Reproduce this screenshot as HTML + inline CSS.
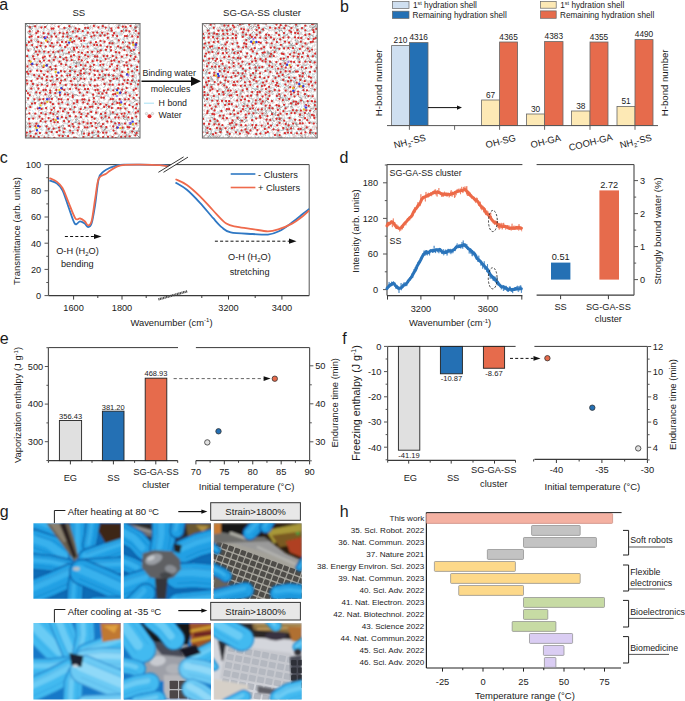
<!DOCTYPE html>
<html><head><meta charset="utf-8"><style>
html,body{margin:0;padding:0;background:#fff;width:685px;height:701px;overflow:hidden;}
svg{display:block;}
text{font-family:"Liberation Sans", sans-serif;}
</style></head><body>
<svg width="685" height="701" viewBox="0 0 685 701" font-family='"Liberation Sans", sans-serif'><defs>
<clipPath id="clipc"><rect x="48.5" y="162" width="261" height="134"/></clipPath>
</defs><defs>
<clipPath id="clipbox1"><rect x="25.4" y="23.5" width="114.6" height="114.5"/></clipPath>
<clipPath id="clipbox2"><rect x="202.4" y="23.6" width="114.79999999999998" height="114.4"/></clipPath>
<filter id="blur1" x="-5%" y="-5%" width="110%" height="110%"><feGaussianBlur stdDeviation="1.6"/></filter>
<filter id="blur2" x="-5%" y="-5%" width="110%" height="110%"><feGaussianBlur stdDeviation="0.8"/></filter>
</defs><text x="-0.80" y="10.00" font-size="16" text-anchor="start" fill="#1a1a1a" >a</text>
<text x="340.00" y="12.40" font-size="16" text-anchor="start" fill="#1a1a1a" >b</text>
<text x="-0.30" y="163.00" font-size="16" text-anchor="start" fill="#1a1a1a" >c</text>
<text x="339.60" y="163.00" font-size="16" text-anchor="start" fill="#1a1a1a" >d</text>
<text x="-0.30" y="343.60" font-size="16" text-anchor="start" fill="#1a1a1a" >e</text>
<text x="342.20" y="343.60" font-size="16" text-anchor="start" fill="#1a1a1a" >f</text>
<text x="-0.30" y="516.50" font-size="16" text-anchor="start" fill="#1a1a1a" >g</text>
<text x="339.80" y="517.00" font-size="16" text-anchor="start" fill="#1a1a1a" >h</text>
<rect x="392.40" y="1.60" width="16.60" height="6.80" fill="#cfdff0" stroke="#666" stroke-width="0.7" />
<rect x="392.40" y="11.20" width="16.60" height="7.20" fill="#2470b4" stroke="#666" stroke-width="0.7" />
<text x="413.00" y="8.00" font-size="8.2" text-anchor="start" fill="#1a1a1a" >1<tspan font-size="5.5" dy="-3">st</tspan><tspan dy="3"> hydration shell</tspan></text>
<text x="412.50" y="17.80" font-size="8.2" text-anchor="start" fill="#1a1a1a" >Remaining hydration shell</text>
<rect x="540.50" y="1.40" width="15.70" height="6.80" fill="#fde9b5" stroke="#666" stroke-width="0.7" />
<rect x="540.50" y="10.90" width="15.70" height="7.40" fill="#e66b4c" stroke="#666" stroke-width="0.7" />
<text x="560.30" y="8.00" font-size="8.2" text-anchor="start" fill="#1a1a1a" >1<tspan font-size="5.5" dy="-3">st</tspan><tspan dy="3"> hydration shell</tspan></text>
<text x="560.00" y="17.80" font-size="8.2" text-anchor="start" fill="#1a1a1a" >Remaining hydration shell</text>
<rect x="391.60" y="45.60" width="17.80" height="80.00" fill="#cfdff0" stroke="#666" stroke-width="0.8" />
<text x="400.50" y="43.40" font-size="8.3" text-anchor="middle" fill="#1a1a1a" >210</text>
<rect x="409.40" y="42.60" width="18.60" height="83.00" fill="#2470b4" stroke="#666" stroke-width="0.8" />
<text x="418.70" y="40.40" font-size="8.3" text-anchor="middle" fill="#1a1a1a" >4316</text>
<rect x="481.60" y="100.00" width="18.00" height="25.60" fill="#fde9b5" stroke="#666" stroke-width="0.8" />
<text x="490.60" y="97.80" font-size="8.3" text-anchor="middle" fill="#1a1a1a" >67</text>
<rect x="499.60" y="42.00" width="18.00" height="83.60" fill="#e66b4c" stroke="#666" stroke-width="0.8" />
<text x="508.60" y="39.80" font-size="8.3" text-anchor="middle" fill="#1a1a1a" >4365</text>
<rect x="526.60" y="114.00" width="18.00" height="11.60" fill="#fde9b5" stroke="#666" stroke-width="0.8" />
<text x="535.60" y="111.80" font-size="8.3" text-anchor="middle" fill="#1a1a1a" >30</text>
<rect x="544.60" y="41.60" width="18.40" height="84.00" fill="#e66b4c" stroke="#666" stroke-width="0.8" />
<text x="553.80" y="39.40" font-size="8.3" text-anchor="middle" fill="#1a1a1a" >4383</text>
<rect x="571.60" y="111.00" width="18.40" height="14.60" fill="#fde9b5" stroke="#666" stroke-width="0.8" />
<text x="580.80" y="108.80" font-size="8.3" text-anchor="middle" fill="#1a1a1a" >38</text>
<rect x="590.00" y="42.00" width="18.00" height="83.60" fill="#e66b4c" stroke="#666" stroke-width="0.8" />
<text x="599.00" y="39.80" font-size="8.3" text-anchor="middle" fill="#1a1a1a" >4355</text>
<rect x="617.00" y="106.40" width="18.00" height="19.20" fill="#fde9b5" stroke="#666" stroke-width="0.8" />
<text x="626.00" y="104.20" font-size="8.3" text-anchor="middle" fill="#1a1a1a" >51</text>
<rect x="635.00" y="39.60" width="18.00" height="86.00" fill="#e66b4c" stroke="#666" stroke-width="0.8" />
<text x="644.00" y="37.40" font-size="8.3" text-anchor="middle" fill="#1a1a1a" >4490</text>
<line x1="387.00" y1="125.60" x2="658.00" y2="125.60" stroke="#555" stroke-width="1" />
<line x1="409.40" y1="125.60" x2="409.40" y2="129.80" stroke="#555" stroke-width="0.9" />
<line x1="454.60" y1="125.60" x2="454.60" y2="129.80" stroke="#555" stroke-width="0.9" />
<line x1="499.60" y1="125.60" x2="499.60" y2="129.80" stroke="#555" stroke-width="0.9" />
<line x1="544.60" y1="125.60" x2="544.60" y2="129.80" stroke="#555" stroke-width="0.9" />
<line x1="590.00" y1="125.60" x2="590.00" y2="129.80" stroke="#555" stroke-width="0.9" />
<line x1="635.00" y1="125.60" x2="635.00" y2="129.80" stroke="#555" stroke-width="0.9" />
<line x1="428.00" y1="107.60" x2="458.00" y2="107.60" stroke="#111" stroke-width="1" />
<polygon points="462.00,107.60 457.00,105.40 457.00,109.80" fill="#111"/>
<text x="382.30" y="82.80" font-size="9.6" text-anchor="middle" fill="#1a1a1a" transform="rotate(-90 382.3 82.8)" >H-bond number</text>
<text x="668.50" y="82.80" font-size="9.6" text-anchor="middle" fill="#1a1a1a" transform="rotate(-90 668.5 82.8)" >H-bond number</text>
<text x="410.50" y="144.50" font-size="9.4" text-anchor="middle" fill="#1a1a1a" transform="rotate(-14.5 410.50 144.50)">NH<tspan font-size="6" dy="2.5">2</tspan><tspan dy="-2.5">-SS</tspan></text>
<text x="501.50" y="144.50" font-size="9.4" text-anchor="middle" fill="#1a1a1a" transform="rotate(-14.5 501.50 144.50)">OH-SG</text>
<text x="546.50" y="144.50" font-size="9.4" text-anchor="middle" fill="#1a1a1a" transform="rotate(-14.5 546.50 144.50)">OH-GA</text>
<text x="591.50" y="145.50" font-size="9.4" text-anchor="middle" fill="#1a1a1a" transform="rotate(-14.5 591.50 145.50)">COOH-GA</text>
<text x="636.50" y="144.50" font-size="9.4" text-anchor="middle" fill="#1a1a1a" transform="rotate(-14.5 636.50 144.50)">NH<tspan font-size="6" dy="2.5">2</tspan><tspan dy="-2.5">-SS</tspan></text>
<line x1="48.50" y1="164.60" x2="309.20" y2="164.60" stroke="#3a3a3a" stroke-width="1" />
<line x1="48.50" y1="164.60" x2="48.50" y2="295.60" stroke="#555" stroke-width="1.2" />
<line x1="48.50" y1="295.60" x2="309.20" y2="295.60" stroke="#3a3a3a" stroke-width="1.2" />
<line x1="309.20" y1="164.60" x2="309.20" y2="295.60" stroke="#555" stroke-width="1" />
<line x1="44.50" y1="295.60" x2="48.50" y2="295.60" stroke="#555" stroke-width="1" />
<text x="41.20" y="298.90" font-size="9.2" text-anchor="end" fill="#1a1a1a" >0</text>
<line x1="46.30" y1="282.50" x2="48.50" y2="282.50" stroke="#555" stroke-width="1" />
<line x1="44.50" y1="269.40" x2="48.50" y2="269.40" stroke="#555" stroke-width="1" />
<text x="41.20" y="272.70" font-size="9.2" text-anchor="end" fill="#1a1a1a" >20</text>
<line x1="46.30" y1="256.30" x2="48.50" y2="256.30" stroke="#555" stroke-width="1" />
<line x1="44.50" y1="243.20" x2="48.50" y2="243.20" stroke="#555" stroke-width="1" />
<text x="41.20" y="246.50" font-size="9.2" text-anchor="end" fill="#1a1a1a" >40</text>
<line x1="46.30" y1="230.10" x2="48.50" y2="230.10" stroke="#555" stroke-width="1" />
<line x1="44.50" y1="217.00" x2="48.50" y2="217.00" stroke="#555" stroke-width="1" />
<text x="41.20" y="220.30" font-size="9.2" text-anchor="end" fill="#1a1a1a" >60</text>
<line x1="46.30" y1="203.90" x2="48.50" y2="203.90" stroke="#555" stroke-width="1" />
<line x1="44.50" y1="190.80" x2="48.50" y2="190.80" stroke="#555" stroke-width="1" />
<text x="41.20" y="194.10" font-size="9.2" text-anchor="end" fill="#1a1a1a" >80</text>
<line x1="46.30" y1="177.70" x2="48.50" y2="177.70" stroke="#555" stroke-width="1" />
<line x1="44.50" y1="164.60" x2="48.50" y2="164.60" stroke="#555" stroke-width="1" />
<text x="41.20" y="167.90" font-size="9.2" text-anchor="end" fill="#1a1a1a" >100</text>
<line x1="73.60" y1="295.60" x2="73.60" y2="299.60" stroke="#3a3a3a" stroke-width="1" />
<text x="73.60" y="310.80" font-size="9.2" text-anchor="middle" fill="#1a1a1a" >1600</text>
<line x1="122.00" y1="295.60" x2="122.00" y2="299.60" stroke="#3a3a3a" stroke-width="1" />
<text x="122.00" y="310.80" font-size="9.2" text-anchor="middle" fill="#1a1a1a" >1800</text>
<line x1="228.50" y1="295.60" x2="228.50" y2="299.60" stroke="#3a3a3a" stroke-width="1" />
<text x="228.50" y="310.80" font-size="9.2" text-anchor="middle" fill="#1a1a1a" >3200</text>
<line x1="281.90" y1="295.60" x2="281.90" y2="299.60" stroke="#3a3a3a" stroke-width="1" />
<text x="281.90" y="310.80" font-size="9.2" text-anchor="middle" fill="#1a1a1a" >3400</text>
<line x1="97.80" y1="295.60" x2="97.80" y2="298.00" stroke="#3a3a3a" stroke-width="1" />
<line x1="146.20" y1="295.60" x2="146.20" y2="298.00" stroke="#3a3a3a" stroke-width="1" />
<line x1="201.80" y1="295.60" x2="201.80" y2="298.00" stroke="#3a3a3a" stroke-width="1" />
<line x1="255.20" y1="295.60" x2="255.20" y2="298.00" stroke="#3a3a3a" stroke-width="1" />
<text x="19.90" y="231.00" font-size="9.5" text-anchor="middle" fill="#1a1a1a" transform="rotate(-90 19.9 231.0)" >Transmittance (arb. units)</text>
<text x="171.50" y="325.60" font-size="9.4" text-anchor="middle" fill="#1a1a1a" >Wavenumber (cm<tspan font-size="6" dy="-3.2">-1</tspan><tspan dy="3.2">)</tspan></text>
<g clip-path="url(#clipc)">
<path d="M49.40,180.40 C50.62,180.90 54.52,181.73 56.70,183.40 C58.88,185.07 60.55,186.52 62.50,190.40 C64.45,194.28 66.35,201.17 68.40,206.70 C70.45,212.23 72.87,221.17 74.80,223.60 C76.73,226.03 78.35,221.30 80.00,221.30 C81.65,221.30 83.33,222.62 84.70,223.60 C86.07,224.58 87.03,227.28 88.20,227.20 C89.37,227.12 90.53,226.90 91.70,223.10 C92.87,219.30 94.03,211.80 95.20,204.40 C96.37,197.00 97.33,184.15 98.70,178.70 C100.07,173.25 101.45,173.55 103.40,171.70 C105.35,169.85 108.07,168.67 110.40,167.60 C112.73,166.53 114.97,165.78 117.40,165.30 C119.83,164.82 121.23,164.82 125.00,164.70 C128.77,164.58 134.17,164.55 140.00,164.60 C145.83,164.65 154.83,164.77 160.00,165.00 C165.17,165.23 169.17,165.83 171.00,166.00" stroke="#2f78c4" stroke-width="1.8" fill="none" stroke-linejoin="round"/>
<path d="M175.50,182.50 C177.40,183.70 182.82,186.32 186.90,189.70 C190.98,193.08 195.62,198.05 200.00,202.80 C204.38,207.55 209.55,214.10 213.20,218.20 C216.85,222.30 218.98,225.03 221.90,227.40 C224.82,229.77 225.58,231.30 230.70,232.40 C235.82,233.50 246.40,233.63 252.60,234.00 C258.80,234.37 263.52,235.05 267.90,234.60 C272.28,234.15 274.88,233.30 278.90,231.30 C282.92,229.30 287.98,225.52 292.00,222.60 C296.02,219.68 300.13,216.07 303.00,213.80 C305.87,211.53 308.17,209.80 309.20,209.00" stroke="#2f78c4" stroke-width="1.8" fill="none" stroke-linejoin="round"/>
<path d="M49.40,178.10 C50.62,178.68 54.52,179.95 56.70,181.60 C58.88,183.25 60.55,184.60 62.50,188.00 C64.45,191.40 66.25,196.93 68.40,202.00 C70.55,207.07 73.47,215.67 75.40,218.40 C77.33,221.13 78.45,217.92 80.00,218.40 C81.55,218.88 83.33,220.13 84.70,221.30 C86.07,222.47 87.03,225.50 88.20,225.40 C89.37,225.30 90.53,225.18 91.70,220.70 C92.87,216.22 94.03,205.50 95.20,198.50 C96.37,191.50 96.95,182.78 98.70,178.70 C100.45,174.62 103.75,175.37 105.70,174.00 C107.65,172.63 108.45,171.77 110.40,170.50 C112.35,169.23 114.97,167.33 117.40,166.40 C119.83,165.47 121.23,165.20 125.00,164.90 C128.77,164.60 134.17,164.55 140.00,164.60 C145.83,164.65 154.83,164.80 160.00,165.20 C165.17,165.60 169.17,166.70 171.00,167.00" stroke="#ef6a4c" stroke-width="1.8" fill="none" stroke-linejoin="round"/>
<path d="M175.50,179.20 C177.40,180.15 182.82,182.05 186.90,184.90 C190.98,187.75 195.62,192.03 200.00,196.30 C204.38,200.57 208.82,205.95 213.20,210.50 C217.58,215.05 222.28,220.87 226.30,223.60 C230.32,226.33 232.92,225.98 237.30,226.90 C241.68,227.82 247.50,228.37 252.60,229.10 C257.70,229.83 263.52,231.30 267.90,231.30 C272.28,231.30 274.88,230.38 278.90,229.10 C282.92,227.82 287.98,225.78 292.00,223.60 C296.02,221.42 300.13,218.18 303.00,216.00 C305.87,213.82 308.17,211.42 309.20,210.50" stroke="#ef6a4c" stroke-width="1.8" fill="none" stroke-linejoin="round"/>
</g>
<polygon points="158.4,172.3 183.6,156.9 188,157.1 163.5,172.3" fill="#fff"/>
<line x1="158.40" y1="172.30" x2="183.60" y2="156.90" stroke="#222" stroke-width="0.9" />
<line x1="163.50" y1="172.30" x2="188.00" y2="157.10" stroke="#222" stroke-width="0.9" />
<line x1="158.40" y1="299.40" x2="187.60" y2="291.20" stroke="#444" stroke-width="2.3" stroke-dasharray="1.1 0.5"/>
<line x1="230.70" y1="174.00" x2="255.40" y2="174.00" stroke="#2f78c4" stroke-width="1.6" />
<line x1="230.70" y1="187.50" x2="255.40" y2="187.50" stroke="#ef6a4c" stroke-width="1.6" />
<text x="258.00" y="177.90" font-size="9.3" text-anchor="start" fill="#1a1a1a" >- Clusters</text>
<text x="258.00" y="191.40" font-size="9.3" text-anchor="start" fill="#1a1a1a" >+ Clusters</text>
<line x1="64.90" y1="236.50" x2="94.00" y2="236.50" stroke="#111" stroke-width="1" stroke-dasharray="3 2.2"/>
<polygon points="101.50,236.50 94.00,233.90 94.00,239.10" fill="#111"/>
<line x1="214.90" y1="241.20" x2="289.00" y2="241.20" stroke="#111" stroke-width="1" stroke-dasharray="3 2.2"/>
<polygon points="296.50,241.20 289.00,238.60 289.00,243.80" fill="#111"/>
<text x="77.50" y="254.00" font-size="9.2" text-anchor="middle" fill="#1a1a1a" >O-H (H<tspan font-size="6" dy="2.2">2</tspan><tspan dy="-2.2">O)</tspan></text>
<text x="77.30" y="267.00" font-size="9.2" text-anchor="middle" fill="#1a1a1a" >bending</text>
<text x="249.40" y="259.70" font-size="9.2" text-anchor="middle" fill="#1a1a1a" >O-H (H<tspan font-size="6" dy="2.2">2</tspan><tspan dy="-2.2">O)</tspan></text>
<text x="249.60" y="275.00" font-size="9.2" text-anchor="middle" fill="#1a1a1a" >stretching</text>
<line x1="387.00" y1="164.60" x2="522.40" y2="164.60" stroke="#3a3a3a" stroke-width="1" />
<line x1="387.00" y1="164.60" x2="387.00" y2="295.60" stroke="#555" stroke-width="1.2" />
<line x1="387.00" y1="295.60" x2="522.40" y2="295.60" stroke="#3a3a3a" stroke-width="1.2" />
<line x1="383.00" y1="289.60" x2="387.00" y2="289.60" stroke="#555" stroke-width="1" />
<text x="378.00" y="292.90" font-size="9.2" text-anchor="end" fill="#1a1a1a" >0</text>
<line x1="384.80" y1="271.80" x2="387.00" y2="271.80" stroke="#555" stroke-width="1" />
<line x1="383.00" y1="254.00" x2="387.00" y2="254.00" stroke="#555" stroke-width="1" />
<text x="378.00" y="257.30" font-size="9.2" text-anchor="end" fill="#1a1a1a" >60</text>
<line x1="384.80" y1="236.20" x2="387.00" y2="236.20" stroke="#555" stroke-width="1" />
<line x1="383.00" y1="218.40" x2="387.00" y2="218.40" stroke="#555" stroke-width="1" />
<text x="378.00" y="221.70" font-size="9.2" text-anchor="end" fill="#1a1a1a" >120</text>
<line x1="384.80" y1="200.61" x2="387.00" y2="200.61" stroke="#555" stroke-width="1" />
<line x1="383.00" y1="182.81" x2="387.00" y2="182.81" stroke="#555" stroke-width="1" />
<text x="378.00" y="186.11" font-size="9.2" text-anchor="end" fill="#1a1a1a" >180</text>
<line x1="384.80" y1="165.01" x2="387.00" y2="165.01" stroke="#555" stroke-width="1" />
<line x1="387.50" y1="295.60" x2="387.50" y2="299.60" stroke="#3a3a3a" stroke-width="1" />
<line x1="420.90" y1="295.60" x2="420.90" y2="299.60" stroke="#3a3a3a" stroke-width="1" />
<line x1="454.30" y1="295.60" x2="454.30" y2="299.60" stroke="#3a3a3a" stroke-width="1" />
<line x1="487.90" y1="295.60" x2="487.90" y2="299.60" stroke="#3a3a3a" stroke-width="1" />
<line x1="521.80" y1="295.60" x2="521.80" y2="299.60" stroke="#3a3a3a" stroke-width="1" />
<text x="420.90" y="311.50" font-size="9.2" text-anchor="middle" fill="#1a1a1a" >3200</text>
<text x="487.90" y="311.50" font-size="9.2" text-anchor="middle" fill="#1a1a1a" >3600</text>
<text x="450.10" y="326.30" font-size="9.4" text-anchor="middle" fill="#1a1a1a" >Wavenumber (cm<tspan font-size="6" dy="-3.2">-1</tspan><tspan dy="3.2">)</tspan></text>
<text x="359.00" y="231.00" font-size="9.5" text-anchor="middle" fill="#1a1a1a" transform="rotate(-90 359.0 231.0)" >Intensity (arb. units)</text>
<text x="389.60" y="175.60" font-size="8.9" text-anchor="start" fill="#1a1a1a" >SG-GA-SS cluster</text>
<text x="389.60" y="244.40" font-size="8.9" text-anchor="start" fill="#1a1a1a" >SS</text>
<path d="M387.00,225.75 L388.20,223.27 L389.40,223.38 L390.60,222.69 L391.80,221.68 L393.00,222.52 L394.20,224.15 L395.40,225.85 L396.60,227.46 L397.80,227.65 L399.00,228.17 L400.20,228.37 L401.40,227.46 L402.60,225.87 L403.80,224.37 L405.00,222.85 L406.20,221.86 L407.40,220.37 L408.60,219.15 L409.80,217.52 L411.00,216.88 L412.20,214.94 L413.40,212.33 L414.60,210.10 L415.80,208.84 L417.00,207.36 L418.20,205.09 L419.40,204.22 L420.60,201.86 L421.80,199.22 L423.00,197.81 L424.20,197.10 L425.40,196.56 L426.60,195.93 L427.80,195.21 L429.00,194.92 L430.20,194.34 L431.40,193.75 L432.60,193.19 L433.80,192.21 L435.00,192.40 L436.20,192.26 L437.40,192.04 L438.60,192.51 L439.80,192.79 L441.00,193.64 L442.20,193.77 L443.40,194.34 L444.60,194.01 L445.80,194.25 L447.00,195.02 L448.20,194.10 L449.40,194.38 L450.60,194.38 L451.80,193.97 L453.00,193.40 L454.20,193.35 L455.40,192.10 L456.60,191.75 L457.80,191.40 L459.00,191.14 L460.20,190.88 L461.40,190.50 L462.60,190.47 L463.80,189.92 L465.00,189.52 L466.20,190.62 L467.40,192.03 L468.60,193.32 L469.80,194.79 L471.00,195.75 L472.20,197.17 L473.40,197.79 L474.60,199.34 L475.80,200.24 L477.00,200.79 L478.20,202.09 L479.40,204.24 L480.60,205.75 L481.80,207.12 L483.00,208.02 L484.20,209.20 L485.40,211.85 L486.60,213.86 L487.80,214.00 L489.00,215.64 L490.20,217.41 L491.40,219.07 L492.60,220.69 L493.80,221.72 L495.00,222.57 L496.20,222.96 L497.40,224.05 L498.60,224.96 L499.80,225.93 L501.00,225.98 L502.20,226.64 L503.40,226.51 L504.60,226.28 L505.80,226.67 L507.00,227.20 L508.20,227.97 L509.40,228.49 L510.60,228.33 L511.80,228.04 L513.00,228.07 L514.20,228.27 L515.40,228.32 L516.60,227.52 L517.80,227.88 L519.00,227.55 L520.20,227.77 L521.40,228.19" stroke="#ec6a48" stroke-width="3.0" fill="none" stroke-linejoin="round" stroke-linecap="round"/>
<path d="M387.00,225.69 L387.30,227.21 L387.60,223.32 L387.90,222.93 L388.20,222.28 L388.50,225.59 L388.80,225.53 L389.10,226.02 L389.40,223.32 L389.70,222.86 L390.00,224.80 L390.30,222.07 L390.60,224.27 L390.90,223.37 L391.20,220.37 L391.50,221.60 L391.80,221.45 L392.10,225.06 L392.40,227.16 L392.70,222.32 L393.00,222.55 L393.30,218.44 L393.60,223.41 L393.90,223.74 L394.20,222.11 L394.50,225.85 L394.80,221.99 L395.10,224.99 L395.40,226.11 L395.70,223.97 L396.00,228.15 L396.30,228.96 L396.60,224.82 L396.90,224.44 L397.20,228.87 L397.50,227.81 L397.80,225.35 L398.10,227.20 L398.40,227.77 L398.70,227.58 L399.00,229.74 L399.30,228.70 L399.60,231.41 L399.90,231.07 L400.20,229.66 L400.50,230.12 L400.80,230.59 L401.10,229.26 L401.40,225.13 L401.70,228.89 L402.00,226.95 L402.30,229.42 L402.60,226.05 L402.90,226.41 L403.20,225.34 L403.50,227.88 L403.80,224.71 L404.10,223.17 L404.40,224.01 L404.70,222.24 L405.00,223.15 L405.30,222.59 L405.60,222.52 L405.90,225.37 L406.20,221.09 L406.50,221.21 L406.80,220.51 L407.10,221.75 L407.40,218.12 L407.70,219.14 L408.00,219.71 L408.30,220.34 L408.60,219.06 L408.90,218.18 L409.20,217.08 L409.50,219.40 L409.80,220.26 L410.10,218.28 L410.40,217.73 L410.70,218.16 L411.00,215.09 L411.30,215.95 L411.60,215.57 L411.90,216.37 L412.20,214.88 L412.50,212.28 L412.80,215.87 L413.10,216.17 L413.40,211.83 L413.70,212.74 L414.00,212.22 L414.30,212.63 L414.60,207.29 L414.90,212.92 L415.20,208.77 L415.50,211.74 L415.80,208.99 L416.10,207.44 L416.40,207.68 L416.70,209.42 L417.00,205.72 L417.30,205.82 L417.60,205.03 L417.90,202.15 L418.20,207.56 L418.50,205.71 L418.80,204.58 L419.10,206.49 L419.40,202.41 L419.70,203.26 L420.00,206.18 L420.30,204.12 L420.60,197.63 L420.90,194.24 L421.20,198.10 L421.50,201.56 L421.80,198.32 L422.10,198.24 L422.40,199.33 L422.70,196.00 L423.00,198.21 L423.30,199.12 L423.60,197.97 L423.90,197.90 L424.20,195.95 L424.50,198.29 L424.80,196.44 L425.10,199.70 L425.40,201.44 L425.70,195.05 L426.00,191.96 L426.30,195.41 L426.60,196.64 L426.90,197.64 L427.20,197.28 L427.50,193.91 L427.80,193.70 L428.10,197.50 L428.40,192.74 L428.70,197.09 L429.00,194.49 L429.30,196.26 L429.60,195.75 L429.90,195.67 L430.20,195.90 L430.50,192.41 L430.80,194.32 L431.10,193.77 L431.40,194.33 L431.70,196.20 L432.00,193.20 L432.30,192.07 L432.60,191.80 L432.90,192.34 L433.20,194.11 L433.50,190.86 L433.80,194.41 L434.10,193.06 L434.40,191.97 L434.70,189.71 L435.00,192.86 L435.30,193.79 L435.60,189.44 L435.90,194.64 L436.20,195.39 L436.50,192.78 L436.80,193.02 L437.10,196.60 L437.40,194.38 L437.70,190.19 L438.00,192.25 L438.30,192.13 L438.60,192.22 L438.90,188.04 L439.20,194.06 L439.50,191.25 L439.80,193.10 L440.10,192.83 L440.40,194.99 L440.70,192.97 L441.00,192.13 L441.30,194.69 L441.60,196.72 L441.90,193.12 L442.20,196.37 L442.50,194.04 L442.80,192.97 L443.10,196.96 L443.40,192.78 L443.70,196.14 L444.00,193.30 L444.30,194.99 L444.60,191.66 L444.90,192.22 L445.20,196.16 L445.50,194.37 L445.80,194.32 L446.10,193.86 L446.40,195.71 L446.70,192.44 L447.00,192.90 L447.30,194.27 L447.60,193.09 L447.90,192.93 L448.20,193.96 L448.50,193.79 L448.80,193.79 L449.10,197.41 L449.40,196.30 L449.70,196.65 L450.00,194.46 L450.30,193.41 L450.60,191.62 L450.90,193.50 L451.20,190.17 L451.50,192.99 L451.80,195.42 L452.10,196.72 L452.40,195.41 L452.70,191.65 L453.00,194.34 L453.30,192.05 L453.60,194.79 L453.90,192.94 L454.20,194.98 L454.50,197.93 L454.80,194.94 L455.10,197.20 L455.40,192.44 L455.70,191.61 L456.00,194.57 L456.30,195.20 L456.60,190.69 L456.90,191.76 L457.20,188.94 L457.50,191.24 L457.80,193.09 L458.10,191.10 L458.40,189.92 L458.70,188.69 L459.00,191.84 L459.30,192.21 L459.60,191.76 L459.90,191.08 L460.20,188.46 L460.50,194.19 L460.80,190.35 L461.10,190.14 L461.40,191.89 L461.70,186.84 L462.00,190.67 L462.30,190.21 L462.60,191.17 L462.90,193.05 L463.20,191.04 L463.50,186.91 L463.80,189.28 L464.10,190.35 L464.40,189.92 L464.70,187.06 L465.00,186.36 L465.30,191.02 L465.60,190.57 L465.90,190.26 L466.20,187.34 L466.50,194.38 L466.80,186.04 L467.10,191.17 L467.40,196.00 L467.70,192.08 L468.00,193.19 L468.30,190.79 L468.60,195.90 L468.90,191.20 L469.20,194.73 L469.50,194.83 L469.80,192.79 L470.10,196.57 L470.40,192.71 L470.70,194.18 L471.00,195.69 L471.30,195.16 L471.60,197.05 L471.90,198.50 L472.20,196.61 L472.50,196.14 L472.80,196.83 L473.10,197.10 L473.40,199.33 L473.70,198.13 L474.00,199.21 L474.30,198.78 L474.60,197.73 L474.90,201.41 L475.20,198.37 L475.50,200.37 L475.80,203.07 L476.10,198.65 L476.40,200.41 L476.70,197.59 L477.00,199.82 L477.30,198.13 L477.60,200.68 L477.90,200.64 L478.20,202.34 L478.50,205.54 L478.80,203.79 L479.10,205.03 L479.40,204.14 L479.70,204.22 L480.00,203.35 L480.30,201.73 L480.60,205.88 L480.90,209.10 L481.20,207.12 L481.50,205.49 L481.80,210.26 L482.10,206.82 L482.40,206.78 L482.70,205.66 L483.00,206.19 L483.30,207.75 L483.60,212.27 L483.90,208.24 L484.20,207.24 L484.50,208.46 L484.80,210.28 L485.10,208.25 L485.40,212.09 L485.70,213.88 L486.00,213.76 L486.30,214.43 L486.60,211.41 L486.90,210.37 L487.20,215.72 L487.50,215.96 L487.80,211.08 L488.10,214.95 L488.40,214.97 L488.70,215.92 L489.00,216.03 L489.30,215.38 L489.60,216.95 L489.90,217.59 L490.20,217.32 L490.50,214.34 L490.80,212.75 L491.10,217.17 L491.40,215.96 L491.70,219.97 L492.00,221.05 L492.30,220.91 L492.60,219.99 L492.90,220.97 L493.20,223.34 L493.50,220.10 L493.80,223.47 L494.10,223.26 L494.40,222.48 L494.70,224.94 L495.00,221.21 L495.30,224.04 L495.60,220.64 L495.90,221.40 L496.20,220.95 L496.50,223.73 L496.80,221.24 L497.10,223.47 L497.40,221.89 L497.70,226.23 L498.00,227.72 L498.30,224.99 L498.60,228.09 L498.90,226.26 L499.20,229.63 L499.50,225.84 L499.80,222.94 L500.10,228.62 L500.40,225.53 L500.70,223.89 L501.00,224.74 L501.30,222.85 L501.60,225.71 L501.90,224.31 L502.20,229.46 L502.50,228.00 L502.80,223.17 L503.10,223.62 L503.40,225.43 L503.70,222.84 L504.00,226.22 L504.30,226.19 L504.60,224.82 L504.90,225.48 L505.20,227.71 L505.50,229.42 L505.80,229.51 L506.10,226.48 L506.40,228.16 L506.70,225.50 L507.00,227.98 L507.30,225.07 L507.60,228.55 L507.90,225.18 L508.20,226.14 L508.50,228.16 L508.80,229.22 L509.10,225.47 L509.40,227.47 L509.70,228.40 L510.00,228.62 L510.30,226.49 L510.60,228.51 L510.90,227.30 L511.20,230.53 L511.50,228.99 L511.80,225.52 L512.10,223.70 L512.40,228.19 L512.70,230.03 L513.00,228.40 L513.30,229.63 L513.60,227.07 L513.90,225.71 L514.20,229.69 L514.50,228.37 L514.80,229.45 L515.10,225.82 L515.40,228.66 L515.70,226.76 L516.00,229.31 L516.30,226.50 L516.60,226.36 L516.90,226.41 L517.20,229.86 L517.50,227.54 L517.80,226.44 L518.10,225.64 L518.40,225.91 L518.70,230.54 L519.00,224.10 L519.30,225.99 L519.60,228.97 L519.90,229.75 L520.20,227.48 L520.50,229.27 L520.80,229.51 L521.10,230.17 L521.40,228.28 L521.70,231.41" stroke="#ec6a48" stroke-width="0.6" fill="none" stroke-linejoin="round"/>
<path d="M387.00,288.46 L388.20,286.94 L389.40,285.87 L390.60,284.71 L391.80,284.30 L393.00,283.23 L394.20,283.76 L395.40,285.64 L396.60,286.58 L397.80,287.63 L399.00,288.29 L400.20,287.98 L401.40,287.57 L402.60,286.52 L403.80,285.19 L405.00,284.79 L406.20,283.77 L407.40,282.35 L408.60,280.48 L409.80,279.19 L411.00,277.60 L412.20,275.77 L413.40,273.55 L414.60,271.57 L415.80,269.54 L417.00,266.32 L418.20,264.25 L419.40,262.19 L420.60,260.00 L421.80,257.45 L423.00,255.23 L424.20,253.73 L425.40,252.56 L426.60,251.86 L427.80,252.67 L429.00,252.26 L430.20,250.88 L431.40,250.61 L432.60,250.81 L433.80,250.53 L435.00,250.63 L436.20,249.65 L437.40,249.75 L438.60,249.99 L439.80,249.37 L441.00,250.51 L442.20,252.09 L443.40,252.16 L444.60,252.39 L445.80,252.47 L447.00,251.83 L448.20,250.72 L449.40,250.68 L450.60,251.22 L451.80,250.91 L453.00,250.12 L454.20,249.68 L455.40,248.09 L456.60,246.89 L457.80,246.69 L459.00,246.43 L460.20,246.41 L461.40,245.60 L462.60,245.65 L463.80,244.66 L465.00,245.54 L466.20,246.49 L467.40,247.59 L468.60,248.94 L469.80,249.39 L471.00,250.60 L472.20,251.71 L473.40,253.16 L474.60,253.78 L475.80,256.12 L477.00,258.53 L478.20,259.33 L479.40,260.67 L480.60,261.51 L481.80,263.17 L483.00,264.59 L484.20,265.83 L485.40,267.49 L486.60,268.68 L487.80,269.81 L489.00,272.14 L490.20,274.39 L491.40,275.91 L492.60,277.00 L493.80,278.58 L495.00,279.70 L496.20,281.18 L497.40,282.04 L498.60,284.30 L499.80,285.13 L501.00,286.49 L502.20,287.04 L503.40,286.52 L504.60,287.67 L505.80,288.06 L507.00,289.17 L508.20,290.08 L509.40,289.01 L510.60,289.32 L511.80,289.48 L513.00,289.57 L514.20,289.46 L515.40,288.58 L516.60,288.67 L517.80,288.93 L519.00,288.83 L520.20,288.67 L521.40,288.75" stroke="#2a74bb" stroke-width="3.0" fill="none" stroke-linejoin="round" stroke-linecap="round"/>
<path d="M387.00,288.75 L387.30,286.67 L387.60,287.17 L387.90,288.16 L388.20,287.49 L388.50,284.50 L388.80,285.55 L389.10,281.95 L389.40,287.39 L389.70,284.61 L390.00,285.70 L390.30,283.14 L390.60,284.54 L390.90,285.50 L391.20,286.28 L391.50,281.70 L391.80,285.88 L392.10,283.70 L392.40,282.41 L392.70,284.66 L393.00,282.64 L393.30,282.30 L393.60,281.39 L393.90,283.71 L394.20,283.80 L394.50,283.53 L394.80,282.50 L395.10,284.32 L395.40,286.37 L395.70,288.42 L396.00,285.89 L396.30,288.85 L396.60,286.52 L396.90,284.85 L397.20,288.39 L397.50,285.89 L397.80,288.36 L398.10,290.12 L398.40,287.55 L398.70,288.20 L399.00,292.94 L399.30,288.58 L399.60,288.41 L399.90,289.72 L400.20,287.75 L400.50,287.83 L400.80,288.28 L401.10,283.04 L401.40,290.22 L401.70,285.45 L402.00,285.18 L402.30,287.86 L402.60,286.53 L402.90,283.84 L403.20,286.14 L403.50,283.45 L403.80,283.84 L404.10,282.11 L404.40,283.03 L404.70,285.31 L405.00,284.99 L405.30,285.22 L405.60,285.89 L405.90,283.69 L406.20,282.48 L406.50,283.16 L406.80,286.12 L407.10,282.63 L407.40,282.92 L407.70,281.77 L408.00,282.27 L408.30,281.86 L408.60,280.43 L408.90,280.06 L409.20,278.31 L409.50,277.62 L409.80,279.92 L410.10,280.13 L410.40,280.12 L410.70,278.06 L411.00,276.01 L411.30,278.52 L411.60,278.26 L411.90,273.59 L412.20,277.26 L412.50,276.38 L412.80,277.96 L413.10,272.02 L413.40,271.09 L413.70,274.07 L414.00,269.01 L414.30,270.58 L414.60,269.47 L414.90,269.29 L415.20,267.19 L415.50,269.76 L415.80,271.36 L416.10,269.07 L416.40,268.81 L416.70,266.51 L417.00,269.04 L417.30,266.18 L417.60,266.76 L417.90,261.84 L418.20,264.88 L418.50,261.32 L418.80,263.69 L419.10,262.79 L419.40,260.04 L419.70,261.73 L420.00,263.00 L420.30,261.51 L420.60,261.11 L420.90,257.69 L421.20,257.69 L421.50,256.20 L421.80,257.69 L422.10,259.19 L422.40,256.89 L422.70,255.53 L423.00,253.11 L423.30,255.36 L423.60,253.88 L423.90,250.66 L424.20,250.46 L424.50,252.95 L424.80,251.53 L425.10,255.68 L425.40,252.63 L425.70,250.23 L426.00,251.24 L426.30,255.14 L426.60,250.08 L426.90,253.36 L427.20,253.24 L427.50,255.33 L427.80,253.68 L428.10,251.74 L428.40,253.30 L428.70,252.40 L429.00,254.11 L429.30,251.81 L429.60,255.43 L429.90,251.15 L430.20,251.73 L430.50,249.33 L430.80,250.67 L431.10,250.54 L431.40,250.95 L431.70,252.04 L432.00,249.17 L432.30,248.93 L432.60,252.93 L432.90,250.06 L433.20,249.21 L433.50,252.42 L433.80,252.03 L434.10,245.81 L434.40,250.04 L434.70,252.14 L435.00,252.23 L435.30,249.39 L435.60,253.10 L435.90,248.49 L436.20,249.24 L436.50,249.44 L436.80,249.19 L437.10,251.04 L437.40,251.71 L437.70,250.01 L438.00,252.35 L438.30,248.51 L438.60,249.63 L438.90,253.25 L439.20,249.72 L439.50,251.43 L439.80,248.60 L440.10,249.16 L440.40,249.75 L440.70,250.73 L441.00,249.92 L441.30,251.30 L441.60,252.86 L441.90,254.04 L442.20,252.35 L442.50,253.44 L442.80,254.10 L443.10,250.38 L443.40,249.25 L443.70,255.31 L444.00,254.62 L444.30,252.29 L444.60,253.12 L444.90,250.48 L445.20,249.73 L445.50,253.18 L445.80,249.73 L446.10,254.05 L446.40,250.66 L446.70,252.46 L447.00,255.55 L447.30,255.00 L447.60,250.45 L447.90,252.78 L448.20,248.84 L448.50,249.90 L448.80,251.42 L449.10,253.28 L449.40,249.65 L449.70,252.02 L450.00,251.44 L450.30,248.82 L450.60,251.02 L450.90,254.18 L451.20,251.11 L451.50,252.33 L451.80,252.53 L452.10,248.96 L452.40,252.82 L452.70,253.13 L453.00,253.20 L453.30,252.55 L453.60,249.17 L453.90,248.88 L454.20,248.24 L454.50,247.72 L454.80,247.65 L455.10,250.64 L455.40,250.91 L455.70,246.48 L456.00,248.85 L456.30,244.95 L456.60,246.32 L456.90,244.73 L457.20,243.38 L457.50,246.67 L457.80,246.87 L458.10,245.86 L458.40,245.10 L458.70,244.44 L459.00,246.21 L459.30,245.42 L459.60,246.95 L459.90,243.99 L460.20,246.86 L460.50,247.50 L460.80,248.58 L461.10,248.01 L461.40,245.99 L461.70,244.56 L462.00,241.98 L462.30,245.29 L462.60,248.35 L462.90,248.76 L463.20,240.46 L463.50,243.69 L463.80,244.01 L464.10,243.26 L464.40,245.79 L464.70,245.50 L465.00,244.57 L465.30,245.96 L465.60,243.43 L465.90,244.77 L466.20,244.80 L466.50,248.42 L466.80,243.99 L467.10,247.01 L467.40,249.08 L467.70,248.08 L468.00,249.99 L468.30,247.33 L468.60,249.78 L468.90,250.80 L469.20,253.56 L469.50,250.92 L469.80,252.11 L470.10,249.92 L470.40,250.52 L470.70,253.57 L471.00,251.72 L471.30,253.49 L471.60,252.43 L471.90,255.41 L472.20,256.26 L472.50,250.54 L472.80,255.76 L473.10,253.63 L473.40,254.10 L473.70,253.03 L474.00,254.84 L474.30,251.44 L474.60,252.44 L474.90,252.82 L475.20,255.28 L475.50,257.00 L475.80,257.56 L476.10,257.61 L476.40,256.23 L476.70,254.72 L477.00,259.35 L477.30,258.97 L477.60,259.67 L477.90,261.92 L478.20,259.03 L478.50,259.55 L478.80,255.67 L479.10,261.41 L479.40,260.63 L479.70,259.70 L480.00,261.95 L480.30,259.67 L480.60,260.54 L480.90,265.66 L481.20,263.82 L481.50,264.68 L481.80,264.65 L482.10,264.97 L482.40,264.23 L482.70,268.73 L483.00,264.50 L483.30,266.17 L483.60,264.79 L483.90,264.76 L484.20,261.25 L484.50,262.47 L484.80,269.45 L485.10,269.76 L485.40,266.70 L485.70,267.57 L486.00,268.96 L486.30,266.18 L486.60,272.08 L486.90,267.07 L487.20,267.89 L487.50,264.08 L487.80,272.72 L488.10,270.83 L488.40,273.87 L488.70,269.68 L489.00,272.81 L489.30,272.83 L489.60,273.70 L489.90,277.67 L490.20,278.72 L490.50,277.88 L490.80,274.45 L491.10,277.25 L491.40,278.49 L491.70,277.22 L492.00,277.74 L492.30,277.46 L492.60,275.31 L492.90,277.92 L493.20,280.93 L493.50,276.61 L493.80,278.75 L494.10,280.28 L494.40,276.67 L494.70,279.09 L495.00,276.49 L495.30,279.01 L495.60,277.58 L495.90,279.21 L496.20,280.26 L496.50,280.60 L496.80,281.30 L497.10,277.31 L497.40,285.06 L497.70,282.22 L498.00,281.21 L498.30,282.57 L498.60,284.90 L498.90,282.46 L499.20,283.85 L499.50,284.21 L499.80,286.15 L500.10,283.76 L500.40,286.47 L500.70,286.66 L501.00,286.21 L501.30,289.42 L501.60,286.87 L501.90,284.87 L502.20,287.61 L502.50,287.05 L502.80,286.89 L503.10,287.12 L503.40,290.98 L503.70,287.59 L504.00,287.90 L504.30,286.75 L504.60,290.16 L504.90,287.80 L505.20,286.74 L505.50,285.88 L505.80,289.06 L506.10,289.71 L506.40,285.90 L506.70,287.76 L507.00,290.39 L507.30,291.33 L507.60,287.16 L507.90,289.14 L508.20,291.66 L508.50,288.59 L508.80,288.61 L509.10,288.39 L509.40,286.53 L509.70,289.28 L510.00,289.80 L510.30,286.63 L510.60,289.51 L510.90,291.43 L511.20,289.86 L511.50,291.57 L511.80,288.44 L512.10,291.97 L512.40,287.93 L512.70,293.11 L513.00,288.71 L513.30,288.37 L513.60,287.88 L513.90,288.90 L514.20,288.52 L514.50,287.77 L514.80,288.71 L515.10,290.50 L515.40,290.25 L515.70,287.76 L516.00,290.76 L516.30,286.80 L516.60,286.71 L516.90,286.37 L517.20,289.59 L517.50,285.75 L517.80,286.27 L518.10,291.44 L518.40,292.04 L518.70,291.42 L519.00,285.98 L519.30,288.69 L519.60,290.20 L519.90,288.78 L520.20,285.58 L520.50,288.06 L520.80,285.46 L521.10,286.22 L521.40,292.83 L521.70,289.96" stroke="#2a74bb" stroke-width="0.6" fill="none" stroke-linejoin="round"/>
<ellipse cx="492.9" cy="221" rx="4.4" ry="10.6" fill="none" stroke="#111" stroke-width="0.8" stroke-dasharray="2.2 1.6"/>
<ellipse cx="492.7" cy="278.3" rx="4.4" ry="10.6" fill="none" stroke="#111" stroke-width="0.8" stroke-dasharray="2.2 1.6"/>
<line x1="536.60" y1="164.60" x2="634.00" y2="164.60" stroke="#3a3a3a" stroke-width="1" />
<line x1="536.60" y1="295.20" x2="634.00" y2="295.20" stroke="#3a3a3a" stroke-width="1.2" />
<line x1="634.00" y1="164.60" x2="634.00" y2="295.20" stroke="#555" stroke-width="1.2" />
<line x1="634.00" y1="279.60" x2="638.00" y2="279.60" stroke="#555" stroke-width="1" />
<text x="640.00" y="282.90" font-size="9.2" text-anchor="start" fill="#1a1a1a" >0</text>
<line x1="634.00" y1="263.10" x2="636.20" y2="263.10" stroke="#555" stroke-width="1" />
<line x1="634.00" y1="246.60" x2="638.00" y2="246.60" stroke="#555" stroke-width="1" />
<text x="640.00" y="249.90" font-size="9.2" text-anchor="start" fill="#1a1a1a" >1</text>
<line x1="634.00" y1="230.10" x2="636.20" y2="230.10" stroke="#555" stroke-width="1" />
<line x1="634.00" y1="213.60" x2="638.00" y2="213.60" stroke="#555" stroke-width="1" />
<text x="640.00" y="216.90" font-size="9.2" text-anchor="start" fill="#1a1a1a" >2</text>
<line x1="634.00" y1="197.10" x2="636.20" y2="197.10" stroke="#555" stroke-width="1" />
<line x1="634.00" y1="180.60" x2="638.00" y2="180.60" stroke="#555" stroke-width="1" />
<text x="640.00" y="183.90" font-size="9.2" text-anchor="start" fill="#1a1a1a" >3</text>
<line x1="560.60" y1="295.20" x2="560.60" y2="299.20" stroke="#3a3a3a" stroke-width="1" />
<line x1="608.40" y1="295.20" x2="608.40" y2="299.20" stroke="#3a3a3a" stroke-width="1" />
<rect x="551.00" y="262.60" width="19.40" height="17.00" fill="#2470b4" stroke="none" stroke-width="0.8" />
<rect x="599.40" y="190.40" width="19.60" height="89.20" fill="#e66b4c" stroke="none" stroke-width="0.8" />
<text x="560.70" y="259.60" font-size="9.2" text-anchor="middle" fill="#1a1a1a" >0.51</text>
<text x="609.20" y="188.00" font-size="9.2" text-anchor="middle" fill="#1a1a1a" >2.72</text>
<text x="560.60" y="310.20" font-size="9.2" text-anchor="middle" fill="#1a1a1a" >SS</text>
<text x="608.40" y="310.40" font-size="9.2" text-anchor="middle" fill="#1a1a1a" >SG-GA-SS</text>
<text x="608.40" y="322.40" font-size="9.2" text-anchor="middle" fill="#1a1a1a" >cluster</text>
<text x="660.80" y="231.00" font-size="9.5" text-anchor="middle" fill="#1a1a1a" transform="rotate(-90 660.8 231.0)" >Strongly bound water (%)</text>
<line x1="48.40" y1="347.60" x2="178.00" y2="347.60" stroke="#3a3a3a" stroke-width="1" />
<line x1="48.40" y1="347.60" x2="48.40" y2="460.60" stroke="#555" stroke-width="1.2" />
<line x1="48.40" y1="460.60" x2="177.70" y2="460.60" stroke="#3a3a3a" stroke-width="1.2" />
<line x1="46.40" y1="460.50" x2="48.40" y2="460.50" stroke="#555" stroke-width="1" />
<line x1="44.80" y1="441.70" x2="48.40" y2="441.70" stroke="#555" stroke-width="1" />
<text x="43.20" y="445.00" font-size="9.2" text-anchor="end" fill="#1a1a1a" >300</text>
<line x1="46.40" y1="422.90" x2="48.40" y2="422.90" stroke="#555" stroke-width="1" />
<line x1="44.80" y1="404.10" x2="48.40" y2="404.10" stroke="#555" stroke-width="1" />
<text x="43.20" y="407.40" font-size="9.2" text-anchor="end" fill="#1a1a1a" >400</text>
<line x1="46.40" y1="385.30" x2="48.40" y2="385.30" stroke="#555" stroke-width="1" />
<line x1="44.80" y1="366.50" x2="48.40" y2="366.50" stroke="#555" stroke-width="1" />
<text x="43.20" y="369.80" font-size="9.2" text-anchor="end" fill="#1a1a1a" >500</text>
<line x1="46.40" y1="347.70" x2="48.40" y2="347.70" stroke="#555" stroke-width="1" />
<line x1="70.40" y1="460.60" x2="70.40" y2="464.40" stroke="#3a3a3a" stroke-width="1" />
<line x1="113.40" y1="460.60" x2="113.40" y2="464.40" stroke="#3a3a3a" stroke-width="1" />
<line x1="155.80" y1="460.60" x2="155.80" y2="464.40" stroke="#3a3a3a" stroke-width="1" />
<line x1="48.40" y1="460.60" x2="48.40" y2="462.80" stroke="#3a3a3a" stroke-width="1" />
<line x1="92.00" y1="460.60" x2="92.00" y2="462.80" stroke="#3a3a3a" stroke-width="1" />
<line x1="134.60" y1="460.60" x2="134.60" y2="462.80" stroke="#3a3a3a" stroke-width="1" />
<line x1="177.70" y1="460.60" x2="177.70" y2="462.80" stroke="#3a3a3a" stroke-width="1" />
<rect x="59.40" y="420.48" width="22.20" height="40.12" fill="#e0e0e0" stroke="#222" stroke-width="0.9" />
<rect x="102.40" y="411.17" width="21.60" height="49.43" fill="#2470b4" stroke="#222" stroke-width="0.9" />
<rect x="145.20" y="378.18" width="21.60" height="82.42" fill="#e66b4c" stroke="#222" stroke-width="0.9" />
<text x="70.60" y="418.88" font-size="7.5" text-anchor="middle" fill="#1a1a1a" >356.43</text>
<text x="113.20" y="409.57" font-size="7.5" text-anchor="middle" fill="#1a1a1a" >381.20</text>
<text x="156.00" y="375.78" font-size="7.5" text-anchor="middle" fill="#1a1a1a" >468.93</text>
<text x="70.40" y="481.40" font-size="9.3" text-anchor="middle" fill="#1a1a1a" >EG</text>
<text x="113.40" y="481.40" font-size="9.3" text-anchor="middle" fill="#1a1a1a" >SS</text>
<text x="156.00" y="474.50" font-size="9.3" text-anchor="middle" fill="#1a1a1a" >SG-GA-SS</text>
<text x="156.00" y="488.10" font-size="9.3" text-anchor="middle" fill="#1a1a1a" >cluster</text>
<text x="20.80" y="405.00" font-size="9.4" text-anchor="middle" fill="#1a1a1a" transform="rotate(-90 20.8 405.0)" >Vaporization enthalpy (J g<tspan font-size="6" dy="-3.2">-1</tspan><tspan dy="3.2">)</tspan></text>
<line x1="195.90" y1="347.60" x2="309.60" y2="347.60" stroke="#3a3a3a" stroke-width="1" />
<line x1="195.90" y1="460.60" x2="309.60" y2="460.60" stroke="#3a3a3a" stroke-width="1.2" />
<line x1="309.60" y1="347.60" x2="309.60" y2="460.60" stroke="#555" stroke-width="1.2" />
<line x1="195.90" y1="460.60" x2="195.90" y2="464.40" stroke="#3a3a3a" stroke-width="1" />
<text x="195.90" y="474.50" font-size="9.3" text-anchor="middle" fill="#1a1a1a" >70</text>
<line x1="210.11" y1="460.60" x2="210.11" y2="462.80" stroke="#3a3a3a" stroke-width="1" />
<line x1="224.32" y1="460.60" x2="224.32" y2="464.40" stroke="#3a3a3a" stroke-width="1" />
<text x="224.32" y="474.50" font-size="9.3" text-anchor="middle" fill="#1a1a1a" >75</text>
<line x1="238.54" y1="460.60" x2="238.54" y2="462.80" stroke="#3a3a3a" stroke-width="1" />
<line x1="252.75" y1="460.60" x2="252.75" y2="464.40" stroke="#3a3a3a" stroke-width="1" />
<text x="252.75" y="474.50" font-size="9.3" text-anchor="middle" fill="#1a1a1a" >80</text>
<line x1="266.96" y1="460.60" x2="266.96" y2="462.80" stroke="#3a3a3a" stroke-width="1" />
<line x1="281.18" y1="460.60" x2="281.18" y2="464.40" stroke="#3a3a3a" stroke-width="1" />
<text x="281.18" y="474.50" font-size="9.3" text-anchor="middle" fill="#1a1a1a" >85</text>
<line x1="295.39" y1="460.60" x2="295.39" y2="462.80" stroke="#3a3a3a" stroke-width="1" />
<line x1="309.60" y1="460.60" x2="309.60" y2="464.40" stroke="#3a3a3a" stroke-width="1" />
<text x="309.60" y="474.50" font-size="9.3" text-anchor="middle" fill="#1a1a1a" >90</text>
<line x1="309.60" y1="460.80" x2="311.80" y2="460.80" stroke="#555" stroke-width="1" />
<line x1="309.60" y1="441.80" x2="313.40" y2="441.80" stroke="#555" stroke-width="1" />
<text x="315.20" y="445.10" font-size="9.3" text-anchor="start" fill="#1a1a1a" >30</text>
<line x1="309.60" y1="422.80" x2="311.80" y2="422.80" stroke="#555" stroke-width="1" />
<line x1="309.60" y1="403.80" x2="313.40" y2="403.80" stroke="#555" stroke-width="1" />
<text x="315.20" y="407.10" font-size="9.3" text-anchor="start" fill="#1a1a1a" >40</text>
<line x1="309.60" y1="384.80" x2="311.80" y2="384.80" stroke="#555" stroke-width="1" />
<line x1="309.60" y1="365.80" x2="313.40" y2="365.80" stroke="#555" stroke-width="1" />
<text x="315.20" y="369.10" font-size="9.3" text-anchor="start" fill="#1a1a1a" >50</text>
<text x="246.60" y="489.80" font-size="9.5" text-anchor="middle" fill="#1a1a1a" >Initial temperature (°C)</text>
<text x="338.40" y="402.80" font-size="9.4" text-anchor="middle" fill="#1a1a1a" transform="rotate(-90 338.4 402.8)" >Endurance time (min)</text>
<line x1="173.60" y1="378.60" x2="263.50" y2="378.60" stroke="#666" stroke-width="1" stroke-dasharray="3.2 2.4"/>
<polygon points="270.60,378.60 263.60,376.30 263.60,380.90" fill="#111"/>
<circle cx="274.80" cy="378.70" r="2.7" fill="#e66b4c" stroke="#333" stroke-width="0.8"/>
<circle cx="218.50" cy="431.30" r="2.7" fill="#2470b4" stroke="#333" stroke-width="0.8"/>
<circle cx="207.30" cy="442.40" r="2.7" fill="#e0e0e0" stroke="#333" stroke-width="0.8"/>
<line x1="387.60" y1="346.40" x2="515.60" y2="346.40" stroke="#3a3a3a" stroke-width="1" />
<line x1="387.60" y1="346.40" x2="387.60" y2="460.40" stroke="#555" stroke-width="1.2" />
<line x1="387.60" y1="460.40" x2="515.60" y2="460.40" stroke="#3a3a3a" stroke-width="1.2" />
<line x1="384.00" y1="346.40" x2="387.60" y2="346.40" stroke="#555" stroke-width="1" />
<text x="381.40" y="349.70" font-size="9.3" text-anchor="end" fill="#1a1a1a" >0</text>
<line x1="385.60" y1="359.00" x2="387.60" y2="359.00" stroke="#555" stroke-width="1" />
<line x1="384.00" y1="371.60" x2="387.60" y2="371.60" stroke="#555" stroke-width="1" />
<text x="381.40" y="374.90" font-size="9.3" text-anchor="end" fill="#1a1a1a" >-10</text>
<line x1="385.60" y1="384.20" x2="387.60" y2="384.20" stroke="#555" stroke-width="1" />
<line x1="384.00" y1="396.80" x2="387.60" y2="396.80" stroke="#555" stroke-width="1" />
<text x="381.40" y="400.10" font-size="9.3" text-anchor="end" fill="#1a1a1a" >-20</text>
<line x1="385.60" y1="409.40" x2="387.60" y2="409.40" stroke="#555" stroke-width="1" />
<line x1="384.00" y1="422.00" x2="387.60" y2="422.00" stroke="#555" stroke-width="1" />
<text x="381.40" y="425.30" font-size="9.3" text-anchor="end" fill="#1a1a1a" >-30</text>
<line x1="385.60" y1="434.60" x2="387.60" y2="434.60" stroke="#555" stroke-width="1" />
<line x1="384.00" y1="447.20" x2="387.60" y2="447.20" stroke="#555" stroke-width="1" />
<text x="381.40" y="450.50" font-size="9.3" text-anchor="end" fill="#1a1a1a" >-40</text>
<line x1="385.60" y1="459.80" x2="387.60" y2="459.80" stroke="#555" stroke-width="1" />
<line x1="408.70" y1="460.40" x2="408.70" y2="463.60" stroke="#3a3a3a" stroke-width="1" />
<line x1="451.20" y1="460.40" x2="451.20" y2="463.60" stroke="#3a3a3a" stroke-width="1" />
<line x1="494.50" y1="460.40" x2="494.50" y2="463.60" stroke="#3a3a3a" stroke-width="1" />
<line x1="387.70" y1="460.40" x2="387.70" y2="462.60" stroke="#3a3a3a" stroke-width="1" />
<line x1="430.20" y1="460.40" x2="430.20" y2="462.60" stroke="#3a3a3a" stroke-width="1" />
<line x1="473.00" y1="460.40" x2="473.00" y2="462.60" stroke="#3a3a3a" stroke-width="1" />
<line x1="515.50" y1="460.40" x2="515.50" y2="462.60" stroke="#3a3a3a" stroke-width="1" />
<rect x="398.40" y="346.40" width="21.40" height="103.80" fill="#e0e0e0" stroke="#222" stroke-width="0.9" />
<rect x="440.40" y="346.40" width="22.00" height="27.39" fill="#2470b4" stroke="#222" stroke-width="0.9" />
<rect x="483.40" y="346.40" width="21.20" height="21.85" fill="#e66b4c" stroke="#222" stroke-width="0.9" />
<text x="409.00" y="457.60" font-size="7.6" text-anchor="middle" fill="#1a1a1a" >-41.19</text>
<text x="451.40" y="381.00" font-size="7.6" text-anchor="middle" fill="#1a1a1a" >-10.87</text>
<text x="494.00" y="375.60" font-size="7.6" text-anchor="middle" fill="#1a1a1a" >-8.67</text>
<text x="410.40" y="480.90" font-size="9.3" text-anchor="middle" fill="#1a1a1a" >EG</text>
<text x="453.10" y="480.90" font-size="9.3" text-anchor="middle" fill="#1a1a1a" >SS</text>
<text x="493.80" y="473.40" font-size="9.3" text-anchor="middle" fill="#1a1a1a" >SG-GA-SS</text>
<text x="493.80" y="487.40" font-size="9.3" text-anchor="middle" fill="#1a1a1a" >cluster</text>
<text x="359.80" y="403.00" font-size="10.7" text-anchor="middle" fill="#1a1a1a" transform="rotate(-90 359.8 403.0)" >Freezing enthalpy (J g<tspan font-size="7" dy="-3.6">-1</tspan><tspan dy="3.6">)</tspan></text>
<line x1="534.40" y1="346.40" x2="647.40" y2="346.40" stroke="#3a3a3a" stroke-width="1" />
<line x1="534.40" y1="459.30" x2="647.40" y2="459.30" stroke="#3a3a3a" stroke-width="1.2" />
<line x1="647.40" y1="346.40" x2="647.40" y2="459.30" stroke="#555" stroke-width="1.2" />
<line x1="533.65" y1="459.30" x2="533.65" y2="461.50" stroke="#3a3a3a" stroke-width="1" />
<line x1="556.40" y1="459.30" x2="556.40" y2="463.00" stroke="#3a3a3a" stroke-width="1" />
<text x="556.40" y="473.20" font-size="9.3" text-anchor="middle" fill="#1a1a1a" >-40</text>
<line x1="579.15" y1="459.30" x2="579.15" y2="461.50" stroke="#3a3a3a" stroke-width="1" />
<line x1="601.90" y1="459.30" x2="601.90" y2="463.00" stroke="#3a3a3a" stroke-width="1" />
<text x="601.90" y="473.20" font-size="9.3" text-anchor="middle" fill="#1a1a1a" >-35</text>
<line x1="624.65" y1="459.30" x2="624.65" y2="461.50" stroke="#3a3a3a" stroke-width="1" />
<line x1="647.40" y1="459.30" x2="647.40" y2="463.00" stroke="#3a3a3a" stroke-width="1" />
<text x="647.40" y="473.20" font-size="9.3" text-anchor="middle" fill="#1a1a1a" >-30</text>
<line x1="647.40" y1="459.90" x2="649.60" y2="459.90" stroke="#555" stroke-width="1" />
<line x1="647.40" y1="447.30" x2="651.20" y2="447.30" stroke="#555" stroke-width="1" />
<text x="652.80" y="450.60" font-size="9.3" text-anchor="start" fill="#1a1a1a" >4</text>
<line x1="647.40" y1="434.70" x2="649.60" y2="434.70" stroke="#555" stroke-width="1" />
<line x1="647.40" y1="422.10" x2="651.20" y2="422.10" stroke="#555" stroke-width="1" />
<text x="652.80" y="425.40" font-size="9.3" text-anchor="start" fill="#1a1a1a" >6</text>
<line x1="647.40" y1="409.50" x2="649.60" y2="409.50" stroke="#555" stroke-width="1" />
<line x1="647.40" y1="396.90" x2="651.20" y2="396.90" stroke="#555" stroke-width="1" />
<text x="652.80" y="400.20" font-size="9.3" text-anchor="start" fill="#1a1a1a" >8</text>
<line x1="647.40" y1="384.30" x2="649.60" y2="384.30" stroke="#555" stroke-width="1" />
<line x1="647.40" y1="371.70" x2="651.20" y2="371.70" stroke="#555" stroke-width="1" />
<text x="652.80" y="375.00" font-size="9.3" text-anchor="start" fill="#1a1a1a" >10</text>
<line x1="647.40" y1="359.10" x2="649.60" y2="359.10" stroke="#555" stroke-width="1" />
<line x1="647.40" y1="346.50" x2="651.20" y2="346.50" stroke="#555" stroke-width="1" />
<text x="652.80" y="349.80" font-size="9.3" text-anchor="start" fill="#1a1a1a" >12</text>
<text x="592.40" y="490.20" font-size="9.5" text-anchor="middle" fill="#1a1a1a" >Initial temperature (°C)</text>
<text x="676.30" y="404.50" font-size="9.5" text-anchor="middle" fill="#1a1a1a" transform="rotate(-90 676.3 404.5)" >Endurance time (min)</text>
<line x1="510.00" y1="358.40" x2="533.50" y2="358.40" stroke="#111" stroke-width="1" stroke-dasharray="3 2.2"/>
<polygon points="540.50,358.40 533.50,356.10 533.50,360.70" fill="#111"/>
<circle cx="547.40" cy="358.20" r="2.7" fill="#e66b4c" stroke="#333" stroke-width="0.8"/>
<circle cx="592.30" cy="407.70" r="2.7" fill="#2470b4" stroke="#333" stroke-width="0.8"/>
<circle cx="638.20" cy="448.40" r="2.7" fill="#e0e0e0" stroke="#333" stroke-width="0.8"/>
<line x1="426.40" y1="512.60" x2="621.60" y2="512.60" stroke="#222" stroke-width="1" />
<line x1="426.40" y1="512.60" x2="426.40" y2="668.00" stroke="#222" stroke-width="1.2" />
<line x1="426.40" y1="668.00" x2="621.00" y2="668.00" stroke="#222" stroke-width="1.2" />
<line x1="442.50" y1="668.00" x2="442.50" y2="671.60" stroke="#222" stroke-width="1" />
<text x="442.50" y="685.00" font-size="9.3" text-anchor="middle" fill="#1a1a1a" >-25</text>
<line x1="483.00" y1="668.00" x2="483.00" y2="671.60" stroke="#222" stroke-width="1" />
<text x="483.00" y="685.00" font-size="9.3" text-anchor="middle" fill="#1a1a1a" >0</text>
<line x1="523.50" y1="668.00" x2="523.50" y2="671.60" stroke="#222" stroke-width="1" />
<text x="523.50" y="685.00" font-size="9.3" text-anchor="middle" fill="#1a1a1a" >25</text>
<line x1="564.00" y1="668.00" x2="564.00" y2="671.60" stroke="#222" stroke-width="1" />
<text x="564.00" y="685.00" font-size="9.3" text-anchor="middle" fill="#1a1a1a" >50</text>
<line x1="604.50" y1="668.00" x2="604.50" y2="671.60" stroke="#222" stroke-width="1" />
<text x="604.50" y="685.00" font-size="9.3" text-anchor="middle" fill="#1a1a1a" >75</text>
<line x1="462.75" y1="668.00" x2="462.75" y2="670.20" stroke="#222" stroke-width="1" />
<line x1="503.25" y1="668.00" x2="503.25" y2="670.20" stroke="#222" stroke-width="1" />
<line x1="543.75" y1="668.00" x2="543.75" y2="670.20" stroke="#222" stroke-width="1" />
<line x1="584.25" y1="668.00" x2="584.25" y2="670.20" stroke="#222" stroke-width="1" />
<text x="524.90" y="699.00" font-size="9.5" text-anchor="middle" fill="#1a1a1a" >Temperature range (°C)</text>
<rect x="426.40" y="513.50" width="186.20" height="9.90" fill="#f4b1a2" stroke="#c98a80" stroke-width="0.7" rx="0.8"/>
<text x="424.20" y="521.00" font-size="8.1" text-anchor="end" fill="#1a1a1a" >This work</text>
<rect x="531.60" y="525.50" width="48.60" height="9.90" fill="#c3c3c3" stroke="#8a8a8a" stroke-width="0.7" rx="0.8"/>
<text x="424.20" y="533.00" font-size="8.1" text-anchor="end" fill="#1a1a1a" >35. Sci. Robot. 2022</text>
<rect x="523.50" y="537.50" width="72.90" height="9.90" fill="#c3c3c3" stroke="#8a8a8a" stroke-width="0.7" rx="0.8"/>
<text x="424.20" y="545.00" font-size="8.1" text-anchor="end" fill="#1a1a1a" >36. Nat. Commun. 2023</text>
<rect x="487.37" y="549.50" width="36.13" height="9.90" fill="#c3c3c3" stroke="#8a8a8a" stroke-width="0.7" rx="0.8"/>
<text x="424.20" y="557.00" font-size="8.1" text-anchor="end" fill="#1a1a1a" >37. Nature 2021</text>
<rect x="434.40" y="561.50" width="81.00" height="9.90" fill="#fdd98a" stroke="#8a8a8a" stroke-width="0.7" rx="0.8"/>
<text x="424.20" y="569.00" font-size="8.1" text-anchor="end" fill="#1a1a1a" >38. Energy Environ. Sci. 2023</text>
<rect x="450.60" y="573.50" width="129.60" height="9.90" fill="#fdd98a" stroke="#8a8a8a" stroke-width="0.7" rx="0.8"/>
<text x="424.20" y="581.00" font-size="8.1" text-anchor="end" fill="#1a1a1a" >39. Nat. Commun. 2023</text>
<rect x="458.70" y="585.50" width="64.80" height="9.90" fill="#fdd98a" stroke="#8a8a8a" stroke-width="0.7" rx="0.8"/>
<text x="424.20" y="593.00" font-size="8.1" text-anchor="end" fill="#1a1a1a" >40. Sci. Adv. 2022</text>
<rect x="523.50" y="597.50" width="81.00" height="9.90" fill="#c7dba4" stroke="#8a8a8a" stroke-width="0.7" rx="0.8"/>
<text x="424.20" y="605.00" font-size="8.1" text-anchor="end" fill="#1a1a1a" >41. Nat. Electron. 2023</text>
<rect x="523.50" y="609.50" width="24.30" height="9.90" fill="#c7dba4" stroke="#8a8a8a" stroke-width="0.7" rx="0.8"/>
<text x="424.20" y="617.00" font-size="8.1" text-anchor="end" fill="#1a1a1a" >42. Nat. Biotechnol. 2022</text>
<rect x="512.16" y="621.50" width="43.74" height="9.90" fill="#c7dba4" stroke="#8a8a8a" stroke-width="0.7" rx="0.8"/>
<text x="424.20" y="629.00" font-size="8.1" text-anchor="end" fill="#1a1a1a" >43. Science 2022</text>
<rect x="529.49" y="633.50" width="43.09" height="9.90" fill="#dacdf3" stroke="#8a8a8a" stroke-width="0.7" rx="0.8"/>
<text x="424.20" y="641.00" font-size="8.1" text-anchor="end" fill="#1a1a1a" >44. Nat. Commun.2022</text>
<rect x="543.43" y="645.50" width="20.57" height="9.90" fill="#dacdf3" stroke="#8a8a8a" stroke-width="0.7" rx="0.8"/>
<text x="424.20" y="653.00" font-size="8.1" text-anchor="end" fill="#1a1a1a" >45. Sci. Adv. 2022</text>
<rect x="544.40" y="657.50" width="11.50" height="9.90" fill="#dacdf3" stroke="#8a8a8a" stroke-width="0.7" rx="0.8"/>
<text x="424.20" y="665.00" font-size="8.1" text-anchor="end" fill="#1a1a1a" >46. Sci. Adv. 2020</text>
<polyline points="623,530.4 628.6,530.4 628.6,555.0 623,555.0" fill="none" stroke="#222" stroke-width="1"/>
<polyline points="623,565.0 628.6,565.0 628.6,591.0 623,591.0" fill="none" stroke="#222" stroke-width="1"/>
<polyline points="623,600.4 628.6,600.4 628.6,627.0 623,627.0" fill="none" stroke="#222" stroke-width="1"/>
<polyline points="623,636.6 628.6,636.6 628.6,663.0 623,663.0" fill="none" stroke="#222" stroke-width="1"/>
<text x="630.20" y="543.00" font-size="8.8" text-anchor="start" fill="#1a1a1a" >Soft robots</text>
<line x1="629.00" y1="547.00" x2="665.00" y2="547.00" stroke="#555" stroke-width="1" />
<text x="630.20" y="574.60" font-size="8.8" text-anchor="start" fill="#1a1a1a" >Flexible</text>
<text x="630.20" y="586.00" font-size="8.8" text-anchor="start" fill="#1a1a1a" >electronics</text>
<line x1="629.00" y1="589.00" x2="665.00" y2="589.00" stroke="#555" stroke-width="1" />
<text x="630.20" y="615.00" font-size="8.8" text-anchor="start" fill="#1a1a1a" >Bioelectronics</text>
<line x1="629.00" y1="618.40" x2="673.60" y2="618.40" stroke="#555" stroke-width="1" />
<text x="630.20" y="651.00" font-size="8.8" text-anchor="start" fill="#1a1a1a" >Biomedicine</text>
<line x1="629.00" y1="654.40" x2="669.00" y2="654.40" stroke="#555" stroke-width="1" />
<g clip-path="url(#clipbox1)">
<path d="M29.4 23.3l0.4 1.4M29.4 23.3l-1.5 0.0M32.4 23.9l0.8 1.3M32.4 23.9l-1.4 0.4M36.7 24.9l-1.0 1.1M36.7 24.9l-0.9 -1.2M38.8 22.6l1.4 0.5M38.8 22.6l-0.8 1.3M44.8 23.8l-1.0 1.2M44.8 23.8l-0.9 -1.2M48.4 22.5l-1.2 -1.0M48.4 22.5l1.2 -0.9M51.3 24.7l-0.7 -1.3M51.3 24.7l1.5 -0.3M54.4 25.3l1.0 -1.1M54.4 25.3l0.8 1.3M60.2 22.6l1.3 0.8M60.2 22.6l-1.1 1.0M61.4 24.1l-0.9 -1.2M61.4 24.1l1.4 -0.6M67.9 23.7l0.5 1.4M67.9 23.7l-1.5 0.1M69.6 23.8l-0.8 1.3M69.6 23.8l-1.0 -1.1M72.8 23.2l-1.3 -0.7M72.8 23.2l1.0 -1.1M77.8 24.0l0.8 -1.3M77.8 24.0l1.0 1.1M81.0 23.2l-0.7 -1.3M81.0 23.2l1.5 -0.4M84.8 23.9l1.5 -0.1M84.8 23.9l-0.2 1.5M88.8 22.6l1.5 0.2M88.8 22.6l-0.5 1.4M94.2 24.2l-0.6 1.4M94.2 24.2l-1.2 -0.9M97.4 23.1l-1.5 0.2M97.4 23.1l0.2 -1.5M102.3 25.1l1.5 0.3M102.3 25.1l-0.7 1.3M103.5 23.5l1.4 0.5M103.5 23.5l-0.8 1.3M109.1 24.6l-1.0 1.1M109.1 24.6l-0.8 -1.2M113.5 23.8l-1.4 -0.5M113.5 23.8l0.9 -1.2M117.0 24.5l1.0 1.1M117.0 24.5l-1.3 0.7M119.2 24.3l1.4 0.6M119.2 24.3l-0.9 1.2M124.8 25.0l-0.6 1.4M124.8 25.0l-1.2 -0.9M127.4 24.3l-0.1 -1.5M127.4 24.3l1.5 0.3M129.8 23.2l-1.4 -0.6M129.8 23.2l0.9 -1.2M135.9 23.8l1.5 -0.0M135.9 23.8l-0.3 1.5M137.8 24.2l-1.2 -0.9M137.8 24.2l1.2 -0.9M28.6 27.4l1.2 -1.0M28.6 27.4l0.6 1.4M31.7 27.8l-1.3 -0.7M31.7 27.8l1.0 -1.1M36.5 27.9l-1.5 0.2M36.5 27.9l0.2 -1.5M39.2 27.8l-1.3 0.8M39.2 27.8l-0.4 -1.4M41.9 26.4l1.4 0.7M41.9 26.4l-1.0 1.1M47.7 29.3l1.4 0.6M47.7 29.3l-0.9 1.2M51.2 27.5l-0.8 -1.3M51.2 27.5l1.4 -0.5M53.7 27.8l1.0 -1.2M53.7 27.8l0.9 1.2M59.9 28.6l1.5 0.2M59.9 28.6l-0.5 1.4M62.4 28.9l0.6 1.4M62.4 28.9l-1.5 0.3M65.3 27.9l-0.7 1.3M65.3 27.9l-1.1 -1.0M71.2 28.0l-0.6 1.4M71.2 28.0l-1.2 -0.9M73.5 27.1l0.8 -1.3M73.5 27.1l1.1 1.1M77.6 29.2l-0.0 1.5M77.6 29.2l-1.4 -0.4M79.8 28.7l-0.5 1.4M79.8 28.7l-1.2 -0.8M86.0 29.0l-1.5 0.1M86.0 29.0l0.3 -1.5M89.6 28.7l1.4 -0.5M89.6 28.7l0.1 1.5M92.7 28.0l-0.4 1.4M92.7 28.0l-1.3 -0.8M96.2 26.5l-1.0 -1.1M96.2 26.5l1.3 -0.7M101.4 28.0l1.4 0.5M101.4 28.0l-0.8 1.3M103.2 27.8l-1.4 0.6M103.2 27.8l-0.3 -1.5M107.8 27.4l1.3 -0.7M107.8 27.4l0.3 1.5M111.2 27.9l0.3 1.5M111.2 27.9l-1.5 -0.1M115.8 28.1l-0.9 1.2M115.8 28.1l-0.9 -1.2M119.1 26.4l-0.8 -1.2M119.1 26.4l1.4 -0.5M122.3 26.8l-1.4 -0.6M122.3 26.8l0.9 -1.2M127.1 28.9l-1.3 -0.7M127.1 28.9l1.0 -1.1M131.6 28.7l-1.2 -0.9M131.6 28.7l1.2 -0.9M135.4 27.1l-0.7 -1.3M135.4 27.1l1.5 -0.3M139.3 28.3l-0.7 1.3M139.3 28.3l-1.1 -1.0M24.3 30.2l-0.9 1.2M24.3 30.2l-0.9 -1.2M30.3 30.9l-1.2 0.9M30.3 30.9l-0.6 -1.4M32.1 32.0l-1.5 -0.2M32.1 32.0l0.6 -1.4M36.6 30.3l-1.4 -0.6M36.6 30.3l0.9 -1.2M39.9 31.7l1.1 -1.1M39.9 31.7l0.8 1.3M43.7 30.9l-1.2 0.9M43.7 30.9l-0.6 -1.4M49.2 31.5l-1.4 0.5M49.2 31.5l-0.1 -1.5M51.8 31.5l0.7 -1.3M51.8 31.5l1.1 1.0M54.7 31.3l1.5 -0.3M54.7 31.3l-0.1 1.5M59.7 30.7l0.1 1.5M59.7 30.7l-1.5 -0.3M62.5 32.8l-0.2 -1.5M62.5 32.8l1.5 0.2M67.5 30.7l0.0 1.5M67.5 30.7l-1.5 -0.3M71.6 32.6l-0.1 -1.5M71.6 32.6l1.5 0.3M73.7 30.2l1.5 0.4M73.7 30.2l-0.7 1.3M77.9 32.3l-1.5 -0.1M77.9 32.3l0.4 -1.4M81.7 32.2l-1.4 -0.6M81.7 32.2l1.0 -1.2M87.1 31.7l-0.5 -1.4M87.1 31.7l1.5 -0.1M89.5 33.0l1.3 -0.7M89.5 33.0l0.4 1.4M95.0 31.7l0.4 -1.4M95.0 31.7l1.3 0.8M97.1 32.1l-1.4 -0.6M97.1 32.1l0.9 -1.2M101.4 31.8l-1.5 0.0M101.4 31.8l0.3 -1.5M105.0 32.0l1.5 0.1M105.0 32.0l-0.5 1.4M108.0 31.0l-1.4 -0.5M108.0 31.0l0.8 -1.3M114.5 32.7l-1.4 -0.6M114.5 32.7l0.9 -1.2M116.3 32.7l-0.1 -1.5M116.3 32.7l1.5 0.3M120.1 32.9l0.8 1.3M120.1 32.9l-1.4 0.4M125.2 31.4l-1.3 -0.8M125.2 31.4l1.1 -1.0M127.6 30.1l1.4 0.5M127.6 30.1l-0.8 1.3M133.3 30.2l-0.2 -1.5M133.3 30.2l1.5 0.1M136.9 33.0l0.7 -1.4M136.9 33.0l1.1 1.0M139.9 30.6l-1.4 0.6M139.9 30.6l-0.2 -1.5M30.1 36.0l-0.6 -1.4M30.1 36.0l1.5 -0.2M32.5 35.0l-0.8 -1.3M32.5 35.0l1.4 -0.4M35.8 34.5l-0.5 1.4M35.8 34.5l-1.2 -0.8M40.6 35.2l1.3 0.8M40.6 35.2l-1.1 1.0M43.0 34.2l0.1 -1.5M43.0 34.2l1.4 0.4M48.2 34.8l-0.9 1.2M48.2 34.8l-0.9 -1.2M51.5 34.9l0.8 1.3M51.5 34.9l-1.4 0.5M56.4 36.6l-1.4 0.5M56.4 36.6l-0.2 -1.5M57.7 34.5l0.7 -1.3M57.7 34.5l1.1 1.0M62.4 36.9l1.4 -0.4M62.4 36.9l0.1 1.5M67.5 34.9l-1.4 -0.6M67.5 34.9l0.9 -1.2M69.6 35.9l1.5 -0.3M69.6 35.9l-0.1 1.5M75.3 36.7l0.7 1.3M75.3 36.7l-1.5 0.3M77.6 36.6l-1.5 0.1M77.6 36.6l0.3 -1.5M82.5 35.4l1.5 0.1M82.5 35.4l-0.4 1.4M87.2 34.6l0.2 1.5M87.2 34.6l-1.5 -0.2M90.2 34.2l1.1 -1.1M90.2 34.2l0.8 1.3M92.3 36.6l1.4 0.5M92.3 36.6l-0.9 1.2M96.2 36.2l-0.8 -1.2M96.2 36.2l1.4 -0.5M101.2 36.4l-1.5 -0.1M101.2 36.4l0.5 -1.4M104.3 34.9l1.5 -0.1M104.3 34.9l-0.3 1.5M107.9 36.5l1.5 -0.1M107.9 36.5l-0.3 1.5M112.6 36.8l1.1 1.0M112.6 36.8l-1.3 0.8M117.3 34.3l-0.1 1.5M117.3 34.3l-1.4 -0.5M120.1 34.2l1.5 -0.1M120.1 34.2l-0.3 1.5M122.3 34.1l-0.7 1.3M122.3 34.1l-1.1 -1.0M128.6 36.3l0.6 1.4M128.6 36.3l-1.5 0.3M132.3 34.9l1.3 -0.8M132.3 34.9l0.5 1.4M135.4 36.3l-1.1 -1.0M135.4 36.3l1.3 -0.8M138.5 35.6l-0.5 1.4M138.5 35.6l-1.2 -0.9M25.0 38.5l-1.4 -0.5M25.0 38.5l0.8 -1.2M31.2 39.4l-1.3 0.7M31.2 39.4l-0.3 -1.5M35.1 39.1l-1.4 0.4M35.1 39.1l-0.0 -1.5M37.0 40.1l-1.4 -0.5M37.0 40.1l0.8 -1.3M42.4 37.7l0.7 1.3M42.4 37.7l-1.5 0.4M45.8 38.0l-1.1 -1.0M45.8 38.0l1.2 -0.8M47.9 40.4l1.4 -0.4M47.9 40.4l0.0 1.5M51.5 38.4l-1.3 -0.8M51.5 38.4l1.1 -1.0M58.1 39.0l0.4 -1.5M58.1 39.0l1.3 0.7M59.3 38.2l-0.3 1.5M59.3 38.2l-1.3 -0.7M63.5 39.9l0.8 1.2M63.5 39.9l-1.4 0.5M66.9 40.4l1.5 0.1M66.9 40.4l-0.4 1.4M71.5 40.6l1.5 -0.2M71.5 40.6l-0.2 1.5M76.9 38.6l1.1 1.0M76.9 38.6l-1.3 0.8M78.7 39.1l-1.1 1.0M78.7 39.1l-0.7 -1.3M82.1 39.7l-0.8 -1.2M82.1 39.7l1.4 -0.5M85.7 37.7l-0.1 -1.5M85.7 37.7l1.5 0.2M92.3 38.6l-1.1 -1.0M92.3 38.6l1.3 -0.8M94.9 39.1l-1.4 0.6M94.9 39.1l-0.2 -1.5M97.9 37.9l0.6 -1.4M97.9 37.9l1.2 0.9M103.5 40.6l-1.4 0.5M103.5 40.6l-0.2 -1.5M107.5 38.0l0.8 -1.3M107.5 38.0l1.1 1.1M109.0 39.6l1.4 0.5M109.0 39.6l-0.8 1.2M115.1 39.3l-0.3 -1.5M115.1 39.3l1.5 0.1M118.0 39.7l1.2 0.9M118.0 39.7l-1.1 1.0M120.5 39.3l-1.1 1.0M120.5 39.3l-0.7 -1.3M124.5 38.4l-1.4 0.5M124.5 38.4l-0.2 -1.5M127.6 38.6l0.6 1.4M127.6 38.6l-1.5 0.3M134.1 39.1l-1.4 0.5M134.1 39.1l-0.1 -1.5M136.9 39.6l0.9 -1.2M136.9 39.6l0.9 1.2M28.6 42.4l1.5 0.3M28.6 42.4l-0.7 1.3M32.3 42.5l0.5 1.4M32.3 42.5l-1.5 0.2M37.6 44.2l1.5 -0.2M37.6 44.2l-0.1 1.5M39.8 42.5l-1.4 0.5M39.8 42.5l-0.1 -1.5M44.3 43.2l-1.2 1.0M44.3 43.2l-0.6 -1.4M48.3 42.2l1.3 -0.8M48.3 42.2l0.4 1.4M50.3 42.2l0.2 -1.5M50.3 42.2l1.4 0.6M54.3 43.2l0.7 1.3M54.3 43.2l-1.5 0.3M58.1 41.7l-1.2 -0.9M58.1 41.7l1.1 -1.0M63.6 42.4l0.6 1.4M63.6 42.4l-1.5 0.3M67.9 43.0l0.2 -1.5M67.9 43.0l1.4 0.6M71.9 42.0l-1.4 -0.5M71.9 42.0l0.9 -1.2M74.6 43.9l0.5 -1.4M74.6 43.9l1.3 0.8M77.1 44.4l1.4 0.6M77.1 44.4l-0.9 1.2M81.2 43.8l1.3 -0.7M81.2 43.8l0.3 1.5M87.4 44.0l0.2 1.5M87.4 44.0l-1.5 -0.2M89.2 41.8l0.9 -1.2M89.2 41.8l1.0 1.2M93.6 44.3l-1.4 0.5M93.6 44.3l-0.2 -1.5M96.8 44.2l1.1 -1.0M96.8 44.2l0.7 1.4M100.1 44.2l1.2 0.9M100.1 44.2l-1.2 0.9M103.6 42.5l1.4 0.5M103.6 42.5l-0.8 1.2M110.0 43.9l-1.5 0.3M110.0 43.9l0.1 -1.5M113.8 44.0l1.4 -0.6M113.8 44.0l0.3 1.5M117.1 43.6l-1.5 0.3M117.1 43.6l0.0 -1.5M119.2 42.8l-1.5 -0.1M119.2 42.8l0.4 -1.4M122.9 43.7l0.8 1.3M122.9 43.7l-1.4 0.4M128.3 42.3l-1.5 -0.4M128.3 42.3l0.7 -1.3M130.3 44.4l-1.3 0.7M130.3 44.4l-0.3 -1.5M136.3 43.2l1.1 -1.0M136.3 43.2l0.7 1.3M139.3 44.1l-0.1 -1.5M139.3 44.1l1.5 0.3M26.8 46.3l-1.5 0.2M26.8 46.3l0.2 -1.5M30.2 45.4l0.9 1.2M30.2 45.4l-1.4 0.6M35.2 46.6l0.9 1.2M35.2 46.6l-1.4 0.6M38.7 45.5l1.5 -0.3M38.7 45.5l-0.1 1.5M41.9 45.7l-1.1 -1.0M41.9 45.7l1.2 -0.9M45.0 46.1l0.2 1.5M45.0 46.1l-1.5 -0.1M50.9 46.5l0.6 -1.4M50.9 46.5l1.2 0.9M53.4 47.1l0.3 1.5M53.4 47.1l-1.5 -0.1M56.7 45.3l-1.4 0.4M56.7 45.3l-0.1 -1.5M61.4 46.8l1.1 -1.0M61.4 46.8l0.7 1.3M65.6 46.6l1.2 0.9M65.6 46.6l-1.2 0.9M69.5 47.5l1.2 0.9M69.5 47.5l-1.2 0.9M71.9 46.8l1.4 0.5M71.9 46.8l-0.8 1.3M76.5 46.0l0.9 1.2M76.5 46.0l-1.4 0.5M80.1 47.0l-1.1 1.1M80.1 47.0l-0.8 -1.3M85.3 48.1l-0.7 1.4M85.3 48.1l-1.1 -1.0M87.2 47.2l-0.3 1.5M87.2 47.2l-1.4 -0.6M90.4 45.5l1.5 0.1M90.4 45.5l-0.5 1.4M95.6 47.9l-1.5 0.1M95.6 47.9l0.3 -1.5M98.3 47.6l-1.4 0.5M98.3 47.6l-0.1 -1.5M104.3 46.2l-0.1 -1.5M104.3 46.2l1.5 0.3M107.5 47.9l-0.5 1.4M107.5 47.9l-1.3 -0.8M110.3 47.4l-1.3 -0.7M110.3 47.4l1.0 -1.1M115.2 47.1l-0.6 1.4M115.2 47.1l-1.2 -0.9M119.4 48.0l0.0 -1.5M119.4 48.0l1.4 0.4M123.5 47.0l0.7 1.3M123.5 47.0l-1.5 0.3M125.0 46.1l-1.5 0.1M125.0 46.1l0.3 -1.5M128.9 47.0l-1.4 0.5M128.9 47.0l-0.1 -1.5M134.3 45.5l-1.4 0.4M134.3 45.5l-0.0 -1.5M137.9 47.5l-1.5 -0.4M137.9 47.5l0.7 -1.3M26.8 49.6l-1.5 -0.3M26.8 49.6l0.7 -1.3M31.2 49.2l-0.6 1.4M31.2 49.2l-1.2 -0.9M35.8 51.5l0.7 -1.3M35.8 51.5l1.1 1.0M38.5 49.9l1.4 -0.5M38.5 49.9l0.1 1.5M43.2 52.0l-1.4 -0.5M43.2 52.0l0.9 -1.2M44.6 51.4l-1.0 -1.1M44.6 51.4l1.3 -0.7M50.5 51.1l-0.2 -1.5M50.5 51.1l1.5 0.1M53.9 50.4l-0.6 1.4M53.9 50.4l-1.2 -1.0M58.4 52.0l-1.3 -0.8M58.4 52.0l1.1 -1.0M60.6 51.5l-1.5 0.3M60.6 51.5l0.0 -1.5M64.5 49.6l-1.5 0.1M64.5 49.6l0.2 -1.5M68.0 49.5l-1.2 0.9M68.0 49.5l-0.6 -1.4M73.5 52.0l-1.5 -0.3M73.5 52.0l0.7 -1.3M75.0 50.9l0.3 1.5M75.0 50.9l-1.5 -0.1M79.6 49.5l0.1 1.5M79.6 49.5l-1.5 -0.3M83.1 49.9l0.5 1.4M83.1 49.9l-1.5 0.1M88.3 49.1l-1.2 -0.8M88.3 49.1l1.1 -1.0M90.4 50.4l0.0 1.5M90.4 50.4l-1.5 -0.3M93.7 51.0l0.3 -1.5M93.7 51.0l1.4 0.6M99.2 51.6l1.2 -0.8M99.2 51.6l0.5 1.4M101.8 50.0l0.1 -1.5M101.8 50.0l1.4 0.5M106.6 49.9l-0.7 1.3M106.6 49.9l-1.1 -1.0M110.6 49.9l1.4 -0.5M110.6 49.9l0.2 1.5M114.7 51.5l-0.8 1.2M114.7 51.5l-1.0 -1.1M118.8 52.0l-1.0 1.1M118.8 52.0l-0.9 -1.2M121.9 50.6l-1.2 -0.8M121.9 50.6l1.1 -1.0M126.6 51.4l-0.8 -1.3M126.6 51.4l1.4 -0.5M129.5 50.3l-1.3 0.8M129.5 50.3l-0.5 -1.4M132.5 49.4l0.3 -1.5M132.5 49.4l1.3 0.7M137.8 49.5l0.9 -1.2M137.8 49.5l0.9 1.2M28.4 55.8l-0.4 1.5M28.4 55.8l-1.3 -0.7M32.8 55.8l0.2 1.5M32.8 55.8l-1.5 -0.1M34.7 54.4l-1.2 0.9M34.7 54.4l-0.6 -1.4M39.9 53.8l-0.5 -1.4M39.9 53.8l1.5 -0.1M43.4 54.0l-0.7 -1.3M43.4 54.0l1.5 -0.4M47.3 52.9l0.7 1.3M47.3 52.9l-1.5 0.3M50.9 54.3l-1.1 1.0M50.9 54.3l-0.7 -1.4M54.3 54.1l1.2 -0.9M54.3 54.1l0.5 1.4M59.5 55.0l1.5 -0.4M59.5 55.0l0.0 1.5M62.4 54.9l-1.2 -0.9M62.4 54.9l1.2 -0.9M65.9 53.5l0.3 -1.5M65.9 53.5l1.4 0.6M68.6 53.7l0.8 -1.3M68.6 53.7l1.0 1.1M74.1 55.6l0.3 1.5M74.1 55.6l-1.5 -0.1M78.6 54.4l1.4 0.6M78.6 54.4l-0.9 1.2M82.9 54.3l-1.1 -1.0M82.9 54.3l1.2 -0.9M86.2 54.1l-1.1 1.0M86.2 54.1l-0.7 -1.3M89.8 55.9l-0.4 -1.5M89.8 55.9l1.5 0.0M92.3 53.4l-0.4 1.4M92.3 53.4l-1.3 -0.8M97.0 54.5l-1.4 0.6M97.0 54.5l-0.2 -1.5M100.0 52.9l0.5 -1.4M100.0 52.9l1.2 0.9M103.9 54.2l1.2 0.8M103.9 54.2l-1.1 1.0M107.8 55.5l-1.3 0.8M107.8 55.5l-0.5 -1.4M112.1 55.1l0.9 1.2M112.1 55.1l-1.4 0.5M116.8 55.2l-1.5 -0.3M116.8 55.2l0.7 -1.3M119.4 55.1l-0.2 -1.5M119.4 55.1l1.5 0.2M123.7 54.9l1.5 -0.1M123.7 54.9l-0.3 1.5M127.4 54.1l0.0 -1.5M127.4 54.1l1.4 0.4M131.2 54.8l0.9 1.2M131.2 54.8l-1.4 0.6M136.0 55.3l-1.4 0.6M136.0 55.3l-0.2 -1.5M139.5 55.2l-1.4 -0.4M139.5 55.2l0.7 -1.3M28.8 57.8l-1.0 -1.1M28.8 57.8l1.3 -0.7M31.6 58.8l-0.5 -1.4M31.6 58.8l1.5 -0.1M37.2 58.3l1.5 -0.3M37.2 58.3l-0.1 1.5M38.9 59.2l1.4 -0.5M38.9 59.2l0.2 1.5M43.7 58.1l0.4 1.4M43.7 58.1l-1.5 0.0M46.1 58.2l0.8 1.3M46.1 58.2l-1.4 0.5M52.0 58.0l1.5 -0.3M52.0 58.0l-0.1 1.5M54.7 58.7l0.8 1.3M54.7 58.7l-1.4 0.5M57.5 58.2l1.5 -0.3M57.5 58.2l-0.1 1.5M64.0 58.8l1.1 1.0M64.0 58.8l-1.3 0.8M66.2 58.8l-1.3 -0.8M66.2 58.8l1.1 -1.1M70.6 57.3l1.0 1.1M70.6 57.3l-1.3 0.7M73.2 59.4l1.0 1.1M73.2 59.4l-1.3 0.7M77.2 56.9l-0.8 1.3M77.2 56.9l-1.1 -1.1M82.7 58.3l0.4 -1.4M82.7 58.3l1.3 0.8M85.1 58.2l-0.4 -1.4M85.1 58.2l1.5 -0.1M90.0 57.2l-0.6 1.4M90.0 57.2l-1.2 -0.9M93.6 58.9l1.0 1.1M93.6 58.9l-1.3 0.7M97.8 57.5l-0.9 1.2M97.8 57.5l-0.9 -1.2M101.0 57.4l0.7 1.3M101.0 57.4l-1.5 0.3M104.7 57.2l0.1 1.5M104.7 57.2l-1.5 -0.2M109.2 59.3l-1.5 0.0M109.2 59.3l0.3 -1.5M111.6 57.4l-1.5 0.1M111.6 57.4l0.3 -1.5M117.3 58.8l1.3 -0.7M117.3 58.8l0.4 1.5M120.7 56.8l1.3 0.8M120.7 56.8l-1.1 1.0M124.7 58.6l-1.5 -0.3M124.7 58.6l0.7 -1.3M126.7 58.0l-1.4 -0.6M126.7 58.0l0.9 -1.2M131.9 59.1l0.9 1.2M131.9 59.1l-1.4 0.6M134.0 58.6l-1.0 1.2M134.0 58.6l-0.9 -1.2M137.7 59.6l1.0 1.1M137.7 59.6l-1.3 0.7M28.3 62.7l1.2 -0.9M28.3 62.7l0.6 1.4M31.2 61.3l-0.9 1.2M31.2 61.3l-1.0 -1.1M34.8 60.9l1.4 0.6M34.8 60.9l-0.9 1.2M37.4 62.7l-1.5 0.2M37.4 62.7l0.1 -1.5M41.9 62.8l-1.5 -0.3M41.9 62.8l0.6 -1.4M45.3 62.7l1.1 -1.0M45.3 62.7l0.7 1.3M50.5 61.4l-0.3 -1.5M50.5 61.4l1.5 0.1M52.5 61.7l0.4 1.4M52.5 61.7l-1.5 0.0M57.5 60.8l1.3 -0.8M57.5 60.8l0.5 1.4M60.3 60.7l1.5 0.0M60.3 60.7l-0.4 1.4M65.4 63.2l-0.5 -1.4M65.4 63.2l1.5 -0.1M68.0 60.6l1.4 0.4M68.0 60.6l-0.7 1.3M73.3 63.0l0.6 -1.4M73.3 63.0l1.2 1.0M77.9 62.4l0.6 1.4M77.9 62.4l-1.5 0.2M79.8 63.0l0.4 -1.4M79.8 63.0l1.3 0.8M82.9 62.6l0.6 -1.4M82.9 62.6l1.2 0.9M86.7 61.7l0.2 -1.5M86.7 61.7l1.4 0.6M91.7 61.6l1.2 1.0M91.7 61.6l-1.2 0.9M94.5 61.2l-1.2 0.9M94.5 61.2l-0.6 -1.4M100.2 61.9l1.2 0.9M100.2 61.9l-1.2 0.9M103.3 61.1l-0.3 -1.5M103.3 61.1l1.5 0.1M107.5 61.5l1.5 -0.1M107.5 61.5l-0.3 1.5M111.0 63.2l-1.5 -0.2M111.0 63.2l0.6 -1.4M116.0 60.6l-0.9 -1.2M116.0 60.6l1.4 -0.5M119.2 63.1l-0.7 -1.3M119.2 63.1l1.4 -0.4M121.5 61.7l0.9 1.2M121.5 61.7l-1.4 0.6M126.1 63.3l-1.0 1.1M126.1 63.3l-0.8 -1.3M129.4 63.2l-0.9 1.2M129.4 63.2l-1.0 -1.1M134.3 61.0l0.0 -1.5M134.3 61.0l1.5 0.4M138.5 60.6l-1.3 0.8M138.5 60.6l-0.5 -1.4M26.4 64.5l-1.0 1.1M26.4 64.5l-0.8 -1.3M29.4 64.7l-1.4 -0.5M29.4 64.7l0.8 -1.3M33.4 66.8l0.4 1.4M33.4 66.8l-1.5 0.0M38.6 64.4l1.4 0.6M38.6 64.4l-0.9 1.2M39.8 66.8l0.1 1.5M39.8 66.8l-1.5 -0.3M43.6 65.1l1.5 0.2M43.6 65.1l-0.6 1.4M47.6 64.6l-0.7 -1.3M47.6 64.6l1.5 -0.4M51.1 66.2l-1.4 0.4M51.1 66.2l-0.0 -1.5M57.1 66.4l-1.1 -1.0M57.1 66.4l1.2 -0.8M61.2 66.3l-1.4 -0.6M61.2 66.3l0.9 -1.2M63.6 66.2l1.4 0.5M63.6 66.2l-0.8 1.2M69.2 66.2l0.6 -1.4M69.2 66.2l1.2 0.9M70.8 64.5l0.6 -1.4M70.8 64.5l1.2 0.9M76.7 66.1l1.5 0.1M76.7 66.1l-0.4 1.4M78.7 66.1l-1.4 0.6M78.7 66.1l-0.3 -1.5M83.1 65.9l0.3 -1.5M83.1 65.9l1.3 0.7M85.4 65.4l-1.3 0.8M85.4 65.4l-0.4 -1.4M90.3 64.9l1.0 -1.2M90.3 64.9l0.9 1.2M95.5 65.6l-0.5 -1.4M95.5 65.6l1.5 -0.1M98.6 66.5l-0.8 -1.3M98.6 66.5l1.4 -0.5M102.7 66.5l1.2 -0.8M102.7 66.5l0.5 1.4M106.5 65.1l0.3 -1.5M106.5 65.1l1.4 0.6M111.0 64.8l-1.3 -0.8M111.0 64.8l1.1 -1.1M114.6 66.9l1.4 0.4M114.6 66.9l-0.8 1.3M118.2 64.5l-1.4 0.4M118.2 64.5l-0.1 -1.5M119.7 66.7l-0.6 -1.4M119.7 66.7l1.5 -0.2M124.7 65.4l-1.5 -0.2M124.7 65.4l0.6 -1.4M130.0 64.4l-1.3 -0.8M130.0 64.4l1.1 -1.1M132.4 65.6l-0.9 1.2M132.4 65.6l-1.0 -1.1M135.0 65.5l0.8 -1.3M135.0 65.5l1.0 1.1M140.6 67.0l0.0 1.5M140.6 67.0l-1.5 -0.3M25.6 68.4l-1.0 -1.2M25.6 68.4l1.4 -0.6M30.2 68.4l-1.4 0.6M30.2 68.4l-0.2 -1.5M31.7 69.3l0.9 1.2M31.7 69.3l-1.4 0.6M37.6 69.1l1.5 0.2M37.6 69.1l-0.5 1.4M39.6 70.5l1.0 1.1M39.6 70.5l-1.3 0.7M45.4 70.7l-0.4 1.5M45.4 70.7l-1.3 -0.7M47.7 69.4l-1.5 0.3M47.7 69.4l0.1 -1.5M51.3 69.8l1.5 0.3M51.3 69.8l-0.6 1.4M55.4 69.1l1.4 0.6M55.4 69.1l-0.9 1.2M60.5 71.0l0.4 -1.4M60.5 71.0l1.3 0.8M63.7 68.4l1.5 -0.2M63.7 68.4l-0.2 1.5M67.8 69.5l-1.4 0.6M67.8 69.5l-0.3 -1.5M72.6 70.3l-1.5 0.3M72.6 70.3l0.1 -1.5M75.9 70.2l-1.2 -0.9M75.9 70.2l1.2 -0.9M78.8 70.8l1.2 0.9M78.8 70.8l-1.1 1.0M83.5 69.0l-1.5 -0.4M83.5 69.0l0.7 -1.3M85.3 69.2l-0.7 -1.3M85.3 69.2l1.5 -0.3M90.2 68.4l1.4 -0.5M90.2 68.4l0.2 1.5M93.4 69.8l-0.9 -1.2M93.4 69.8l1.4 -0.6M96.3 70.6l-1.4 -0.4M96.3 70.6l0.8 -1.3M101.9 69.1l-1.3 0.8M101.9 69.1l-0.5 -1.4M104.7 69.2l1.3 -0.8M104.7 69.2l0.5 1.4M108.6 70.4l-1.5 -0.2M108.6 70.4l0.6 -1.4M112.9 69.7l-1.5 0.2M112.9 69.7l0.2 -1.5M115.6 70.9l-0.2 -1.5M115.6 70.9l1.5 0.2M120.0 69.1l-1.4 0.6M120.0 69.1l-0.2 -1.5M123.0 71.0l1.4 0.6M123.0 71.0l-0.9 1.2M128.0 70.8l-1.3 -0.8M128.0 70.8l1.1 -1.0M133.2 71.0l1.0 -1.1M133.2 71.0l0.8 1.2M136.6 70.9l-1.0 1.1M136.6 70.9l-0.8 -1.3M140.8 70.5l1.2 0.9M140.8 70.5l-1.1 1.0M26.0 73.6l1.2 0.9M26.0 73.6l-1.2 0.9M31.2 74.3l1.2 -0.8M31.2 74.3l0.5 1.4M34.1 74.2l1.1 1.0M34.1 74.2l-1.2 0.9M36.9 74.7l-0.8 -1.2M36.9 74.7l1.4 -0.5M41.5 73.1l1.3 0.8M41.5 73.1l-1.1 1.0M44.8 74.8l-1.5 -0.1M44.8 74.8l0.5 -1.4M48.8 72.4l1.3 -0.8M48.8 72.4l0.5 1.4M51.5 74.0l0.1 1.5M51.5 74.0l-1.5 -0.2M56.5 74.6l-0.5 1.4M56.5 74.6l-1.2 -0.9M59.2 73.1l-1.1 -1.0M59.2 73.1l1.2 -0.9M64.6 72.1l-1.3 -0.7M64.6 72.1l1.0 -1.1M66.5 73.5l-1.4 -0.6M66.5 73.5l0.9 -1.2M70.8 72.2l-1.2 0.9M70.8 72.2l-0.6 -1.4M74.6 73.8l1.5 0.4M74.6 73.8l-0.7 1.3M79.2 72.1l-1.2 -0.8M79.2 72.1l1.1 -1.0M81.6 74.5l-0.3 1.5M81.6 74.5l-1.4 -0.6M87.1 72.4l-1.1 -1.0M87.1 72.4l1.3 -0.8M91.6 72.0l-1.4 0.6M91.6 72.0l-0.2 -1.5M93.9 74.5l-0.2 1.5M93.9 74.5l-1.4 -0.5M98.7 72.8l1.5 -0.0M98.7 72.8l-0.3 1.5M103.1 73.7l-0.7 1.4M103.1 73.7l-1.1 -1.0M106.8 74.6l1.5 -0.3M106.8 74.6l-0.1 1.5M109.3 73.9l-1.5 0.2M109.3 73.9l0.2 -1.5M113.4 74.7l-1.5 -0.3M113.4 74.7l0.7 -1.3M118.0 74.1l-0.2 1.5M118.0 74.1l-1.4 -0.5M121.9 74.9l0.7 1.3M121.9 74.9l-1.5 0.3M124.0 72.5l-0.4 -1.4M124.0 72.5l1.5 -0.0M129.3 74.2l-1.4 0.4M129.3 74.2l-0.0 -1.5M132.4 73.4l-1.3 -0.8M132.4 73.4l1.1 -1.1M135.8 74.6l0.6 1.4M135.8 74.6l-1.5 0.3M140.8 73.7l-1.5 -0.1M140.8 73.7l0.5 -1.4M26.6 77.1l-0.8 -1.3M26.6 77.1l1.4 -0.5M28.4 76.6l0.1 -1.5M28.4 76.6l1.4 0.5M33.7 75.7l-0.8 -1.3M33.7 75.7l1.4 -0.4M35.8 76.6l-1.3 0.8M35.8 76.6l-0.4 -1.4M41.9 78.0l-0.6 -1.4M41.9 78.0l1.5 -0.2M46.0 77.3l-1.2 -0.9M46.0 77.3l1.1 -1.0M48.6 77.4l-1.5 0.2M48.6 77.4l0.2 -1.5M52.2 77.3l-1.0 -1.1M52.2 77.3l1.3 -0.7M56.9 78.6l-0.5 1.4M56.9 78.6l-1.2 -0.9M59.5 77.6l1.4 0.6M59.5 77.6l-0.9 1.2M63.0 76.6l0.9 1.2M63.0 76.6l-1.4 0.6M67.4 77.5l1.5 -0.3M67.4 77.5l-0.1 1.5M71.3 78.6l1.2 -0.9M71.3 78.6l0.6 1.4M73.9 77.6l0.7 -1.3M73.9 77.6l1.1 1.0M80.2 77.9l-0.1 1.5M80.2 77.9l-1.4 -0.5M82.8 76.8l0.8 -1.3M82.8 76.8l1.0 1.1M86.1 78.5l0.4 -1.5M86.1 78.5l1.3 0.7M91.3 77.7l-1.4 -0.4M91.3 77.7l0.7 -1.3M95.1 78.5l-0.5 1.4M95.1 78.5l-1.3 -0.8M98.8 76.9l1.2 0.9M98.8 76.9l-1.2 0.9M101.4 78.1l1.5 -0.0M101.4 78.1l-0.3 1.5M105.0 78.0l1.5 -0.0M105.0 78.0l-0.4 1.5M109.1 76.7l0.9 -1.2M109.1 76.7l1.0 1.2M112.8 76.1l-1.4 0.5M112.8 76.1l-0.1 -1.5M116.3 77.0l-0.2 -1.5M116.3 77.0l1.5 0.2M119.1 76.2l1.3 -0.8M119.1 76.2l0.5 1.4M123.6 78.3l-1.4 -0.4M123.6 78.3l0.7 -1.3M128.4 76.6l1.1 1.1M128.4 76.6l-1.3 0.8M133.4 76.5l1.5 -0.2M133.4 76.5l-0.1 1.5M135.8 77.9l-1.5 -0.4M135.8 77.9l0.7 -1.3M140.1 77.0l0.2 -1.5M140.1 77.0l1.4 0.5M28.3 81.7l-1.1 -1.0M28.3 81.7l1.3 -0.8M32.1 82.4l1.4 0.6M32.1 82.4l-0.9 1.2M36.6 79.8l-1.5 0.4M36.6 79.8l0.0 -1.5M38.6 82.4l1.5 0.1M38.6 82.4l-0.5 1.4M42.7 79.6l-0.1 1.5M42.7 79.6l-1.4 -0.5M46.6 80.9l1.5 -0.4M46.6 80.9l-0.0 1.5M52.5 80.7l-0.5 -1.4M52.5 80.7l1.5 -0.2M55.6 82.0l-1.4 -0.6M55.6 82.0l0.9 -1.2M57.5 81.3l1.1 1.0M57.5 81.3l-1.2 0.9M64.0 81.2l-0.6 -1.4M64.0 81.2l1.5 -0.2M66.5 80.6l-1.2 -0.9M66.5 80.6l1.2 -0.9M71.5 82.4l-1.0 -1.1M71.5 82.4l1.3 -0.7M72.8 81.2l-0.6 -1.4M72.8 81.2l1.5 -0.2M77.5 81.5l1.3 -0.7M77.5 81.5l0.3 1.5M80.4 80.3l-1.4 0.5M80.4 80.3l-0.1 -1.5M84.7 80.9l-1.1 -1.0M84.7 80.9l1.2 -0.9M90.0 82.1l-1.5 -0.3M90.0 82.1l0.6 -1.4M93.8 81.5l-1.3 -0.8M93.8 81.5l1.1 -1.0M95.5 80.7l-0.6 -1.4M95.5 80.7l1.5 -0.3M101.1 80.4l0.6 1.4M101.1 80.4l-1.5 0.2M104.4 82.2l1.4 0.5M104.4 82.2l-0.8 1.2M107.0 82.1l1.1 1.0M107.0 82.1l-1.2 0.8M110.8 80.7l1.4 0.4M110.8 80.7l-0.7 1.3M117.0 80.1l-1.4 -0.5M117.0 80.1l0.8 -1.2M119.6 80.8l-0.5 1.4M119.6 80.8l-1.2 -0.8M124.5 82.5l0.3 -1.5M124.5 82.5l1.3 0.7M126.5 81.0l0.8 1.3M126.5 81.0l-1.4 0.4M132.1 81.1l0.9 1.2M132.1 81.1l-1.4 0.6M133.9 81.8l1.0 -1.1M133.9 81.8l0.8 1.2M138.1 81.0l1.3 0.8M138.1 81.0l-1.1 1.0M26.9 85.3l-0.9 1.2M26.9 85.3l-0.9 -1.2M30.5 86.2l-0.6 -1.4M30.5 86.2l1.5 -0.2M32.3 84.9l-1.4 -0.6M32.3 84.9l0.9 -1.2M36.7 85.6l-0.2 1.5M36.7 85.6l-1.4 -0.5M41.7 84.0l1.0 1.1M41.7 84.0l-1.3 0.7M43.8 85.4l-1.3 -0.7M43.8 85.4l1.0 -1.1M48.0 83.7l0.0 1.5M48.0 83.7l-1.5 -0.4M51.1 85.0l0.9 -1.2M51.1 85.0l0.9 1.2M56.1 86.2l-0.1 1.5M56.1 86.2l-1.4 -0.5M59.7 85.1l1.4 -0.6M59.7 85.1l0.3 1.5M62.4 84.6l1.5 0.2M62.4 84.6l-0.6 1.4M66.6 85.4l-1.2 -1.0M66.6 85.4l1.2 -0.9M70.3 84.0l-0.3 1.5M70.3 84.0l-1.3 -0.7M74.4 84.7l-1.5 0.2M74.4 84.7l0.1 -1.5M78.1 85.1l-1.4 0.6M78.1 85.1l-0.2 -1.5M81.5 86.0l0.5 -1.4M81.5 86.0l1.2 0.9M86.8 84.9l0.6 1.4M86.8 84.9l-1.5 0.2M88.7 84.3l0.2 -1.5M88.7 84.3l1.4 0.5M94.4 85.2l1.5 0.3M94.4 85.2l-0.7 1.3M98.6 86.0l-1.0 -1.1M98.6 86.0l1.3 -0.7M100.9 84.8l0.7 -1.3M100.9 84.8l1.1 1.0M104.7 83.7l-1.4 0.6M104.7 83.7l-0.3 -1.5M108.0 84.1l0.9 -1.2M108.0 84.1l1.0 1.1M111.6 84.9l-0.9 1.2M111.6 84.9l-0.9 -1.2M117.2 85.0l-0.9 1.2M117.2 85.0l-0.9 -1.2M121.0 84.0l1.3 -0.8M121.0 84.0l0.5 1.4M123.3 85.0l1.5 -0.1M123.3 85.0l-0.3 1.5M129.2 84.6l0.4 -1.5M129.2 84.6l1.3 0.7M130.3 83.4l0.2 1.5M130.3 83.4l-1.5 -0.2M135.0 85.2l1.4 -0.5M135.0 85.2l0.2 1.5M138.2 84.0l-1.0 1.1M138.2 84.0l-0.8 -1.2M29.4 88.1l1.0 -1.1M29.4 88.1l0.8 1.3M32.1 88.7l-0.7 1.3M32.1 88.7l-1.1 -1.0M34.2 88.1l0.3 1.5M34.2 88.1l-1.5 -0.1M38.3 87.9l-0.1 1.5M38.3 87.9l-1.4 -0.4M44.0 89.2l-0.5 -1.4M44.0 89.2l1.5 -0.2M45.6 87.3l1.5 -0.2M45.6 87.3l-0.2 1.5M51.5 87.4l-1.5 -0.2M51.5 87.4l0.6 -1.4M54.0 87.9l1.2 0.9M54.0 87.9l-1.2 0.9M57.0 87.2l-0.6 -1.4M57.0 87.2l1.5 -0.2M61.1 88.3l1.2 -0.9M61.1 88.3l0.6 1.4M67.3 89.0l0.3 -1.5M67.3 89.0l1.4 0.6M69.0 89.1l1.5 0.0M69.0 89.1l-0.4 1.4M72.9 88.7l-0.6 1.4M72.9 88.7l-1.2 -0.9M76.9 90.0l0.2 -1.5M76.9 90.0l1.4 0.6M80.7 89.5l-0.5 -1.4M80.7 89.5l1.5 -0.1M85.4 89.6l1.5 -0.0M85.4 89.6l-0.3 1.5M89.1 89.7l1.2 -0.9M89.1 89.7l0.6 1.4M92.3 89.1l0.4 -1.4M92.3 89.1l1.3 0.8M96.7 88.7l-0.6 -1.4M96.7 88.7l1.5 -0.2M100.4 88.7l-1.1 1.0M100.4 88.7l-0.7 -1.3M103.7 89.8l1.5 0.3M103.7 89.8l-0.7 1.3M108.2 88.8l0.2 -1.5M108.2 88.8l1.4 0.5M110.2 88.6l-1.4 0.4M110.2 88.6l-0.0 -1.5M114.4 87.8l1.0 -1.1M114.4 87.8l0.8 1.2M119.0 88.7l1.0 1.1M119.0 88.7l-1.3 0.7M122.2 87.9l0.9 -1.2M122.2 87.9l0.9 1.2M126.9 88.5l-0.9 -1.2M126.9 88.5l1.4 -0.6M130.3 87.4l1.1 -1.0M130.3 87.4l0.7 1.3M134.0 89.1l-0.5 -1.4M134.0 89.1l1.5 -0.1M138.3 88.7l-1.4 0.6M138.3 88.7l-0.2 -1.5M29.3 93.0l-1.5 -0.2M29.3 93.0l0.5 -1.4M31.0 91.8l1.2 0.9M31.0 91.8l-1.1 1.0M36.8 91.4l0.1 1.5M36.8 91.4l-1.5 -0.3M41.2 91.3l-1.3 -0.7M41.2 91.3l1.0 -1.1M44.9 91.6l0.7 1.3M44.9 91.6l-1.5 0.3M48.6 93.5l-0.9 1.2M48.6 93.5l-0.9 -1.2M50.9 93.6l-0.9 -1.2M50.9 93.6l1.4 -0.6M54.2 93.5l-1.2 -0.8M54.2 93.5l1.1 -1.0M58.7 92.2l1.2 -0.9M58.7 92.2l0.6 1.4M61.7 92.7l-1.4 0.6M61.7 92.7l-0.3 -1.5M65.9 92.9l-1.4 -0.5M65.9 92.9l0.8 -1.2M71.3 92.7l-1.3 0.7M71.3 92.7l-0.4 -1.5M72.7 93.8l0.0 -1.5M72.7 93.8l1.4 0.4M79.3 92.8l-1.1 -1.1M79.3 92.8l1.3 -0.8M81.4 92.6l1.4 -0.5M81.4 92.6l0.1 1.5M86.8 92.3l0.9 1.2M86.8 92.3l-1.4 0.6M90.2 92.7l1.0 1.1M90.2 92.7l-1.3 0.7M93.0 93.7l-0.4 1.4M93.0 93.7l-1.3 -0.7M96.7 92.7l-1.1 -1.0M96.7 92.7l1.2 -0.8M99.5 92.3l-1.0 -1.1M99.5 92.3l1.3 -0.7M103.2 93.0l0.4 1.4M103.2 93.0l-1.5 0.1M106.9 91.0l-0.2 1.5M106.9 91.0l-1.4 -0.6M111.0 91.3l-1.2 -0.8M111.0 91.3l1.1 -1.0M116.0 92.0l-0.1 1.5M116.0 92.0l-1.4 -0.5M119.1 93.9l0.7 -1.3M119.1 93.9l1.1 1.0M124.8 92.9l1.2 0.9M124.8 92.9l-1.2 0.9M128.3 93.4l0.3 -1.5M128.3 93.4l1.3 0.7M130.4 93.3l0.9 1.2M130.4 93.3l-1.4 0.5M134.2 92.6l-0.3 -1.5M134.2 92.6l1.5 0.0M138.4 91.4l0.3 -1.5M138.4 91.4l1.4 0.7M29.6 95.7l1.4 -0.5M29.6 95.7l0.2 1.5M33.3 95.7l1.2 -0.9M33.3 95.7l0.5 1.4M36.4 97.7l1.5 0.2M36.4 97.7l-0.6 1.4M40.6 94.9l-0.8 -1.3M40.6 94.9l1.4 -0.5M43.4 95.8l1.3 -0.8M43.4 95.8l0.5 1.4M46.7 97.2l0.2 -1.5M46.7 97.2l1.4 0.6M51.0 96.8l-1.4 0.4M51.0 96.8l-0.1 -1.5M55.4 96.3l0.0 -1.5M55.4 96.3l1.5 0.4M57.4 96.7l-0.3 1.5M57.4 96.7l-1.3 -0.7M63.7 95.2l0.5 -1.4M63.7 95.2l1.3 0.8M66.8 96.2l-1.2 0.8M66.8 96.2l-0.5 -1.4M69.7 96.8l1.5 -0.3M69.7 96.8l-0.1 1.5M75.4 94.8l1.5 0.3M75.4 94.8l-0.6 1.4M78.9 95.9l-1.3 -0.7M78.9 95.9l1.0 -1.1M82.6 95.2l1.0 1.1M82.6 95.2l-1.3 0.7M86.0 95.0l0.2 -1.5M86.0 95.0l1.4 0.5M88.7 97.6l1.5 -0.3M88.7 97.6l-0.1 1.5M93.4 97.1l-1.5 0.1M93.4 97.1l0.3 -1.5M96.6 96.1l0.8 -1.3M96.6 96.1l1.0 1.1M100.5 97.0l0.2 1.5M100.5 97.0l-1.5 -0.2M105.0 95.3l1.5 0.3M105.0 95.3l-0.6 1.4M108.0 96.3l0.5 -1.4M108.0 96.3l1.3 0.8M112.2 97.5l-1.3 0.8M112.2 97.5l-0.5 -1.4M116.8 95.2l1.3 0.8M116.8 95.2l-1.1 1.1M119.2 95.0l-0.7 -1.3M119.2 95.0l1.5 -0.4M121.9 94.9l1.2 -0.9M121.9 94.9l0.5 1.4M126.2 97.0l1.3 0.8M126.2 97.0l-1.1 1.1M131.5 97.1l-1.2 -1.0M131.5 97.1l1.2 -0.9M134.1 95.2l-0.9 1.2M134.1 95.2l-1.0 -1.1M140.0 97.2l1.4 0.4M140.0 97.2l-0.7 1.3M27.6 99.7l1.3 0.7M27.6 99.7l-1.0 1.1M33.2 100.7l1.4 0.4M33.2 100.7l-0.8 1.3M37.8 100.1l-0.5 1.4M37.8 100.1l-1.2 -0.9M40.1 98.5l-0.5 1.4M40.1 98.5l-1.2 -0.9M45.1 101.5l-1.5 -0.3M45.1 101.5l0.7 -1.3M49.2 100.5l-1.1 -1.0M49.2 100.5l1.3 -0.8M51.3 99.2l0.9 -1.2M51.3 99.2l1.0 1.2M56.4 101.3l0.9 -1.2M56.4 101.3l0.9 1.2M60.8 99.0l0.7 1.3M60.8 99.0l-1.5 0.4M63.5 100.0l-1.0 -1.1M63.5 100.0l1.3 -0.7M66.8 100.9l1.1 -1.0M66.8 100.9l0.8 1.3M72.1 100.7l0.0 1.5M72.1 100.7l-1.5 -0.4M75.2 100.6l-1.2 -0.9M75.2 100.6l1.2 -0.9M78.9 100.1l1.5 -0.1M78.9 100.1l-0.3 1.5M81.4 100.8l-1.0 -1.1M81.4 100.8l1.3 -0.7M84.9 100.4l-0.4 -1.4M84.9 100.4l1.5 -0.1M89.5 100.2l-0.6 1.4M89.5 100.2l-1.2 -0.9M94.0 99.9l1.5 -0.1M94.0 99.9l-0.3 1.5M98.8 99.2l0.7 -1.3M98.8 99.2l1.1 1.0M99.7 101.4l-0.7 1.3M99.7 101.4l-1.1 -1.0M104.4 99.3l-0.5 1.4M104.4 99.3l-1.3 -0.8M108.5 100.3l1.5 0.0M108.5 100.3l-0.4 1.4M114.1 100.6l-1.5 0.2M114.1 100.6l0.2 -1.5M115.9 100.1l1.1 -1.1M115.9 100.1l0.8 1.3M120.0 100.0l0.3 -1.5M120.0 100.0l1.3 0.7M123.8 99.0l0.9 1.2M123.8 99.0l-1.4 0.6M127.5 99.7l0.1 1.5M127.5 99.7l-1.5 -0.3M130.7 101.0l0.8 1.3M130.7 101.0l-1.4 0.5M135.0 99.0l-0.1 1.5M135.0 99.0l-1.4 -0.5M139.4 101.0l0.4 1.4M139.4 101.0l-1.5 0.1M28.7 104.5l0.8 1.3M28.7 104.5l-1.4 0.4M31.7 102.7l-1.4 -0.5M31.7 102.7l0.8 -1.3M35.2 103.4l1.3 -0.8M35.2 103.4l0.4 1.4M39.1 103.7l0.9 -1.2M39.1 103.7l0.9 1.2M42.5 102.7l-1.1 -1.0M42.5 102.7l1.3 -0.8M46.6 102.9l-0.6 1.4M46.6 102.9l-1.2 -0.9M52.1 103.9l1.3 -0.8M52.1 103.9l0.5 1.4M54.1 103.6l0.4 1.5M54.1 103.6l-1.5 -0.0M59.9 104.0l1.5 0.4M59.9 104.0l-0.7 1.3M62.7 103.5l0.3 1.5M62.7 103.5l-1.5 -0.1M65.5 104.2l0.4 -1.5M65.5 104.2l1.3 0.7M68.9 104.7l-0.5 -1.4M68.9 104.7l1.5 -0.1M72.6 104.5l-0.6 1.4M72.6 104.5l-1.2 -0.9M77.4 104.4l0.3 1.5M77.4 104.4l-1.5 -0.1M81.8 102.7l-1.0 -1.1M81.8 102.7l1.3 -0.7M85.5 102.5l-1.5 -0.1M85.5 102.5l0.5 -1.4M88.4 103.5l0.4 -1.4M88.4 103.5l1.3 0.8M92.3 104.3l-1.4 0.5M92.3 104.3l-0.1 -1.5M98.2 103.4l1.3 0.8M98.2 103.4l-1.0 1.1M101.6 103.0l1.4 0.6M101.6 103.0l-1.0 1.2M105.0 103.4l0.2 1.5M105.0 103.4l-1.5 -0.2M108.3 102.6l-1.5 -0.2M108.3 102.6l0.6 -1.4M112.9 102.9l-0.3 -1.5M112.9 102.9l1.5 0.0M115.7 103.2l-1.4 -0.5M115.7 103.2l0.8 -1.2M120.5 104.1l1.5 0.1M120.5 104.1l-0.5 1.4M123.7 104.6l1.4 -0.4M123.7 104.6l0.1 1.5M126.4 102.5l-1.4 0.4M126.4 102.5l-0.0 -1.5M132.0 103.3l-1.5 -0.4M132.0 103.3l0.7 -1.3M135.7 105.2l0.5 1.4M135.7 105.2l-1.5 0.2M139.0 102.6l0.1 1.5M139.0 102.6l-1.5 -0.3M29.0 106.8l0.3 1.5M29.0 106.8l-1.5 -0.0M31.6 107.6l-1.2 -0.9M31.6 107.6l1.2 -0.9M35.1 108.8l1.3 -0.8M35.1 108.8l0.5 1.4M40.7 108.6l-0.1 1.5M40.7 108.6l-1.4 -0.5M43.5 108.9l-0.9 1.2M43.5 108.9l-1.0 -1.2M46.5 108.3l-0.4 1.5M46.5 108.3l-1.3 -0.7M50.7 106.1l1.5 0.3M50.7 106.1l-0.6 1.4M54.1 106.7l1.5 0.1M54.1 106.7l-0.5 1.4M59.8 107.2l0.3 -1.5M59.8 107.2l1.4 0.6M62.8 108.0l1.5 -0.2M62.8 108.0l-0.2 1.5M65.9 108.0l1.4 0.4M65.9 108.0l-0.7 1.3M71.0 108.9l1.3 0.7M71.0 108.9l-1.0 1.1M74.3 108.7l-1.4 0.4M74.3 108.7l-0.1 -1.5M79.4 108.4l-0.5 1.4M79.4 108.4l-1.2 -0.8M81.6 106.9l0.0 1.5M81.6 106.9l-1.5 -0.3M84.4 108.6l1.0 -1.1M84.4 108.6l0.8 1.3M88.3 107.8l0.5 1.4M88.3 107.8l-1.5 0.2M93.1 106.2l0.5 1.4M93.1 106.2l-1.5 0.1M96.2 108.6l1.2 -0.8M96.2 108.6l0.5 1.4M101.0 108.9l-1.1 -1.0M101.0 108.9l1.3 -0.8M105.9 106.4l-0.6 -1.4M105.9 106.4l1.5 -0.2M109.0 106.2l-0.7 -1.3M109.0 106.2l1.4 -0.4M112.0 107.4l1.5 0.2M112.0 107.4l-0.6 1.4M117.4 107.9l1.5 -0.2M117.4 107.9l-0.2 1.5M118.9 107.6l1.5 0.3M118.9 107.6l-0.6 1.4M123.7 106.7l0.2 1.5M123.7 106.7l-1.5 -0.2M127.0 108.7l-1.5 0.2M127.0 108.7l0.1 -1.5M132.7 108.4l0.8 -1.3M132.7 108.4l1.0 1.1M133.7 108.8l1.4 -0.5M133.7 108.8l0.1 1.5M138.7 108.6l1.5 0.1M138.7 108.6l-0.5 1.4M25.0 112.6l1.0 1.1M25.0 112.6l-1.3 0.7M29.2 110.0l1.5 0.2M29.2 110.0l-0.5 1.4M33.7 112.9l1.0 1.1M33.7 112.9l-1.3 0.7M38.5 111.1l1.3 -0.8M38.5 111.1l0.4 1.4M42.8 112.3l1.3 0.8M42.8 112.3l-1.1 1.1M46.1 111.8l-1.5 -0.4M46.1 111.8l0.7 -1.3M48.6 112.6l0.5 1.4M48.6 112.6l-1.5 0.1M52.6 112.7l1.5 0.1M52.6 112.7l-0.4 1.4M56.6 112.6l-0.3 1.5M56.6 112.6l-1.4 -0.6M60.2 111.2l-0.1 1.5M60.2 111.2l-1.4 -0.5M64.3 110.9l-1.4 -0.4M64.3 110.9l0.7 -1.3M66.8 111.7l1.1 -1.1M66.8 111.7l0.8 1.3M72.7 110.7l-1.5 -0.3M72.7 110.7l0.6 -1.4M76.6 112.3l-1.5 -0.3M76.6 112.3l0.7 -1.3M80.1 111.2l-0.3 1.5M80.1 111.2l-1.4 -0.6M84.6 112.3l0.6 1.4M84.6 112.3l-1.5 0.3M87.1 110.3l-1.5 0.2M87.1 110.3l0.2 -1.5M90.9 110.0l-1.2 0.9M90.9 110.0l-0.6 -1.4M95.7 110.9l1.2 -0.9M95.7 110.9l0.5 1.4M97.9 111.6l0.4 1.4M97.9 111.6l-1.5 0.0M102.5 111.7l1.5 0.2M102.5 111.7l-0.6 1.4M105.8 111.8l1.4 0.5M105.8 111.8l-0.8 1.3M110.7 111.2l-0.6 1.4M110.7 111.2l-1.2 -0.9M113.5 112.3l0.3 1.5M113.5 112.3l-1.5 -0.1M115.8 110.4l-1.2 0.9M115.8 110.4l-0.6 -1.4M120.5 110.6l1.1 -1.0M120.5 110.6l0.7 1.3M126.1 110.4l-0.2 -1.5M126.1 110.4l1.5 0.2M127.5 110.9l-1.2 -0.8M127.5 110.9l1.1 -1.0M132.5 112.4l0.7 -1.3M132.5 112.4l1.1 1.0M137.8 112.5l1.1 -1.0M137.8 112.5l0.7 1.3M26.3 113.9l1.4 0.6M26.3 113.9l-0.9 1.2M31.9 116.2l-0.6 -1.4M31.9 116.2l1.5 -0.2M34.6 116.6l1.0 1.1M34.6 116.6l-1.3 0.7M39.3 115.4l-1.3 0.8M39.3 115.4l-0.5 -1.4M43.3 113.9l-1.2 1.0M43.3 113.9l-0.6 -1.4M45.7 116.5l-0.2 1.5M45.7 116.5l-1.4 -0.6M49.8 114.0l1.4 0.4M49.8 114.0l-0.8 1.3M53.7 115.9l0.5 1.4M53.7 115.9l-1.5 0.2M57.4 114.3l-0.4 -1.4M57.4 114.3l1.5 -0.0M61.2 115.2l1.4 -0.4M61.2 115.2l0.0 1.5M66.4 114.6l1.3 -0.8M66.4 114.6l0.5 1.4M70.6 116.6l1.5 0.2M70.6 116.6l-0.6 1.4M74.3 113.9l-1.4 -0.6M74.3 113.9l1.0 -1.2M76.6 116.5l0.5 1.4M76.6 116.5l-1.5 0.2M82.0 114.1l-1.5 -0.2M82.0 114.1l0.6 -1.4M84.5 114.8l-1.5 -0.3M84.5 114.8l0.7 -1.3M89.3 113.8l0.8 1.3M89.3 113.8l-1.4 0.4M91.8 116.0l1.3 0.8M91.8 116.0l-1.1 1.0M97.3 113.8l-1.5 0.2M97.3 113.8l0.2 -1.5M100.2 115.7l1.4 0.5M100.2 115.7l-0.8 1.3M104.8 115.0l0.8 -1.3M104.8 115.0l1.0 1.1M108.9 114.3l1.1 -1.0M108.9 114.3l0.7 1.4M110.2 114.1l1.5 0.1M110.2 114.1l-0.5 1.4M115.4 114.1l0.5 -1.4M115.4 114.1l1.3 0.8M118.2 114.3l0.8 -1.3M118.2 114.3l1.0 1.1M121.4 116.6l1.5 0.4M121.4 116.6l-0.7 1.3M126.0 116.6l-1.3 -0.8M126.0 116.6l1.1 -1.0M131.0 114.4l-1.5 0.2M131.0 114.4l0.1 -1.5M135.4 113.7l0.7 1.3M135.4 113.7l-1.5 0.3M139.4 113.8l0.6 -1.4M139.4 113.8l1.2 0.9M26.5 117.5l-1.4 -0.6M26.5 117.5l0.9 -1.2M31.0 117.8l0.6 -1.4M31.0 117.8l1.2 0.9M34.9 117.6l1.4 -0.6M34.9 117.6l0.2 1.5M37.8 118.1l1.5 -0.3M37.8 118.1l-0.1 1.5M40.9 119.0l-0.8 -1.3M40.9 119.0l1.4 -0.4M45.0 118.7l1.0 -1.1M45.0 118.7l0.8 1.3M49.6 118.1l1.4 0.6M49.6 118.1l-0.9 1.2M52.0 119.6l-0.8 1.3M52.0 119.6l-1.0 -1.1M56.2 120.3l-1.5 0.2M56.2 120.3l0.1 -1.5M60.3 118.9l-1.5 -0.1M60.3 118.9l0.5 -1.4M62.9 117.6l-1.0 1.1M62.9 117.6l-0.8 -1.3M67.0 119.4l0.6 -1.4M67.0 119.4l1.2 0.9M72.5 120.4l-1.3 -0.7M72.5 120.4l1.0 -1.1M75.6 119.6l0.9 -1.2M75.6 119.6l1.0 1.1M79.1 117.7l-1.4 0.5M79.1 117.7l-0.2 -1.5M83.1 119.6l1.4 -0.5M83.1 119.6l0.2 1.5M88.1 120.4l-0.9 1.2M88.1 120.4l-0.9 -1.2M92.0 119.2l1.5 -0.1M92.0 119.2l-0.3 1.5M94.9 119.0l-1.4 -0.6M94.9 119.0l0.9 -1.2M98.5 119.6l-1.1 1.0M98.5 119.6l-0.7 -1.3M102.6 120.1l-1.1 -1.0M102.6 120.1l1.3 -0.8M106.0 118.9l1.2 0.9M106.0 118.9l-1.2 0.9M111.0 119.5l-0.6 -1.4M111.0 119.5l1.5 -0.2M113.8 119.2l-1.2 -0.9M113.8 119.2l1.2 -1.0M118.5 119.3l0.5 -1.4M118.5 119.3l1.2 0.8M120.6 118.4l1.3 0.7M120.6 118.4l-1.0 1.1M125.5 117.6l-1.3 0.7M125.5 117.6l-0.4 -1.5M128.8 120.2l-1.3 -0.8M128.8 120.2l1.1 -1.1M132.0 118.8l1.4 0.6M132.0 118.8l-0.9 1.2M137.2 120.3l0.1 -1.5M137.2 120.3l1.4 0.5M28.4 122.5l1.2 -0.9M28.4 122.5l0.6 1.4M31.7 123.2l-1.1 -1.1M31.7 123.2l1.3 -0.8M35.2 123.7l0.1 -1.5M35.2 123.7l1.4 0.5M38.0 123.6l1.4 -0.5M38.0 123.6l0.1 1.5M44.0 122.2l-1.4 0.4M44.0 122.2l-0.1 -1.5M45.6 122.3l-1.5 -0.1M45.6 122.3l0.5 -1.4M51.1 123.7l1.1 -1.0M51.1 123.7l0.7 1.3M55.8 121.9l-0.7 -1.3M55.8 121.9l1.5 -0.3M57.2 121.7l-0.3 1.5M57.2 121.7l-1.4 -0.6M63.7 123.2l-1.3 -0.8M63.7 123.2l1.1 -1.0M64.9 123.4l0.2 -1.5M64.9 123.4l1.4 0.5M71.2 123.1l0.8 -1.2M71.2 123.1l1.0 1.1M72.8 124.2l1.0 1.1M72.8 124.2l-1.3 0.7M78.0 121.9l0.7 1.3M78.0 121.9l-1.4 0.4M82.0 122.8l-0.6 -1.4M82.0 122.8l1.5 -0.2M85.3 122.4l-0.3 -1.5M85.3 122.4l1.5 0.1M88.2 122.6l-0.2 -1.5M88.2 122.6l1.5 0.2M92.7 122.7l-1.5 0.1M92.7 122.7l0.3 -1.5M97.5 121.5l-1.1 1.0M97.5 121.5l-0.7 -1.3M99.3 124.1l1.5 -0.4M99.3 124.1l-0.0 1.5M104.4 123.2l-0.0 1.5M104.4 123.2l-1.4 -0.4M108.2 122.0l-0.3 1.5M108.2 122.0l-1.3 -0.7M111.3 121.9l1.5 0.2M111.3 121.9l-0.6 1.4M114.4 124.3l1.3 0.8M114.4 124.3l-1.1 1.1M120.0 123.9l-1.1 -1.1M120.0 123.9l1.3 -0.8M121.6 123.4l-0.8 -1.3M121.6 123.4l1.4 -0.4M126.3 122.8l0.3 1.5M126.3 122.8l-1.5 -0.1M131.2 121.4l-0.1 -1.5M131.2 121.4l1.5 0.3M134.1 123.0l0.7 1.3M134.1 123.0l-1.5 0.4M139.4 122.9l-1.0 1.1M139.4 122.9l-0.8 -1.3M26.9 126.9l-1.0 -1.1M26.9 126.9l1.3 -0.7M29.8 126.8l0.3 -1.5M29.8 126.8l1.4 0.6M33.5 125.1l-1.4 0.4M33.5 125.1l-0.1 -1.5M37.4 125.4l0.5 -1.4M37.4 125.4l1.2 0.9M41.8 126.6l-1.5 0.3M41.8 126.6l0.1 -1.5M46.7 127.4l-0.8 -1.3M46.7 127.4l1.4 -0.4M50.2 128.1l0.8 -1.3M50.2 128.1l1.1 1.0M52.5 126.2l-1.4 -0.6M52.5 126.2l0.9 -1.2M56.2 125.4l-1.4 -0.6M56.2 125.4l0.9 -1.2M60.9 126.6l1.4 -0.6M60.9 126.6l0.3 1.5M63.5 127.9l1.5 0.3M63.5 127.9l-0.7 1.3M69.8 125.3l1.5 0.2M69.8 125.3l-0.5 1.4M70.7 125.3l1.5 0.3M70.7 125.3l-0.7 1.3M76.7 127.7l-0.6 1.4M76.7 127.7l-1.2 -0.9M78.5 125.1l-1.5 -0.4M78.5 125.1l0.7 -1.3M83.7 126.1l-1.1 -1.0M83.7 126.1l1.3 -0.8M86.0 125.1l-0.6 -1.4M86.0 125.1l1.5 -0.3M90.3 125.7l1.5 0.2M90.3 125.7l-0.5 1.4M94.4 126.8l1.1 -1.1M94.4 126.8l0.8 1.3M98.1 125.8l0.1 1.5M98.1 125.8l-1.5 -0.3M101.7 127.8l1.5 -0.3M101.7 127.8l-0.1 1.5M105.6 126.8l-0.8 1.2M105.6 126.8l-1.0 -1.1M110.1 126.1l0.8 -1.2M110.1 126.1l1.0 1.1M113.7 125.2l-0.3 -1.5M113.7 125.2l1.5 0.0M116.9 127.0l1.5 0.2M116.9 127.0l-0.6 1.4M122.4 125.8l-1.5 -0.1M122.4 125.8l0.5 -1.4M124.4 127.8l-1.2 0.9M124.4 127.8l-0.6 -1.4M128.0 127.5l1.5 -0.1M128.0 127.5l-0.3 1.5M134.1 125.5l0.2 1.5M134.1 125.5l-1.5 -0.2M137.8 125.6l-1.2 0.9M137.8 125.6l-0.6 -1.4M24.9 129.9l0.7 1.3M24.9 129.9l-1.5 0.3M29.6 130.2l1.5 0.0M29.6 130.2l-0.4 1.4M34.0 130.9l-1.5 -0.4M34.0 130.9l0.7 -1.3M35.8 129.5l-1.1 -1.0M35.8 129.5l1.3 -0.8M41.5 129.3l0.8 1.3M41.5 129.3l-1.4 0.4M45.9 131.3l0.8 -1.3M45.9 131.3l1.0 1.1M47.5 129.8l0.3 1.5M47.5 129.8l-1.5 -0.1M51.4 130.2l1.4 -0.6M51.4 130.2l0.2 1.5M55.2 129.0l-0.7 -1.3M55.2 129.0l1.5 -0.3M59.0 129.5l1.5 -0.3M59.0 129.5l-0.1 1.5M63.1 130.3l-1.4 0.6M63.1 130.3l-0.2 -1.5M68.5 130.9l0.8 -1.3M68.5 130.9l1.0 1.1M71.5 131.5l-1.2 -0.9M71.5 131.5l1.2 -0.9M74.6 130.2l-0.3 -1.5M74.6 130.2l1.5 0.0M78.0 131.4l-1.3 0.8M78.0 131.4l-0.5 -1.4M83.7 131.6l-1.5 -0.1M83.7 131.6l0.5 -1.4M86.7 129.3l-0.2 1.5M86.7 129.3l-1.4 -0.6M88.9 131.3l-0.8 1.3M88.9 131.3l-1.0 -1.1M95.1 130.5l1.3 -0.7M95.1 130.5l0.3 1.5M99.0 131.7l1.3 0.7M99.0 131.7l-1.0 1.1M102.3 130.0l0.7 -1.3M102.3 130.0l1.1 1.0M105.2 130.0l-0.0 -1.5M105.2 130.0l1.5 0.4M108.9 130.3l0.8 1.3M108.9 130.3l-1.4 0.4M111.5 129.3l-1.4 0.6M111.5 129.3l-0.3 -1.5M115.8 130.6l0.8 -1.3M115.8 130.6l1.1 1.1M121.7 131.0l-1.5 -0.1M121.7 131.0l0.4 -1.4M123.3 130.3l-1.5 -0.1M123.3 130.3l0.4 -1.4M128.5 129.3l-1.5 -0.0M128.5 129.3l0.4 -1.4M130.7 130.7l0.7 1.3M130.7 130.7l-1.5 0.4M135.0 130.8l1.5 -0.1M135.0 130.8l-0.3 1.5M138.6 131.5l-0.0 -1.5M138.6 131.5l1.5 0.4M26.4 134.4l-0.3 1.5M26.4 134.4l-1.3 -0.7M31.5 135.5l-0.9 1.2M31.5 135.5l-1.0 -1.1M35.2 134.8l-0.4 -1.4M35.2 134.8l1.5 -0.0M36.7 133.3l1.0 -1.1M36.7 133.3l0.8 1.3M41.9 135.7l-1.4 -0.5M41.9 135.7l0.8 -1.3M46.3 133.3l-0.3 1.5M46.3 133.3l-1.3 -0.7M48.9 135.6l-0.9 1.2M48.9 135.6l-0.9 -1.2M53.2 135.3l-1.4 -0.4M53.2 135.3l0.8 -1.3M58.1 135.1l1.1 -1.0M58.1 135.1l0.7 1.3M61.2 134.7l-0.4 -1.4M61.2 134.7l1.5 -0.1M64.1 133.1l0.2 1.5M64.1 133.1l-1.5 -0.1M69.7 132.8l1.5 0.2M69.7 132.8l-0.5 1.4M71.5 134.6l-0.8 -1.3M71.5 134.6l1.4 -0.5M77.4 133.3l-0.1 1.5M77.4 133.3l-1.4 -0.5M79.0 135.3l1.1 -1.0M79.0 135.3l0.8 1.3M83.1 133.9l0.8 1.3M83.1 133.9l-1.4 0.5M87.0 132.9l1.5 -0.0M87.0 132.9l-0.3 1.5M92.5 134.8l0.5 -1.4M92.5 134.8l1.3 0.8M93.5 133.0l-0.0 1.5M93.5 133.0l-1.4 -0.4M97.7 133.8l1.5 0.1M97.7 133.8l-0.5 1.4M103.7 133.1l0.6 -1.4M103.7 133.1l1.2 1.0M105.6 133.6l1.2 1.0M105.6 133.6l-1.2 0.9M110.2 135.4l0.9 1.2M110.2 135.4l-1.4 0.5M114.1 135.4l-1.1 1.0M114.1 135.4l-0.7 -1.3M117.9 134.0l0.7 1.3M117.9 134.0l-1.5 0.4M122.7 134.5l1.2 0.8M122.7 134.5l-1.1 1.0M125.3 134.2l-1.4 -0.5M125.3 134.2l0.8 -1.3M128.7 134.0l-0.8 -1.2M128.7 134.0l1.4 -0.5M131.7 133.3l0.3 -1.5M131.7 133.3l1.3 0.7M137.6 133.1l1.4 0.5M137.6 133.1l-0.9 1.2" stroke="#c9c9c9" stroke-width="0.9" fill="none" stroke-linecap="round"/>
<path d="M29.4 23.3h0M32.4 23.9h0M36.7 24.9h0M38.8 22.6h0M44.8 23.8h0M48.4 22.5h0M51.3 24.7h0M54.4 25.3h0M60.2 22.6h0M61.4 24.1h0M67.9 23.7h0M69.6 23.8h0M72.8 23.2h0M77.8 24.0h0M81.0 23.2h0M84.8 23.9h0M88.8 22.6h0M94.2 24.2h0M97.4 23.1h0M102.3 25.1h0M103.5 23.5h0M109.1 24.6h0M113.5 23.8h0M117.0 24.5h0M119.2 24.3h0M124.8 25.0h0M127.4 24.3h0M129.8 23.2h0M135.9 23.8h0M137.8 24.2h0M28.6 27.4h0M31.7 27.8h0M36.5 27.9h0M39.2 27.8h0M41.9 26.4h0M47.7 29.3h0M51.2 27.5h0M53.7 27.8h0M59.9 28.6h0M62.4 28.9h0M65.3 27.9h0M71.2 28.0h0M73.5 27.1h0M77.6 29.2h0M79.8 28.7h0M86.0 29.0h0M89.6 28.7h0M92.7 28.0h0M96.2 26.5h0M101.4 28.0h0M103.2 27.8h0M107.8 27.4h0M111.2 27.9h0M115.8 28.1h0M119.1 26.4h0M122.3 26.8h0M127.1 28.9h0M131.6 28.7h0M135.4 27.1h0M139.3 28.3h0M24.3 30.2h0M30.3 30.9h0M32.1 32.0h0M36.6 30.3h0M39.9 31.7h0M43.7 30.9h0M49.2 31.5h0M51.8 31.5h0M54.7 31.3h0M59.7 30.7h0M62.5 32.8h0M67.5 30.7h0M71.6 32.6h0M73.7 30.2h0M77.9 32.3h0M81.7 32.2h0M87.1 31.7h0M89.5 33.0h0M95.0 31.7h0M97.1 32.1h0M101.4 31.8h0M105.0 32.0h0M108.0 31.0h0M114.5 32.7h0M116.3 32.7h0M120.1 32.9h0M125.2 31.4h0M127.6 30.1h0M133.3 30.2h0M136.9 33.0h0M139.9 30.6h0M30.1 36.0h0M32.5 35.0h0M35.8 34.5h0M40.6 35.2h0M43.0 34.2h0M48.2 34.8h0M51.5 34.9h0M56.4 36.6h0M57.7 34.5h0M62.4 36.9h0M67.5 34.9h0M69.6 35.9h0M75.3 36.7h0M77.6 36.6h0M82.5 35.4h0M87.2 34.6h0M90.2 34.2h0M92.3 36.6h0M96.2 36.2h0M101.2 36.4h0M104.3 34.9h0M107.9 36.5h0M112.6 36.8h0M117.3 34.3h0M120.1 34.2h0M122.3 34.1h0M128.6 36.3h0M132.3 34.9h0M135.4 36.3h0M138.5 35.6h0M25.0 38.5h0M31.2 39.4h0M35.1 39.1h0M37.0 40.1h0M42.4 37.7h0M45.8 38.0h0M47.9 40.4h0M51.5 38.4h0M58.1 39.0h0M59.3 38.2h0M63.5 39.9h0M66.9 40.4h0M71.5 40.6h0M76.9 38.6h0M78.7 39.1h0M82.1 39.7h0M85.7 37.7h0M92.3 38.6h0M94.9 39.1h0M97.9 37.9h0M103.5 40.6h0M107.5 38.0h0M109.0 39.6h0M115.1 39.3h0M118.0 39.7h0M120.5 39.3h0M124.5 38.4h0M127.6 38.6h0M134.1 39.1h0M136.9 39.6h0M28.6 42.4h0M32.3 42.5h0M37.6 44.2h0M39.8 42.5h0M44.3 43.2h0M48.3 42.2h0M50.3 42.2h0M54.3 43.2h0M58.1 41.7h0M63.6 42.4h0M67.9 43.0h0M71.9 42.0h0M74.6 43.9h0M77.1 44.4h0M81.2 43.8h0M87.4 44.0h0M89.2 41.8h0M93.6 44.3h0M96.8 44.2h0M100.1 44.2h0M103.6 42.5h0M110.0 43.9h0M113.8 44.0h0M117.1 43.6h0M119.2 42.8h0M122.9 43.7h0M128.3 42.3h0M130.3 44.4h0M136.3 43.2h0M139.3 44.1h0M26.8 46.3h0M30.2 45.4h0M35.2 46.6h0M38.7 45.5h0M41.9 45.7h0M45.0 46.1h0M50.9 46.5h0M53.4 47.1h0M56.7 45.3h0M61.4 46.8h0M65.6 46.6h0M69.5 47.5h0M71.9 46.8h0M76.5 46.0h0M80.1 47.0h0M85.3 48.1h0M87.2 47.2h0M90.4 45.5h0M95.6 47.9h0M98.3 47.6h0M104.3 46.2h0M107.5 47.9h0M110.3 47.4h0M115.2 47.1h0M119.4 48.0h0M123.5 47.0h0M125.0 46.1h0M128.9 47.0h0M134.3 45.5h0M137.9 47.5h0M26.8 49.6h0M31.2 49.2h0M35.8 51.5h0M38.5 49.9h0M43.2 52.0h0M44.6 51.4h0M50.5 51.1h0M53.9 50.4h0M58.4 52.0h0M60.6 51.5h0M64.5 49.6h0M68.0 49.5h0M73.5 52.0h0M75.0 50.9h0M79.6 49.5h0M83.1 49.9h0M88.3 49.1h0M90.4 50.4h0M93.7 51.0h0M99.2 51.6h0M101.8 50.0h0M106.6 49.9h0M110.6 49.9h0M114.7 51.5h0M118.8 52.0h0M121.9 50.6h0M126.6 51.4h0M129.5 50.3h0M132.5 49.4h0M137.8 49.5h0M28.4 55.8h0M32.8 55.8h0M34.7 54.4h0M39.9 53.8h0M43.4 54.0h0M47.3 52.9h0M50.9 54.3h0M54.3 54.1h0M59.5 55.0h0M62.4 54.9h0M65.9 53.5h0M68.6 53.7h0M74.1 55.6h0M78.6 54.4h0M82.9 54.3h0M86.2 54.1h0M89.8 55.9h0M92.3 53.4h0M97.0 54.5h0M100.0 52.9h0M103.9 54.2h0M107.8 55.5h0M112.1 55.1h0M116.8 55.2h0M119.4 55.1h0M123.7 54.9h0M127.4 54.1h0M131.2 54.8h0M136.0 55.3h0M139.5 55.2h0M28.8 57.8h0M31.6 58.8h0M37.2 58.3h0M38.9 59.2h0M43.7 58.1h0M46.1 58.2h0M52.0 58.0h0M54.7 58.7h0M57.5 58.2h0M64.0 58.8h0M66.2 58.8h0M70.6 57.3h0M73.2 59.4h0M77.2 56.9h0M82.7 58.3h0M85.1 58.2h0M90.0 57.2h0M93.6 58.9h0M97.8 57.5h0M101.0 57.4h0M104.7 57.2h0M109.2 59.3h0M111.6 57.4h0M117.3 58.8h0M120.7 56.8h0M124.7 58.6h0M126.7 58.0h0M131.9 59.1h0M134.0 58.6h0M137.7 59.6h0M28.3 62.7h0M31.2 61.3h0M34.8 60.9h0M37.4 62.7h0M41.9 62.8h0M45.3 62.7h0M50.5 61.4h0M52.5 61.7h0M57.5 60.8h0M60.3 60.7h0M65.4 63.2h0M68.0 60.6h0M73.3 63.0h0M77.9 62.4h0M79.8 63.0h0M82.9 62.6h0M86.7 61.7h0M91.7 61.6h0M94.5 61.2h0M100.2 61.9h0M103.3 61.1h0M107.5 61.5h0M111.0 63.2h0M116.0 60.6h0M119.2 63.1h0M121.5 61.7h0M126.1 63.3h0M129.4 63.2h0M134.3 61.0h0M138.5 60.6h0M26.4 64.5h0M29.4 64.7h0M33.4 66.8h0M38.6 64.4h0M39.8 66.8h0M43.6 65.1h0M47.6 64.6h0M51.1 66.2h0M57.1 66.4h0M61.2 66.3h0M63.6 66.2h0M69.2 66.2h0M70.8 64.5h0M76.7 66.1h0M78.7 66.1h0M83.1 65.9h0M85.4 65.4h0M90.3 64.9h0M95.5 65.6h0M98.6 66.5h0M102.7 66.5h0M106.5 65.1h0M111.0 64.8h0M114.6 66.9h0M118.2 64.5h0M119.7 66.7h0M124.7 65.4h0M130.0 64.4h0M132.4 65.6h0M135.0 65.5h0M140.6 67.0h0M25.6 68.4h0M30.2 68.4h0M31.7 69.3h0M37.6 69.1h0M39.6 70.5h0M45.4 70.7h0M47.7 69.4h0M51.3 69.8h0M55.4 69.1h0M60.5 71.0h0M63.7 68.4h0M67.8 69.5h0M72.6 70.3h0M75.9 70.2h0M78.8 70.8h0M83.5 69.0h0M85.3 69.2h0M90.2 68.4h0M93.4 69.8h0M96.3 70.6h0M101.9 69.1h0M104.7 69.2h0M108.6 70.4h0M112.9 69.7h0M115.6 70.9h0M120.0 69.1h0M123.0 71.0h0M128.0 70.8h0M133.2 71.0h0M136.6 70.9h0M140.8 70.5h0M26.0 73.6h0M31.2 74.3h0M34.1 74.2h0M36.9 74.7h0M41.5 73.1h0M44.8 74.8h0M48.8 72.4h0M51.5 74.0h0M56.5 74.6h0M59.2 73.1h0M64.6 72.1h0M66.5 73.5h0M70.8 72.2h0M74.6 73.8h0M79.2 72.1h0M81.6 74.5h0M87.1 72.4h0M91.6 72.0h0M93.9 74.5h0M98.7 72.8h0M103.1 73.7h0M106.8 74.6h0M109.3 73.9h0M113.4 74.7h0M118.0 74.1h0M121.9 74.9h0M124.0 72.5h0M129.3 74.2h0M132.4 73.4h0M135.8 74.6h0M140.8 73.7h0M26.6 77.1h0M28.4 76.6h0M33.7 75.7h0M35.8 76.6h0M41.9 78.0h0M46.0 77.3h0M48.6 77.4h0M52.2 77.3h0M56.9 78.6h0M59.5 77.6h0M63.0 76.6h0M67.4 77.5h0M71.3 78.6h0M73.9 77.6h0M80.2 77.9h0M82.8 76.8h0M86.1 78.5h0M91.3 77.7h0M95.1 78.5h0M98.8 76.9h0M101.4 78.1h0M105.0 78.0h0M109.1 76.7h0M112.8 76.1h0M116.3 77.0h0M119.1 76.2h0M123.6 78.3h0M128.4 76.6h0M133.4 76.5h0M135.8 77.9h0M140.1 77.0h0M28.3 81.7h0M32.1 82.4h0M36.6 79.8h0M38.6 82.4h0M42.7 79.6h0M46.6 80.9h0M52.5 80.7h0M55.6 82.0h0M57.5 81.3h0M64.0 81.2h0M66.5 80.6h0M71.5 82.4h0M72.8 81.2h0M77.5 81.5h0M80.4 80.3h0M84.7 80.9h0M90.0 82.1h0M93.8 81.5h0M95.5 80.7h0M101.1 80.4h0M104.4 82.2h0M107.0 82.1h0M110.8 80.7h0M117.0 80.1h0M119.6 80.8h0M124.5 82.5h0M126.5 81.0h0M132.1 81.1h0M133.9 81.8h0M138.1 81.0h0M26.9 85.3h0M30.5 86.2h0M32.3 84.9h0M36.7 85.6h0M41.7 84.0h0M43.8 85.4h0M48.0 83.7h0M51.1 85.0h0M56.1 86.2h0M59.7 85.1h0M62.4 84.6h0M66.6 85.4h0M70.3 84.0h0M74.4 84.7h0M78.1 85.1h0M81.5 86.0h0M86.8 84.9h0M88.7 84.3h0M94.4 85.2h0M98.6 86.0h0M100.9 84.8h0M104.7 83.7h0M108.0 84.1h0M111.6 84.9h0M117.2 85.0h0M121.0 84.0h0M123.3 85.0h0M129.2 84.6h0M130.3 83.4h0M135.0 85.2h0M138.2 84.0h0M29.4 88.1h0M32.1 88.7h0M34.2 88.1h0M38.3 87.9h0M44.0 89.2h0M45.6 87.3h0M51.5 87.4h0M54.0 87.9h0M57.0 87.2h0M61.1 88.3h0M67.3 89.0h0M69.0 89.1h0M72.9 88.7h0M76.9 90.0h0M80.7 89.5h0M85.4 89.6h0M89.1 89.7h0M92.3 89.1h0M96.7 88.7h0M100.4 88.7h0M103.7 89.8h0M108.2 88.8h0M110.2 88.6h0M114.4 87.8h0M119.0 88.7h0M122.2 87.9h0M126.9 88.5h0M130.3 87.4h0M134.0 89.1h0M138.3 88.7h0M29.3 93.0h0M31.0 91.8h0M36.8 91.4h0M41.2 91.3h0M44.9 91.6h0M48.6 93.5h0M50.9 93.6h0M54.2 93.5h0M58.7 92.2h0M61.7 92.7h0M65.9 92.9h0M71.3 92.7h0M72.7 93.8h0M79.3 92.8h0M81.4 92.6h0M86.8 92.3h0M90.2 92.7h0M93.0 93.7h0M96.7 92.7h0M99.5 92.3h0M103.2 93.0h0M106.9 91.0h0M111.0 91.3h0M116.0 92.0h0M119.1 93.9h0M124.8 92.9h0M128.3 93.4h0M130.4 93.3h0M134.2 92.6h0M138.4 91.4h0M29.6 95.7h0M33.3 95.7h0M36.4 97.7h0M40.6 94.9h0M43.4 95.8h0M46.7 97.2h0M51.0 96.8h0M55.4 96.3h0M57.4 96.7h0M63.7 95.2h0M66.8 96.2h0M69.7 96.8h0M75.4 94.8h0M78.9 95.9h0M82.6 95.2h0M86.0 95.0h0M88.7 97.6h0M93.4 97.1h0M96.6 96.1h0M100.5 97.0h0M105.0 95.3h0M108.0 96.3h0M112.2 97.5h0M116.8 95.2h0M119.2 95.0h0M121.9 94.9h0M126.2 97.0h0M131.5 97.1h0M134.1 95.2h0M140.0 97.2h0M27.6 99.7h0M33.2 100.7h0M37.8 100.1h0M40.1 98.5h0M45.1 101.5h0M49.2 100.5h0M51.3 99.2h0M56.4 101.3h0M60.8 99.0h0M63.5 100.0h0M66.8 100.9h0M72.1 100.7h0M75.2 100.6h0M78.9 100.1h0M81.4 100.8h0M84.9 100.4h0M89.5 100.2h0M94.0 99.9h0M98.8 99.2h0M99.7 101.4h0M104.4 99.3h0M108.5 100.3h0M114.1 100.6h0M115.9 100.1h0M120.0 100.0h0M123.8 99.0h0M127.5 99.7h0M130.7 101.0h0M135.0 99.0h0M139.4 101.0h0M28.7 104.5h0M31.7 102.7h0M35.2 103.4h0M39.1 103.7h0M42.5 102.7h0M46.6 102.9h0M52.1 103.9h0M54.1 103.6h0M59.9 104.0h0M62.7 103.5h0M65.5 104.2h0M68.9 104.7h0M72.6 104.5h0M77.4 104.4h0M81.8 102.7h0M85.5 102.5h0M88.4 103.5h0M92.3 104.3h0M98.2 103.4h0M101.6 103.0h0M105.0 103.4h0M108.3 102.6h0M112.9 102.9h0M115.7 103.2h0M120.5 104.1h0M123.7 104.6h0M126.4 102.5h0M132.0 103.3h0M135.7 105.2h0M139.0 102.6h0M29.0 106.8h0M31.6 107.6h0M35.1 108.8h0M40.7 108.6h0M43.5 108.9h0M46.5 108.3h0M50.7 106.1h0M54.1 106.7h0M59.8 107.2h0M62.8 108.0h0M65.9 108.0h0M71.0 108.9h0M74.3 108.7h0M79.4 108.4h0M81.6 106.9h0M84.4 108.6h0M88.3 107.8h0M93.1 106.2h0M96.2 108.6h0M101.0 108.9h0M105.9 106.4h0M109.0 106.2h0M112.0 107.4h0M117.4 107.9h0M118.9 107.6h0M123.7 106.7h0M127.0 108.7h0M132.7 108.4h0M133.7 108.8h0M138.7 108.6h0M25.0 112.6h0M29.2 110.0h0M33.7 112.9h0M38.5 111.1h0M42.8 112.3h0M46.1 111.8h0M48.6 112.6h0M52.6 112.7h0M56.6 112.6h0M60.2 111.2h0M64.3 110.9h0M66.8 111.7h0M72.7 110.7h0M76.6 112.3h0M80.1 111.2h0M84.6 112.3h0M87.1 110.3h0M90.9 110.0h0M95.7 110.9h0M97.9 111.6h0M102.5 111.7h0M105.8 111.8h0M110.7 111.2h0M113.5 112.3h0M115.8 110.4h0M120.5 110.6h0M126.1 110.4h0M127.5 110.9h0M132.5 112.4h0M137.8 112.5h0M26.3 113.9h0M31.9 116.2h0M34.6 116.6h0M39.3 115.4h0M43.3 113.9h0M45.7 116.5h0M49.8 114.0h0M53.7 115.9h0M57.4 114.3h0M61.2 115.2h0M66.4 114.6h0M70.6 116.6h0M74.3 113.9h0M76.6 116.5h0M82.0 114.1h0M84.5 114.8h0M89.3 113.8h0M91.8 116.0h0M97.3 113.8h0M100.2 115.7h0M104.8 115.0h0M108.9 114.3h0M110.2 114.1h0M115.4 114.1h0M118.2 114.3h0M121.4 116.6h0M126.0 116.6h0M131.0 114.4h0M135.4 113.7h0M139.4 113.8h0M26.5 117.5h0M31.0 117.8h0M34.9 117.6h0M37.8 118.1h0M40.9 119.0h0M45.0 118.7h0M49.6 118.1h0M52.0 119.6h0M56.2 120.3h0M60.3 118.9h0M62.9 117.6h0M67.0 119.4h0M72.5 120.4h0M75.6 119.6h0M79.1 117.7h0M83.1 119.6h0M88.1 120.4h0M92.0 119.2h0M94.9 119.0h0M98.5 119.6h0M102.6 120.1h0M106.0 118.9h0M111.0 119.5h0M113.8 119.2h0M118.5 119.3h0M120.6 118.4h0M125.5 117.6h0M128.8 120.2h0M132.0 118.8h0M137.2 120.3h0M28.4 122.5h0M31.7 123.2h0M35.2 123.7h0M38.0 123.6h0M44.0 122.2h0M45.6 122.3h0M51.1 123.7h0M55.8 121.9h0M57.2 121.7h0M63.7 123.2h0M64.9 123.4h0M71.2 123.1h0M72.8 124.2h0M78.0 121.9h0M82.0 122.8h0M85.3 122.4h0M88.2 122.6h0M92.7 122.7h0M97.5 121.5h0M99.3 124.1h0M104.4 123.2h0M108.2 122.0h0M111.3 121.9h0M114.4 124.3h0M120.0 123.9h0M121.6 123.4h0M126.3 122.8h0M131.2 121.4h0M134.1 123.0h0M139.4 122.9h0M26.9 126.9h0M29.8 126.8h0M33.5 125.1h0M37.4 125.4h0M41.8 126.6h0M46.7 127.4h0M50.2 128.1h0M52.5 126.2h0M56.2 125.4h0M60.9 126.6h0M63.5 127.9h0M69.8 125.3h0M70.7 125.3h0M76.7 127.7h0M78.5 125.1h0M83.7 126.1h0M86.0 125.1h0M90.3 125.7h0M94.4 126.8h0M98.1 125.8h0M101.7 127.8h0M105.6 126.8h0M110.1 126.1h0M113.7 125.2h0M116.9 127.0h0M122.4 125.8h0M124.4 127.8h0M128.0 127.5h0M134.1 125.5h0M137.8 125.6h0M24.9 129.9h0M29.6 130.2h0M34.0 130.9h0M35.8 129.5h0M41.5 129.3h0M45.9 131.3h0M47.5 129.8h0M51.4 130.2h0M55.2 129.0h0M59.0 129.5h0M63.1 130.3h0M68.5 130.9h0M71.5 131.5h0M74.6 130.2h0M78.0 131.4h0M83.7 131.6h0M86.7 129.3h0M88.9 131.3h0M95.1 130.5h0M99.0 131.7h0M102.3 130.0h0M105.2 130.0h0M108.9 130.3h0M111.5 129.3h0M115.8 130.6h0M121.7 131.0h0M123.3 130.3h0M128.5 129.3h0M130.7 130.7h0M135.0 130.8h0M138.6 131.5h0M26.4 134.4h0M31.5 135.5h0M35.2 134.8h0M36.7 133.3h0M41.9 135.7h0M46.3 133.3h0M48.9 135.6h0M53.2 135.3h0M58.1 135.1h0M61.2 134.7h0M64.1 133.1h0M69.7 132.8h0M71.5 134.6h0M77.4 133.3h0M79.0 135.3h0M83.1 133.9h0M87.0 132.9h0M92.5 134.8h0M93.5 133.0h0M97.7 133.8h0M103.7 133.1h0M105.6 133.6h0M110.2 135.4h0M114.1 135.4h0M117.9 134.0h0M122.7 134.5h0M125.3 134.2h0M128.7 134.0h0M131.7 133.3h0M137.6 133.1h0" stroke="#f4caca" stroke-width="1.6" stroke-linecap="round" fill="none"/>
<path d="M31.3 77.6l-0.1 -1.9M93.6 36.2l2.6 -1.9M132.7 68.0l2.7 1.6M76.0 63.5l-2.6 1.3M108.8 73.4l-0.2 1.8M31.5 133.7l1.6 -0.3M93.4 134.9l-3.1 -1.6M42.1 105.9l0.9 -1.5M48.8 131.9l0.3 2.7M129.9 104.9l0.3 -2.1M122.8 39.3l-2.0 1.5M106.1 27.4l2.0 1.0M43.2 127.7l-2.5 0.9M74.2 121.9l2.9 -1.5M34.7 93.4l0.6 -3.3M89.1 77.3l0.7 1.4M28.2 55.4l-0.4 -2.3M87.5 54.6l3.3 -0.6M55.7 67.5l1.8 1.4M53.1 106.7l-1.1 2.7M28.4 104.4l-1.4 -1.6M113.8 122.4l2.4 -1.6M75.7 90.5l0.2 -2.1M126.6 113.6l-1.0 -2.8M31.3 116.6l-2.7 0.9M100.0 72.0l-0.3 -3.2M139.4 25.5l2.6 -1.6M93.7 110.8l-1.3 1.9M30.1 129.8l0.9 -2.4M95.6 117.8l1.3 2.3M108.3 90.2l2.0 -0.3M103.3 112.7l-2.6 2.1M72.6 40.3l1.1 2.0M138.5 128.3l2.3 -1.7M83.1 97.0l-2.7 -2.1M70.4 68.4l-0.4 -3.1M110.1 41.8l-1.4 -1.5M56.8 52.7l1.7 0.1M102.4 114.6l2.7 2.1M78.8 113.1l1.6 0.4M118.7 34.6l2.7 0.7M30.4 71.0l0.7 -1.6M122.0 127.7l2.7 -0.4M119.5 41.7l-2.9 -1.5M124.6 43.1l1.1 -2.0M84.1 114.8l-1.1 -1.9M123.5 130.1l0.6 -1.5M27.1 89.4l1.4 1.0M125.2 28.9l-0.4 2.1M132.3 131.9l0.5 -2.4M38.8 133.9l0.5 2.7M114.6 81.9l2.5 -2.2M67.3 104.7l2.0 1.3M102.4 55.0l-2.1 2.2M49.6 129.1l1.2 1.5M95.8 49.8l1.2 -1.9M40.0 100.1l-2.5 1.2M38.2 29.6l-0.7 2.4M48.2 47.3l1.0 -1.7M65.2 123.3l3.0 -0.0M41.5 111.1l2.6 1.7M57.0 48.6l-1.6 0.8M101.8 117.7l-1.6 -2.7M43.9 54.7l1.1 -1.8M111.0 88.4l1.1 1.6M131.2 126.8l-1.3 -0.9M27.3 130.9l0.9 -2.8M55.1 127.5l2.6 1.3M104.3 65.9l0.7 -1.7M135.7 130.3l-1.1 1.8M116.5 62.8l-2.4 -1.5M133.7 109.8l-0.4 2.2M34.0 115.6l1.1 -1.6M79.5 63.1l-0.3 1.5M93.6 132.3l1.4 2.6M114.0 84.8l1.4 -1.9M96.6 31.3l1.5 2.2M121.9 77.8l2.3 -1.0M72.4 113.2l2.9 -1.6M101.0 48.1l-0.9 2.4M29.5 57.7l0.5 -1.9M99.7 58.3l1.4 1.6M62.2 55.3l-1.2 3.1M91.3 80.4l-0.2 2.1M117.0 61.7l1.3 1.8M102.6 131.2l1.2 -2.2M44.7 125.0l2.6 0.7M136.7 59.8l-2.1 -0.3M73.0 36.0l-2.1 -2.0M40.2 24.7l0.1 2.2M75.2 105.1l-1.6 -0.2M27.6 74.3l1.5 2.7M110.9 115.6l-1.4 -1.3M116.2 56.6l0.8 1.4M70.1 132.8l-1.1 -2.6M68.9 73.4l2.9 -1.9M63.6 90.8l-1.9 0.2M84.0 33.7l0.7 -2.2M100.4 112.8l0.3 3.4M138.5 79.1l2.5 1.2M103.2 48.5l0.4 -2.0M55.2 33.3l-2.2 -2.0M105.0 58.5l-0.5 1.5M45.5 52.6l0.4 1.5M71.2 24.6l-1.5 -0.0M69.1 34.6l1.5 2.5M33.7 112.9l-1.2 -2.5M86.2 106.2l0.4 2.3M27.4 24.0l-2.4 1.4M136.0 119.6l3.1 1.1M70.8 70.9l0.9 1.4M77.2 85.8l1.7 -2.3M47.4 91.7l0.9 -1.8M58.9 53.0l1.8 -0.3M97.9 64.9l-0.4 -2.5M50.5 121.9l-1.5 -0.4M50.5 42.8l-0.8 1.6M99.3 93.2l-1.5 1.3M98.2 66.5l0.4 -3.2M107.9 131.0l-1.0 3.0M71.9 121.7l-1.5 -1.4M57.5 121.6l-1.8 0.2M91.9 39.7l1.9 0.8M114.2 47.3l1.0 -1.2M64.0 24.0l-1.0 -2.5M115.3 116.9l2.0 -1.3M67.4 93.2l-1.9 0.2M75.0 68.3l1.3 -1.1M108.7 104.3l2.3 -1.4M106.2 37.6l1.1 -1.1M95.1 36.4l0.4 2.9M69.4 102.1l0.3 1.7M65.2 81.4l1.2 -3.0M68.8 131.4l-1.7 -0.7M83.1 101.3l0.1 -1.7M136.9 87.3l2.1 0.1M120.8 29.7l-1.1 2.6M40.0 105.7l-1.7 -1.1M118.3 31.9l1.1 2.8M94.4 48.3l-2.5 2.0M45.2 30.9l-1.9 0.0M103.6 51.5l1.0 2.5M135.4 86.3l3.4 -0.7M111.5 89.2l-1.2 1.2M85.9 44.0l-2.2 -1.0M89.2 89.4l-3.1 -1.2M88.9 37.0l2.2 -2.0M67.5 74.3l-2.1 -0.9M102.1 137.8l3.2 1.1M138.9 122.3l-2.8 0.6M78.9 66.2l1.1 1.6M80.1 55.8l0.7 2.6M57.8 118.8l1.7 1.0M74.0 48.0l1.3 -2.1M32.5 46.9l-0.7 -2.0M59.7 47.6l3.0 0.2M62.7 51.4l2.0 1.5M110.1 131.9l1.4 -0.6M82.2 79.1l-2.2 -0.7M131.7 91.5l-3.2 1.3M84.7 24.4l-2.4 -2.5M100.3 46.4l0.8 -1.3M122.5 38.9l1.0 -1.6M42.2 52.3l-2.9 -0.1M84.1 31.6l3.0 -1.0M67.4 27.8l-2.9 1.8M134.7 42.8l1.1 3.3M64.2 103.2l2.8 -1.4M117.6 93.6l0.7 -1.8M129.0 47.9l2.2 2.1M139.0 110.4l-1.2 -1.2M85.9 43.9l-2.2 -0.6M41.5 85.8l0.8 -2.8M41.5 130.7l2.0 -0.9M137.5 45.3l-2.6 1.9M35.2 68.7l1.9 0.1M66.2 119.0l-1.2 -1.2M116.7 110.4l-0.6 1.7M109.6 130.9l0.4 2.1M63.5 134.2l1.5 0.5M46.3 76.4l1.5 -0.3M116.8 83.7l2.6 -2.2M107.7 52.1l1.3 -0.8M138.6 70.8l-0.4 3.2M82.5 67.7l-0.8 2.2M53.8 82.8l-1.9 0.8M26.1 40.9l0.6 -2.9M131.3 40.6l2.9 -1.5M65.5 132.8l3.2 -0.3M89.2 123.2l1.0 1.5M41.3 103.0l1.8 -0.5M41.1 124.9l1.3 -1.2M29.2 55.4l-0.2 1.5M42.1 119.1l2.2 0.9M107.5 105.3l-0.6 1.6M74.2 64.7l-2.0 0.7M79.9 135.1l2.0 0.1M122.7 80.7l0.4 -1.6M138.8 23.8l0.4 -1.9M107.0 115.6l-0.3 -3.4M50.9 121.1l-1.4 -1.3M50.4 33.9l1.8 -1.2M65.2 37.5l0.9 -2.5M48.9 114.6l-3.0 -0.7M106.3 72.9l-2.0 2.6M46.2 35.1l1.8 -2.2M131.5 93.4l2.4 -0.0M32.7 99.8l-0.0 2.3M67.6 60.9l-2.7 -0.3M33.5 125.8l-1.7 2.4M65.1 37.2l-0.9 1.7M60.3 100.0l-0.8 -1.7M106.2 94.0l1.4 2.3M31.9 99.1l-0.3 2.7M132.9 104.4l-2.5 -0.9M53.8 77.1l2.3 0.8M136.4 81.1l-0.1 -3.3M90.3 38.4l2.5 -0.2M74.4 30.7l-0.5 -3.1M86.4 44.7l-0.5 -1.8M65.2 50.8l-2.8 -0.5M89.4 42.4l0.2 1.9M83.9 133.8l-1.8 -2.7M35.7 26.3l-1.9 -0.5M63.5 107.2l2.7 1.8M72.7 91.5l1.6 0.4M102.6 27.8l-1.4 -1.6M59.8 132.9l1.4 -1.6M69.5 57.2l2.5 2.3M100.0 105.3l-1.7 0.9M97.7 51.6l2.9 -1.8M136.3 48.1l-0.9 3.1M78.7 87.4l-0.4 -1.9M78.4 33.1l3.4 0.7M108.1 94.7l0.6 2.0M130.8 137.3l-2.1 -2.6M70.6 120.1l-0.3 -1.9M131.0 25.1l-0.3 2.5M132.9 63.8l2.3 1.9M102.2 37.2l-0.8 -2.1M73.7 131.2l1.7 -3.0M105.9 67.8l-1.2 1.3M33.2 82.1l1.4 2.2M49.7 81.1l1.9 -1.5M131.4 58.0l1.9 2.2M75.1 100.1l-2.1 -1.1M67.0 48.4l1.9 -0.1M78.2 125.7l1.4 -3.2M96.8 56.1l1.1 -1.2M133.4 74.8l-1.4 -3.0M84.9 117.4l1.3 -2.1M129.8 51.9l1.6 2.4M119.9 70.6l2.3 0.4M51.2 31.7l1.4 2.3M68.9 114.7l0.5 2.7M56.2 56.0l1.8 2.4M57.7 100.3l-1.0 -2.4M101.3 101.6l2.5 1.7M84.8 116.8l1.2 1.0M99.5 58.7l2.1 -0.2" stroke="#b4e6f4" stroke-width="0.7" fill="none" stroke-linecap="round"/>
<path d="M77.1 62.9l-1.5 0.5l-1.1 -1.1l-1.6 -0.4M130.8 136.3l-1.5 0.4l-1.2 -1.0l-1.5 0.7M136.7 67.4l-1.5 0.4l-0.8 1.4l1.0 1.3M136.4 25.5l-0.8 -1.4l-1.1 -1.2l0.1 -1.6M118.9 26.3l0.1 -1.6l-0.4 -1.6l-1.5 -0.7M91.2 25.4l-1.2 1.1l-0.2 1.6l-0.6 1.5M120.3 77.5l-1.4 0.7l0.1 1.6l0.2 1.6M54.1 95.8l1.4 0.8l1.4 0.8l0.5 1.5M31.4 125.3l-0.6 1.5l-1.5 0.7l-1.4 -0.8M131.5 33.0l-1.3 1.0l-0.8 1.4l-1.3 1.0M125.1 46.8l-1.5 0.4l-1.3 1.0l0.2 1.6M111.0 57.1l-1.4 0.8l-1.5 0.6l-1.5 -0.6M76.3 65.2l0.3 -1.6l0.2 -1.6l-1.0 -1.3M103.2 118.4l1.4 -0.7l1.6 -0.1l1.0 -1.3M123.8 38.9l0.2 1.6l1.4 0.9l0.1 1.6M83.4 68.1l-0.4 -1.5l-0.3 -1.6l0.3 -1.6M103.5 73.4l1.0 1.2l0.5 1.5l0.9 1.3M134.7 54.9l0.1 -1.6l-1.1 -1.2l-1.4 -0.8M97.3 100.6l0.1 1.6l1.2 1.0l1.0 1.3M103.3 126.7l-1.4 0.7l-1.6 -0.4l-1.3 -0.9M108.5 30.9l0.3 -1.6l0.9 -1.3l-0.6 -1.5M25.4 26.9l1.4 -0.8l1.5 0.5l1.4 0.7M32.4 137.9l-1.6 -0.0l-1.5 -0.6l-1.6 -0.1M120.0 134.2l-1.0 1.3l-0.7 1.4l-1.5 0.5M82.9 35.1l1.4 0.7l1.5 -0.6l1.6 0.4M94.1 47.7l1.1 1.2l1.6 0.0l0.6 1.5M84.3 60.9l0.9 -1.3l1.3 -0.9l1.6 0.2M77.2 28.5l-0.9 1.3l-1.3 1.0l0.4 1.6M42.4 35.7l-0.6 1.5l-1.6 0.2l-1.6 -0.1M82.6 129.1l-0.3 1.6l-0.8 1.4l0.1 1.6M113.4 43.5l-1.4 -0.7l-1.4 0.7l-1.3 -0.9M47.8 65.4l-1.5 -0.5l-1.3 1.0l-0.7 1.5M68.6 115.9l-0.4 -1.5l-1.5 -0.7l-0.6 -1.5M138.4 136.1l1.0 1.3l0.0 1.6l0.3 1.6M98.7 34.7l1.4 -0.7l1.3 1.0l1.4 -0.8M59.1 77.2l-0.1 1.6l-1.5 0.6l-1.5 0.4M132.8 82.9l0.9 -1.3l-0.5 -1.5l0.3 -1.6M111.1 105.6l-0.7 1.5l-1.5 0.5l-1.1 -1.1M33.0 28.4l-1.6 -0.2l-1.6 -0.0l-1.1 -1.1M126.3 91.7l-0.8 -1.4l-1.2 -1.1l-1.6 -0.1M129.7 53.2l0.8 -1.4l1.4 -0.7l1.6 0.3M126.6 119.5l-1.5 0.4l-1.3 -0.9l-0.9 -1.3M48.1 136.3l0.0 -1.6l-0.7 -1.4l0.5 -1.5M101.0 66.4l1.3 0.9l0.8 1.4l-0.4 1.6M93.8 58.4l1.1 -1.1l1.6 0.2l1.6 -0.4M133.0 103.1l1.2 -1.1l1.1 -1.2l1.6 -0.1M127.5 134.7l-1.5 0.7l-0.8 1.4l0.3 1.6M41.5 66.9l0.2 -1.6l-1.2 -1.1l0.4 -1.6M88.1 115.2l0.2 -1.6l0.9 -1.3l1.5 -0.6M63.1 129.4l-0.5 -1.5l0.8 -1.4l0.4 -1.6M135.1 30.2l0.9 -1.3l0.1 -1.6l0.1 -1.6M121.0 72.5l-1.3 -1.0l-0.2 -1.6l-1.1 -1.1M84.0 69.4l1.4 0.8l1.4 -0.7l0.5 -1.5M73.7 52.5l-1.4 -0.7l-1.6 0.3l-1.0 -1.3M90.8 44.6l-1.0 -1.2l-1.5 -0.6l-1.4 0.7M72.6 77.0l1.4 -0.8l1.5 0.7l0.1 1.6M30.5 35.6l-0.2 -1.6l-0.3 -1.6l0.3 -1.6M74.4 122.7l1.5 -0.6l0.2 -1.6l-0.7 -1.4M138.4 26.8l-1.5 0.6l-1.6 -0.3l-1.3 0.9M110.6 83.0l0.5 -1.5l0.6 -1.5l1.6 -0.3M85.1 72.3l1.5 0.5l0.9 1.3l1.2 1.1M63.0 55.8l0.6 -1.5l-0.7 -1.4l-0.3 -1.6M126.6 135.6l-0.0 -1.6l-0.5 -1.5l-0.5 -1.5M113.5 43.5l-0.7 -1.4l-1.6 0.0l-1.5 0.5M110.3 115.1l0.2 -1.6l-0.3 -1.6l-1.0 -1.3M71.1 73.7l-1.6 0.3l-1.5 -0.5l-1.4 0.8M40.6 78.2l-0.4 -1.6l-0.7 -1.5l-0.4 -1.6M94.8 57.2l-0.0 -1.6l-1.3 -1.0l-1.6 0.3M99.7 77.8l1.6 -0.1l1.2 -1.0l1.6 -0.1M103.6 87.9l1.1 -1.2l0.8 -1.4l0.5 -1.5M56.3 94.1l0.9 -1.3l-0.6 -1.5l-1.3 -0.9M107.8 76.1l1.5 -0.5l1.6 -0.4l1.3 -1.0M49.0 67.2l-0.1 1.6l0.6 1.5l0.7 1.4M85.1 74.9l0.4 -1.6l0.4 -1.6l-0.9 -1.3M32.4 104.2l-1.4 0.7l-1.4 0.8l0.1 1.6M34.6 26.6l-1.6 -0.4l-1.5 0.4l-1.2 1.1M74.9 122.5l1.6 0.2l1.2 1.0l1.6 -0.4M68.0 117.6l-0.4 1.6l1.0 1.2l-0.1 1.6M55.0 53.0l0.6 -1.5l1.6 -0.3l1.2 -1.0M57.4 40.0l1.6 0.1l1.6 -0.1l1.4 -0.8M26.2 125.5l1.2 -1.0l0.0 -1.6l-1.2 -1.1M81.0 43.2l0.7 1.4l-0.3 1.6l-0.9 1.3M49.2 132.1l-0.3 -1.6l0.3 -1.6l0.2 -1.6M79.2 72.4l0.1 1.6l0.7 1.4l1.6 0.1M37.3 67.4l-0.4 -1.6l-0.9 -1.3l0.5 -1.5M33.2 54.2l1.1 -1.2l1.0 -1.2l-0.5 -1.5M93.8 106.9l-0.6 -1.5l-0.3 -1.6l0.8 -1.4M127.6 34.2l-0.5 1.5l-0.0 1.6l0.2 1.6M109.4 48.5l0.8 1.4l0.4 1.6l-1.2 1.1M37.0 97.4l0.9 1.3l0.4 1.6l0.7 1.4M70.6 70.9l1.5 -0.4l1.5 -0.6l1.6 0.3M75.3 74.0l-0.8 -1.4l-1.0 -1.3l-1.0 -1.2M124.2 61.5l-1.6 0.1l-0.8 -1.4l-1.6 0.0M114.8 42.6l-1.6 0.3l-1.3 0.9l0.2 1.6M73.7 94.4l1.6 0.4l1.6 -0.0l1.0 1.2M70.7 26.6l-1.2 1.1l-1.2 1.1l-0.8 1.4M61.4 56.5l0.8 1.4l1.6 0.3l1.2 -1.0M42.1 50.6l0.3 -1.6l-1.3 -0.9l0.2 -1.6M81.5 134.6l0.3 -1.6l-0.0 -1.6l-1.5 -0.6M73.5 50.8l-1.6 -0.2l-1.5 -0.6l-0.2 -1.6M113.5 121.2l1.2 1.0l0.1 1.6l-0.9 1.3M119.3 72.6l1.0 1.2l0.8 1.4l-0.1 1.6M67.5 126.3l1.6 -0.3l1.5 0.6l-0.0 1.6M35.8 63.6l-1.4 0.8l-1.6 0.2l-1.5 0.4M68.6 26.7l1.5 0.4l1.6 -0.2l1.1 -1.1M27.6 32.3l0.8 1.4l1.5 0.7l1.5 0.5M110.3 32.2l-0.2 -1.6l1.2 -1.1l1.4 0.7M46.8 28.5l-0.8 -1.4l0.7 -1.4l1.0 -1.3M119.6 24.8l-1.0 1.3l0.2 1.6l1.4 0.7M133.8 68.3l1.3 -0.9l1.6 0.2l1.5 -0.6M113.4 75.5l1.6 0.0l0.9 1.3l-0.8 1.4M66.4 64.4l1.1 1.2l0.7 1.4l1.5 0.5M96.7 131.5l1.2 1.0l1.5 0.5l1.5 -0.4M25.8 39.9l-0.5 1.5l1.2 1.1l-0.3 1.6M99.7 121.7l-0.4 1.5l-1.5 0.5l-0.5 1.5M34.3 40.6l1.4 0.8l1.3 -0.9l0.2 -1.6M75.8 60.2l-1.5 0.5l-1.6 -0.3l-1.5 -0.6M136.7 131.7l1.3 -0.9l0.6 -1.5l0.4 -1.5M81.7 82.3l1.6 0.0l0.8 1.4l1.6 0.4M98.7 53.9l0.8 -1.4l0.3 -1.6l-0.9 -1.3M62.9 28.3l1.5 -0.7l1.6 0.2l1.6 0.1M108.1 128.4l-1.6 -0.3l-1.4 0.8l-1.0 1.2M111.2 113.5l1.6 0.3l1.6 0.1l1.6 -0.1M95.8 122.7l1.3 0.9l1.5 -0.6l1.0 -1.2M67.8 37.5l0.3 -1.6l-0.7 -1.5l-1.3 -0.9M126.7 95.5l-0.8 -1.4l-1.6 -0.4l-1.6 -0.0M78.6 39.1l1.6 0.4l1.1 -1.1l-0.1 -1.6M53.4 58.0l0.4 -1.5l0.7 -1.4l0.6 -1.5M69.7 35.9l-1.0 -1.2l-0.5 -1.5l-0.8 -1.4M49.7 61.7l1.5 0.6l0.2 1.6l1.2 1.1M93.9 129.5l-0.8 1.4l0.6 1.5l1.5 0.4M131.8 77.4l0.9 1.3l0.2 1.6l1.3 0.9M82.6 109.9l1.5 -0.6l0.9 -1.3l-0.3 -1.6M39.0 59.9l0.2 1.6l1.4 0.8l1.5 0.5M73.6 38.7l-0.8 -1.4l-1.2 -1.1l-1.4 -0.7M70.5 94.3l-1.5 -0.5l-1.0 -1.3l-1.6 0.1M136.0 83.4l-1.0 -1.2l-1.1 -1.2l-0.2 -1.6M61.8 87.3l1.2 -1.1l1.2 -1.0l1.6 -0.3M131.0 53.3l1.5 0.6l1.6 0.3l1.3 -0.9M55.1 70.1l-0.8 -1.4l-1.6 0.0l-0.9 1.4M133.0 32.6l1.5 0.6l1.3 1.0l0.8 1.4M123.2 119.2l0.6 -1.5l1.6 -0.3l1.1 -1.1M72.4 109.7l-1.0 -1.3l0.8 -1.4l-0.8 -1.4M46.9 40.4l-1.6 -0.1l-0.5 -1.5l0.5 -1.5M73.6 129.9l-0.9 1.3l-1.4 0.7l-1.1 1.2M106.5 128.4l-1.5 0.4l-0.4 1.5l-1.5 0.5M79.0 64.4l0.5 -1.5l0.6 -1.5l1.6 -0.2M68.7 53.6l-1.6 -0.2l-1.4 0.7l-1.3 -0.9M130.3 113.3l-1.6 0.0l-1.3 1.0l-0.9 1.3M78.8 61.4l-0.8 1.4l-1.5 0.5l-1.5 -0.5M115.6 34.8l0.8 1.4l0.6 1.5l-1.1 1.2M66.4 119.1l1.3 1.0l1.5 0.6l1.6 0.1M101.2 120.2l1.3 -1.0l1.3 -0.9l1.2 -1.0M31.5 87.3l1.3 -0.9l0.4 -1.5l0.6 -1.5M116.6 46.4l0.0 1.6l-0.6 1.5l-1.5 0.5M58.9 92.8l1.1 1.2l-0.1 1.6l0.2 1.6M105.7 78.6l-1.6 0.4l-0.9 -1.3l-0.1 -1.6M87.7 27.1l-1.6 0.4l-0.5 1.5l-1.5 0.5M76.0 33.3l-1.4 -0.8l-1.4 0.8l-1.3 0.9M104.4 73.4l-0.8 1.4l-1.0 1.3l0.4 1.5M127.7 121.3l-0.5 -1.5l-0.1 -1.6l-1.5 -0.6M133.3 99.8l1.6 -0.3l1.5 0.6l1.6 0.2M40.6 100.2l-0.7 -1.4l-0.3 -1.6l-0.5 -1.5M63.0 137.1l0.3 -1.6l1.6 -0.3l1.4 0.7M54.3 113.2l-0.5 -1.5l0.9 -1.3l0.2 -1.6M119.0 88.4l-1.5 -0.6l-1.3 1.0l-1.4 0.7M122.0 30.7l1.1 -1.2l1.2 -1.0l0.7 -1.5M113.4 40.0l-1.5 0.6l-1.5 0.5l-0.9 1.3M87.5 25.1l-0.9 -1.3l-1.6 -0.2l-1.5 0.5M76.0 119.1l1.6 0.3l1.1 1.2l1.4 0.8M129.0 131.9l1.6 0.4l1.2 -1.1l0.2 -1.6M50.9 93.3l-0.7 1.4l-1.4 0.7l-0.2 1.6M28.8 50.2l-1.5 -0.5l-0.4 -1.6l-0.3 -1.6M88.3 81.9l1.2 1.1l1.0 1.3l0.2 1.6M63.7 125.3l-1.6 -0.3l-0.8 1.4l-1.1 1.2M132.0 44.0l0.7 -1.5l0.2 -1.6l1.2 -1.0M50.4 98.9l-0.5 -1.5l1.0 -1.3l1.2 -1.1M73.0 67.0l-0.5 1.5l-1.4 0.8l-0.6 1.5M32.0 40.4l-0.9 1.4l-1.6 -0.1l-1.2 -1.0M44.7 125.7l1.0 1.2l1.0 1.2l0.6 1.5M129.4 44.4l1.4 -0.8l1.0 -1.2l0.1 -1.6M106.1 107.3l1.2 1.1l-0.6 1.5l-1.4 0.7M56.2 116.5l-0.7 -1.4l0.9 -1.3l1.5 -0.6M57.5 127.9l-1.6 0.3l-1.6 0.4l-1.4 0.7M48.5 82.3l-1.5 0.4l-1.0 1.3l-1.1 1.2M73.9 85.8l1.4 -0.7l1.5 -0.7l1.6 -0.3M36.2 46.7l-1.3 0.9l-0.5 1.5l-0.6 1.5M110.8 105.5l1.3 -1.0l1.6 -0.1l1.5 0.4M37.5 96.3l-1.3 -0.9l-0.4 -1.6l-0.8 -1.4M123.4 124.0l-1.6 -0.3l-1.5 0.6l-0.7 1.5M123.4 33.3l0.2 -1.6l0.2 -1.6l-0.7 -1.4M29.2 68.6l-1.2 1.0l-0.2 1.6l0.6 1.5M52.0 39.9l-1.6 0.2l-1.2 -1.1l-1.0 -1.2M103.0 93.4l-1.5 -0.6l-1.1 -1.2l-1.4 -0.8M61.3 49.5l-1.6 0.1l-0.6 1.5l-1.4 0.8M117.0 101.5l-1.6 -0.2l-1.6 0.4l-0.8 1.4M82.8 74.7l-1.4 -0.8l-1.5 -0.5l-0.6 -1.5M61.9 47.2l-0.9 1.3l-1.0 1.3l0.5 1.5M98.5 134.2l0.2 1.6l0.6 1.5l1.6 0.4M113.8 134.4l0.9 -1.3l1.6 -0.3l1.3 0.9M78.9 78.8l0.7 1.4l-0.8 1.4l-1.6 -0.1M134.0 76.1l-0.4 -1.6l0.9 -1.3l-0.2 -1.6M32.4 46.0l0.9 1.3l0.9 1.3l0.0 1.6M85.9 128.3l1.6 -0.3l1.3 -1.0l1.6 -0.3M46.5 26.2l-1.5 0.6l-1.0 1.2l0.2 1.6M59.6 81.7l1.0 -1.2l1.6 -0.0l1.6 -0.2M49.6 45.8l1.3 0.9l1.6 0.3l1.6 -0.3M69.3 28.6l-0.1 1.6l1.1 1.2l-0.3 1.6M46.1 102.9l-1.3 0.9l-1.4 -0.8l-1.4 -0.8M131.0 48.4l-1.5 0.5l-1.5 -0.6l-1.3 1.0M52.9 131.8l-1.6 -0.2l-1.5 0.4l-1.0 -1.2M136.9 79.8l-0.9 1.3l-0.7 1.5l0.5 1.5M89.7 66.8l1.5 -0.6l1.5 0.5l1.1 1.2M53.3 78.9l-0.7 1.5l0.9 1.3l-0.5 1.5M136.1 131.4l1.6 -0.1l1.6 -0.2l1.2 1.0M95.3 97.2l1.1 -1.2l1.6 0.3l1.6 0.2M78.0 77.0l-1.3 1.0l0.1 1.6l0.9 1.3M51.8 35.6l-1.6 0.1l-1.0 -1.3l-0.1 -1.6M116.7 58.6l-1.6 0.1l-1.4 0.8l-0.9 1.3M92.7 136.4l1.4 -0.8l1.3 -0.9l1.6 -0.1" stroke="#8c8c8c" stroke-width="0.75" fill="none" stroke-linejoin="round"/>
<path d="M24.8 29.0l0.5 1.6M24.8 29.0l-1.7 0.0M29.9 27.2l-0.5 -1.6M29.9 27.2l1.7 -0.1M35.1 26.3l-1.4 -1.0M35.1 26.3l1.3 -1.1M41.4 27.5l-1.4 -0.9M41.4 27.5l1.2 -1.2M45.0 27.0l1.6 0.6M45.0 27.0l-1.0 1.4M51.6 28.7l1.7 -0.1M51.6 28.7l-0.4 1.7M53.4 28.6l0.3 1.7M53.4 28.6l-1.7 -0.1M58.6 26.6l1.2 -1.2M58.6 26.6l0.9 1.5M64.4 27.9l1.7 -0.1M64.4 27.9l-0.3 1.7M69.4 26.2l0.4 -1.6M69.4 26.2l1.5 0.8M75.6 28.4l-1.2 1.2M75.6 28.4l-0.9 -1.5M79.1 29.1l1.6 0.5M79.1 29.1l-0.9 1.4M85.2 27.8l1.6 0.5M85.2 27.8l-0.9 1.4M88.0 28.0l0.1 -1.7M88.0 28.0l1.6 0.5M93.8 25.9l1.2 -1.2M93.8 25.9l0.9 1.5M98.4 27.4l1.3 -1.1M98.4 27.4l0.8 1.5M102.8 26.2l0.0 -1.7M102.8 26.2l1.6 0.4M105.7 27.6l-0.3 1.7M105.7 27.6l-1.6 -0.7M111.3 28.5l1.2 -1.2M111.3 28.5l0.9 1.5M118.3 27.7l-1.5 -0.8M118.3 27.7l1.2 -1.2M122.9 26.7l-0.5 -1.6M122.9 26.7l1.7 -0.1M125.7 26.9l1.4 1.0M125.7 26.9l-1.3 1.1M130.5 25.9l1.0 -1.4M130.5 25.9l1.1 1.3M135.5 27.5l-1.0 1.4M135.5 27.5l-1.1 -1.3M29.6 31.4l-1.7 0.4M29.6 31.4l0.1 -1.7M36.3 33.1l-0.2 -1.7M36.3 33.1l1.7 0.2M38.0 31.4l-1.5 0.8M38.0 31.4l-0.4 -1.6M43.6 33.2l-0.5 -1.6M43.6 33.2l1.7 -0.1M48.3 33.7l1.3 -1.0M48.3 33.7l0.7 1.6M54.5 33.5l1.6 -0.7M54.5 33.5l0.3 1.7M59.7 32.8l1.7 0.3M59.7 32.8l-0.7 1.6M63.4 33.6l-0.0 -1.7M63.4 33.6l1.6 0.4M67.0 32.5l1.7 -0.2M67.0 32.5l-0.2 1.7M72.9 31.5l1.1 -1.3M72.9 31.5l1.0 1.4M77.7 31.3l-0.8 -1.5M77.7 31.3l1.6 -0.5M82.8 31.0l0.7 1.6M82.8 31.0l-1.7 0.3M87.8 32.7l1.5 0.8M87.8 32.7l-1.2 1.2M93.3 32.7l-1.4 -1.0M93.3 32.7l1.3 -1.1M97.2 32.6l-0.0 -1.7M97.2 32.6l1.7 0.4M102.2 32.8l-1.3 -1.1M102.2 32.8l1.4 -1.0M107.6 33.6l1.7 0.3M107.6 33.6l-0.7 1.6M111.7 30.7l0.6 1.6M111.7 30.7l-1.7 0.2M114.1 33.2l1.0 -1.4M114.1 33.2l1.1 1.3M121.6 31.2l1.6 0.6M121.6 31.2l-1.0 1.4M126.2 30.6l-1.4 1.0M126.2 30.6l-0.6 -1.6M129.5 31.4l-0.2 1.7M129.5 31.4l-1.6 -0.6M135.9 30.9l-1.5 0.8M135.9 30.9l-0.4 -1.7M138.8 33.4l1.5 -0.8M138.8 33.4l0.4 1.6M29.5 37.1l1.3 -1.1M29.5 37.1l0.7 1.5M31.6 36.4l-1.6 0.5M31.6 36.4l-0.1 -1.7M38.2 36.9l1.5 0.7M38.2 36.9l-1.1 1.3M44.2 37.2l0.4 1.6M44.2 37.2l-1.7 0.0M47.0 37.3l1.7 0.3M47.0 37.3l-0.7 1.5M51.6 36.5l-1.4 0.9M51.6 36.5l-0.5 -1.6M56.1 36.6l0.9 -1.4M56.1 36.6l1.2 1.2M63.1 36.5l-1.6 0.6M63.1 36.5l-0.2 -1.7M67.4 36.7l0.7 1.5M67.4 36.7l-1.7 0.3M70.8 38.4l0.6 1.6M70.8 38.4l-1.7 0.2M76.4 36.4l1.4 0.9M76.4 36.4l-1.3 1.1M79.3 38.4l-0.6 -1.6M79.3 38.4l1.7 -0.2M84.6 37.9l-1.1 1.3M84.6 37.9l-1.0 -1.4M91.3 36.6l1.5 -0.8M91.3 36.6l0.4 1.7M94.3 35.6l-0.7 -1.5M94.3 35.6l1.7 -0.3M100.4 35.7l-1.7 -0.3M100.4 35.7l0.7 -1.5M104.7 35.4l-1.6 -0.6M104.7 35.4l1.0 -1.4M107.8 37.8l1.7 0.1M107.8 37.8l-0.5 1.6M113.0 35.4l-0.3 1.7M113.0 35.4l-1.5 -0.7M117.2 36.1l-1.1 1.3M117.2 36.1l-1.0 -1.4M124.9 36.0l1.7 0.3M124.9 36.0l-0.7 1.5M126.8 36.0l1.7 -0.1M126.8 36.0l-0.3 1.7M132.3 36.4l-1.5 0.8M132.3 36.4l-0.4 -1.7M137.8 36.9l-1.2 1.2M137.8 36.9l-0.9 -1.4M28.9 42.2l-0.8 -1.5M28.9 42.2l1.7 -0.4M31.3 40.5l0.7 -1.5M31.3 40.5l1.3 1.1M38.2 41.8l-1.7 0.4M38.2 41.8l0.0 -1.7M41.4 43.1l-0.4 -1.7M41.4 43.1l1.7 0.0M47.5 41.8l-0.1 -1.7M47.5 41.8l1.7 0.4M51.9 43.2l1.3 1.1M51.9 43.2l-1.4 1.0M57.3 42.5l-0.2 -1.7M57.3 42.5l1.7 0.2M62.0 41.9l0.1 -1.7M62.0 41.9l1.6 0.5M66.0 42.0l1.2 -1.2M66.0 42.0l0.8 1.5M72.3 42.0l0.4 1.6M72.3 42.0l-1.7 0.0M74.3 41.1l-0.9 1.4M74.3 41.1l-1.1 -1.3M81.3 40.8l-1.5 0.7M81.3 40.8l-0.3 -1.7M84.1 40.7l-0.5 -1.6M84.1 40.7l1.7 -0.1M90.7 42.6l0.3 -1.7M90.7 42.6l1.6 0.7M96.0 42.2l1.6 0.6M96.0 42.2l-1.0 1.4M100.5 40.8l1.4 0.9M100.5 40.8l-1.3 1.1M104.6 41.7l-0.6 1.6M104.6 41.7l-1.4 -1.0M109.5 43.1l1.6 -0.5M109.5 43.1l0.1 1.7M112.4 43.3l0.6 -1.6M112.4 43.3l1.4 1.0M118.8 40.4l-1.1 1.3M118.8 40.4l-1.0 -1.4M122.9 42.3l1.5 0.8M122.9 42.3l-1.2 1.2M129.4 42.8l-0.6 1.6M129.4 42.8l-1.4 -1.0M133.1 42.7l-1.6 0.6M133.1 42.7l-0.2 -1.7M136.5 43.1l0.9 1.5M136.5 43.1l-1.6 0.5M26.6 45.0l-1.5 -0.7M26.6 45.0l1.1 -1.3M32.2 45.1l-1.7 -0.4M32.2 45.1l0.8 -1.5M36.9 47.2l0.5 1.6M36.9 47.2l-1.7 0.1M40.5 45.8l1.7 -0.4M40.5 45.8l-0.1 1.7M45.8 46.6l-0.8 1.5M45.8 46.6l-1.3 -1.1M50.4 45.9l-1.4 -1.0M50.4 45.9l1.3 -1.1M53.5 46.5l-1.5 -0.8M53.5 46.5l1.2 -1.2M60.2 45.4l-1.4 0.9M60.2 45.4l-0.5 -1.6M65.2 46.9l1.7 -0.0M65.2 46.9l-0.4 1.7M67.3 45.0l-0.9 -1.4M67.3 45.0l1.6 -0.6M73.9 47.9l-1.2 1.2M73.9 47.9l-0.8 -1.5M76.9 47.7l-1.5 -0.7M76.9 47.7l1.1 -1.3M83.7 46.6l-1.2 1.2M83.7 46.6l-0.8 -1.5M87.8 46.7l-0.3 1.7M87.8 46.7l-1.5 -0.7M94.3 44.9l-1.1 1.3M94.3 44.9l-1.0 -1.4M97.0 45.1l0.9 -1.5M97.0 45.1l1.2 1.2M100.7 45.4l1.1 1.3M100.7 45.4l-1.5 0.7M107.2 46.8l-1.7 -0.4M107.2 46.8l0.8 -1.5M110.7 47.1l-0.5 1.6M110.7 47.1l-1.4 -0.9M118.0 46.4l1.1 -1.3M118.0 46.4l1.0 1.4M120.7 47.7l1.4 1.0M120.7 47.7l-1.3 1.1M127.4 46.5l-1.7 0.1M127.4 46.5l0.3 -1.7M129.4 47.7l-1.0 1.4M129.4 47.7l-1.1 -1.3M135.6 45.4l-1.4 1.0M135.6 45.4l-0.7 -1.6M28.4 50.6l0.7 -1.5M28.4 50.6l1.3 1.1M35.9 51.7l-0.9 -1.4M35.9 51.7l1.6 -0.5M39.5 51.4l1.5 0.9M39.5 51.4l-1.2 1.2M44.2 51.5l1.7 -0.3M44.2 51.5l-0.1 1.7M48.5 52.1l1.5 -0.8M48.5 52.1l0.4 1.7M53.3 52.2l1.6 0.6M53.3 52.2l-1.0 1.4M58.4 51.5l1.0 1.4M58.4 51.5l-1.6 0.6M62.3 50.5l-1.5 -0.8M62.3 50.5l1.2 -1.2M68.9 52.4l1.7 -0.4M68.9 52.4l-0.0 1.7M74.2 49.7l0.7 1.6M74.2 49.7l-1.7 0.3M78.5 52.0l1.5 0.7M78.5 52.0l-1.1 1.3M82.0 52.8l-1.3 1.1M82.0 52.8l-0.7 -1.6M87.8 52.0l0.6 1.6M87.8 52.0l-1.7 0.2M92.2 51.8l-1.3 1.1M92.2 51.8l-0.7 -1.5M97.8 51.5l-1.0 1.3M97.8 51.5l-1.0 -1.3M100.8 50.4l-1.4 -0.9M100.8 50.4l1.2 -1.2M105.9 49.8l0.8 1.5M105.9 49.8l-1.7 0.4M111.1 50.4l-1.4 0.9M111.1 50.4l-0.6 -1.6M115.9 52.2l1.6 -0.7M115.9 52.2l0.3 1.7M119.4 52.7l0.2 1.7M119.4 52.7l-1.7 -0.2M124.3 50.0l-0.1 -1.7M124.3 50.0l1.7 0.3M131.1 50.6l-1.2 1.2M131.1 50.6l-0.9 -1.5M133.9 49.8l-1.3 -1.1M133.9 49.8l1.4 -1.0M139.3 52.9l1.7 0.1M139.3 52.9l-0.5 1.6M27.1 56.2l0.5 -1.6M27.1 56.2l1.4 0.9M33.1 56.4l-0.6 -1.6M33.1 56.4l1.7 -0.2M37.8 54.7l-0.4 1.7M37.8 54.7l-1.5 -0.8M42.9 57.7l0.2 -1.7M42.9 57.7l1.6 0.6M44.8 56.5l-0.2 1.7M44.8 56.5l-1.6 -0.6M49.7 55.8l1.5 -0.8M49.7 55.8l0.4 1.6M55.4 57.1l0.5 1.6M55.4 57.1l-1.7 0.0M60.1 57.0l0.1 -1.7M60.1 57.0l1.6 0.6M66.1 57.6l1.6 0.4M66.1 57.6l-0.8 1.5M71.0 56.4l0.2 -1.7M71.0 56.4l1.6 0.6M74.0 55.0l1.3 1.1M74.0 55.0l-1.4 1.0M79.3 56.9l-0.8 -1.5M79.3 56.9l1.7 -0.4M85.2 55.2l1.6 0.5M85.2 55.2l-0.9 1.4M88.1 56.6l-1.0 -1.4M88.1 56.6l1.6 -0.6M94.9 56.4l-1.7 0.0M94.9 56.4l0.4 -1.7M97.3 56.4l-1.7 0.1M97.3 56.4l0.3 -1.7M103.7 56.1l-1.3 -1.1M103.7 56.1l1.4 -0.9M107.3 56.0l0.3 1.7M107.3 56.0l-1.7 -0.2M112.8 56.1l-0.7 -1.5M112.8 56.1l1.7 -0.3M116.4 57.6l-1.5 0.9M116.4 57.6l-0.5 -1.6M121.9 56.7l1.6 0.6M121.9 56.7l-0.9 1.4M126.8 55.1l1.7 -0.2M126.8 55.1l-0.2 1.7M130.6 55.8l1.6 -0.6M130.6 55.8l0.2 1.7M135.4 56.9l1.6 0.5M135.4 56.9l-0.9 1.5M29.3 60.8l-1.7 -0.0M29.3 60.8l0.5 -1.6M34.2 59.1l-1.0 -1.4M34.2 59.1l1.6 -0.6M40.0 61.4l0.6 1.6M40.0 61.4l-1.7 0.2M44.0 60.5l-1.2 -1.2M44.0 60.5l1.5 -0.8M49.1 60.6l0.9 1.4M49.1 60.6l-1.6 0.5M53.8 59.9l0.4 1.7M53.8 59.9l-1.7 -0.0M59.4 61.7l1.7 0.2M59.4 61.7l-0.6 1.6M63.6 59.3l-1.2 -1.2M63.6 59.3l1.5 -0.8M66.8 60.3l1.7 -0.2M66.8 60.3l-0.3 1.7M71.6 60.0l-1.4 1.0M71.6 60.0l-0.6 -1.6M78.8 59.4l-1.1 1.3M78.8 59.4l-0.9 -1.4M81.8 60.4l-0.9 1.5M81.8 60.4l-1.2 -1.2M87.7 62.2l1.0 1.4M87.7 62.2l-1.6 0.6M92.7 61.2l-0.8 1.5M92.7 61.2l-1.3 -1.1M97.1 60.4l-0.6 -1.6M97.1 60.4l1.7 -0.2M100.6 61.3l-1.2 -1.2M100.6 61.3l1.5 -0.8M105.7 59.1l-0.8 1.5M105.7 59.1l-1.3 -1.1M111.5 60.9l-1.6 0.5M111.5 60.9l-0.1 -1.7M114.2 60.4l1.1 -1.3M114.2 60.4l0.9 1.4M119.0 61.7l0.9 1.4M119.0 61.7l-1.6 0.5M126.5 62.3l1.5 -0.8M126.5 62.3l0.4 1.6M129.7 60.4l-0.3 -1.7M129.7 60.4l1.7 0.2M134.3 59.1l-1.7 0.1M134.3 59.1l0.3 -1.7M138.6 61.7l1.5 -0.7M138.6 61.7l0.3 1.7M27.4 66.4l1.1 -1.3M27.4 66.4l1.0 1.4M31.4 64.4l0.6 1.6M31.4 64.4l-1.7 0.2M36.8 64.8l-1.2 -1.2M36.8 64.8l1.4 -0.9M43.4 67.0l-1.4 0.9M43.4 67.0l-0.5 -1.6M46.9 65.2l0.8 -1.5M46.9 65.2l1.2 1.2M50.3 67.1l1.3 1.1M50.3 67.1l-1.4 1.0M55.5 66.0l-1.7 -0.2M55.5 66.0l0.6 -1.6M61.2 63.9l1.6 0.5M61.2 63.9l-0.9 1.5M65.8 64.8l0.0 -1.7M65.8 64.8l1.6 0.4M70.4 67.0l0.4 1.7M70.4 67.0l-1.7 -0.1M76.0 66.4l-1.6 -0.5M76.0 66.4l0.9 -1.4M80.8 65.1l-0.5 -1.6M80.8 65.1l1.7 -0.1M85.4 65.5l0.7 -1.5M85.4 65.5l1.3 1.1M90.5 66.5l-1.5 0.8M90.5 66.5l-0.4 -1.6M93.9 64.8l-0.9 1.5M93.9 64.8l-1.2 -1.2M100.3 65.0l1.4 -0.9M100.3 65.0l0.5 1.6M103.2 64.6l1.5 -0.9M103.2 64.6l0.5 1.6M110.0 66.6l-1.4 1.0M110.0 66.6l-0.6 -1.6M111.8 64.3l1.3 -1.1M111.8 64.3l0.7 1.5M117.3 65.8l1.5 -0.9M117.3 65.8l0.5 1.6M124.4 65.4l-0.2 1.7M124.4 65.4l-1.6 -0.6M127.1 65.6l1.0 -1.3M127.1 65.6l1.1 1.3M131.3 65.6l1.7 0.1M131.3 65.6l-0.6 1.6M137.1 66.9l-1.6 0.6M137.1 66.9l-0.1 -1.7M27.0 71.8l1.6 0.6M27.0 71.8l-0.9 1.4M30.5 71.4l-1.6 -0.7M30.5 71.4l1.1 -1.3M37.1 70.5l0.5 -1.6M37.1 70.5l1.5 0.9M41.0 71.2l-0.6 -1.6M41.0 71.2l1.7 -0.2M47.7 71.5l-1.6 -0.5M47.7 71.5l0.9 -1.4M51.6 69.3l1.7 0.3M51.6 69.3l-0.7 1.5M55.7 69.1l0.8 1.5M55.7 69.1l-1.6 0.4M60.9 71.0l1.6 -0.5M60.9 71.0l0.1 1.7M64.7 71.6l-0.9 -1.4M64.7 71.6l1.6 -0.5M70.0 71.2l-1.6 0.4M70.0 71.2l0.0 -1.7M75.0 71.5l1.7 0.1M75.0 71.5l-0.5 1.6M80.9 70.7l-1.6 -0.5M80.9 70.7l0.9 -1.4M83.5 68.8l0.9 -1.4M83.5 68.8l1.1 1.3M90.3 69.6l0.3 1.7M90.3 69.6l-1.7 -0.2M94.4 70.6l-1.7 -0.3M94.4 70.6l0.7 -1.5M97.7 71.2l-1.7 -0.1M97.7 71.2l0.5 -1.6M102.2 71.3l-1.1 -1.3M102.2 71.3l1.6 -0.7M106.6 69.8l-1.4 -0.9M106.6 69.8l1.3 -1.2M114.1 70.6l0.8 -1.5M114.1 70.6l1.3 1.1M117.0 68.7l1.7 -0.3M117.0 68.7l-0.1 1.7M122.2 71.9l-0.5 -1.6M122.2 71.9l1.7 -0.1M128.0 69.1l-0.4 -1.6M128.0 69.1l1.7 0.0M132.1 71.3l-1.7 0.1M132.1 71.3l0.3 -1.7M137.2 70.2l-0.9 1.5M137.2 70.2l-1.2 -1.2M28.2 73.8l-0.3 -1.7M28.2 73.8l1.7 0.1M34.2 75.1l0.4 1.7M34.2 75.1l-1.7 -0.0M39.1 76.1l0.1 1.7M39.1 76.1l-1.7 -0.4M44.0 74.8l-1.0 -1.4M44.0 74.8l1.6 -0.6M47.0 76.6l1.3 -1.1M47.0 76.6l0.7 1.6M52.1 76.5l0.9 1.5M52.1 76.5l-1.6 0.5M56.8 75.7l-0.5 1.6M56.8 75.7l-1.4 -0.9M61.6 75.6l1.5 0.8M61.6 75.6l-1.2 1.3M67.4 75.6l0.4 1.6M67.4 75.6l-1.7 0.0M70.0 75.2l1.6 -0.7M70.0 75.2l0.3 1.7M77.8 75.1l1.5 0.8M77.8 75.1l-1.1 1.3M80.7 73.6l0.0 -1.7M80.7 73.6l1.6 0.4M84.1 73.3l0.3 -1.7M84.1 73.3l1.6 0.7M89.5 73.7l-0.1 1.7M89.5 73.7l-1.6 -0.5M94.9 75.0l-1.1 1.3M94.9 75.0l-1.0 -1.4M99.7 74.8l1.1 1.3M99.7 74.8l-1.5 0.7M105.2 75.0l-1.5 -0.9M105.2 75.0l1.2 -1.2M108.8 74.9l0.1 1.7M108.8 74.9l-1.7 -0.3M113.3 75.5l1.5 0.8M113.3 75.5l-1.1 1.3M120.8 75.5l-1.7 -0.3M120.8 75.5l0.7 -1.5M122.4 76.5l0.8 1.5M122.4 76.5l-1.7 0.4M127.4 74.1l1.6 0.6M127.4 74.1l-1.0 1.4M132.6 76.2l-1.6 -0.4M132.6 76.2l0.8 -1.5M139.5 73.5l1.6 0.5M139.5 73.5l-0.8 1.5M26.6 80.4l1.7 -0.0M26.6 80.4l-0.4 1.7M31.4 81.1l-1.6 -0.6M31.4 81.1l1.0 -1.4M37.6 78.7l-1.5 -0.9M37.6 78.7l1.2 -1.2M42.1 78.5l-1.7 0.2M42.1 78.5l0.2 -1.7M46.7 80.1l-1.5 0.9M46.7 80.1l-0.5 -1.6M50.7 80.8l-1.4 -0.9M50.7 80.8l1.3 -1.1M57.2 79.2l1.3 1.1M57.2 79.2l-1.4 1.0M61.2 80.5l-0.4 -1.6M61.2 80.5l1.7 0.0M65.1 79.7l1.1 -1.3M65.1 79.7l1.0 1.4M70.9 81.0l-1.7 -0.0M70.9 81.0l0.5 -1.6M74.3 78.8l-0.0 -1.7M74.3 78.8l1.7 0.4M80.9 78.5l0.0 -1.7M80.9 78.5l1.6 0.5M84.4 78.9l-0.9 -1.4M84.4 78.9l1.6 -0.5M91.2 79.3l-0.1 1.7M91.2 79.3l-1.6 -0.5M94.8 80.0l-0.1 -1.7M94.8 80.0l1.7 0.3M98.5 78.2l-0.4 1.7M98.5 78.2l-1.5 -0.8M102.9 79.4l0.6 -1.6M102.9 79.4l1.4 0.9M110.2 80.8l-0.5 1.6M110.2 80.8l-1.5 -0.9M113.8 78.8l-1.7 -0.1M113.8 78.8l0.5 -1.6M117.0 78.6l-1.7 -0.0M117.0 78.6l0.5 -1.6M124.3 80.3l-1.3 -1.1M124.3 80.3l1.4 -1.0M127.8 79.9l1.3 1.1M127.8 79.9l-1.4 1.0M132.0 80.6l1.6 0.7M132.0 80.6l-1.0 1.3M138.9 80.7l1.4 -1.0M138.9 80.7l0.6 1.6M27.3 83.6l-0.6 1.6M27.3 83.6l-1.4 -1.0M32.9 83.9l1.7 -0.2M32.9 83.9l-0.2 1.7M37.6 85.3l-1.1 -1.3M37.6 85.3l1.5 -0.7M41.9 84.6l-1.2 1.2M41.9 84.6l-0.9 -1.4M47.3 85.9l-1.5 -0.8M47.3 85.9l1.1 -1.3M52.6 84.6l-0.5 -1.6M52.6 84.6l1.7 -0.1M54.9 84.4l1.7 -0.0M54.9 84.4l-0.4 1.6M60.2 83.1l1.2 -1.2M60.2 83.1l0.9 1.4M65.7 84.9l1.3 -1.1M65.7 84.9l0.7 1.6M72.2 84.5l1.7 -0.0M72.2 84.5l-0.4 1.6M75.6 85.4l-0.1 -1.7M75.6 85.4l1.7 0.4M80.0 85.1l-1.7 -0.0M80.0 85.1l0.5 -1.6M83.9 85.4l0.3 1.7M83.9 85.4l-1.7 -0.2M90.2 85.0l1.2 -1.2M90.2 85.0l0.9 1.4M94.8 85.8l-0.0 1.7M94.8 85.8l-1.6 -0.5M97.5 85.6l-1.5 0.9M97.5 85.6l-0.5 -1.6M104.5 84.1l-1.0 -1.4M104.5 84.1l1.6 -0.6M109.7 84.5l0.8 1.5M109.7 84.5l-1.7 0.4M112.7 84.7l1.3 1.1M112.7 84.7l-1.4 1.0M119.1 84.7l-0.3 -1.7M119.1 84.7l1.7 0.1M122.8 84.1l-1.6 0.6M122.8 84.1l-0.2 -1.7M127.3 83.0l-0.3 -1.7M127.3 83.0l1.7 0.2M131.0 84.0l0.1 -1.7M131.0 84.0l1.6 0.5M138.0 84.4l1.7 -0.2M138.0 84.4l-0.2 1.7M26.1 90.9l-1.0 1.4M26.1 90.9l-1.1 -1.3M31.3 88.6l1.2 1.2M31.3 88.6l-1.4 0.9M38.5 88.6l-0.7 1.6M38.5 88.6l-1.4 -1.0M43.4 90.0l1.7 -0.4M43.4 90.0l-0.1 1.7M45.8 89.9l0.9 1.5M45.8 89.9l-1.6 0.5M50.2 90.6l-0.1 -1.7M50.2 90.6l1.7 0.3M56.4 89.9l-1.6 0.5M56.4 89.9l-0.1 -1.7M62.2 88.8l0.5 -1.6M62.2 88.8l1.5 0.9M64.3 89.9l1.1 -1.3M64.3 89.9l1.0 1.4M70.1 89.0l-1.7 0.0M70.1 89.0l0.4 -1.7M76.2 88.3l-1.6 -0.7M76.2 88.3l1.0 -1.4M78.8 89.6l-0.7 1.5M78.8 89.6l-1.3 -1.1M85.0 89.1l1.4 1.0M85.0 89.1l-1.3 1.1M88.0 88.9l1.4 1.0M88.0 88.9l-1.3 1.1M95.4 90.1l0.1 1.7M95.4 90.1l-1.7 -0.4M97.8 89.9l0.1 1.7M97.8 89.9l-1.7 -0.3M103.9 90.7l1.6 -0.5M103.9 90.7l0.1 1.7M107.9 89.6l1.6 0.5M107.9 89.6l-0.9 1.5M113.3 90.3l0.9 -1.4M113.3 90.3l1.2 1.2M118.2 88.3l1.6 0.6M118.2 88.3l-1.0 1.4M122.2 89.6l1.7 -0.2M122.2 89.6l-0.3 1.7M126.6 88.1l-0.7 -1.6M126.6 88.1l1.7 -0.3M133.7 90.2l-0.6 1.6M133.7 90.2l-1.4 -1.0M135.9 88.7l-1.2 -1.2M135.9 88.7l1.4 -0.9M27.9 93.3l-0.2 -1.7M27.9 93.3l1.7 0.3M29.7 95.1l0.8 -1.5M29.7 95.1l1.2 1.2M36.3 92.3l1.0 1.4M36.3 92.3l-1.6 0.7M39.8 92.8l1.5 -0.8M39.8 92.8l0.4 1.7M45.5 94.4l-0.0 -1.7M45.5 94.4l1.6 0.4M50.2 92.7l1.5 -0.8M50.2 92.7l0.4 1.6M55.3 93.0l1.5 0.7M55.3 93.0l-1.1 1.3M59.9 95.0l1.6 -0.7M59.9 95.0l0.3 1.7M65.0 94.3l0.3 -1.7M65.0 94.3l1.5 0.7M67.9 94.5l0.8 1.5M67.9 94.5l-1.7 0.4M72.7 95.5l0.2 -1.7M72.7 95.5l1.6 0.6M79.8 92.7l-0.4 -1.6M79.8 92.7l1.7 -0.0M83.5 95.4l-1.6 0.7M83.5 95.4l-0.3 -1.7M87.2 92.3l-0.7 -1.5M87.2 92.3l1.7 -0.3M93.2 94.7l-0.1 1.7M93.2 94.7l-1.6 -0.6M98.8 93.3l0.9 1.4M98.8 93.3l-1.6 0.5M102.4 93.7l-1.4 1.0M102.4 93.7l-0.6 -1.6M106.4 92.8l1.0 -1.4M106.4 92.8l1.1 1.3M113.1 94.4l0.7 1.6M113.1 94.4l-1.7 0.3M115.3 93.9l0.1 1.7M115.3 93.9l-1.7 -0.3M120.9 92.6l-1.7 0.4M120.9 92.6l0.0 -1.7M125.8 92.7l-1.3 -1.1M125.8 92.7l1.4 -1.0M129.7 95.5l1.5 -0.8M129.7 95.5l0.4 1.7M136.7 95.1l-1.3 -1.1M136.7 95.1l1.4 -1.0M28.2 98.3l-0.3 1.7M28.2 98.3l-1.5 -0.7M34.4 99.3l-0.8 1.5M34.4 99.3l-1.3 -1.1M39.6 99.6l-0.8 -1.5M39.6 99.6l1.7 -0.4M43.3 99.2l1.5 -0.8M43.3 99.2l0.4 1.7M49.0 98.5l1.6 -0.7M49.0 98.5l0.3 1.7M51.9 98.9l-1.5 -0.8M51.9 98.9l1.1 -1.3M58.8 99.2l-0.3 1.7M58.8 99.2l-1.5 -0.7M61.3 99.3l1.0 -1.4M61.3 99.3l1.1 1.3M68.0 99.3l0.6 1.6M68.0 99.3l-1.7 0.2M72.7 97.2l1.4 -1.0M72.7 97.2l0.7 1.6M77.3 100.3l-0.3 1.7M77.3 100.3l-1.5 -0.7M82.4 99.4l1.1 1.3M82.4 99.4l-1.5 0.7M84.4 99.3l1.7 0.3M84.4 99.3l-0.7 1.6M89.2 100.4l-1.6 0.7M89.2 100.4l-0.3 -1.7M93.9 98.2l-1.0 1.4M93.9 98.2l-1.1 -1.3M101.4 97.6l-0.3 -1.7M101.4 97.6l1.7 0.1M103.8 97.7l1.1 -1.3M103.8 97.7l1.0 1.4M110.7 99.2l-1.5 0.7M110.7 99.2l-0.3 -1.7M112.9 99.1l1.6 -0.7M112.9 99.1l0.3 1.7M119.6 99.2l1.7 -0.1M119.6 99.2l-0.4 1.7M125.2 99.4l-1.1 1.3M125.2 99.4l-1.0 -1.4M128.7 99.2l0.8 1.5M128.7 99.2l-1.7 0.4M133.6 97.9l1.5 0.7M133.6 97.9l-1.1 1.3M139.8 97.9l-0.1 1.7M139.8 97.9l-1.6 -0.5M25.3 102.4l-0.9 1.5M25.3 102.4l-1.2 -1.2M32.0 103.5l1.7 -0.1M32.0 103.5l-0.3 1.7M35.0 103.0l-0.6 1.6M35.0 103.0l-1.4 -1.0M41.6 103.0l1.0 1.4M41.6 103.0l-1.6 0.6M44.7 103.4l1.6 -0.5M44.7 103.4l0.1 1.7M50.4 102.3l-1.4 -1.0M50.4 102.3l1.3 -1.1M52.9 104.2l-1.0 -1.3M52.9 104.2l1.6 -0.7M58.6 103.7l0.6 -1.6M58.6 103.7l1.4 1.0M62.3 102.3l-1.7 0.4M62.3 102.3l0.1 -1.7M67.6 104.6l0.3 -1.7M67.6 104.6l1.6 0.7M73.8 103.4l-1.3 -1.1M73.8 103.4l1.4 -1.0M77.2 102.0l1.4 0.9M77.2 102.0l-1.2 1.2M83.3 102.4l1.7 0.1M83.3 102.4l-0.5 1.6M87.5 103.8l0.2 -1.7M87.5 103.8l1.6 0.6M93.7 101.8l1.7 0.2M93.7 101.8l-0.6 1.6M95.6 103.9l0.2 -1.7M95.6 103.9l1.6 0.7M100.5 104.2l-1.2 1.2M100.5 104.2l-0.9 -1.4M106.3 104.8l1.5 -0.9M106.3 104.8l0.5 1.6M112.4 104.1l1.6 0.5M112.4 104.1l-0.9 1.5M117.3 102.9l1.6 0.5M117.3 102.9l-0.9 1.4M119.6 103.1l1.4 -0.9M119.6 103.1l0.5 1.6M125.0 103.8l0.5 1.6M125.0 103.8l-1.7 0.1M129.4 105.1l0.2 -1.7M129.4 105.1l1.6 0.6M136.8 104.2l0.6 1.6M136.8 104.2l-1.7 0.2M140.4 103.8l-1.5 -0.8M140.4 103.8l1.1 -1.3M26.1 108.3l0.5 1.6M26.1 108.3l-1.7 0.1M30.4 107.1l-1.7 -0.3M30.4 107.1l0.7 -1.5M37.8 108.5l-0.2 -1.7M37.8 108.5l1.7 0.2M41.6 108.9l-1.5 -0.7M41.6 108.9l1.1 -1.3M46.1 108.0l1.1 -1.3M46.1 108.0l1.0 1.4M51.6 109.8l-0.7 1.6M51.6 109.8l-1.4 -1.0M54.0 108.0l-1.6 -0.5M54.0 108.0l0.9 -1.5M60.3 108.3l-1.2 -1.2M60.3 108.3l1.5 -0.8M64.7 109.1l1.5 -0.8M64.7 109.1l0.4 1.7M70.2 109.3l-0.9 -1.4M70.2 109.3l1.6 -0.5M74.6 107.2l1.7 0.2M74.6 107.2l-0.7 1.6M80.7 109.0l-1.7 0.2M80.7 109.0l0.2 -1.7M85.1 107.6l1.7 0.1M85.1 107.6l-0.6 1.6M90.1 106.9l-0.7 1.5M90.1 106.9l-1.3 -1.1M92.1 106.7l1.4 -1.0M92.1 106.7l0.6 1.6M98.3 107.8l-1.1 1.3M98.3 107.8l-1.0 -1.4M104.2 106.9l-1.4 0.9M104.2 106.9l-0.5 -1.6M108.9 106.7l1.5 -0.8M108.9 106.7l0.4 1.7M111.8 108.0l-0.5 -1.6M111.8 108.0l1.7 -0.1M118.2 108.1l1.3 1.1M118.2 108.1l-1.4 1.0M120.6 108.3l1.7 -0.1M120.6 108.3l-0.3 1.7M125.3 108.6l-0.9 -1.4M125.3 108.6l1.6 -0.6M132.8 106.8l1.2 -1.2M132.8 106.8l0.8 1.5M135.9 108.3l0.8 -1.5M135.9 108.3l1.3 1.1M25.3 114.5l1.7 -0.1M25.3 114.5l-0.4 1.7M29.4 113.3l0.9 1.5M29.4 113.3l-1.6 0.5M35.3 113.5l1.5 0.7M35.3 113.5l-1.1 1.3M41.2 113.0l1.7 0.2M41.2 113.0l-0.6 1.6M45.7 114.4l-1.7 -0.0M45.7 114.4l0.5 -1.6M50.4 112.9l1.7 0.0M50.4 112.9l-0.4 1.6M53.3 114.0l0.1 -1.7M53.3 114.0l1.6 0.5M58.0 111.5l1.1 1.3M58.0 111.5l-1.5 0.8M63.0 111.3l0.4 -1.6M63.0 111.3l1.5 0.8M68.4 112.8l-0.6 1.6M68.4 112.8l-1.4 -0.9M73.9 112.0l-1.7 0.3M73.9 112.0l0.2 -1.7M79.4 112.3l1.6 0.6M79.4 112.3l-1.0 1.4M81.4 114.1l1.0 1.4M81.4 114.1l-1.6 0.6M87.7 113.5l1.7 0.0M87.7 113.5l-0.4 1.6M91.2 111.9l-1.4 -1.0M91.2 111.9l1.3 -1.1M96.1 112.7l1.7 0.4M96.1 112.7l-0.8 1.5M101.0 113.9l1.3 1.1M101.0 113.9l-1.4 0.9M105.4 113.2l-1.3 1.1M105.4 113.2l-0.7 -1.5M112.8 112.4l1.7 -0.4M112.8 112.4l-0.1 1.7M117.0 114.5l-1.7 -0.3M117.0 114.5l0.7 -1.6M121.7 113.8l-1.5 -0.8M121.7 113.8l1.2 -1.2M124.6 113.4l-0.6 1.6M124.6 113.4l-1.4 -1.0M128.8 112.1l1.7 0.1M128.8 112.1l-0.5 1.6M135.7 112.7l1.7 0.2M135.7 112.7l-0.6 1.6M138.1 111.4l-1.7 -0.3M138.1 111.4l0.7 -1.5M29.0 118.8l1.7 -0.2M29.0 118.8l-0.2 1.7M33.2 118.5l-1.1 -1.3M33.2 118.5l1.5 -0.8M39.6 116.5l-0.3 1.7M39.6 116.5l-1.5 -0.7M42.4 118.9l-1.1 1.3M42.4 118.9l-1.0 -1.4M48.5 118.0l1.6 -0.4M48.5 118.0l0.0 1.7M53.5 119.4l0.4 1.7M53.5 119.4l-1.7 -0.0M57.4 117.0l1.4 -1.0M57.4 117.0l0.6 1.6M61.9 117.0l-1.5 0.7M61.9 117.0l-0.3 -1.7M66.0 117.8l-0.3 -1.7M66.0 117.8l1.7 0.1M69.9 116.2l-1.7 -0.0M69.9 116.2l0.4 -1.6M75.7 116.4l1.6 0.5M75.7 116.4l-0.9 1.4M80.9 117.0l1.2 1.2M80.9 117.0l-1.5 0.8M86.4 116.2l0.6 -1.6M86.4 116.2l1.4 1.0M92.0 117.2l-1.2 -1.2M92.0 117.2l1.5 -0.9M94.6 118.7l-1.1 -1.3M94.6 118.7l1.6 -0.7M101.5 117.7l1.6 -0.7M101.5 117.7l0.2 1.7M105.5 116.3l1.0 -1.4M105.5 116.3l1.1 1.3M109.1 117.6l-1.4 1.0M109.1 117.6l-0.7 -1.6M115.3 117.4l1.6 -0.6M115.3 117.4l0.2 1.7M118.7 117.6l-1.7 0.1M118.7 117.6l0.4 -1.7M123.7 116.3l-1.4 -1.0M123.7 116.3l1.3 -1.1M128.4 117.3l1.0 1.4M128.4 117.3l-1.6 0.6M132.1 118.2l-0.5 -1.6M132.1 118.2l1.7 -0.1M136.3 116.5l-0.0 1.7M136.3 116.5l-1.6 -0.4M29.6 123.5l1.6 0.6M29.6 123.5l-1.0 1.4M36.4 123.7l-1.7 -0.3M36.4 123.7l0.7 -1.5M40.6 121.1l1.5 0.7M40.6 121.1l-1.1 1.3M45.5 121.6l1.6 -0.7M45.5 121.6l0.3 1.7M50.8 120.9l1.7 -0.3M50.8 120.9l-0.2 1.7M54.4 122.3l0.0 -1.7M54.4 122.3l1.6 0.4M57.8 122.0l0.9 1.4M57.8 122.0l-1.6 0.6M64.1 121.1l-1.7 0.1M64.1 121.1l0.3 -1.7M68.9 121.7l-1.2 1.2M68.9 121.7l-0.9 -1.5M72.6 124.0l1.3 -1.1M72.6 124.0l0.7 1.5M79.3 123.6l0.1 -1.7M79.3 123.6l1.6 0.6M83.5 122.1l-0.5 1.6M83.5 122.1l-1.5 -0.9M87.5 123.4l1.1 -1.3M87.5 123.4l1.0 1.4M90.9 123.2l0.8 1.5M90.9 123.2l-1.7 0.4M95.5 123.1l-0.5 1.6M95.5 123.1l-1.4 -0.9M102.9 124.0l1.7 0.3M102.9 124.0l-0.7 1.5M107.3 121.4l0.1 1.7M107.3 121.4l-1.7 -0.3M111.3 121.6l-0.1 -1.7M111.3 121.6l1.7 0.3M115.3 123.3l1.5 0.8M115.3 123.3l-1.1 1.3M119.1 123.1l-0.5 1.6M119.1 123.1l-1.5 -0.9M125.0 123.6l0.6 -1.6M125.0 123.6l1.4 1.0M130.2 123.7l1.4 1.0M130.2 123.7l-1.3 1.1M136.1 123.5l1.6 -0.7M136.1 123.5l0.2 1.7M140.1 121.1l0.3 1.7M140.1 121.1l-1.7 -0.1M24.8 127.5l0.1 -1.7M24.8 127.5l1.6 0.5M30.1 126.6l-1.1 1.3M30.1 126.6l-1.0 -1.4M35.4 126.1l-1.6 0.5M35.4 126.1l-0.1 -1.7M39.8 126.5l-0.8 1.5M39.8 126.5l-1.3 -1.1M46.6 126.3l-1.6 -0.5M46.6 126.3l0.9 -1.5M48.7 128.8l-1.6 0.6M48.7 128.8l-0.1 -1.7M53.6 128.7l-1.6 0.7M53.6 128.7l-0.3 -1.7M59.0 127.6l-1.7 -0.3M59.0 127.6l0.7 -1.6M64.6 128.6l1.3 1.1M64.6 128.6l-1.4 1.0M69.1 125.8l-1.4 -1.0M69.1 125.8l1.3 -1.1M73.6 126.7l-0.1 1.7M73.6 126.7l-1.6 -0.5M78.6 127.4l-1.7 0.4M78.6 127.4l0.1 -1.7M84.9 127.3l-1.2 1.2M84.9 127.3l-0.8 -1.5M87.3 127.3l1.4 1.0M87.3 127.3l-1.3 1.1M92.2 126.0l-0.9 1.5M92.2 126.0l-1.2 -1.2M96.2 127.8l-1.2 -1.2M96.2 127.8l1.5 -0.9M101.1 126.3l1.7 0.1M101.1 126.3l-0.5 1.6M106.4 127.0l0.8 1.5M106.4 127.0l-1.7 0.4M113.2 126.4l1.5 -0.8M113.2 126.4l0.5 1.6M117.0 127.7l-1.5 0.7M117.0 127.7l-0.3 -1.7M122.5 127.7l1.7 0.3M122.5 127.7l-0.7 1.5M127.5 127.0l-0.2 -1.7M127.5 127.0l1.7 0.2M129.3 127.4l-0.7 -1.6M129.3 127.4l1.7 -0.3M133.8 128.7l-1.4 -1.0M133.8 128.7l1.3 -1.1M26.8 132.5l1.6 0.4M26.8 132.5l-0.8 1.5M30.2 131.5l1.7 -0.0M30.2 131.5l-0.4 1.6M35.9 133.5l1.7 0.3M35.9 133.5l-0.7 1.6M39.9 133.1l-1.0 -1.4M39.9 133.1l1.6 -0.6M46.4 132.8l-1.6 0.5M46.4 132.8l-0.1 -1.7M51.6 132.0l0.9 -1.4M51.6 132.0l1.2 1.3M56.9 132.2l-1.7 -0.3M56.9 132.2l0.7 -1.5M59.6 130.5l-1.6 0.5M59.6 130.5l-0.1 -1.7M63.5 132.0l-0.4 -1.7M63.5 132.0l1.7 0.0M70.2 130.6l1.5 0.8M70.2 130.6l-1.1 1.3M72.8 132.8l-0.3 -1.7M72.8 132.8l1.7 0.2M77.6 130.3l1.4 -0.9M77.6 130.3l0.5 1.6M84.1 133.6l-1.5 0.8M84.1 133.6l-0.4 -1.7M89.0 133.6l-1.7 0.1M89.0 133.6l0.3 -1.7M92.4 132.7l-1.5 0.7M92.4 132.7l-0.3 -1.7M98.2 131.7l-1.3 1.1M98.2 131.7l-0.7 -1.5M103.1 132.7l-1.2 -1.2M103.1 132.7l1.5 -0.8M106.4 132.6l-1.5 -0.7M106.4 132.6l1.1 -1.3M113.5 130.5l-0.3 -1.7M113.5 130.5l1.7 0.1M115.5 133.4l-1.1 -1.3M115.5 133.4l1.5 -0.7M122.4 131.8l1.4 1.0M122.4 131.8l-1.3 1.1M125.0 132.7l0.2 -1.7M125.0 132.7l1.6 0.6M132.3 131.6l-1.6 -0.5M132.3 131.6l0.9 -1.5M136.6 132.9l1.0 1.4M136.6 132.9l-1.6 0.6M25.7 135.7l1.6 -0.7M25.7 135.7l0.3 1.7M30.7 136.0l0.4 1.7M30.7 136.0l-1.7 -0.1M33.8 137.0l-0.1 -1.7M33.8 137.0l1.7 0.3M38.8 137.1l-0.9 1.4M38.8 137.1l-1.1 -1.3M44.5 137.6l-0.2 -1.7M44.5 137.6l1.7 0.2M48.5 138.0l-1.1 -1.3M48.5 138.0l1.5 -0.7M54.3 137.8l1.4 1.0M54.3 137.8l-1.3 1.1M59.4 135.5l-1.4 -1.0M59.4 135.5l1.3 -1.1M62.7 136.2l-1.0 -1.4M62.7 136.2l1.6 -0.7M68.1 136.2l-1.7 0.1M68.1 136.2l0.3 -1.7M74.0 137.5l1.6 -0.7M74.0 137.5l0.3 1.7M76.2 138.2l1.7 0.4M76.2 138.2l-0.8 1.5M83.4 137.0l-0.9 -1.4M83.4 137.0l1.6 -0.5M88.5 135.1l1.4 1.0M88.5 135.1l-1.3 1.1M92.2 137.6l-1.7 0.1M92.2 137.6l0.3 -1.7M98.2 136.0l0.9 1.4M98.2 136.0l-1.6 0.6M103.1 137.2l1.1 -1.3M103.1 137.2l1.0 1.4M108.0 136.9l-1.0 1.4M108.0 136.9l-1.1 -1.3M112.5 137.0l-0.8 1.5M112.5 137.0l-1.3 -1.1M115.8 138.0l0.7 1.6M115.8 138.0l-1.7 0.3M121.2 136.9l-1.4 -0.9M121.2 136.9l1.2 -1.2M125.3 136.6l0.4 1.7M125.3 136.6l-1.7 -0.0M129.6 136.4l-1.2 -1.2M129.6 136.4l1.5 -0.9M135.4 135.4l-1.6 -0.4M135.4 135.4l0.8 -1.5M140.7 137.8l1.3 1.1M140.7 137.8l-1.4 1.0" stroke="#9a9a9a" stroke-width="0.7" fill="none" stroke-linecap="round"/>
<path d="M25.2 30.6h0M23.1 29.0h0M29.4 25.6h0M31.6 27.2h0M33.8 25.2h0M36.4 25.2h0M39.9 26.6h0M42.6 26.3h0M46.6 27.6h0M44.0 28.3h0M53.3 28.7h0M51.2 30.4h0M53.7 30.3h0M51.7 28.5h0M59.8 25.4h0M59.4 28.0h0M66.1 27.8h0M64.1 29.6h0M69.8 24.5h0M70.9 27.0h0M74.4 29.6h0M74.7 26.9h0M80.7 29.6h0M78.2 30.5h0M86.8 28.3h0M84.2 29.2h0M88.1 26.3h0M89.6 28.5h0M95.0 24.7h0M94.6 27.4h0M99.6 26.3h0M99.2 28.9h0M102.8 24.5h0M104.4 26.7h0M105.4 29.3h0M104.1 26.9h0M112.5 27.3h0M112.1 30.0h0M116.8 26.9h0M119.5 26.5h0M122.3 25.1h0M124.6 26.5h0M127.0 28.0h0M124.4 28.0h0M131.5 24.5h0M131.6 27.2h0M134.5 28.9h0M134.4 26.2h0M27.9 31.8h0M29.7 29.7h0M36.1 31.4h0M38.0 33.3h0M36.6 32.2h0M37.6 29.8h0M43.1 31.5h0M45.3 33.1h0M49.7 32.6h0M49.0 35.2h0M56.0 32.8h0M54.7 35.2h0M61.4 33.1h0M59.0 34.4h0M63.4 31.9h0M65.0 34.0h0M68.7 32.3h0M66.8 34.2h0M74.0 30.2h0M73.8 32.9h0M76.9 29.8h0M79.3 30.9h0M83.5 32.6h0M81.1 31.3h0M89.3 33.5h0M86.6 33.9h0M91.9 31.7h0M94.6 31.6h0M97.2 30.9h0M98.9 33.0h0M100.9 31.7h0M103.6 31.8h0M109.3 33.8h0M106.9 35.1h0M112.3 32.3h0M110.0 30.9h0M115.1 31.9h0M115.1 34.5h0M123.2 31.8h0M120.6 32.6h0M124.8 31.6h0M125.5 29.0h0M129.3 33.1h0M127.9 30.8h0M134.4 31.7h0M135.5 29.3h0M140.3 32.6h0M139.3 35.1h0M30.8 36.0h0M30.2 38.6h0M30.0 36.9h0M31.5 34.7h0M39.7 37.6h0M37.1 38.2h0M44.6 38.8h0M42.5 37.2h0M48.7 37.7h0M46.3 38.9h0M50.1 37.4h0M51.1 34.8h0M57.0 35.2h0M57.2 37.9h0M61.5 37.2h0M62.8 34.9h0M68.2 38.2h0M65.8 37.0h0M71.4 40.0h0M69.1 38.6h0M77.8 37.4h0M75.1 37.6h0M78.7 36.8h0M81.0 38.2h0M83.5 39.2h0M83.6 36.5h0M92.8 35.8h0M91.7 38.2h0M93.6 34.0h0M96.0 35.2h0M98.7 35.4h0M101.1 34.2h0M103.2 34.8h0M105.7 34.0h0M109.5 37.9h0M107.3 39.4h0M112.6 37.1h0M111.4 34.7h0M116.2 37.4h0M116.2 34.7h0M126.6 36.3h0M124.2 37.6h0M128.5 35.9h0M126.5 37.6h0M130.8 37.1h0M131.9 34.7h0M136.7 38.1h0M136.9 35.4h0M28.1 40.7h0M30.6 41.8h0M32.0 39.0h0M32.6 41.6h0M36.5 42.2h0M38.2 40.1h0M41.0 41.4h0M43.1 43.1h0M47.4 40.1h0M49.1 42.2h0M53.2 44.2h0M50.5 44.2h0M57.2 40.8h0M59.0 42.8h0M62.2 40.2h0M63.6 42.5h0M67.2 40.8h0M66.9 43.5h0M72.7 43.6h0M70.6 42.0h0M73.4 42.5h0M73.1 39.8h0M79.8 41.6h0M81.0 39.2h0M83.6 39.0h0M85.8 40.6h0M91.0 40.9h0M92.3 43.3h0M97.5 42.8h0M95.0 43.6h0M101.9 41.8h0M99.2 42.0h0M104.0 43.3h0M103.2 40.7h0M111.1 42.6h0M109.6 44.8h0M113.0 41.7h0M113.8 44.3h0M117.7 41.7h0M117.8 39.1h0M124.4 43.2h0M121.8 43.5h0M128.8 44.4h0M128.0 41.8h0M131.5 43.3h0M132.9 41.0h0M137.4 44.6h0M134.9 43.6h0M25.1 44.3h0M27.7 43.7h0M30.5 44.7h0M32.9 43.6h0M37.4 48.8h0M35.2 47.3h0M42.2 45.5h0M40.5 47.5h0M45.0 48.1h0M44.6 45.5h0M49.1 44.9h0M51.7 44.8h0M52.0 45.6h0M54.7 45.3h0M58.7 46.3h0M59.6 43.8h0M66.9 46.8h0M64.8 48.5h0M66.3 43.6h0M68.9 44.5h0M72.6 49.1h0M73.0 46.4h0M75.4 47.0h0M78.0 46.4h0M82.5 47.8h0M82.9 45.1h0M87.5 48.4h0M86.3 46.0h0M93.3 46.2h0M93.3 43.5h0M97.8 43.6h0M98.2 46.3h0M101.8 46.7h0M99.2 46.1h0M105.6 46.3h0M108.0 45.3h0M110.2 48.7h0M109.2 46.2h0M119.1 45.1h0M119.0 47.8h0M122.1 48.7h0M119.4 48.8h0M125.7 46.6h0M127.7 44.8h0M128.4 49.1h0M128.3 46.4h0M134.3 46.4h0M134.9 43.8h0M29.1 49.0h0M29.7 51.6h0M34.9 50.2h0M37.5 51.1h0M40.9 52.2h0M38.3 52.6h0M45.9 51.2h0M44.1 53.2h0M50.0 51.3h0M48.9 53.8h0M54.9 52.8h0M52.3 53.6h0M59.3 53.0h0M56.8 52.1h0M60.8 49.6h0M63.5 49.2h0M70.5 52.0h0M68.9 54.1h0M74.8 51.2h0M72.5 49.9h0M80.0 52.7h0M77.4 53.3h0M80.6 53.8h0M81.3 51.2h0M88.4 53.6h0M86.1 52.2h0M90.9 52.9h0M91.5 50.3h0M96.7 52.8h0M96.7 50.2h0M99.3 49.5h0M102.0 49.2h0M106.7 51.3h0M104.2 50.2h0M109.7 51.3h0M110.5 48.8h0M117.4 51.5h0M116.2 53.8h0M119.6 54.4h0M117.8 52.4h0M124.2 48.3h0M126.0 50.3h0M129.9 51.8h0M130.2 49.2h0M132.6 48.7h0M135.3 48.8h0M141.0 52.9h0M138.8 54.5h0M27.6 54.6h0M28.5 57.1h0M32.6 54.8h0M34.8 56.2h0M37.4 56.4h0M36.3 54.0h0M43.1 56.0h0M44.5 58.2h0M44.6 58.2h0M43.2 55.9h0M51.2 55.0h0M50.1 57.4h0M55.9 58.7h0M53.7 57.1h0M60.3 55.3h0M61.7 57.6h0M67.8 58.0h0M65.3 59.1h0M71.2 54.7h0M72.6 57.0h0M75.3 56.1h0M72.6 55.9h0M78.6 55.4h0M81.0 56.5h0M86.8 55.8h0M84.3 56.7h0M87.1 55.2h0M89.6 55.9h0M93.2 56.4h0M95.3 54.7h0M95.6 56.5h0M97.5 54.7h0M102.4 55.0h0M105.1 55.2h0M107.6 57.7h0M105.7 55.8h0M112.1 54.6h0M114.5 55.8h0M114.9 58.5h0M115.9 56.0h0M123.5 57.3h0M120.9 58.1h0M128.5 54.8h0M126.6 56.7h0M132.2 55.2h0M130.8 57.5h0M137.0 57.4h0M134.5 58.4h0M27.6 60.8h0M29.7 59.2h0M33.2 57.7h0M35.8 58.5h0M40.6 62.9h0M38.3 61.6h0M42.8 59.3h0M45.4 59.7h0M50.0 62.0h0M47.5 61.1h0M54.2 61.6h0M52.1 59.9h0M61.1 61.9h0M58.8 63.3h0M62.4 58.0h0M65.1 58.4h0M68.5 60.2h0M66.6 62.0h0M70.2 60.9h0M71.0 58.4h0M77.7 60.6h0M77.9 57.9h0M81.0 61.8h0M80.6 59.2h0M88.7 63.6h0M86.1 62.8h0M91.9 62.8h0M91.4 60.1h0M96.5 58.8h0M98.8 60.2h0M99.4 60.1h0M102.0 60.5h0M105.0 60.6h0M104.4 58.0h0M109.8 61.4h0M111.4 59.2h0M115.3 59.1h0M115.1 61.8h0M119.9 63.1h0M117.4 62.2h0M128.0 61.5h0M127.0 63.9h0M129.5 58.7h0M131.4 60.6h0M132.6 59.3h0M134.6 57.5h0M140.1 60.9h0M139.0 63.3h0M28.5 65.1h0M28.4 67.8h0M32.0 66.0h0M29.7 64.7h0M35.6 63.6h0M38.2 63.9h0M42.0 67.9h0M42.9 65.4h0M47.7 63.7h0M48.1 66.4h0M51.6 68.2h0M48.9 68.1h0M53.8 65.8h0M56.1 64.4h0M62.9 64.4h0M60.4 65.4h0M65.8 63.1h0M67.4 65.2h0M70.8 68.6h0M68.7 66.9h0M74.4 65.9h0M77.0 65.0h0M80.3 63.5h0M82.5 65.0h0M86.1 63.9h0M86.7 66.5h0M89.0 67.3h0M90.1 64.8h0M93.1 66.3h0M92.7 63.6h0M101.7 64.1h0M100.8 66.6h0M104.6 63.7h0M103.7 66.3h0M108.6 67.6h0M109.4 65.1h0M113.2 63.3h0M112.5 65.9h0M118.8 64.9h0M117.8 67.4h0M124.2 67.1h0M122.8 64.8h0M128.1 64.3h0M128.1 67.0h0M133.0 65.7h0M130.8 67.2h0M135.5 67.5h0M137.0 65.2h0M28.6 72.4h0M26.1 73.2h0M28.9 70.8h0M31.5 70.1h0M37.6 68.8h0M38.6 71.3h0M40.4 69.6h0M42.7 71.1h0M46.1 71.0h0M48.6 70.1h0M53.2 69.6h0M50.8 70.8h0M56.5 70.6h0M54.0 69.6h0M62.5 70.5h0M60.9 72.7h0M63.8 70.1h0M66.3 71.1h0M68.4 71.6h0M70.0 69.5h0M76.7 71.7h0M74.4 73.2h0M79.2 70.2h0M81.8 69.3h0M84.4 67.4h0M84.6 70.0h0M90.6 71.3h0M88.7 69.5h0M92.7 70.3h0M95.1 69.1h0M96.0 71.1h0M98.2 69.6h0M101.2 70.0h0M103.8 70.6h0M105.2 68.8h0M107.9 68.6h0M114.9 69.1h0M115.4 71.8h0M118.6 68.4h0M116.9 70.4h0M121.7 70.3h0M123.9 71.8h0M127.6 67.5h0M129.7 69.1h0M130.4 71.4h0M132.4 69.6h0M136.4 71.7h0M136.0 69.0h0M27.9 72.2h0M29.9 74.0h0M34.6 76.7h0M32.5 75.1h0M39.2 77.8h0M37.5 75.7h0M43.0 73.3h0M45.6 74.2h0M48.3 75.6h0M47.7 78.2h0M53.0 77.9h0M50.5 77.0h0M56.3 77.3h0M55.4 74.8h0M63.1 76.4h0M60.5 76.8h0M67.8 77.3h0M65.7 75.6h0M71.6 74.6h0M70.3 76.9h0M79.3 75.8h0M76.6 76.3h0M80.7 71.9h0M82.3 74.1h0M84.4 71.6h0M85.7 74.0h0M89.4 75.4h0M87.9 73.2h0M93.8 76.3h0M93.9 73.7h0M100.8 76.1h0M98.2 75.5h0M103.7 74.2h0M106.4 73.8h0M108.9 76.6h0M107.1 74.6h0M114.8 76.3h0M112.1 76.8h0M119.1 75.2h0M121.5 74.0h0M123.2 78.0h0M120.7 76.9h0M129.0 74.7h0M126.4 75.4h0M131.0 75.8h0M133.4 74.7h0M141.1 73.9h0M138.6 74.9h0M28.3 80.4h0M26.2 82.1h0M29.8 80.6h0M32.3 79.7h0M36.1 77.8h0M38.8 77.5h0M40.4 78.8h0M42.3 76.9h0M45.2 81.0h0M46.3 78.5h0M49.3 79.9h0M51.9 79.7h0M58.4 80.3h0M55.8 80.2h0M60.8 78.8h0M62.9 80.5h0M66.2 78.4h0M66.1 81.1h0M69.2 81.0h0M71.4 79.4h0M74.3 77.1h0M76.0 79.2h0M80.9 76.8h0M82.5 79.0h0M83.5 77.4h0M86.0 78.4h0M91.1 81.0h0M89.6 78.8h0M94.7 78.3h0M96.5 80.3h0M98.1 79.8h0M97.0 77.4h0M103.5 77.8h0M104.3 80.4h0M109.7 82.4h0M108.8 79.9h0M112.1 78.7h0M114.3 77.2h0M115.3 78.6h0M117.5 77.0h0M123.0 79.2h0M125.6 79.3h0M129.1 81.0h0M126.4 80.9h0M133.5 81.3h0M130.9 81.9h0M140.3 79.7h0M139.5 82.3h0M26.6 85.2h0M25.9 82.6h0M34.5 83.7h0M32.6 85.6h0M36.6 84.0h0M39.2 84.6h0M40.7 85.9h0M41.0 83.2h0M45.8 85.1h0M48.4 84.6h0M52.2 83.0h0M54.3 84.6h0M56.6 84.4h0M54.4 86.1h0M61.4 81.9h0M61.1 84.6h0M67.1 83.9h0M66.4 86.5h0M73.9 84.5h0M71.8 86.1h0M75.6 83.7h0M77.3 85.7h0M78.3 85.1h0M80.5 83.5h0M84.2 87.0h0M82.2 85.2h0M91.4 83.7h0M91.1 86.4h0M94.8 87.5h0M93.2 85.3h0M96.1 86.4h0M97.0 83.9h0M103.6 82.7h0M106.1 83.5h0M110.5 86.0h0M108.1 84.9h0M114.0 85.8h0M111.3 85.7h0M118.8 83.0h0M120.8 84.8h0M121.2 84.7h0M122.6 82.4h0M127.1 81.3h0M129.0 83.1h0M131.1 82.3h0M132.6 84.5h0M139.7 84.2h0M137.7 86.0h0M25.1 92.2h0M25.0 89.6h0M32.6 89.8h0M29.9 89.6h0M37.9 90.1h0M37.2 87.5h0M45.0 89.7h0M43.3 91.7h0M46.7 91.4h0M44.1 90.4h0M50.1 88.9h0M51.9 90.9h0M54.8 90.4h0M56.3 88.2h0M62.6 87.2h0M63.6 89.7h0M65.4 88.6h0M65.3 91.3h0M68.4 89.0h0M70.5 87.3h0M74.6 87.6h0M77.2 86.9h0M78.0 91.1h0M77.5 88.5h0M86.4 90.1h0M83.8 90.2h0M89.4 89.9h0M86.7 90.0h0M95.4 91.8h0M93.7 89.8h0M97.9 91.6h0M96.2 89.5h0M105.5 90.2h0M104.0 92.4h0M109.5 90.0h0M107.0 91.0h0M114.2 88.9h0M114.4 91.5h0M119.8 89.0h0M117.2 89.7h0M123.9 89.5h0M122.0 91.3h0M125.9 86.5h0M128.3 87.8h0M133.1 91.8h0M132.3 89.3h0M134.7 87.5h0M137.4 87.8h0M27.8 91.6h0M29.6 93.5h0M30.5 93.6h0M30.9 96.3h0M37.3 93.7h0M34.7 93.0h0M41.3 92.0h0M40.2 94.4h0M45.5 92.7h0M47.2 94.8h0M51.7 91.9h0M50.6 94.4h0M56.8 93.7h0M54.2 94.3h0M61.5 94.3h0M60.2 96.7h0M65.3 92.7h0M66.5 95.1h0M68.7 96.1h0M66.2 94.9h0M72.9 93.9h0M74.3 96.1h0M79.4 91.0h0M81.5 92.7h0M82.0 96.1h0M83.3 93.7h0M86.5 90.8h0M88.9 92.0h0M93.1 96.4h0M91.6 94.2h0M99.7 94.8h0M97.2 93.8h0M101.0 94.6h0M101.8 92.1h0M107.4 91.4h0M107.4 94.1h0M113.7 95.9h0M111.4 94.6h0M115.5 95.6h0M113.7 93.6h0M119.2 93.0h0M120.9 90.9h0M124.5 91.6h0M127.2 91.7h0M131.2 94.7h0M130.1 97.2h0M135.4 94.0h0M138.1 94.1h0M27.9 99.9h0M26.7 97.5h0M33.6 100.8h0M33.1 98.2h0M38.8 98.1h0M41.3 99.2h0M44.8 98.5h0M43.7 100.9h0M50.6 97.8h0M49.3 100.2h0M50.3 98.1h0M53.0 97.6h0M58.5 100.9h0M57.3 98.4h0M62.3 97.9h0M62.4 100.6h0M68.5 100.9h0M66.3 99.5h0M74.0 96.2h0M73.3 98.8h0M77.0 101.9h0M75.8 99.5h0M83.5 100.8h0M80.9 100.1h0M86.1 99.6h0M83.7 100.9h0M87.6 101.1h0M88.9 98.7h0M92.9 99.6h0M92.8 96.9h0M101.0 96.0h0M103.1 97.7h0M104.9 96.4h0M104.8 99.1h0M109.2 100.0h0M110.4 97.6h0M114.4 98.5h0M113.1 100.8h0M121.3 99.1h0M119.2 100.8h0M124.1 100.7h0M124.2 98.0h0M129.4 100.7h0M127.0 99.6h0M135.1 98.6h0M132.5 99.2h0M139.7 99.6h0M138.2 97.3h0M24.4 103.9h0M24.1 101.2h0M33.7 103.5h0M31.7 105.2h0M34.4 104.6h0M33.6 102.0h0M42.5 104.4h0M40.0 103.5h0M46.3 102.9h0M44.8 105.1h0M49.1 101.3h0M51.7 101.3h0M51.9 102.8h0M54.5 103.5h0M59.2 102.1h0M60.0 104.7h0M60.7 102.7h0M62.4 100.6h0M67.9 102.9h0M69.2 105.3h0M72.5 102.3h0M75.2 102.4h0M78.7 102.9h0M76.0 103.2h0M85.0 102.4h0M82.8 104.0h0M87.7 102.1h0M89.1 104.4h0M95.4 102.0h0M93.2 103.4h0M95.9 102.2h0M97.2 104.6h0M99.3 105.4h0M99.5 102.8h0M107.8 104.0h0M106.8 106.5h0M114.0 104.6h0M111.6 105.6h0M118.9 103.5h0M116.3 104.4h0M121.0 102.2h0M120.1 104.7h0M125.6 105.4h0M123.3 103.9h0M129.6 103.4h0M131.0 105.7h0M137.4 105.8h0M135.1 104.3h0M138.9 103.1h0M141.5 102.5h0M26.7 109.9h0M24.5 108.4h0M28.8 106.8h0M31.2 105.6h0M37.5 106.8h0M39.4 108.7h0M40.1 108.2h0M42.7 107.6h0M47.2 106.7h0M47.1 109.4h0M50.9 111.4h0M50.2 108.8h0M52.3 107.6h0M54.8 106.6h0M59.1 107.1h0M61.7 107.4h0M66.2 108.3h0M65.1 110.7h0M69.3 107.8h0M71.8 108.8h0M76.3 107.4h0M73.9 108.8h0M79.1 109.2h0M80.9 107.3h0M86.8 107.8h0M84.5 109.2h0M89.4 108.5h0M88.8 105.9h0M93.4 105.7h0M92.7 108.3h0M97.2 109.1h0M97.3 106.4h0M102.8 107.8h0M103.7 105.3h0M110.5 106.0h0M109.3 108.4h0M111.3 106.4h0M113.5 108.0h0M119.5 109.2h0M116.8 109.1h0M122.3 108.2h0M120.3 110.0h0M124.4 107.1h0M126.9 108.0h0M134.0 105.6h0M133.7 108.3h0M136.6 106.8h0M137.1 109.4h0M27.0 114.4h0M25.0 116.2h0M30.3 114.7h0M27.8 113.7h0M36.8 114.2h0M34.2 114.8h0M42.9 113.2h0M40.6 114.6h0M44.0 114.4h0M46.2 112.8h0M52.1 112.9h0M50.0 114.5h0M53.4 112.3h0M54.9 114.4h0M59.1 112.8h0M56.5 112.3h0M63.5 109.7h0M64.5 112.2h0M67.8 114.4h0M66.9 111.9h0M72.2 112.3h0M74.0 110.3h0M80.9 113.0h0M78.3 113.7h0M82.4 115.5h0M79.8 114.7h0M89.4 113.5h0M87.2 115.2h0M89.8 110.9h0M92.5 110.7h0M97.7 113.1h0M95.3 114.2h0M102.2 115.1h0M99.6 114.9h0M104.1 114.3h0M104.6 111.7h0M114.5 112.0h0M112.7 114.1h0M115.3 114.2h0M117.6 112.9h0M120.3 113.0h0M122.9 112.6h0M124.0 115.0h0M123.3 112.5h0M130.5 112.1h0M128.3 113.7h0M137.3 113.0h0M135.0 114.3h0M136.5 111.1h0M138.9 109.9h0M30.7 118.6h0M28.8 120.5h0M32.1 117.3h0M34.7 117.8h0M39.3 118.2h0M38.1 115.8h0M41.3 120.2h0M41.5 117.6h0M50.2 117.5h0M48.5 119.7h0M53.9 121.0h0M51.8 119.3h0M58.7 116.0h0M58.0 118.6h0M60.4 117.8h0M61.6 115.4h0M65.7 116.2h0M67.7 118.0h0M68.2 116.2h0M70.4 114.6h0M77.3 117.0h0M74.8 117.9h0M82.1 118.2h0M79.4 117.8h0M87.0 114.6h0M87.8 117.2h0M90.8 116.0h0M93.5 116.3h0M93.6 117.3h0M96.2 118.0h0M103.1 117.1h0M101.8 119.4h0M106.6 114.9h0M106.6 117.6h0M107.7 118.7h0M108.4 116.1h0M116.9 116.9h0M115.4 119.1h0M117.0 117.6h0M119.0 115.9h0M122.3 115.3h0M125.0 115.2h0M129.4 118.7h0M126.9 118.0h0M131.6 116.5h0M133.8 118.0h0M136.3 118.2h0M134.7 116.1h0M31.2 124.1h0M28.6 124.9h0M34.8 123.4h0M37.2 122.2h0M42.1 121.9h0M39.5 122.4h0M47.1 121.0h0M45.8 123.3h0M52.4 120.6h0M50.6 122.5h0M54.4 120.6h0M56.1 122.7h0M58.7 123.4h0M56.2 122.5h0M62.4 121.2h0M64.4 119.4h0M67.7 122.9h0M68.0 120.2h0M73.9 122.9h0M73.3 125.5h0M79.4 121.9h0M80.9 124.2h0M83.0 123.7h0M82.0 121.2h0M88.5 122.1h0M88.5 124.7h0M91.7 124.7h0M89.3 123.6h0M94.9 124.7h0M94.1 122.1h0M104.6 124.4h0M102.2 125.6h0M107.3 123.1h0M105.6 121.1h0M111.2 119.9h0M112.9 121.9h0M116.8 124.1h0M114.1 124.5h0M118.6 124.7h0M117.7 122.2h0M125.6 122.0h0M126.3 124.6h0M131.5 124.7h0M128.9 124.8h0M137.7 122.9h0M136.3 125.2h0M140.4 122.8h0M138.4 121.0h0M24.9 125.8h0M26.4 128.0h0M29.0 127.9h0M29.1 125.2h0M33.8 126.7h0M35.3 124.4h0M39.1 128.0h0M38.5 125.4h0M45.0 125.8h0M47.5 124.9h0M47.1 129.3h0M48.6 127.1h0M52.0 129.4h0M53.3 127.0h0M57.4 127.3h0M59.7 126.0h0M65.9 129.7h0M63.2 129.6h0M67.7 124.9h0M70.4 124.8h0M73.5 128.4h0M71.9 126.2h0M77.0 127.7h0M78.7 125.7h0M83.7 128.5h0M84.1 125.8h0M88.7 128.3h0M86.0 128.4h0M91.3 127.5h0M91.0 124.9h0M95.0 126.6h0M97.6 126.9h0M102.8 126.4h0M100.6 127.9h0M107.2 128.5h0M104.7 127.4h0M114.6 125.6h0M113.6 128.1h0M115.4 128.4h0M116.7 126.0h0M124.2 128.0h0M121.8 129.3h0M127.3 125.4h0M129.2 127.3h0M128.6 125.9h0M131.0 127.2h0M132.5 127.8h0M135.1 127.6h0M28.5 132.9h0M26.0 134.0h0M31.9 131.5h0M29.8 133.2h0M37.5 133.8h0M35.2 135.1h0M38.9 131.7h0M41.5 132.5h0M44.8 133.3h0M46.3 131.1h0M52.5 130.5h0M52.8 133.2h0M55.2 131.8h0M57.6 130.6h0M57.9 131.0h0M59.5 128.8h0M63.1 130.3h0M65.2 132.0h0M71.7 131.4h0M69.1 131.9h0M72.6 131.1h0M74.5 132.9h0M79.1 129.4h0M78.1 132.0h0M82.6 134.4h0M83.8 132.0h0M87.3 133.6h0M89.3 131.9h0M90.9 133.5h0M92.1 131.1h0M96.9 132.7h0M97.5 130.1h0M101.9 131.4h0M104.6 131.8h0M104.9 131.9h0M107.5 131.3h0M113.2 128.8h0M115.2 130.6h0M114.4 132.1h0M117.0 132.7h0M123.7 132.8h0M121.1 132.9h0M125.2 131.0h0M126.6 133.3h0M130.7 131.1h0M133.2 130.1h0M137.5 134.3h0M135.0 133.5h0M27.2 135.0h0M25.9 137.3h0M31.1 137.7h0M29.0 136.0h0M33.7 135.3h0M35.4 137.3h0M37.8 138.5h0M37.6 135.8h0M44.3 135.9h0M46.2 137.8h0M47.4 136.7h0M50.0 137.3h0M55.6 138.8h0M52.9 138.9h0M58.0 134.5h0M60.7 134.4h0M61.6 134.8h0M64.2 135.5h0M66.4 136.3h0M68.5 134.6h0M75.6 136.8h0M74.2 139.2h0M77.8 138.6h0M75.4 139.7h0M82.5 135.5h0M85.0 136.5h0M89.9 136.1h0M87.2 136.2h0M90.5 137.7h0M92.6 135.9h0M99.1 137.5h0M96.6 136.6h0M104.2 135.9h0M104.1 138.5h0M107.0 138.3h0M106.9 135.6h0M111.7 138.5h0M111.2 135.9h0M116.5 139.5h0M114.2 138.2h0M119.8 136.0h0M122.5 135.8h0M125.7 138.3h0M123.6 136.6h0M128.3 135.2h0M131.0 135.5h0M133.8 135.0h0M136.3 133.9h0M142.0 138.9h0M139.3 138.8h0" stroke="#b8b8b8" stroke-width="1.3" stroke-linecap="round" fill="none"/>
<path d="M25.2 30.6h0M23.1 29.0h0M29.4 25.6h0M31.6 27.2h0M33.8 25.2h0M36.4 25.2h0M39.9 26.6h0M42.6 26.3h0M46.6 27.6h0M44.0 28.3h0M53.3 28.7h0M51.2 30.4h0M53.7 30.3h0M51.7 28.5h0M59.8 25.4h0M59.4 28.0h0M66.1 27.8h0M64.1 29.6h0M69.8 24.5h0M70.9 27.0h0M74.4 29.6h0M74.7 26.9h0M80.7 29.6h0M78.2 30.5h0M86.8 28.3h0M84.2 29.2h0M88.1 26.3h0M89.6 28.5h0M95.0 24.7h0M94.6 27.4h0M99.6 26.3h0M99.2 28.9h0M102.8 24.5h0M104.4 26.7h0M105.4 29.3h0M104.1 26.9h0M112.5 27.3h0M112.1 30.0h0M116.8 26.9h0M119.5 26.5h0M122.3 25.1h0M124.6 26.5h0M127.0 28.0h0M124.4 28.0h0M131.5 24.5h0M131.6 27.2h0M134.5 28.9h0M134.4 26.2h0M27.9 31.8h0M29.7 29.7h0M36.1 31.4h0M38.0 33.3h0M36.6 32.2h0M37.6 29.8h0M43.1 31.5h0M45.3 33.1h0M49.7 32.6h0M49.0 35.2h0M56.0 32.8h0M54.7 35.2h0M61.4 33.1h0M59.0 34.4h0M63.4 31.9h0M65.0 34.0h0M68.7 32.3h0M66.8 34.2h0M74.0 30.2h0M73.8 32.9h0M76.9 29.8h0M79.3 30.9h0M83.5 32.6h0M81.1 31.3h0M89.3 33.5h0M86.6 33.9h0M91.9 31.7h0M94.6 31.6h0M97.2 30.9h0M98.9 33.0h0M100.9 31.7h0M103.6 31.8h0M109.3 33.8h0M106.9 35.1h0M112.3 32.3h0M110.0 30.9h0M115.1 31.9h0M115.1 34.5h0M123.2 31.8h0M120.6 32.6h0M124.8 31.6h0M125.5 29.0h0M129.3 33.1h0M127.9 30.8h0M134.4 31.7h0M135.5 29.3h0M140.3 32.6h0M139.3 35.1h0M30.8 36.0h0M30.2 38.6h0M30.0 36.9h0M31.5 34.7h0M39.7 37.6h0M37.1 38.2h0M44.6 38.8h0M42.5 37.2h0M48.7 37.7h0M46.3 38.9h0M50.1 37.4h0M51.1 34.8h0M57.0 35.2h0M57.2 37.9h0M61.5 37.2h0M62.8 34.9h0M68.2 38.2h0M65.8 37.0h0M71.4 40.0h0M69.1 38.6h0M77.8 37.4h0M75.1 37.6h0M78.7 36.8h0M81.0 38.2h0M83.5 39.2h0M83.6 36.5h0M92.8 35.8h0M91.7 38.2h0M93.6 34.0h0M96.0 35.2h0M98.7 35.4h0M101.1 34.2h0M103.2 34.8h0M105.7 34.0h0M109.5 37.9h0M107.3 39.4h0M112.6 37.1h0M111.4 34.7h0M116.2 37.4h0M116.2 34.7h0M126.6 36.3h0M124.2 37.6h0M128.5 35.9h0M126.5 37.6h0M130.8 37.1h0M131.9 34.7h0M136.7 38.1h0M136.9 35.4h0M28.1 40.7h0M30.6 41.8h0M32.0 39.0h0M32.6 41.6h0M36.5 42.2h0M38.2 40.1h0M41.0 41.4h0M43.1 43.1h0M47.4 40.1h0M49.1 42.2h0M53.2 44.2h0M50.5 44.2h0M57.2 40.8h0M59.0 42.8h0M62.2 40.2h0M63.6 42.5h0M67.2 40.8h0M66.9 43.5h0M72.7 43.6h0M70.6 42.0h0M73.4 42.5h0M73.1 39.8h0M79.8 41.6h0M81.0 39.2h0M83.6 39.0h0M85.8 40.6h0M91.0 40.9h0M92.3 43.3h0M97.5 42.8h0M95.0 43.6h0M101.9 41.8h0M99.2 42.0h0M104.0 43.3h0M103.2 40.7h0M111.1 42.6h0M109.6 44.8h0M113.0 41.7h0M113.8 44.3h0M117.7 41.7h0M117.8 39.1h0M124.4 43.2h0M121.8 43.5h0M128.8 44.4h0M128.0 41.8h0M131.5 43.3h0M132.9 41.0h0M137.4 44.6h0M134.9 43.6h0M25.1 44.3h0M27.7 43.7h0M30.5 44.7h0M32.9 43.6h0M37.4 48.8h0M35.2 47.3h0M42.2 45.5h0M40.5 47.5h0M45.0 48.1h0M44.6 45.5h0M49.1 44.9h0M51.7 44.8h0M52.0 45.6h0M54.7 45.3h0M58.7 46.3h0M59.6 43.8h0M66.9 46.8h0M64.8 48.5h0M66.3 43.6h0M68.9 44.5h0M72.6 49.1h0M73.0 46.4h0M75.4 47.0h0M78.0 46.4h0M82.5 47.8h0M82.9 45.1h0M87.5 48.4h0M86.3 46.0h0M93.3 46.2h0M93.3 43.5h0M97.8 43.6h0M98.2 46.3h0M101.8 46.7h0M99.2 46.1h0M105.6 46.3h0M108.0 45.3h0M110.2 48.7h0M109.2 46.2h0M119.1 45.1h0M119.0 47.8h0M122.1 48.7h0M119.4 48.8h0M125.7 46.6h0M127.7 44.8h0M128.4 49.1h0M128.3 46.4h0M134.3 46.4h0M134.9 43.8h0M29.1 49.0h0M29.7 51.6h0M34.9 50.2h0M37.5 51.1h0M40.9 52.2h0M38.3 52.6h0M45.9 51.2h0M44.1 53.2h0M50.0 51.3h0M48.9 53.8h0M54.9 52.8h0M52.3 53.6h0M59.3 53.0h0M56.8 52.1h0M60.8 49.6h0M63.5 49.2h0M70.5 52.0h0M68.9 54.1h0M74.8 51.2h0M72.5 49.9h0M80.0 52.7h0M77.4 53.3h0M80.6 53.8h0M81.3 51.2h0M88.4 53.6h0M86.1 52.2h0M90.9 52.9h0M91.5 50.3h0M96.7 52.8h0M96.7 50.2h0M99.3 49.5h0M102.0 49.2h0M106.7 51.3h0M104.2 50.2h0M109.7 51.3h0M110.5 48.8h0M117.4 51.5h0M116.2 53.8h0M119.6 54.4h0M117.8 52.4h0M124.2 48.3h0M126.0 50.3h0M129.9 51.8h0M130.2 49.2h0M132.6 48.7h0M135.3 48.8h0M141.0 52.9h0M138.8 54.5h0M27.6 54.6h0M28.5 57.1h0M32.6 54.8h0M34.8 56.2h0M37.4 56.4h0M36.3 54.0h0M43.1 56.0h0M44.5 58.2h0M44.6 58.2h0M43.2 55.9h0M51.2 55.0h0M50.1 57.4h0M55.9 58.7h0M53.7 57.1h0M60.3 55.3h0M61.7 57.6h0M67.8 58.0h0M65.3 59.1h0M71.2 54.7h0M72.6 57.0h0M75.3 56.1h0M72.6 55.9h0M78.6 55.4h0M81.0 56.5h0M86.8 55.8h0M84.3 56.7h0M87.1 55.2h0M89.6 55.9h0M93.2 56.4h0M95.3 54.7h0M95.6 56.5h0M97.5 54.7h0M102.4 55.0h0M105.1 55.2h0M107.6 57.7h0M105.7 55.8h0M112.1 54.6h0M114.5 55.8h0M114.9 58.5h0M115.9 56.0h0M123.5 57.3h0M120.9 58.1h0M128.5 54.8h0M126.6 56.7h0M132.2 55.2h0M130.8 57.5h0M137.0 57.4h0M134.5 58.4h0M27.6 60.8h0M29.7 59.2h0M33.2 57.7h0M35.8 58.5h0M40.6 62.9h0M38.3 61.6h0M42.8 59.3h0M45.4 59.7h0M50.0 62.0h0M47.5 61.1h0M54.2 61.6h0M52.1 59.9h0M61.1 61.9h0M58.8 63.3h0M62.4 58.0h0M65.1 58.4h0M68.5 60.2h0M66.6 62.0h0M70.2 60.9h0M71.0 58.4h0M77.7 60.6h0M77.9 57.9h0M81.0 61.8h0M80.6 59.2h0M88.7 63.6h0M86.1 62.8h0M91.9 62.8h0M91.4 60.1h0M96.5 58.8h0M98.8 60.2h0M99.4 60.1h0M102.0 60.5h0M105.0 60.6h0M104.4 58.0h0M109.8 61.4h0M111.4 59.2h0M115.3 59.1h0M115.1 61.8h0M119.9 63.1h0M117.4 62.2h0M128.0 61.5h0M127.0 63.9h0M129.5 58.7h0M131.4 60.6h0M132.6 59.3h0M134.6 57.5h0M140.1 60.9h0M139.0 63.3h0M28.5 65.1h0M28.4 67.8h0M32.0 66.0h0M29.7 64.7h0M35.6 63.6h0M38.2 63.9h0M42.0 67.9h0M42.9 65.4h0M47.7 63.7h0M48.1 66.4h0M51.6 68.2h0M48.9 68.1h0M53.8 65.8h0M56.1 64.4h0M62.9 64.4h0M60.4 65.4h0M65.8 63.1h0M67.4 65.2h0M70.8 68.6h0M68.7 66.9h0M74.4 65.9h0M77.0 65.0h0M80.3 63.5h0M82.5 65.0h0M86.1 63.9h0M86.7 66.5h0M89.0 67.3h0M90.1 64.8h0M93.1 66.3h0M92.7 63.6h0M101.7 64.1h0M100.8 66.6h0M104.6 63.7h0M103.7 66.3h0M108.6 67.6h0M109.4 65.1h0M113.2 63.3h0M112.5 65.9h0M118.8 64.9h0M117.8 67.4h0M124.2 67.1h0M122.8 64.8h0M128.1 64.3h0M128.1 67.0h0M133.0 65.7h0M130.8 67.2h0M135.5 67.5h0M137.0 65.2h0M28.6 72.4h0M26.1 73.2h0M28.9 70.8h0M31.5 70.1h0M37.6 68.8h0M38.6 71.3h0M40.4 69.6h0M42.7 71.1h0M46.1 71.0h0M48.6 70.1h0M53.2 69.6h0M50.8 70.8h0M56.5 70.6h0M54.0 69.6h0M62.5 70.5h0M60.9 72.7h0M63.8 70.1h0M66.3 71.1h0M68.4 71.6h0M70.0 69.5h0M76.7 71.7h0M74.4 73.2h0M79.2 70.2h0M81.8 69.3h0M84.4 67.4h0M84.6 70.0h0M90.6 71.3h0M88.7 69.5h0M92.7 70.3h0M95.1 69.1h0M96.0 71.1h0M98.2 69.6h0M101.2 70.0h0M103.8 70.6h0M105.2 68.8h0M107.9 68.6h0M114.9 69.1h0M115.4 71.8h0M118.6 68.4h0M116.9 70.4h0M121.7 70.3h0M123.9 71.8h0M127.6 67.5h0M129.7 69.1h0M130.4 71.4h0M132.4 69.6h0M136.4 71.7h0M136.0 69.0h0M27.9 72.2h0M29.9 74.0h0M34.6 76.7h0M32.5 75.1h0M39.2 77.8h0M37.5 75.7h0M43.0 73.3h0M45.6 74.2h0M48.3 75.6h0M47.7 78.2h0M53.0 77.9h0M50.5 77.0h0M56.3 77.3h0M55.4 74.8h0M63.1 76.4h0M60.5 76.8h0M67.8 77.3h0M65.7 75.6h0M71.6 74.6h0M70.3 76.9h0M79.3 75.8h0M76.6 76.3h0M80.7 71.9h0M82.3 74.1h0M84.4 71.6h0M85.7 74.0h0M89.4 75.4h0M87.9 73.2h0M93.8 76.3h0M93.9 73.7h0M100.8 76.1h0M98.2 75.5h0M103.7 74.2h0M106.4 73.8h0M108.9 76.6h0M107.1 74.6h0M114.8 76.3h0M112.1 76.8h0M119.1 75.2h0M121.5 74.0h0M123.2 78.0h0M120.7 76.9h0M129.0 74.7h0M126.4 75.4h0M131.0 75.8h0M133.4 74.7h0M141.1 73.9h0M138.6 74.9h0M28.3 80.4h0M26.2 82.1h0M29.8 80.6h0M32.3 79.7h0M36.1 77.8h0M38.8 77.5h0M40.4 78.8h0M42.3 76.9h0M45.2 81.0h0M46.3 78.5h0M49.3 79.9h0M51.9 79.7h0M58.4 80.3h0M55.8 80.2h0M60.8 78.8h0M62.9 80.5h0M66.2 78.4h0M66.1 81.1h0M69.2 81.0h0M71.4 79.4h0M74.3 77.1h0M76.0 79.2h0M80.9 76.8h0M82.5 79.0h0M83.5 77.4h0M86.0 78.4h0M91.1 81.0h0M89.6 78.8h0M94.7 78.3h0M96.5 80.3h0M98.1 79.8h0M97.0 77.4h0M103.5 77.8h0M104.3 80.4h0M109.7 82.4h0M108.8 79.9h0M112.1 78.7h0M114.3 77.2h0M115.3 78.6h0M117.5 77.0h0M123.0 79.2h0M125.6 79.3h0M129.1 81.0h0M126.4 80.9h0M133.5 81.3h0M130.9 81.9h0M140.3 79.7h0M139.5 82.3h0M26.6 85.2h0M25.9 82.6h0M34.5 83.7h0M32.6 85.6h0M36.6 84.0h0M39.2 84.6h0M40.7 85.9h0M41.0 83.2h0M45.8 85.1h0M48.4 84.6h0M52.2 83.0h0M54.3 84.6h0M56.6 84.4h0M54.4 86.1h0M61.4 81.9h0M61.1 84.6h0M67.1 83.9h0M66.4 86.5h0M73.9 84.5h0M71.8 86.1h0M75.6 83.7h0M77.3 85.7h0M78.3 85.1h0M80.5 83.5h0M84.2 87.0h0M82.2 85.2h0M91.4 83.7h0M91.1 86.4h0M94.8 87.5h0M93.2 85.3h0M96.1 86.4h0M97.0 83.9h0M103.6 82.7h0M106.1 83.5h0M110.5 86.0h0M108.1 84.9h0M114.0 85.8h0M111.3 85.7h0M118.8 83.0h0M120.8 84.8h0M121.2 84.7h0M122.6 82.4h0M127.1 81.3h0M129.0 83.1h0M131.1 82.3h0M132.6 84.5h0M139.7 84.2h0M137.7 86.0h0M25.1 92.2h0M25.0 89.6h0M32.6 89.8h0M29.9 89.6h0M37.9 90.1h0M37.2 87.5h0M45.0 89.7h0M43.3 91.7h0M46.7 91.4h0M44.1 90.4h0M50.1 88.9h0M51.9 90.9h0M54.8 90.4h0M56.3 88.2h0M62.6 87.2h0M63.6 89.7h0M65.4 88.6h0M65.3 91.3h0M68.4 89.0h0M70.5 87.3h0M74.6 87.6h0M77.2 86.9h0M78.0 91.1h0M77.5 88.5h0M86.4 90.1h0M83.8 90.2h0M89.4 89.9h0M86.7 90.0h0M95.4 91.8h0M93.7 89.8h0M97.9 91.6h0M96.2 89.5h0M105.5 90.2h0M104.0 92.4h0M109.5 90.0h0M107.0 91.0h0M114.2 88.9h0M114.4 91.5h0M119.8 89.0h0M117.2 89.7h0M123.9 89.5h0M122.0 91.3h0M125.9 86.5h0M128.3 87.8h0M133.1 91.8h0M132.3 89.3h0M134.7 87.5h0M137.4 87.8h0M27.8 91.6h0M29.6 93.5h0M30.5 93.6h0M30.9 96.3h0M37.3 93.7h0M34.7 93.0h0M41.3 92.0h0M40.2 94.4h0M45.5 92.7h0M47.2 94.8h0M51.7 91.9h0M50.6 94.4h0M56.8 93.7h0M54.2 94.3h0M61.5 94.3h0M60.2 96.7h0M65.3 92.7h0M66.5 95.1h0M68.7 96.1h0M66.2 94.9h0M72.9 93.9h0M74.3 96.1h0M79.4 91.0h0M81.5 92.7h0M82.0 96.1h0M83.3 93.7h0M86.5 90.8h0M88.9 92.0h0M93.1 96.4h0M91.6 94.2h0M99.7 94.8h0M97.2 93.8h0M101.0 94.6h0M101.8 92.1h0M107.4 91.4h0M107.4 94.1h0M113.7 95.9h0M111.4 94.6h0M115.5 95.6h0M113.7 93.6h0M119.2 93.0h0M120.9 90.9h0M124.5 91.6h0M127.2 91.7h0M131.2 94.7h0M130.1 97.2h0M135.4 94.0h0M138.1 94.1h0M27.9 99.9h0M26.7 97.5h0M33.6 100.8h0M33.1 98.2h0M38.8 98.1h0M41.3 99.2h0M44.8 98.5h0M43.7 100.9h0M50.6 97.8h0M49.3 100.2h0M50.3 98.1h0M53.0 97.6h0M58.5 100.9h0M57.3 98.4h0M62.3 97.9h0M62.4 100.6h0M68.5 100.9h0M66.3 99.5h0M74.0 96.2h0M73.3 98.8h0M77.0 101.9h0M75.8 99.5h0M83.5 100.8h0M80.9 100.1h0M86.1 99.6h0M83.7 100.9h0M87.6 101.1h0M88.9 98.7h0M92.9 99.6h0M92.8 96.9h0M101.0 96.0h0M103.1 97.7h0M104.9 96.4h0M104.8 99.1h0M109.2 100.0h0M110.4 97.6h0M114.4 98.5h0M113.1 100.8h0M121.3 99.1h0M119.2 100.8h0M124.1 100.7h0M124.2 98.0h0M129.4 100.7h0M127.0 99.6h0M135.1 98.6h0M132.5 99.2h0M139.7 99.6h0M138.2 97.3h0M24.4 103.9h0M24.1 101.2h0M33.7 103.5h0M31.7 105.2h0M34.4 104.6h0M33.6 102.0h0M42.5 104.4h0M40.0 103.5h0M46.3 102.9h0M44.8 105.1h0M49.1 101.3h0M51.7 101.3h0M51.9 102.8h0M54.5 103.5h0M59.2 102.1h0M60.0 104.7h0M60.7 102.7h0M62.4 100.6h0M67.9 102.9h0M69.2 105.3h0M72.5 102.3h0M75.2 102.4h0M78.7 102.9h0M76.0 103.2h0M85.0 102.4h0M82.8 104.0h0M87.7 102.1h0M89.1 104.4h0M95.4 102.0h0M93.2 103.4h0M95.9 102.2h0M97.2 104.6h0M99.3 105.4h0M99.5 102.8h0M107.8 104.0h0M106.8 106.5h0M114.0 104.6h0M111.6 105.6h0M118.9 103.5h0M116.3 104.4h0M121.0 102.2h0M120.1 104.7h0M125.6 105.4h0M123.3 103.9h0M129.6 103.4h0M131.0 105.7h0M137.4 105.8h0M135.1 104.3h0M138.9 103.1h0M141.5 102.5h0M26.7 109.9h0M24.5 108.4h0M28.8 106.8h0M31.2 105.6h0M37.5 106.8h0M39.4 108.7h0M40.1 108.2h0M42.7 107.6h0M47.2 106.7h0M47.1 109.4h0M50.9 111.4h0M50.2 108.8h0M52.3 107.6h0M54.8 106.6h0M59.1 107.1h0M61.7 107.4h0M66.2 108.3h0M65.1 110.7h0M69.3 107.8h0M71.8 108.8h0M76.3 107.4h0M73.9 108.8h0M79.1 109.2h0M80.9 107.3h0M86.8 107.8h0M84.5 109.2h0M89.4 108.5h0M88.8 105.9h0M93.4 105.7h0M92.7 108.3h0M97.2 109.1h0M97.3 106.4h0M102.8 107.8h0M103.7 105.3h0M110.5 106.0h0M109.3 108.4h0M111.3 106.4h0M113.5 108.0h0M119.5 109.2h0M116.8 109.1h0M122.3 108.2h0M120.3 110.0h0M124.4 107.1h0M126.9 108.0h0M134.0 105.6h0M133.7 108.3h0M136.6 106.8h0M137.1 109.4h0M27.0 114.4h0M25.0 116.2h0M30.3 114.7h0M27.8 113.7h0M36.8 114.2h0M34.2 114.8h0M42.9 113.2h0M40.6 114.6h0M44.0 114.4h0M46.2 112.8h0M52.1 112.9h0M50.0 114.5h0M53.4 112.3h0M54.9 114.4h0M59.1 112.8h0M56.5 112.3h0M63.5 109.7h0M64.5 112.2h0M67.8 114.4h0M66.9 111.9h0M72.2 112.3h0M74.0 110.3h0M80.9 113.0h0M78.3 113.7h0M82.4 115.5h0M79.8 114.7h0M89.4 113.5h0M87.2 115.2h0M89.8 110.9h0M92.5 110.7h0M97.7 113.1h0M95.3 114.2h0M102.2 115.1h0M99.6 114.9h0M104.1 114.3h0M104.6 111.7h0M114.5 112.0h0M112.7 114.1h0M115.3 114.2h0M117.6 112.9h0M120.3 113.0h0M122.9 112.6h0M124.0 115.0h0M123.3 112.5h0M130.5 112.1h0M128.3 113.7h0M137.3 113.0h0M135.0 114.3h0M136.5 111.1h0M138.9 109.9h0M30.7 118.6h0M28.8 120.5h0M32.1 117.3h0M34.7 117.8h0M39.3 118.2h0M38.1 115.8h0M41.3 120.2h0M41.5 117.6h0M50.2 117.5h0M48.5 119.7h0M53.9 121.0h0M51.8 119.3h0M58.7 116.0h0M58.0 118.6h0M60.4 117.8h0M61.6 115.4h0M65.7 116.2h0M67.7 118.0h0M68.2 116.2h0M70.4 114.6h0M77.3 117.0h0M74.8 117.9h0M82.1 118.2h0M79.4 117.8h0M87.0 114.6h0M87.8 117.2h0M90.8 116.0h0M93.5 116.3h0M93.6 117.3h0M96.2 118.0h0M103.1 117.1h0M101.8 119.4h0M106.6 114.9h0M106.6 117.6h0M107.7 118.7h0M108.4 116.1h0M116.9 116.9h0M115.4 119.1h0M117.0 117.6h0M119.0 115.9h0M122.3 115.3h0M125.0 115.2h0M129.4 118.7h0M126.9 118.0h0M131.6 116.5h0M133.8 118.0h0M136.3 118.2h0M134.7 116.1h0M31.2 124.1h0M28.6 124.9h0M34.8 123.4h0M37.2 122.2h0M42.1 121.9h0M39.5 122.4h0M47.1 121.0h0M45.8 123.3h0M52.4 120.6h0M50.6 122.5h0M54.4 120.6h0M56.1 122.7h0M58.7 123.4h0M56.2 122.5h0M62.4 121.2h0M64.4 119.4h0M67.7 122.9h0M68.0 120.2h0M73.9 122.9h0M73.3 125.5h0M79.4 121.9h0M80.9 124.2h0M83.0 123.7h0M82.0 121.2h0M88.5 122.1h0M88.5 124.7h0M91.7 124.7h0M89.3 123.6h0M94.9 124.7h0M94.1 122.1h0M104.6 124.4h0M102.2 125.6h0M107.3 123.1h0M105.6 121.1h0M111.2 119.9h0M112.9 121.9h0M116.8 124.1h0M114.1 124.5h0M118.6 124.7h0M117.7 122.2h0M125.6 122.0h0M126.3 124.6h0M131.5 124.7h0M128.9 124.8h0M137.7 122.9h0M136.3 125.2h0M140.4 122.8h0M138.4 121.0h0M24.9 125.8h0M26.4 128.0h0M29.0 127.9h0M29.1 125.2h0M33.8 126.7h0M35.3 124.4h0M39.1 128.0h0M38.5 125.4h0M45.0 125.8h0M47.5 124.9h0M47.1 129.3h0M48.6 127.1h0M52.0 129.4h0M53.3 127.0h0M57.4 127.3h0M59.7 126.0h0M65.9 129.7h0M63.2 129.6h0M67.7 124.9h0M70.4 124.8h0M73.5 128.4h0M71.9 126.2h0M77.0 127.7h0M78.7 125.7h0M83.7 128.5h0M84.1 125.8h0M88.7 128.3h0M86.0 128.4h0M91.3 127.5h0M91.0 124.9h0M95.0 126.6h0M97.6 126.9h0M102.8 126.4h0M100.6 127.9h0M107.2 128.5h0M104.7 127.4h0M114.6 125.6h0M113.6 128.1h0M115.4 128.4h0M116.7 126.0h0M124.2 128.0h0M121.8 129.3h0M127.3 125.4h0M129.2 127.3h0M128.6 125.9h0M131.0 127.2h0M132.5 127.8h0M135.1 127.6h0M28.5 132.9h0M26.0 134.0h0M31.9 131.5h0M29.8 133.2h0M37.5 133.8h0M35.2 135.1h0M38.9 131.7h0M41.5 132.5h0M44.8 133.3h0M46.3 131.1h0M52.5 130.5h0M52.8 133.2h0M55.2 131.8h0M57.6 130.6h0M57.9 131.0h0M59.5 128.8h0M63.1 130.3h0M65.2 132.0h0M71.7 131.4h0M69.1 131.9h0M72.6 131.1h0M74.5 132.9h0M79.1 129.4h0M78.1 132.0h0M82.6 134.4h0M83.8 132.0h0M87.3 133.6h0M89.3 131.9h0M90.9 133.5h0M92.1 131.1h0M96.9 132.7h0M97.5 130.1h0M101.9 131.4h0M104.6 131.8h0M104.9 131.9h0M107.5 131.3h0M113.2 128.8h0M115.2 130.6h0M114.4 132.1h0M117.0 132.7h0M123.7 132.8h0M121.1 132.9h0M125.2 131.0h0M126.6 133.3h0M130.7 131.1h0M133.2 130.1h0M137.5 134.3h0M135.0 133.5h0M27.2 135.0h0M25.9 137.3h0M31.1 137.7h0M29.0 136.0h0M33.7 135.3h0M35.4 137.3h0M37.8 138.5h0M37.6 135.8h0M44.3 135.9h0M46.2 137.8h0M47.4 136.7h0M50.0 137.3h0M55.6 138.8h0M52.9 138.9h0M58.0 134.5h0M60.7 134.4h0M61.6 134.8h0M64.2 135.5h0M66.4 136.3h0M68.5 134.6h0M75.6 136.8h0M74.2 139.2h0M77.8 138.6h0M75.4 139.7h0M82.5 135.5h0M85.0 136.5h0M89.9 136.1h0M87.2 136.2h0M90.5 137.7h0M92.6 135.9h0M99.1 137.5h0M96.6 136.6h0M104.2 135.9h0M104.1 138.5h0M107.0 138.3h0M106.9 135.6h0M111.7 138.5h0M111.2 135.9h0M116.5 139.5h0M114.2 138.2h0M119.8 136.0h0M122.5 135.8h0M125.7 138.3h0M123.6 136.6h0M128.3 135.2h0M131.0 135.5h0M133.8 135.0h0M136.3 133.9h0M142.0 138.9h0M139.3 138.8h0" stroke="#f0f0f0" stroke-width="0.8" stroke-linecap="round" fill="none"/>
<path d="M24.8 29.0h0M29.9 27.2h0M35.1 26.3h0M41.4 27.5h0M45.0 27.0h0M51.6 28.7h0M53.4 28.6h0M58.6 26.6h0M64.4 27.9h0M69.4 26.2h0M75.6 28.4h0M79.1 29.1h0M85.2 27.8h0M88.0 28.0h0M93.8 25.9h0M98.4 27.4h0M102.8 26.2h0M105.7 27.6h0M111.3 28.5h0M118.3 27.7h0M122.9 26.7h0M125.7 26.9h0M130.5 25.9h0M135.5 27.5h0M29.6 31.4h0M36.3 33.1h0M38.0 31.4h0M43.6 33.2h0M48.3 33.7h0M54.5 33.5h0M59.7 32.8h0M63.4 33.6h0M67.0 32.5h0M72.9 31.5h0M77.7 31.3h0M82.8 31.0h0M87.8 32.7h0M93.3 32.7h0M97.2 32.6h0M102.2 32.8h0M107.6 33.6h0M111.7 30.7h0M114.1 33.2h0M121.6 31.2h0M126.2 30.6h0M129.5 31.4h0M135.9 30.9h0M138.8 33.4h0M29.5 37.1h0M31.6 36.4h0M38.2 36.9h0M44.2 37.2h0M47.0 37.3h0M51.6 36.5h0M56.1 36.6h0M63.1 36.5h0M67.4 36.7h0M70.8 38.4h0M76.4 36.4h0M79.3 38.4h0M84.6 37.9h0M91.3 36.6h0M94.3 35.6h0M100.4 35.7h0M104.7 35.4h0M107.8 37.8h0M113.0 35.4h0M117.2 36.1h0M124.9 36.0h0M126.8 36.0h0M132.3 36.4h0M137.8 36.9h0M28.9 42.2h0M31.3 40.5h0M38.2 41.8h0M41.4 43.1h0M47.5 41.8h0M51.9 43.2h0M57.3 42.5h0M62.0 41.9h0M66.0 42.0h0M72.3 42.0h0M74.3 41.1h0M81.3 40.8h0M84.1 40.7h0M90.7 42.6h0M96.0 42.2h0M100.5 40.8h0M104.6 41.7h0M109.5 43.1h0M112.4 43.3h0M118.8 40.4h0M122.9 42.3h0M129.4 42.8h0M133.1 42.7h0M136.5 43.1h0M26.6 45.0h0M32.2 45.1h0M36.9 47.2h0M40.5 45.8h0M45.8 46.6h0M50.4 45.9h0M53.5 46.5h0M60.2 45.4h0M65.2 46.9h0M67.3 45.0h0M73.9 47.9h0M76.9 47.7h0M83.7 46.6h0M87.8 46.7h0M94.3 44.9h0M97.0 45.1h0M100.7 45.4h0M107.2 46.8h0M110.7 47.1h0M118.0 46.4h0M120.7 47.7h0M127.4 46.5h0M129.4 47.7h0M135.6 45.4h0M28.4 50.6h0M35.9 51.7h0M39.5 51.4h0M44.2 51.5h0M48.5 52.1h0M53.3 52.2h0M58.4 51.5h0M62.3 50.5h0M68.9 52.4h0M74.2 49.7h0M78.5 52.0h0M82.0 52.8h0M87.8 52.0h0M92.2 51.8h0M97.8 51.5h0M100.8 50.4h0M105.9 49.8h0M111.1 50.4h0M115.9 52.2h0M119.4 52.7h0M124.3 50.0h0M131.1 50.6h0M133.9 49.8h0M139.3 52.9h0M27.1 56.2h0M33.1 56.4h0M37.8 54.7h0M42.9 57.7h0M44.8 56.5h0M49.7 55.8h0M55.4 57.1h0M60.1 57.0h0M66.1 57.6h0M71.0 56.4h0M74.0 55.0h0M79.3 56.9h0M85.2 55.2h0M88.1 56.6h0M94.9 56.4h0M97.3 56.4h0M103.7 56.1h0M107.3 56.0h0M112.8 56.1h0M116.4 57.6h0M121.9 56.7h0M126.8 55.1h0M130.6 55.8h0M135.4 56.9h0M29.3 60.8h0M34.2 59.1h0M40.0 61.4h0M44.0 60.5h0M49.1 60.6h0M53.8 59.9h0M59.4 61.7h0M63.6 59.3h0M66.8 60.3h0M71.6 60.0h0M78.8 59.4h0M81.8 60.4h0M87.7 62.2h0M92.7 61.2h0M97.1 60.4h0M100.6 61.3h0M105.7 59.1h0M111.5 60.9h0M114.2 60.4h0M119.0 61.7h0M126.5 62.3h0M129.7 60.4h0M134.3 59.1h0M138.6 61.7h0M27.4 66.4h0M31.4 64.4h0M36.8 64.8h0M43.4 67.0h0M46.9 65.2h0M50.3 67.1h0M55.5 66.0h0M61.2 63.9h0M65.8 64.8h0M70.4 67.0h0M76.0 66.4h0M80.8 65.1h0M85.4 65.5h0M90.5 66.5h0M93.9 64.8h0M100.3 65.0h0M103.2 64.6h0M110.0 66.6h0M111.8 64.3h0M117.3 65.8h0M124.4 65.4h0M127.1 65.6h0M131.3 65.6h0M137.1 66.9h0M27.0 71.8h0M30.5 71.4h0M37.1 70.5h0M41.0 71.2h0M47.7 71.5h0M51.6 69.3h0M55.7 69.1h0M60.9 71.0h0M64.7 71.6h0M70.0 71.2h0M75.0 71.5h0M80.9 70.7h0M83.5 68.8h0M90.3 69.6h0M94.4 70.6h0M97.7 71.2h0M102.2 71.3h0M106.6 69.8h0M114.1 70.6h0M117.0 68.7h0M122.2 71.9h0M128.0 69.1h0M132.1 71.3h0M137.2 70.2h0M28.2 73.8h0M34.2 75.1h0M39.1 76.1h0M44.0 74.8h0M47.0 76.6h0M52.1 76.5h0M56.8 75.7h0M61.6 75.6h0M67.4 75.6h0M70.0 75.2h0M77.8 75.1h0M80.7 73.6h0M84.1 73.3h0M89.5 73.7h0M94.9 75.0h0M99.7 74.8h0M105.2 75.0h0M108.8 74.9h0M113.3 75.5h0M120.8 75.5h0M122.4 76.5h0M127.4 74.1h0M132.6 76.2h0M139.5 73.5h0M26.6 80.4h0M31.4 81.1h0M37.6 78.7h0M42.1 78.5h0M46.7 80.1h0M50.7 80.8h0M57.2 79.2h0M61.2 80.5h0M65.1 79.7h0M70.9 81.0h0M74.3 78.8h0M80.9 78.5h0M84.4 78.9h0M91.2 79.3h0M94.8 80.0h0M98.5 78.2h0M102.9 79.4h0M110.2 80.8h0M113.8 78.8h0M117.0 78.6h0M124.3 80.3h0M127.8 79.9h0M132.0 80.6h0M138.9 80.7h0M27.3 83.6h0M32.9 83.9h0M37.6 85.3h0M41.9 84.6h0M47.3 85.9h0M52.6 84.6h0M54.9 84.4h0M60.2 83.1h0M65.7 84.9h0M72.2 84.5h0M75.6 85.4h0M80.0 85.1h0M83.9 85.4h0M90.2 85.0h0M94.8 85.8h0M97.5 85.6h0M104.5 84.1h0M109.7 84.5h0M112.7 84.7h0M119.1 84.7h0M122.8 84.1h0M127.3 83.0h0M131.0 84.0h0M138.0 84.4h0M26.1 90.9h0M31.3 88.6h0M38.5 88.6h0M43.4 90.0h0M45.8 89.9h0M50.2 90.6h0M56.4 89.9h0M62.2 88.8h0M64.3 89.9h0M70.1 89.0h0M76.2 88.3h0M78.8 89.6h0M85.0 89.1h0M88.0 88.9h0M95.4 90.1h0M97.8 89.9h0M103.9 90.7h0M107.9 89.6h0M113.3 90.3h0M118.2 88.3h0M122.2 89.6h0M126.6 88.1h0M133.7 90.2h0M135.9 88.7h0M27.9 93.3h0M29.7 95.1h0M36.3 92.3h0M39.8 92.8h0M45.5 94.4h0M50.2 92.7h0M55.3 93.0h0M59.9 95.0h0M65.0 94.3h0M67.9 94.5h0M72.7 95.5h0M79.8 92.7h0M83.5 95.4h0M87.2 92.3h0M93.2 94.7h0M98.8 93.3h0M102.4 93.7h0M106.4 92.8h0M113.1 94.4h0M115.3 93.9h0M120.9 92.6h0M125.8 92.7h0M129.7 95.5h0M136.7 95.1h0M28.2 98.3h0M34.4 99.3h0M39.6 99.6h0M43.3 99.2h0M49.0 98.5h0M51.9 98.9h0M58.8 99.2h0M61.3 99.3h0M68.0 99.3h0M72.7 97.2h0M77.3 100.3h0M82.4 99.4h0M84.4 99.3h0M89.2 100.4h0M93.9 98.2h0M101.4 97.6h0M103.8 97.7h0M110.7 99.2h0M112.9 99.1h0M119.6 99.2h0M125.2 99.4h0M128.7 99.2h0M133.6 97.9h0M139.8 97.9h0M25.3 102.4h0M32.0 103.5h0M35.0 103.0h0M41.6 103.0h0M44.7 103.4h0M50.4 102.3h0M52.9 104.2h0M58.6 103.7h0M62.3 102.3h0M67.6 104.6h0M73.8 103.4h0M77.2 102.0h0M83.3 102.4h0M87.5 103.8h0M93.7 101.8h0M95.6 103.9h0M100.5 104.2h0M106.3 104.8h0M112.4 104.1h0M117.3 102.9h0M119.6 103.1h0M125.0 103.8h0M129.4 105.1h0M136.8 104.2h0M140.4 103.8h0M26.1 108.3h0M30.4 107.1h0M37.8 108.5h0M41.6 108.9h0M46.1 108.0h0M51.6 109.8h0M54.0 108.0h0M60.3 108.3h0M64.7 109.1h0M70.2 109.3h0M74.6 107.2h0M80.7 109.0h0M85.1 107.6h0M90.1 106.9h0M92.1 106.7h0M98.3 107.8h0M104.2 106.9h0M108.9 106.7h0M111.8 108.0h0M118.2 108.1h0M120.6 108.3h0M125.3 108.6h0M132.8 106.8h0M135.9 108.3h0M25.3 114.5h0M29.4 113.3h0M35.3 113.5h0M41.2 113.0h0M45.7 114.4h0M50.4 112.9h0M53.3 114.0h0M58.0 111.5h0M63.0 111.3h0M68.4 112.8h0M73.9 112.0h0M79.4 112.3h0M81.4 114.1h0M87.7 113.5h0M91.2 111.9h0M96.1 112.7h0M101.0 113.9h0M105.4 113.2h0M112.8 112.4h0M117.0 114.5h0M121.7 113.8h0M124.6 113.4h0M128.8 112.1h0M135.7 112.7h0M138.1 111.4h0M29.0 118.8h0M33.2 118.5h0M39.6 116.5h0M42.4 118.9h0M48.5 118.0h0M53.5 119.4h0M57.4 117.0h0M61.9 117.0h0M66.0 117.8h0M69.9 116.2h0M75.7 116.4h0M80.9 117.0h0M86.4 116.2h0M92.0 117.2h0M94.6 118.7h0M101.5 117.7h0M105.5 116.3h0M109.1 117.6h0M115.3 117.4h0M118.7 117.6h0M123.7 116.3h0M128.4 117.3h0M132.1 118.2h0M136.3 116.5h0M29.6 123.5h0M36.4 123.7h0M40.6 121.1h0M45.5 121.6h0M50.8 120.9h0M54.4 122.3h0M57.8 122.0h0M64.1 121.1h0M68.9 121.7h0M72.6 124.0h0M79.3 123.6h0M83.5 122.1h0M87.5 123.4h0M90.9 123.2h0M95.5 123.1h0M102.9 124.0h0M107.3 121.4h0M111.3 121.6h0M115.3 123.3h0M119.1 123.1h0M125.0 123.6h0M130.2 123.7h0M136.1 123.5h0M140.1 121.1h0M24.8 127.5h0M30.1 126.6h0M35.4 126.1h0M39.8 126.5h0M46.6 126.3h0M48.7 128.8h0M53.6 128.7h0M59.0 127.6h0M64.6 128.6h0M69.1 125.8h0M73.6 126.7h0M78.6 127.4h0M84.9 127.3h0M87.3 127.3h0M92.2 126.0h0M96.2 127.8h0M101.1 126.3h0M106.4 127.0h0M113.2 126.4h0M117.0 127.7h0M122.5 127.7h0M127.5 127.0h0M129.3 127.4h0M133.8 128.7h0M26.8 132.5h0M30.2 131.5h0M35.9 133.5h0M39.9 133.1h0M46.4 132.8h0M51.6 132.0h0M56.9 132.2h0M59.6 130.5h0M63.5 132.0h0M70.2 130.6h0M72.8 132.8h0M77.6 130.3h0M84.1 133.6h0M89.0 133.6h0M92.4 132.7h0M98.2 131.7h0M103.1 132.7h0M106.4 132.6h0M113.5 130.5h0M115.5 133.4h0M122.4 131.8h0M125.0 132.7h0M132.3 131.6h0M136.6 132.9h0M25.7 135.7h0M30.7 136.0h0M33.8 137.0h0M38.8 137.1h0M44.5 137.6h0M48.5 138.0h0M54.3 137.8h0M59.4 135.5h0M62.7 136.2h0M68.1 136.2h0M74.0 137.5h0M76.2 138.2h0M83.4 137.0h0M88.5 135.1h0M92.2 137.6h0M98.2 136.0h0M103.1 137.2h0M108.0 136.9h0M112.5 137.0h0M115.8 138.0h0M121.2 136.9h0M125.3 136.6h0M129.6 136.4h0M135.4 135.4h0M140.7 137.8h0" stroke="#da2e2e" stroke-width="2.25" stroke-linecap="round" fill="none"/>
<path d="M46.1 40.4h0M132.9 124.2h0M55.7 72.0h0M30.7 61.7h0M55.7 120.0h0M128.2 72.1h0M59.4 89.9h0M133.3 44.8h0M47.3 101.8h0M117.5 92.7h0M70.0 40.2h0M120.3 128.1h0M120.5 104.8h0M44.0 65.6h0M40.5 105.4h0M36.4 127.8h0" stroke="#e6c22a" stroke-width="2.4" stroke-linecap="round" fill="none"/>
<path d="M45.0 38.0h0M132.7 121.6h0M130.5 123.3h0M58.3 72.6h0M32.3 63.7h0M57.8 118.4h0M127.0 74.4h0M59.9 92.5h0M61.3 88.1h0M135.9 44.5h0M47.1 99.2h0M117.1 90.1h0M120.1 92.7h0M69.1 42.6h0M117.8 127.6h0M121.2 102.3h0M46.6 65.5h0M39.6 107.9h0M37.0 130.3h0M38.2 125.9h0" stroke="#3340d8" stroke-width="2.4" stroke-linecap="round" fill="none"/>
<path d="M46.1 36.9h0M129.6 123.0h0M128.3 75.6h0M135.5 47.4h0M49.2 98.8h0M116.9 96.2h0M119.1 124.8h0M120.8 101.3h0" stroke="#a27ce8" stroke-width="2.2" stroke-linecap="round" fill="none"/>
</g>
<rect x="25.4" y="23.5" width="114.6" height="114.5" fill="none" stroke="#666" stroke-width="1"/>
<line x1="25.4" y1="23.5" x2="32.4" y2="30.5" stroke="#777" stroke-width="0.7"/>
<line x1="140.0" y1="23.5" x2="133.0" y2="30.5" stroke="#777" stroke-width="0.7"/>
<line x1="25.4" y1="138.0" x2="32.4" y2="131.0" stroke="#777" stroke-width="0.7"/>
<line x1="140.0" y1="138.0" x2="133.0" y2="131.0" stroke="#777" stroke-width="0.7"/>
<g clip-path="url(#clipbox2)">
<path d="M204.7 26.0l-0.8 -1.2M204.7 26.0l1.4 -0.5M210.8 27.9l0.9 1.2M210.8 27.9l-1.4 0.6M214.1 26.7l-0.2 1.5M214.1 26.7l-1.4 -0.5M217.7 27.6l1.1 1.0M217.7 27.6l-1.3 0.8M221.4 26.2l1.4 0.6M221.4 26.2l-0.9 1.2M224.8 26.9l-1.4 -0.6M224.8 26.9l0.9 -1.2M229.5 28.7l1.5 -0.1M229.5 28.7l-0.3 1.5M233.9 27.4l1.5 0.1M233.9 27.4l-0.4 1.4M236.2 26.5l1.1 -1.0M236.2 26.5l0.7 1.3M238.8 25.8l-0.3 1.5M238.8 25.8l-1.3 -0.7M243.9 26.7l0.8 1.3M243.9 26.7l-1.4 0.5M247.4 28.4l1.5 0.3M247.4 28.4l-0.6 1.4M251.7 27.4l-0.9 1.2M251.7 27.4l-1.0 -1.2M254.6 25.8l1.3 0.8M254.6 25.8l-1.1 1.1M258.7 26.1l-1.5 0.0M258.7 26.1l0.3 -1.5M263.0 28.7l-1.4 0.4M263.0 28.7l-0.0 -1.5M267.3 26.3l0.7 1.3M267.3 26.3l-1.4 0.4M271.8 28.1l1.1 -1.0M271.8 28.1l0.7 1.3M275.1 28.5l-1.3 -0.8M275.1 28.5l1.0 -1.1M279.0 28.1l0.1 -1.5M279.0 28.1l1.4 0.5M281.6 28.7l0.1 1.5M281.6 28.7l-1.5 -0.3M287.2 26.2l-0.3 -1.5M287.2 26.2l1.5 0.1M290.4 27.9l-0.5 -1.4M290.4 27.9l1.5 -0.1M293.3 27.3l0.2 -1.5M293.3 27.3l1.4 0.6M297.2 28.5l0.6 1.4M297.2 28.5l-1.5 0.2M301.0 28.2l1.4 -0.5M301.0 28.2l0.1 1.5M304.4 28.4l-1.4 0.4M304.4 28.4l-0.0 -1.5M309.8 27.1l1.3 0.7M309.8 27.1l-1.0 1.1M312.6 28.5l1.3 -0.7M312.6 28.5l0.4 1.5M316.9 27.2l-0.5 1.4M316.9 27.2l-1.2 -0.8M202.7 31.6l1.2 -0.9M202.7 31.6l0.6 1.4M206.0 32.3l0.4 1.4M206.0 32.3l-1.5 0.0M210.1 32.3l1.3 0.7M210.1 32.3l-1.0 1.1M214.1 32.4l-1.5 -0.1M214.1 32.4l0.5 -1.4M219.1 31.0l-1.4 -0.5M219.1 31.0l0.8 -1.3M222.3 31.5l-0.7 -1.3M222.3 31.5l1.5 -0.3M226.3 30.5l-0.9 -1.2M226.3 30.5l1.4 -0.6M229.0 31.1l-1.0 1.1M229.0 31.1l-0.9 -1.2M234.9 31.4l0.1 -1.5M234.9 31.4l1.4 0.5M236.2 32.0l-1.5 -0.1M236.2 32.0l0.5 -1.4M241.9 32.3l0.9 1.2M241.9 32.3l-1.4 0.6M244.1 31.8l-1.3 -0.8M244.1 31.8l1.1 -1.1M247.5 31.5l-0.9 1.2M247.5 31.5l-0.9 -1.2M252.0 30.2l-1.4 -0.4M252.0 30.2l0.8 -1.3M257.6 29.9l0.8 1.3M257.6 29.9l-1.4 0.5M260.3 32.1l-0.0 1.5M260.3 32.1l-1.4 -0.4M263.3 30.2l-0.1 1.5M263.3 30.2l-1.4 -0.5M269.0 30.8l-0.8 -1.3M269.0 30.8l1.4 -0.4M272.3 29.6l1.5 0.2M272.3 29.6l-0.6 1.4M275.0 30.0l-1.3 0.8M275.0 30.0l-0.4 -1.4M279.8 29.8l-1.2 0.9M279.8 29.8l-0.5 -1.4M284.4 29.6l1.1 -1.1M284.4 29.6l0.8 1.3M287.5 29.6l1.1 1.0M287.5 29.6l-1.3 0.8M289.9 32.0l-1.5 -0.1M289.9 32.0l0.5 -1.4M293.4 30.1l0.6 -1.4M293.4 30.1l1.2 0.9M298.8 30.7l-1.3 0.8M298.8 30.7l-0.5 -1.4M300.7 32.5l1.4 -0.4M300.7 32.5l0.0 1.5M304.8 29.6l-0.0 1.5M304.8 29.6l-1.4 -0.4M309.2 31.4l-1.5 0.0M309.2 31.4l0.3 -1.5M314.2 29.9l-0.5 1.4M314.2 29.9l-1.2 -0.8M202.3 34.7l-0.3 1.5M202.3 34.7l-1.4 -0.6M208.3 35.6l1.4 0.6M208.3 35.6l-1.0 1.2M212.5 35.6l0.3 -1.5M212.5 35.6l1.4 0.6M216.2 35.4l-0.8 -1.2M216.2 35.4l1.4 -0.5M218.8 34.0l0.8 -1.3M218.8 34.0l1.1 1.1M223.2 34.3l-1.5 0.2M223.2 34.3l0.2 -1.5M225.3 34.7l0.6 1.4M225.3 34.7l-1.5 0.3M231.4 33.7l-0.8 -1.3M231.4 33.7l1.4 -0.5M234.3 34.5l1.4 -0.6M234.3 34.5l0.2 1.5M237.9 33.8l-1.4 -0.5M237.9 33.8l0.9 -1.2M243.1 34.1l-0.1 1.5M243.1 34.1l-1.4 -0.5M245.8 34.6l-1.5 -0.2M245.8 34.6l0.6 -1.4M247.8 35.0l0.9 -1.2M247.8 35.0l0.9 1.2M252.0 33.5l0.6 -1.4M252.0 33.5l1.2 0.9M255.5 33.8l-1.0 -1.1M255.5 33.8l1.3 -0.8M259.5 35.2l-0.1 -1.5M259.5 35.2l1.5 0.3M264.5 36.3l1.5 0.3M264.5 36.3l-0.7 1.4M269.6 36.3l1.0 1.1M269.6 36.3l-1.3 0.7M271.3 34.7l1.5 0.1M271.3 34.7l-0.5 1.4M275.1 35.1l-1.4 0.5M275.1 35.1l-0.1 -1.5M280.1 35.7l-1.5 0.1M280.1 35.7l0.3 -1.5M284.1 34.1l1.5 0.2M284.1 34.1l-0.5 1.4M287.1 34.9l0.6 -1.4M287.1 34.9l1.2 1.0M289.6 33.4l-1.4 -0.4M289.6 33.4l0.8 -1.3M294.6 33.7l-0.2 -1.5M294.6 33.7l1.5 0.2M299.4 34.1l1.5 -0.3M299.4 34.1l-0.1 1.5M301.3 33.9l0.1 -1.5M301.3 33.9l1.4 0.5M305.5 34.0l-0.0 -1.5M305.5 34.0l1.5 0.3M310.1 34.7l-1.0 -1.1M310.1 34.7l1.3 -0.7M313.3 35.3l-1.5 -0.2M313.3 35.3l0.6 -1.4M204.4 40.0l0.2 -1.5M204.4 40.0l1.4 0.5M207.7 38.4l0.3 -1.5M207.7 38.4l1.3 0.7M210.8 38.9l-0.5 1.4M210.8 38.9l-1.3 -0.8M213.3 38.4l0.5 -1.4M213.3 38.4l1.2 0.8M218.5 37.7l0.9 1.2M218.5 37.7l-1.4 0.6M221.0 39.5l-1.5 -0.3M221.0 39.5l0.7 -1.3M225.6 38.7l1.3 -0.7M225.6 38.7l0.4 1.5M231.1 39.0l0.3 1.5M231.1 39.0l-1.5 -0.1M233.0 40.1l1.2 -0.9M233.0 40.1l0.6 1.4M237.0 37.2l-1.5 0.2M237.0 37.2l0.2 -1.5M241.8 37.4l-0.2 -1.5M241.8 37.4l1.5 0.2M244.4 39.7l0.9 1.2M244.4 39.7l-1.4 0.5M249.3 37.2l1.4 0.5M249.3 37.2l-0.8 1.3M252.5 38.4l-0.0 1.5M252.5 38.4l-1.5 -0.4M256.4 37.8l-1.2 -0.8M256.4 37.8l1.1 -1.0M260.5 37.4l1.2 -0.9M260.5 37.4l0.6 1.4M263.4 38.3l-1.4 -0.6M263.4 38.3l0.9 -1.2M269.1 37.4l-1.5 -0.2M269.1 37.4l0.6 -1.4M272.4 37.7l-1.1 1.0M272.4 37.7l-0.7 -1.3M275.6 38.3l-1.5 -0.0M275.6 38.3l0.4 -1.5M279.1 39.4l-0.3 -1.5M279.1 39.4l1.5 0.0M282.7 37.5l1.0 -1.1M282.7 37.5l0.8 1.2M285.7 37.4l-0.9 1.2M285.7 37.4l-1.0 -1.1M291.7 39.1l-0.7 -1.3M291.7 39.1l1.5 -0.3M295.8 39.2l-0.9 1.2M295.8 39.2l-1.0 -1.1M296.8 39.1l-0.0 1.5M296.8 39.1l-1.4 -0.4M302.8 39.3l1.4 0.5M302.8 39.3l-0.8 1.2M305.8 38.2l-1.2 0.8M305.8 38.2l-0.5 -1.4M309.5 39.5l-1.2 -0.9M309.5 39.5l1.2 -0.9M312.7 38.7l-1.5 -0.1M312.7 38.7l0.5 -1.4M205.6 43.3l-1.4 0.5M205.6 43.3l-0.1 -1.5M209.3 43.4l0.2 -1.5M209.3 43.4l1.4 0.5M211.2 41.6l-1.4 0.4M211.2 41.6l-0.1 -1.5M215.6 41.7l-0.5 -1.4M215.6 41.7l1.5 -0.2M219.2 43.0l-1.4 -0.5M219.2 43.0l0.8 -1.2M224.5 42.7l1.4 -0.5M224.5 42.7l0.1 1.5M228.0 41.2l-0.7 1.3M228.0 41.2l-1.1 -1.0M230.4 43.9l-1.4 0.5M230.4 43.9l-0.2 -1.5M233.6 42.2l0.2 -1.5M233.6 42.2l1.4 0.5M237.1 41.2l-0.4 1.4M237.1 41.2l-1.3 -0.8M243.4 43.9l0.4 -1.4M243.4 43.9l1.3 0.8M246.5 41.3l-0.7 1.3M246.5 41.3l-1.1 -1.0M249.2 41.6l0.9 1.2M249.2 41.6l-1.4 0.5M254.1 43.0l-1.4 -0.4M254.1 43.0l0.8 -1.3M257.2 42.5l-1.4 -0.6M257.2 42.5l0.9 -1.2M260.1 42.6l-0.5 1.4M260.1 42.6l-1.2 -0.8M266.4 43.2l-0.2 1.5M266.4 43.2l-1.4 -0.6M267.6 42.5l1.5 -0.0M267.6 42.5l-0.3 1.5M273.3 41.7l-1.5 -0.0M273.3 41.7l0.4 -1.4M277.6 42.3l-0.4 -1.5M277.6 42.3l1.5 -0.0M280.8 42.1l-1.3 0.7M280.8 42.1l-0.4 -1.5M285.5 43.3l-1.4 -0.5M285.5 43.3l0.8 -1.3M288.0 41.4l-0.3 1.5M288.0 41.4l-1.3 -0.7M291.4 41.0l0.7 1.3M291.4 41.0l-1.4 0.4M295.7 43.6l0.7 -1.3M295.7 43.6l1.1 1.0M298.3 42.5l-0.6 -1.4M298.3 42.5l1.5 -0.3M303.0 42.1l-0.5 1.4M303.0 42.1l-1.2 -0.8M307.4 43.7l-1.2 0.8M307.4 43.7l-0.5 -1.4M311.2 42.4l-1.4 -0.6M311.2 42.4l0.9 -1.2M315.8 41.9l1.4 0.6M315.8 41.9l-0.9 1.2M205.7 47.0l-1.1 -1.0M205.7 47.0l1.2 -0.8M210.1 45.4l1.5 -0.0M210.1 45.4l-0.3 1.5M213.2 45.9l-0.6 -1.4M213.2 45.9l1.5 -0.2M217.1 47.7l-1.5 0.3M217.1 47.7l0.1 -1.5M220.8 44.8l1.1 1.0M220.8 44.8l-1.3 0.8M224.1 46.9l-1.5 -0.4M224.1 46.9l0.7 -1.3M229.2 46.7l-1.3 -0.7M229.2 46.7l1.0 -1.1M232.8 44.8l-0.5 -1.4M232.8 44.8l1.5 -0.1M237.0 46.9l1.1 -1.0M237.0 46.9l0.7 1.3M239.8 47.4l-0.2 1.5M239.8 47.4l-1.4 -0.5M244.4 45.0l1.2 0.9M244.4 45.0l-1.2 0.9M248.0 47.0l1.5 -0.3M248.0 47.0l-0.1 1.5M249.9 47.0l-1.5 -0.3M249.9 47.0l0.7 -1.3M254.9 45.3l1.1 -1.0M254.9 45.3l0.7 1.3M259.3 45.1l-1.2 -0.9M259.3 45.1l1.2 -0.9M262.6 46.0l1.2 -0.9M262.6 46.0l0.5 1.4M265.3 46.4l-1.2 -0.9M265.3 46.4l1.2 -0.9M269.7 45.3l-0.2 -1.5M269.7 45.3l1.5 0.1M275.0 45.0l-1.0 -1.1M275.0 45.0l1.3 -0.7M275.9 46.2l1.4 -0.4M275.9 46.2l0.1 1.5M282.2 46.7l0.0 -1.5M282.2 46.7l1.5 0.4M285.8 46.2l1.5 -0.2M285.8 46.2l-0.1 1.5M289.4 45.7l-1.3 0.8M289.4 45.7l-0.4 -1.4M291.9 46.2l0.4 1.4M291.9 46.2l-1.5 0.0M295.0 45.0l0.5 1.4M295.0 45.0l-1.5 0.1M301.0 45.3l-1.4 0.4M301.0 45.3l-0.0 -1.5M304.8 47.1l-1.4 -0.5M304.8 47.1l0.9 -1.2M307.5 46.8l-0.6 -1.4M307.5 46.8l1.5 -0.2M312.5 47.3l-1.5 0.3M312.5 47.3l0.0 -1.5M314.3 45.2l1.5 -0.3M314.3 45.2l-0.0 1.5M203.7 49.4l-1.2 0.8M203.7 49.4l-0.5 -1.4M206.2 50.2l1.5 0.1M206.2 50.2l-0.4 1.4M212.9 49.6l-1.5 -0.3M212.9 49.6l0.6 -1.4M215.4 49.7l-0.8 -1.3M215.4 49.7l1.4 -0.5M218.9 51.1l0.1 1.5M218.9 51.1l-1.5 -0.3M222.3 50.5l-0.1 -1.5M222.3 50.5l1.5 0.3M226.6 50.1l0.5 1.4M226.6 50.1l-1.5 0.1M231.7 48.8l1.2 -0.9M231.7 48.8l0.5 1.4M235.2 49.4l-1.4 0.5M235.2 49.4l-0.1 -1.5M238.5 50.9l1.4 -0.4M238.5 50.9l0.1 1.5M242.3 49.7l-1.1 -1.0M242.3 49.7l1.2 -0.9M246.7 48.8l-0.2 -1.5M246.7 48.8l1.5 0.1M249.9 49.7l0.4 1.4M249.9 49.7l-1.5 0.0M253.3 51.1l1.1 -1.0M253.3 51.1l0.7 1.3M257.9 50.4l1.5 -0.1M257.9 50.4l-0.3 1.5M260.3 49.2l0.9 1.2M260.3 49.2l-1.4 0.6M264.5 49.2l-1.3 -0.7M264.5 49.2l1.0 -1.1M267.8 51.4l0.8 1.3M267.8 51.4l-1.4 0.5M271.1 51.0l1.1 -1.0M271.1 51.0l0.7 1.3M275.7 49.6l1.0 -1.1M275.7 49.6l0.8 1.2M279.3 48.8l1.3 -0.8M279.3 48.8l0.5 1.4M283.5 49.0l0.2 -1.5M283.5 49.0l1.4 0.5M287.3 49.4l-1.1 1.0M287.3 49.4l-0.7 -1.3M292.4 51.3l-1.0 -1.1M292.4 51.3l1.3 -0.7M294.9 50.5l1.4 0.5M294.9 50.5l-0.9 1.2M300.1 49.5l1.2 0.9M300.1 49.5l-1.2 0.9M301.4 49.2l-1.4 -0.5M301.4 49.2l0.8 -1.2M305.5 50.6l-0.1 -1.5M305.5 50.6l1.5 0.3M309.9 49.6l-0.4 1.4M309.9 49.6l-1.3 -0.8M314.9 49.2l1.5 0.1M314.9 49.2l-0.5 1.4M205.9 53.5l1.4 0.4M205.9 53.5l-0.8 1.3M210.2 53.4l-0.7 1.3M210.2 53.4l-1.1 -1.0M214.2 55.1l-1.0 1.1M214.2 55.1l-0.8 -1.3M216.9 54.4l1.2 -0.8M216.9 54.4l0.5 1.4M222.0 54.6l-0.6 -1.4M222.0 54.6l1.5 -0.2M225.2 54.9l1.1 -1.0M225.2 54.9l0.7 1.3M229.6 54.6l0.1 -1.5M229.6 54.6l1.4 0.4M233.5 53.2l-0.5 -1.4M233.5 53.2l1.5 -0.1M236.2 54.3l0.1 -1.5M236.2 54.3l1.4 0.5M239.3 53.5l0.3 1.5M239.3 53.5l-1.5 -0.1M242.5 55.2l0.1 -1.5M242.5 55.2l1.4 0.4M246.8 53.8l-1.3 -0.7M246.8 53.8l1.0 -1.1M252.3 52.9l-0.9 -1.2M252.3 52.9l1.4 -0.6M256.3 52.7l-1.5 0.0M256.3 52.7l0.3 -1.5M257.3 53.4l-1.4 0.5M257.3 53.4l-0.1 -1.5M262.0 55.1l0.8 -1.2M262.0 55.1l1.0 1.1M267.4 54.6l0.5 -1.4M267.4 54.6l1.3 0.8M269.9 54.0l0.5 1.4M269.9 54.0l-1.5 0.2M273.1 54.8l1.0 -1.2M273.1 54.8l0.9 1.2M277.3 53.2l-1.5 -0.4M277.3 53.2l0.7 -1.3M281.9 52.8l1.4 0.6M281.9 52.8l-0.9 1.2M284.7 55.1l0.4 -1.5M284.7 55.1l1.3 0.7M287.9 52.8l1.1 -1.0M287.9 52.8l0.7 1.3M292.0 53.1l-1.4 0.6M292.0 53.1l-0.2 -1.5M296.4 53.1l-1.4 0.6M296.4 53.1l-0.3 -1.5M300.0 53.1l-0.2 1.5M300.0 53.1l-1.4 -0.6M303.5 54.2l0.5 1.4M303.5 54.2l-1.5 0.2M307.6 53.5l-1.5 -0.3M307.6 53.5l0.7 -1.3M312.7 52.5l-1.4 0.6M312.7 52.5l-0.2 -1.5M314.6 54.9l-0.9 -1.2M314.6 54.9l1.4 -0.5M204.9 56.5l-0.8 -1.3M204.9 56.5l1.4 -0.5M207.9 58.7l0.5 1.4M207.9 58.7l-1.5 0.2M211.1 58.4l0.2 -1.5M211.1 58.4l1.4 0.5M215.8 57.3l-1.4 0.5M215.8 57.3l-0.1 -1.5M220.7 57.3l-1.3 0.8M220.7 57.3l-0.5 -1.4M223.0 58.0l0.6 1.4M223.0 58.0l-1.5 0.2M226.3 58.6l-1.2 -1.0M226.3 58.6l1.2 -0.9M230.9 57.9l-0.6 -1.4M230.9 57.9l1.5 -0.3M234.5 59.1l0.3 -1.5M234.5 59.1l1.3 0.7M239.7 58.7l0.6 -1.4M239.7 58.7l1.2 1.0M241.9 57.4l-0.9 1.2M241.9 57.4l-1.0 -1.1M245.9 56.3l-1.4 -0.4M245.9 56.3l0.8 -1.3M248.5 59.1l-1.1 -1.0M248.5 59.1l1.2 -0.8M252.3 58.9l-1.1 1.0M252.3 58.9l-0.7 -1.4M257.8 58.9l1.5 0.1M257.8 58.9l-0.5 1.4M259.8 57.1l-0.2 -1.5M259.8 57.1l1.5 0.2M265.7 56.2l1.2 -0.9M265.7 56.2l0.6 1.4M267.5 57.2l-1.5 0.2M267.5 57.2l0.1 -1.5M271.5 56.6l1.3 -0.7M271.5 56.6l0.4 1.5M276.7 56.4l1.4 0.5M276.7 56.4l-0.8 1.3M281.4 58.1l-1.3 -0.8M281.4 58.1l1.1 -1.1M282.5 58.8l-1.2 0.9M282.5 58.8l-0.6 -1.4M286.9 57.6l-1.0 -1.1M286.9 57.6l1.4 -0.7M291.6 56.5l-1.0 1.2M291.6 56.5l-0.9 -1.2M295.2 56.3l-0.3 -1.5M295.2 56.3l1.5 0.1M298.1 58.9l0.4 1.4M298.1 58.9l-1.5 0.1M303.8 57.7l-0.3 1.5M303.8 57.7l-1.3 -0.7M307.2 58.8l-1.3 0.8M307.2 58.8l-0.4 -1.4M309.4 57.6l-1.3 0.7M309.4 57.6l-0.4 -1.4M313.1 56.5l-1.3 0.8M313.1 56.5l-0.4 -1.4M201.9 60.1l1.4 -0.5M201.9 60.1l0.2 1.5M205.8 61.1l-1.5 -0.1M205.8 61.1l0.5 -1.4M210.8 62.5l-1.4 -0.6M210.8 62.5l0.9 -1.2M215.4 62.1l1.0 1.1M215.4 62.1l-1.3 0.7M218.0 62.7l-1.5 -0.3M218.0 62.7l0.6 -1.4M220.8 60.2l0.1 -1.5M220.8 60.2l1.4 0.5M226.6 61.8l-0.4 -1.4M226.6 61.8l1.5 -0.1M228.5 61.1l1.4 -0.4M228.5 61.1l0.0 1.5M232.6 61.2l-1.2 -0.9M232.6 61.2l1.1 -1.0M236.8 61.1l-1.0 1.1M236.8 61.1l-0.8 -1.3M241.7 62.4l1.0 -1.1M241.7 62.4l0.8 1.3M244.8 61.4l1.5 -0.2M244.8 61.4l-0.2 1.5M247.8 62.2l1.5 -0.3M247.8 62.2l-0.1 1.5M253.7 60.6l1.1 1.0M253.7 60.6l-1.2 0.8M256.6 62.0l-0.7 -1.3M256.6 62.0l1.5 -0.3M260.3 60.0l0.8 1.3M260.3 60.0l-1.4 0.5M263.8 60.5l-0.2 1.5M263.8 60.5l-1.4 -0.5M266.5 61.7l0.2 -1.5M266.5 61.7l1.4 0.6M271.6 61.8l1.1 -1.1M271.6 61.8l0.8 1.3M275.7 62.0l-1.3 -0.8M275.7 62.0l1.1 -1.0M278.7 60.1l-0.6 1.4M278.7 60.1l-1.2 -1.0M283.4 62.4l-1.5 0.1M283.4 62.4l0.2 -1.5M287.4 61.7l-0.5 1.4M287.4 61.7l-1.2 -0.9M288.8 60.5l-0.1 1.5M288.8 60.5l-1.4 -0.5M292.8 61.8l0.4 1.4M292.8 61.8l-1.5 0.0M297.9 60.5l1.4 -0.5M297.9 60.5l0.1 1.5M303.0 62.9l1.4 -0.6M303.0 62.9l0.3 1.5M306.6 61.3l0.6 1.4M306.6 61.3l-1.5 0.2M308.6 60.6l0.9 -1.2M308.6 60.6l1.0 1.1M314.0 62.0l-0.0 -1.5M314.0 62.0l1.5 0.4M316.1 62.6l-0.2 -1.5M316.1 62.6l1.5 0.1M204.3 65.0l-0.0 1.5M204.3 65.0l-1.4 -0.4M209.0 65.1l-1.5 -0.3M209.0 65.1l0.7 -1.4M212.6 64.1l0.6 -1.4M212.6 64.1l1.2 0.9M216.6 64.5l-0.5 -1.4M216.6 64.5l1.5 -0.1M221.0 64.4l1.4 -0.6M221.0 64.4l0.3 1.5M223.1 65.3l1.4 0.5M223.1 65.3l-0.8 1.2M227.0 65.3l-0.7 1.3M227.0 65.3l-1.1 -1.0M232.4 64.3l-1.0 1.1M232.4 64.3l-0.8 -1.3M235.8 65.8l-1.3 0.8M235.8 65.8l-0.4 -1.4M239.6 65.1l1.5 -0.1M239.6 65.1l-0.2 1.5M242.4 64.8l1.5 -0.3M242.4 64.8l-0.1 1.5M246.3 64.5l0.7 -1.3M246.3 64.5l1.1 1.0M249.2 65.2l-0.8 -1.3M249.2 65.2l1.4 -0.5M253.0 65.1l0.2 -1.5M253.0 65.1l1.4 0.6M258.0 64.7l0.9 -1.2M258.0 64.7l1.0 1.1M260.6 65.5l0.3 1.5M260.6 65.5l-1.5 -0.0M266.4 64.4l-1.0 -1.1M266.4 64.4l1.3 -0.8M269.5 65.7l1.5 -0.2M269.5 65.7l-0.2 1.5M274.1 65.8l0.8 1.3M274.1 65.8l-1.4 0.4M276.2 64.4l-1.4 0.5M276.2 64.4l-0.1 -1.5M281.6 64.6l-1.0 1.1M281.6 64.6l-0.8 -1.3M282.9 66.3l0.9 -1.2M282.9 66.3l0.9 1.2M287.3 64.7l-1.5 0.3M287.3 64.7l0.0 -1.5M291.4 64.5l1.0 1.1M291.4 64.5l-1.3 0.7M296.4 64.8l-1.1 1.1M296.4 64.8l-0.8 -1.3M299.4 65.0l-0.9 -1.2M299.4 65.0l1.4 -0.6M304.4 63.8l-1.4 -0.4M304.4 63.8l0.8 -1.3M307.4 64.1l1.5 0.3M307.4 64.1l-0.6 1.4M309.9 65.6l0.6 -1.4M309.9 65.6l1.2 0.9M314.4 63.9l-0.3 1.5M314.4 63.9l-1.3 -0.7M205.9 69.5l1.5 0.3M205.9 69.5l-0.7 1.3M208.4 69.9l-1.1 -1.1M208.4 69.9l1.3 -0.8M213.5 68.0l-0.7 -1.3M213.5 68.0l1.5 -0.4M215.4 70.4l-1.2 -0.9M215.4 70.4l1.2 -0.9M221.1 68.1l1.3 0.8M221.1 68.1l-1.1 1.0M224.2 70.2l1.5 0.2M224.2 70.2l-0.6 1.4M227.7 69.6l-0.2 -1.5M227.7 69.6l1.5 0.1M231.3 68.2l-1.5 -0.1M231.3 68.2l0.4 -1.4M234.2 67.7l1.5 0.1M234.2 67.7l-0.5 1.4M239.3 67.9l-1.4 -0.6M239.3 67.9l0.9 -1.2M243.0 68.7l1.3 0.8M243.0 68.7l-1.1 1.1M246.2 70.4l-1.5 0.3M246.2 70.4l0.1 -1.5M249.9 69.0l-0.4 -1.5M249.9 69.0l1.5 -0.0M253.7 68.2l0.2 1.5M253.7 68.2l-1.5 -0.1M257.0 69.1l-1.2 0.8M257.0 69.1l-0.5 -1.4M262.6 67.8l-0.3 -1.5M262.6 67.8l1.5 0.1M266.8 69.6l-0.2 1.5M266.8 69.6l-1.4 -0.6M267.9 69.7l-1.1 -1.0M267.9 69.7l1.3 -0.8M272.7 69.1l1.4 0.5M272.7 69.1l-0.8 1.2M275.6 69.1l-0.4 -1.4M275.6 69.1l1.5 -0.1M280.7 69.9l0.1 1.5M280.7 69.9l-1.5 -0.2M284.7 69.6l-1.4 0.6M284.7 69.6l-0.3 -1.5M288.9 68.2l1.5 -0.1M288.9 68.2l-0.3 1.5M290.6 69.0l0.3 -1.5M290.6 69.0l1.4 0.6M294.7 68.0l0.6 1.4M294.7 68.0l-1.5 0.2M299.1 69.1l0.4 -1.4M299.1 69.1l1.3 0.8M303.8 69.5l-1.2 0.9M303.8 69.5l-0.6 -1.4M308.6 67.8l-1.5 0.0M308.6 67.8l0.3 -1.5M311.2 67.8l-0.3 1.5M311.2 67.8l-1.4 -0.6M315.3 68.8l0.7 1.3M315.3 68.8l-1.5 0.3M202.4 73.3l1.5 -0.1M202.4 73.3l-0.2 1.5M206.7 74.2l-1.2 1.0M206.7 74.2l-0.6 -1.4M210.1 72.4l0.4 1.4M210.1 72.4l-1.5 0.0M215.6 73.2l0.5 -1.4M215.6 73.2l1.3 0.8M217.0 73.7l1.2 0.9M217.0 73.7l-1.2 0.9M221.5 74.2l-1.3 0.8M221.5 74.2l-0.4 -1.4M226.1 73.7l1.1 1.0M226.1 73.7l-1.2 0.8M230.7 72.9l1.5 0.3M230.7 72.9l-0.7 1.3M234.7 71.4l1.5 -0.2M234.7 71.4l-0.2 1.5M236.7 73.8l-1.5 0.1M236.7 73.8l0.3 -1.5M239.5 73.4l-0.9 -1.2M239.5 73.4l1.4 -0.5M246.2 73.5l0.9 1.2M246.2 73.5l-1.4 0.6M249.6 71.6l-1.0 1.1M249.6 71.6l-0.8 -1.2M252.5 73.2l1.4 0.5M252.5 73.2l-0.9 1.2M255.9 72.6l0.8 -1.3M255.9 72.6l1.0 1.1M260.8 71.8l1.5 0.1M260.8 71.8l-0.4 1.4M262.4 73.1l1.4 -0.6M262.4 73.1l0.2 1.5M268.9 73.8l1.5 -0.4M268.9 73.8l-0.0 1.5M271.9 72.2l0.5 1.4M271.9 72.2l-1.5 0.1M276.3 71.5l-0.3 1.5M276.3 71.5l-1.3 -0.7M278.2 73.7l0.7 1.4M278.2 73.7l-1.5 0.3M283.9 72.5l1.5 0.2M283.9 72.5l-0.6 1.4M287.8 71.7l-1.5 0.2M287.8 71.7l0.1 -1.5M290.6 71.5l-1.5 -0.2M290.6 71.5l0.6 -1.4M293.3 71.9l1.1 -1.0M293.3 71.9l0.7 1.3M296.5 72.5l-1.5 0.2M296.5 72.5l0.2 -1.5M301.7 72.2l0.7 1.3M301.7 72.2l-1.5 0.3M306.0 71.5l-1.4 0.6M306.0 71.5l-0.3 -1.5M309.4 72.9l0.8 1.3M309.4 72.9l-1.4 0.5M312.8 74.1l1.5 0.3M312.8 74.1l-0.7 1.3M315.8 72.6l-1.1 1.0M315.8 72.6l-0.7 -1.3M203.8 78.1l0.7 -1.3M203.8 78.1l1.1 1.0M208.2 76.7l1.3 0.7M208.2 76.7l-1.0 1.1M211.6 76.4l1.5 -0.2M211.6 76.4l-0.1 1.5M216.9 77.5l0.8 -1.3M216.9 77.5l1.0 1.1M219.8 75.6l1.5 -0.1M219.8 75.6l-0.3 1.5M223.4 75.5l-1.2 -0.8M223.4 75.5l1.1 -1.0M226.5 75.2l-0.5 1.4M226.5 75.2l-1.2 -0.9M231.4 78.1l0.2 -1.5M231.4 78.1l1.4 0.6M235.0 76.8l0.9 1.2M235.0 76.8l-1.4 0.6M237.6 76.5l-1.5 -0.2M237.6 76.5l0.6 -1.4M242.0 76.4l0.7 -1.3M242.0 76.4l1.1 1.0M245.3 75.8l-1.5 -0.3M245.3 75.8l0.7 -1.3M250.5 78.0l0.1 -1.5M250.5 78.0l1.4 0.5M254.5 77.0l0.6 1.4M254.5 77.0l-1.5 0.3M255.9 76.0l1.0 -1.1M255.9 76.0l0.9 1.2M262.2 78.1l0.9 1.2M262.2 78.1l-1.4 0.5M265.1 76.8l-0.7 1.3M265.1 76.8l-1.1 -1.0M269.3 75.9l-1.3 -0.8M269.3 75.9l1.1 -1.0M273.2 76.2l1.3 -0.7M273.2 76.2l0.4 1.4M277.4 76.5l1.1 1.0M277.4 76.5l-1.3 0.8M280.6 76.8l-0.3 1.5M280.6 76.8l-1.4 -0.6M284.1 76.5l0.2 -1.5M284.1 76.5l1.4 0.6M289.1 77.4l0.0 1.5M289.1 77.4l-1.5 -0.3M291.3 76.6l-1.2 0.9M291.3 76.6l-0.6 -1.4M296.5 77.4l0.6 1.4M296.5 77.4l-1.5 0.3M299.6 78.0l1.5 -0.1M299.6 78.0l-0.3 1.5M301.8 76.9l0.3 -1.5M301.8 76.9l1.3 0.7M307.1 76.5l-1.1 1.0M307.1 76.5l-0.7 -1.3M311.9 78.0l1.5 -0.1M311.9 78.0l-0.3 1.5M314.0 77.0l1.1 -1.0M314.0 77.0l0.7 1.3M205.9 80.0l-0.6 1.4M205.9 80.0l-1.2 -1.0M210.0 80.0l1.3 0.7M210.0 80.0l-1.0 1.1M211.9 80.9l-0.3 -1.5M211.9 80.9l1.5 0.1M217.2 80.2l-1.0 -1.1M217.2 80.2l1.3 -0.7M220.5 81.9l-0.1 1.5M220.5 81.9l-1.4 -0.5M225.2 80.2l1.5 0.1M225.2 80.2l-0.4 1.4M229.3 80.6l-0.3 1.5M229.3 80.6l-1.3 -0.7M231.6 80.9l1.4 -0.6M231.6 80.9l0.3 1.5M236.6 81.6l-0.6 -1.4M236.6 81.6l1.5 -0.3M240.0 80.9l-0.7 -1.3M240.0 80.9l1.4 -0.4M243.0 79.1l-0.5 -1.4M243.0 79.1l1.5 -0.1M247.0 79.3l-0.2 1.5M247.0 79.3l-1.4 -0.5M252.2 80.0l1.1 -1.0M252.2 80.0l0.7 1.3M255.0 81.1l-1.5 0.3M255.0 81.1l0.1 -1.5M257.5 81.4l1.3 -0.7M257.5 81.4l0.3 1.5M261.8 79.2l-1.1 -1.0M261.8 79.2l1.2 -0.9M266.4 80.1l-0.6 -1.4M266.4 80.1l1.5 -0.3M271.2 80.3l1.0 -1.1M271.2 80.3l0.8 1.3M272.5 79.0l1.5 -0.2M272.5 79.0l-0.2 1.5M276.1 80.4l-0.3 -1.5M276.1 80.4l1.5 0.0M282.0 79.1l1.4 -0.5M282.0 79.1l0.2 1.5M284.6 80.4l-1.3 0.8M284.6 80.4l-0.4 -1.4M290.1 81.8l-0.6 1.4M290.1 81.8l-1.2 -0.9M293.8 80.8l-0.1 1.5M293.8 80.8l-1.4 -0.5M296.7 79.6l-1.0 1.1M296.7 79.6l-0.8 -1.3M300.6 79.4l1.2 -0.9M300.6 79.4l0.6 1.4M303.5 81.4l-0.7 1.3M303.5 81.4l-1.1 -1.0M308.1 81.1l0.0 1.5M308.1 81.1l-1.5 -0.3M311.6 79.8l1.3 0.8M311.6 79.8l-1.1 1.0M315.5 80.7l-0.3 -1.5M315.5 80.7l1.5 0.1M204.4 85.7l1.4 -0.6M204.4 85.7l0.3 1.5M206.2 83.5l-1.3 0.7M206.2 83.5l-0.3 -1.5M211.9 84.9l0.9 1.2M211.9 84.9l-1.4 0.5M213.9 84.5l0.1 -1.5M213.9 84.5l1.4 0.5M217.7 85.3l0.9 -1.2M217.7 85.3l1.0 1.1M222.6 84.3l-1.3 0.8M222.6 84.3l-0.5 -1.4M225.1 84.0l-1.5 0.3M225.1 84.0l0.1 -1.5M229.8 83.8l-1.1 1.1M229.8 83.8l-0.8 -1.3M232.8 83.3l-1.5 -0.3M232.8 83.3l0.7 -1.3M238.1 85.5l-0.8 -1.3M238.1 85.5l1.4 -0.5M242.4 84.6l1.3 -0.7M242.4 84.6l0.3 1.5M246.0 83.1l-0.8 1.3M246.0 83.1l-1.1 -1.0M248.0 84.8l1.5 -0.3M248.0 84.8l-0.0 1.5M251.2 83.0l-1.1 -1.0M251.2 83.0l1.2 -0.9M257.4 83.3l-1.4 0.4M257.4 83.3l-0.0 -1.5M259.4 83.9l0.8 -1.2M259.4 83.9l1.0 1.1M265.1 82.8l0.1 1.5M265.1 82.8l-1.5 -0.3M269.1 83.6l-1.4 -0.4M269.1 83.6l0.8 -1.3M271.9 84.2l1.3 -0.8M271.9 84.2l0.5 1.4M274.4 85.6l0.8 -1.3M274.4 85.6l1.1 1.1M278.3 85.1l1.0 -1.2M278.3 85.1l0.9 1.2M284.3 84.1l-1.5 -0.3M284.3 84.1l0.6 -1.4M288.3 82.9l-0.9 -1.2M288.3 82.9l1.4 -0.6M289.7 84.2l0.3 -1.5M289.7 84.2l1.4 0.6M293.2 85.2l0.0 1.5M293.2 85.2l-1.5 -0.3M298.4 85.1l1.5 -0.3M298.4 85.1l-0.0 1.5M301.5 82.8l0.5 -1.4M301.5 82.8l1.3 0.8M307.1 83.4l-1.5 0.1M307.1 83.4l0.3 -1.5M309.5 83.1l-1.2 -0.9M309.5 83.1l1.1 -1.0M313.8 84.1l1.4 -0.5M313.8 84.1l0.1 1.5M201.8 87.5l1.5 0.1M201.8 87.5l-0.5 1.4M207.8 87.0l-0.2 1.5M207.8 87.0l-1.4 -0.6M209.9 88.4l1.1 -1.0M209.9 88.4l0.7 1.3M215.0 88.9l1.4 0.4M215.0 88.9l-0.8 1.3M218.8 89.1l-0.5 -1.4M218.8 89.1l1.5 -0.1M221.1 89.3l-0.4 1.4M221.1 89.3l-1.3 -0.8M224.5 86.9l0.1 1.5M224.5 86.9l-1.5 -0.3M228.6 88.9l1.4 0.5M228.6 88.9l-0.8 1.3M233.6 89.3l-0.3 1.5M233.6 89.3l-1.3 -0.7M238.8 89.4l-1.0 1.1M238.8 89.4l-0.8 -1.2M241.5 87.6l-0.9 -1.2M241.5 87.6l1.4 -0.5M246.3 88.7l0.6 -1.4M246.3 88.7l1.2 0.9M247.8 88.2l-1.2 -0.9M247.8 88.2l1.1 -1.0M251.1 86.6l0.9 1.2M251.1 86.6l-1.4 0.5M256.8 88.7l-1.5 -0.2M256.8 88.7l0.6 -1.4M261.2 88.8l1.3 -0.7M261.2 88.8l0.3 1.5M262.9 88.7l0.1 1.5M262.9 88.7l-1.5 -0.2M269.2 88.6l-0.5 -1.4M269.2 88.6l1.5 -0.1M271.5 87.4l0.3 1.5M271.5 87.4l-1.5 -0.1M274.0 88.4l-0.5 1.4M274.0 88.4l-1.3 -0.8M280.5 86.9l-1.4 -0.4M280.5 86.9l0.7 -1.3M283.9 89.2l0.7 -1.3M283.9 89.2l1.1 1.0M286.3 89.1l-1.5 -0.4M286.3 89.1l0.7 -1.3M289.5 87.4l0.5 1.4M289.5 87.4l-1.5 0.2M294.6 89.2l-1.3 -0.7M294.6 89.2l1.0 -1.1M298.3 86.8l1.4 0.5M298.3 86.8l-0.8 1.3M303.2 88.2l-0.2 -1.5M303.2 88.2l1.5 0.2M306.6 87.2l-1.4 -0.5M306.6 87.2l0.9 -1.2M309.1 86.8l-0.8 1.3M309.1 86.8l-1.1 -1.0M312.4 87.8l-1.0 -1.1M312.4 87.8l1.3 -0.7M316.9 88.5l-0.9 1.2M316.9 88.5l-0.9 -1.2M205.1 93.1l-1.5 0.1M205.1 93.1l0.3 -1.5M209.8 91.4l-1.3 -0.8M209.8 91.4l1.1 -1.1M212.2 93.2l0.5 -1.4M212.2 93.2l1.3 0.8M217.4 90.5l0.5 1.4M217.4 90.5l-1.5 0.2M221.3 91.5l1.5 -0.3M221.3 91.5l-0.0 1.5M224.3 92.6l0.9 -1.2M224.3 92.6l1.0 1.1M227.5 91.1l0.6 1.4M227.5 91.1l-1.5 0.2M232.3 93.0l1.3 -0.8M232.3 93.0l0.5 1.4M234.7 92.8l-0.2 1.5M234.7 92.8l-1.4 -0.5M240.4 90.9l0.9 -1.2M240.4 90.9l1.0 1.1M244.1 92.2l0.3 1.5M244.1 92.2l-1.5 -0.0M248.0 91.9l1.0 -1.1M248.0 91.9l0.9 1.2M250.6 91.8l1.0 -1.1M250.6 91.8l0.8 1.2M254.2 91.7l-1.4 -0.5M254.2 91.7l0.9 -1.2M258.5 90.7l-0.6 -1.4M258.5 90.7l1.5 -0.3M261.8 91.4l0.0 -1.5M261.8 91.4l1.4 0.4M266.0 92.0l-1.0 -1.1M266.0 92.0l1.3 -0.7M270.9 91.1l-0.8 1.3M270.9 91.1l-1.1 -1.1M274.1 91.3l0.2 -1.5M274.1 91.3l1.4 0.5M276.9 90.8l1.2 -0.9M276.9 90.8l0.5 1.4M282.9 93.1l-1.5 -0.3M282.9 93.1l0.7 -1.3M286.4 90.8l1.0 -1.2M286.4 90.8l0.9 1.2M288.1 90.6l-1.0 1.1M288.1 90.6l-0.9 -1.2M292.4 91.6l-1.4 0.5M292.4 91.6l-0.1 -1.5M295.3 91.6l-0.6 -1.4M295.3 91.6l1.5 -0.3M301.1 92.8l-0.6 1.4M301.1 92.8l-1.2 -0.9M303.4 90.3l0.4 -1.5M303.4 90.3l1.3 0.7M309.1 91.5l0.4 -1.4M309.1 91.5l1.3 0.8M311.4 90.8l0.4 1.4M311.4 90.8l-1.5 0.0M315.1 91.1l-1.2 0.9M315.1 91.1l-0.5 -1.4M202.6 95.7l1.1 -1.0M202.6 95.7l0.7 1.3M208.1 95.1l-1.5 -0.1M208.1 95.1l0.5 -1.4M210.7 95.6l1.5 0.3M210.7 95.6l-0.7 1.3M215.8 96.4l0.5 -1.4M215.8 96.4l1.2 0.9M220.0 94.7l0.6 1.4M220.0 94.7l-1.5 0.3M223.3 95.0l-1.5 0.3M223.3 95.0l0.1 -1.5M226.4 95.7l1.2 -0.9M226.4 95.7l0.5 1.4M230.2 95.1l0.1 -1.5M230.2 95.1l1.4 0.5M232.5 94.2l-0.1 -1.5M232.5 94.2l1.5 0.3M238.9 96.8l1.5 0.2M238.9 96.8l-0.5 1.4M241.3 94.4l0.0 1.5M241.3 94.4l-1.5 -0.4M246.2 95.6l1.1 1.0M246.2 95.6l-1.2 0.8M248.9 96.0l1.5 -0.2M248.9 96.0l-0.2 1.5M251.7 94.8l0.3 1.5M251.7 94.8l-1.5 -0.0M257.5 96.3l0.8 1.3M257.5 96.3l-1.4 0.5M261.8 95.4l-0.3 -1.5M261.8 95.4l1.5 0.0M265.6 96.8l0.3 -1.5M265.6 96.8l1.4 0.6M268.0 96.8l-0.3 -1.5M268.0 96.8l1.5 0.1M270.8 94.3l-1.5 -0.3M270.8 94.3l0.7 -1.4M276.5 94.6l1.2 -1.0M276.5 94.6l0.6 1.4M279.4 96.3l-1.2 -0.9M279.4 96.3l1.2 -1.0M283.7 94.8l1.5 0.3M283.7 94.8l-0.7 1.3M287.8 94.3l0.8 -1.3M287.8 94.3l1.1 1.1M291.0 96.8l1.5 0.1M291.0 96.8l-0.4 1.4M294.7 95.0l1.5 -0.1M294.7 95.0l-0.3 1.5M299.9 96.3l-1.3 -0.7M299.9 96.3l1.0 -1.1M303.1 96.8l-1.0 -1.1M303.1 96.8l1.3 -0.7M307.3 95.9l0.1 1.5M307.3 95.9l-1.5 -0.3M310.7 95.6l1.0 -1.1M310.7 95.6l0.9 1.2M312.8 95.0l-1.0 1.1M312.8 95.0l-0.9 -1.2M202.0 99.8l-1.3 -0.7M202.0 99.8l1.0 -1.1M206.9 100.7l1.4 0.5M206.9 100.7l-0.9 1.2M209.6 100.3l-0.7 -1.3M209.6 100.3l1.5 -0.3M213.9 98.9l0.8 -1.3M213.9 98.9l1.0 1.1M218.0 100.8l-1.1 -1.0M218.0 100.8l1.2 -0.8M222.8 99.3l0.5 -1.4M222.8 99.3l1.2 0.9M225.2 98.1l-1.4 -0.6M225.2 98.1l1.0 -1.2M229.6 100.9l-1.4 -0.5M229.6 100.9l0.8 -1.2M233.6 100.0l0.7 -1.3M233.6 100.0l1.1 1.0M238.7 98.1l0.6 1.4M238.7 98.1l-1.5 0.2M240.9 99.2l-1.2 0.9M240.9 99.2l-0.6 -1.4M244.4 99.1l0.5 -1.4M244.4 99.1l1.2 0.8M249.5 98.3l-0.1 -1.5M249.5 98.3l1.5 0.3M253.4 98.8l1.3 -0.8M253.4 98.8l0.5 1.4M257.1 98.5l-0.2 -1.5M257.1 98.5l1.5 0.2M261.3 99.2l-0.7 -1.3M261.3 99.2l1.5 -0.4M265.2 100.8l-1.0 -1.1M265.2 100.8l1.3 -0.7M268.2 98.0l0.2 1.5M268.2 98.0l-1.5 -0.1M271.4 100.9l0.2 -1.5M271.4 100.9l1.4 0.6M276.1 100.2l0.6 -1.4M276.1 100.2l1.2 0.9M279.3 100.8l0.2 1.5M279.3 100.8l-1.5 -0.2M284.4 99.8l-1.1 1.1M284.4 99.8l-0.8 -1.3M287.3 98.2l-1.4 0.6M287.3 98.2l-0.3 -1.5M289.3 98.5l-0.1 -1.5M289.3 98.5l1.5 0.2M295.3 100.5l1.3 0.7M295.3 100.5l-1.0 1.1M299.2 100.6l1.1 1.1M299.2 100.6l-1.3 0.8M300.8 98.0l1.3 -0.7M300.8 98.0l0.3 1.5M305.3 98.0l0.2 -1.5M305.3 98.0l1.4 0.5M310.1 100.7l-1.3 0.8M310.1 100.7l-0.5 -1.4M314.8 98.3l0.7 1.3M314.8 98.3l-1.4 0.4M205.4 103.7l1.5 0.0M205.4 103.7l-0.4 1.4M208.5 102.4l0.9 1.2M208.5 102.4l-1.4 0.5M213.7 104.4l1.1 -1.0M213.7 104.4l0.7 1.4M217.0 103.4l1.3 0.8M217.0 103.4l-1.1 1.1M218.7 102.6l0.9 -1.2M218.7 102.6l1.0 1.2M223.1 102.5l0.6 1.4M223.1 102.5l-1.5 0.3M226.9 103.7l0.5 -1.4M226.9 103.7l1.3 0.8M232.1 102.3l0.2 1.5M232.1 102.3l-1.5 -0.2M236.5 101.7l-0.4 -1.4M236.5 101.7l1.5 -0.1M240.5 103.5l0.2 -1.5M240.5 103.5l1.4 0.6M243.4 102.6l-1.5 -0.2M243.4 102.6l0.5 -1.4M247.3 104.4l0.1 1.5M247.3 104.4l-1.5 -0.3M249.6 102.1l-1.5 0.0M249.6 102.1l0.3 -1.5M255.2 102.5l0.0 1.5M255.2 102.5l-1.5 -0.3M256.9 103.2l1.5 -0.3M256.9 103.2l-0.1 1.5M261.0 102.4l-1.5 0.4M261.0 102.4l-0.0 -1.5M265.1 102.0l-1.3 -0.7M265.1 102.0l1.0 -1.1M270.5 103.4l-0.6 1.4M270.5 103.4l-1.2 -1.0M273.8 102.6l-1.4 0.6M273.8 102.6l-0.2 -1.5M277.9 104.6l1.2 -0.9M277.9 104.6l0.6 1.4M282.4 101.9l1.1 -1.0M282.4 101.9l0.7 1.3M284.2 102.0l0.7 -1.3M284.2 102.0l1.1 1.0M288.4 103.7l1.4 -0.5M288.4 103.7l0.1 1.5M292.6 102.8l1.5 -0.1M292.6 102.8l-0.3 1.5M297.5 103.6l1.5 0.1M297.5 103.6l-0.5 1.4M301.4 103.0l-0.4 1.5M301.4 103.0l-1.3 -0.7M304.2 102.0l1.3 0.8M304.2 102.0l-1.1 1.0M307.6 103.7l0.8 -1.3M307.6 103.7l1.0 1.1M310.5 103.6l0.9 1.2M310.5 103.6l-1.4 0.6M314.0 103.1l0.4 -1.4M314.0 103.1l1.3 0.7M204.6 106.0l0.5 1.4M204.6 106.0l-1.5 0.2M207.6 106.7l0.5 1.4M207.6 106.7l-1.5 0.1M212.8 106.8l-0.7 1.3M212.8 106.8l-1.1 -1.0M215.2 106.5l1.2 -0.9M215.2 106.5l0.6 1.4M219.3 105.9l0.0 1.5M219.3 105.9l-1.5 -0.4M224.0 106.9l0.6 1.4M224.0 106.9l-1.5 0.2M227.0 105.5l0.3 -1.5M227.0 105.5l1.3 0.7M232.5 105.7l-0.1 1.5M232.5 105.7l-1.4 -0.4M234.0 106.4l-1.3 -0.7M234.0 106.4l1.0 -1.1M239.8 108.3l-1.5 0.2M239.8 108.3l0.2 -1.5M243.5 106.2l-0.4 -1.4M243.5 106.2l1.5 -0.0M247.5 105.6l-1.5 0.1M247.5 105.6l0.3 -1.5M249.1 105.9l0.2 1.5M249.1 105.9l-1.5 -0.2M254.3 107.3l1.0 1.1M254.3 107.3l-1.3 0.7M258.3 108.4l0.8 -1.3M258.3 108.4l1.0 1.1M262.5 107.8l0.2 1.5M262.5 107.8l-1.5 -0.1M264.5 108.3l-0.0 1.5M264.5 108.3l-1.4 -0.4M270.6 108.0l-1.3 -0.7M270.6 108.0l1.0 -1.1M271.8 107.7l1.4 -0.5M271.8 107.7l0.1 1.5M277.0 107.1l-1.0 1.1M277.0 107.1l-0.9 -1.2M280.0 107.9l-0.7 1.3M280.0 107.9l-1.1 -1.0M285.4 107.8l-0.8 1.3M285.4 107.8l-1.0 -1.1M287.7 107.7l-1.4 0.4M287.7 107.7l-0.0 -1.5M290.9 107.6l1.3 -0.8M290.9 107.6l0.4 1.4M294.5 105.6l-1.3 -0.7M294.5 105.6l1.0 -1.1M298.5 107.5l-1.4 -0.5M298.5 107.5l0.8 -1.3M305.0 106.9l-0.6 1.4M305.0 106.9l-1.2 -0.9M307.7 107.3l-0.8 1.3M307.7 107.3l-1.0 -1.1M312.1 108.4l-1.4 0.4M312.1 108.4l-0.1 -1.5M315.9 106.5l0.5 -1.4M315.9 106.5l1.2 0.8M203.9 110.2l1.2 -0.9M203.9 110.2l0.5 1.4M207.2 111.9l0.6 -1.4M207.2 111.9l1.2 0.9M209.3 109.9l0.3 1.5M209.3 109.9l-1.5 -0.1M213.8 111.9l1.4 -0.6M213.8 111.9l0.2 1.5M218.9 112.3l-0.5 1.4M218.9 112.3l-1.3 -0.8M221.0 111.2l-0.7 1.3M221.0 111.2l-1.1 -1.0M226.6 110.5l-1.5 0.3M226.6 110.5l0.1 -1.5M229.5 110.0l1.2 0.9M229.5 110.0l-1.2 0.9M234.1 110.7l-1.5 -0.2M234.1 110.7l0.5 -1.4M236.8 111.3l1.4 -0.5M236.8 111.3l0.1 1.5M240.1 111.8l1.1 1.0M240.1 111.8l-1.3 0.8M244.4 110.6l1.5 -0.3M244.4 110.6l-0.1 1.5M249.0 111.3l-1.3 0.8M249.0 111.3l-0.5 -1.4M252.7 112.0l-0.0 1.5M252.7 112.0l-1.5 -0.4M256.8 110.6l-1.4 -0.4M256.8 110.6l0.7 -1.3M260.1 111.9l1.2 0.9M260.1 111.9l-1.1 1.0M262.1 111.3l-0.8 1.3M262.1 111.3l-1.1 -1.1M267.4 110.5l0.1 -1.5M267.4 110.5l1.4 0.5M269.9 110.2l-0.5 1.4M269.9 110.2l-1.3 -0.8M275.6 112.0l-0.1 -1.5M275.6 112.0l1.5 0.3M280.1 111.6l-0.3 1.5M280.1 111.6l-1.3 -0.7M283.6 111.8l0.0 -1.5M283.6 111.8l1.4 0.4M285.3 111.4l-0.3 -1.5M285.3 111.4l1.5 0.1M291.2 111.6l-1.3 -0.7M291.2 111.6l1.0 -1.1M293.2 111.4l-1.5 0.4M293.2 111.4l0.0 -1.5M297.3 110.6l0.2 1.5M297.3 110.6l-1.5 -0.1M302.2 111.4l1.2 0.9M302.2 111.4l-1.2 0.9M304.2 111.3l-1.5 -0.1M304.2 111.3l0.5 -1.4M307.8 110.0l-0.8 1.2M307.8 110.0l-1.0 -1.1M313.8 112.1l0.8 -1.2M313.8 112.1l1.0 1.1M315.9 111.6l1.1 1.0M315.9 111.6l-1.2 0.9M203.1 114.2l1.3 0.8M203.1 114.2l-1.1 1.0M205.6 114.4l-0.8 1.3M205.6 114.4l-1.1 -1.1M210.8 115.7l-1.4 -0.4M210.8 115.7l0.8 -1.3M213.3 114.0l-0.1 -1.5M213.3 114.0l1.5 0.3M216.8 113.8l-1.0 -1.1M216.8 113.8l1.3 -0.7M221.4 115.6l-0.1 1.5M221.4 115.6l-1.4 -0.4M227.2 113.8l1.3 0.7M227.2 113.8l-1.0 1.1M229.6 114.7l-0.8 -1.3M229.6 114.7l1.4 -0.4M233.5 116.0l1.1 1.0M233.5 116.0l-1.2 0.8M238.6 113.2l0.3 -1.5M238.6 113.2l1.3 0.7M240.8 114.7l-1.1 -1.1M240.8 114.7l1.3 -0.8M245.3 114.7l1.2 -0.9M245.3 114.7l0.5 1.4M249.7 113.4l-1.4 0.6M249.7 113.4l-0.2 -1.5M252.4 115.6l-1.5 0.4M252.4 115.6l-0.0 -1.5M255.3 113.7l-1.0 -1.2M255.3 113.7l1.4 -0.6M260.4 113.6l1.2 0.9M260.4 113.6l-1.2 0.9M264.0 113.5l0.9 -1.2M264.0 113.5l1.0 1.2M266.8 114.1l-1.2 -0.8M266.8 114.1l1.1 -1.0M272.3 115.0l-0.6 -1.4M272.3 115.0l1.5 -0.2M275.6 115.0l1.4 0.6M275.6 115.0l-0.9 1.2M278.8 116.1l-0.3 1.5M278.8 116.1l-1.4 -0.6M283.2 115.0l0.9 1.2M283.2 115.0l-1.4 0.6M285.4 113.9l-0.7 1.3M285.4 113.9l-1.1 -1.0M290.8 116.0l-1.1 1.0M290.8 116.0l-0.7 -1.3M294.9 113.3l1.4 -0.6M294.9 113.3l0.3 1.5M299.0 113.8l-1.5 0.3M299.0 113.8l0.1 -1.5M302.2 113.7l-1.4 -0.6M302.2 113.7l0.9 -1.2M304.4 115.5l-1.3 0.7M304.4 115.5l-0.4 -1.5M309.5 114.9l-1.3 0.8M309.5 114.9l-0.5 -1.4M313.9 114.9l1.4 0.6M313.9 114.9l-0.9 1.2M316.8 114.1l-0.7 -1.3M316.8 114.1l1.5 -0.3M203.7 117.7l-1.5 0.1M203.7 117.7l0.2 -1.5M209.1 118.0l0.4 1.4M209.1 118.0l-1.5 0.1M212.7 119.0l0.0 -1.5M212.7 119.0l1.4 0.4M215.7 119.3l1.5 0.2M215.7 119.3l-0.5 1.4M219.1 116.9l1.1 -1.0M219.1 116.9l0.7 1.3M224.5 119.2l-1.5 -0.4M224.5 119.2l0.7 -1.3M227.9 119.7l0.8 -1.3M227.9 119.7l1.1 1.1M230.7 118.2l-1.5 -0.0M230.7 118.2l0.4 -1.5M235.2 119.5l1.0 1.1M235.2 119.5l-1.3 0.7M238.0 119.2l-1.5 0.2M238.0 119.2l0.2 -1.5M243.8 117.7l0.3 1.5M243.8 117.7l-1.5 -0.1M244.8 117.4l-1.4 -0.5M244.8 117.4l0.8 -1.3M250.5 117.6l1.5 0.1M250.5 117.6l-0.5 1.4M255.2 117.2l-0.6 -1.4M255.2 117.2l1.5 -0.2M258.8 118.0l0.4 -1.4M258.8 118.0l1.3 0.8M262.7 117.9l-1.4 -0.6M262.7 117.9l0.9 -1.2M264.0 119.0l-0.9 1.2M264.0 119.0l-1.0 -1.2M268.4 119.8l-0.7 -1.3M268.4 119.8l1.5 -0.3M273.8 117.7l-1.2 0.9M273.8 117.7l-0.6 -1.4M276.6 118.6l1.5 -0.3M276.6 118.6l-0.1 1.5M281.2 117.7l1.2 -0.8M281.2 117.7l0.5 1.4M284.4 118.5l-1.4 0.6M284.4 118.5l-0.2 -1.5M288.3 118.6l0.5 -1.4M288.3 118.6l1.2 0.8M291.6 118.1l0.0 1.5M291.6 118.1l-1.5 -0.3M295.3 119.9l1.4 -0.6M295.3 119.9l0.3 1.5M299.5 117.3l-0.7 -1.3M299.5 117.3l1.4 -0.4M302.9 119.2l1.5 0.0M302.9 119.2l-0.4 1.5M307.6 117.2l-0.9 -1.2M307.6 117.2l1.4 -0.6M310.6 118.3l-1.1 1.0M310.6 118.3l-0.7 -1.3M315.7 117.7l-0.9 -1.2M315.7 117.7l1.4 -0.6M206.8 120.8l1.1 1.0M206.8 120.8l-1.2 0.8M209.7 122.3l-0.8 1.2M209.7 122.3l-1.0 -1.1M213.9 123.4l1.4 -0.6M213.9 123.4l0.2 1.5M216.4 123.2l-1.4 -0.6M216.4 123.2l1.0 -1.2M219.6 123.2l-1.5 -0.1M219.6 123.2l0.4 -1.4M224.2 120.8l-0.7 -1.3M224.2 120.8l1.5 -0.3M229.6 123.6l1.1 1.0M229.6 123.6l-1.2 0.8M233.0 123.1l1.0 1.1M233.0 123.1l-1.3 0.7M236.0 121.5l-1.2 0.9M236.0 121.5l-0.5 -1.4M240.6 123.2l-0.9 1.2M240.6 123.2l-0.9 -1.2M243.2 121.9l-1.5 0.3M243.2 121.9l0.1 -1.5M247.0 121.5l-1.4 -0.5M247.0 121.5l0.8 -1.3M252.6 120.8l1.3 0.7M252.6 120.8l-1.0 1.1M253.8 121.3l-0.4 1.5M253.8 121.3l-1.3 -0.7M259.9 122.4l0.6 -1.4M259.9 122.4l1.2 0.9M263.7 122.8l-0.0 -1.5M263.7 122.8l1.5 0.4M267.8 122.5l-1.0 -1.1M267.8 122.5l1.3 -0.7M269.0 121.0l1.4 0.5M269.0 121.0l-0.8 1.3M274.0 121.1l-0.8 -1.3M274.0 121.1l1.4 -0.5M277.5 121.6l1.3 0.8M277.5 121.6l-1.1 1.0M283.3 123.6l0.4 1.4M283.3 123.6l-1.5 0.0M286.2 122.0l-0.0 1.5M286.2 122.0l-1.4 -0.4M289.2 120.9l1.5 -0.1M289.2 120.9l-0.3 1.5M293.1 121.2l-0.9 1.2M293.1 121.2l-1.0 -1.2M297.2 123.2l-0.6 1.4M297.2 123.2l-1.2 -0.9M300.6 122.9l1.2 0.9M300.6 122.9l-1.1 1.0M305.6 123.5l-1.3 0.7M305.6 123.5l-0.4 -1.4M308.3 121.4l0.4 -1.5M308.3 121.4l1.3 0.7M313.5 122.2l-0.8 1.3M313.5 122.2l-1.0 -1.1M315.4 122.8l-1.3 0.7M315.4 122.8l-0.4 -1.5M207.1 125.7l1.1 1.0M207.1 125.7l-1.2 0.8M208.8 125.3l0.8 1.3M208.8 125.3l-1.4 0.5M212.7 125.2l1.2 1.0M212.7 125.2l-1.2 0.9M218.3 126.4l0.7 -1.3M218.3 126.4l1.1 1.0M219.5 124.8l0.9 -1.2M219.5 124.8l1.0 1.1M223.7 127.4l-1.5 0.3M223.7 127.4l0.1 -1.5M228.0 127.0l-1.3 -0.7M228.0 127.0l1.0 -1.1M231.5 125.1l-1.2 0.9M231.5 125.1l-0.6 -1.4M237.4 124.8l-0.6 -1.4M237.4 124.8l1.5 -0.2M239.9 126.1l0.2 1.5M239.9 126.1l-1.5 -0.1M243.2 126.8l-0.9 1.2M243.2 126.8l-1.0 -1.1M248.5 125.2l-0.2 -1.5M248.5 125.2l1.5 0.1M250.7 126.0l-0.8 1.2M250.7 126.0l-1.0 -1.1M255.0 126.4l1.5 -0.1M255.0 126.4l-0.3 1.5M259.7 125.6l-1.5 0.3M259.7 125.6l0.1 -1.5M264.0 125.9l1.5 0.0M264.0 125.9l-0.4 1.5M265.1 125.8l-1.5 0.1M265.1 125.8l0.2 -1.5M270.4 125.1l1.0 -1.1M270.4 125.1l0.8 1.3M275.2 126.3l0.7 1.3M275.2 126.3l-1.5 0.3M277.9 125.4l-1.4 0.5M277.9 125.4l-0.2 -1.5M280.6 125.4l-1.4 -0.5M280.6 125.4l0.9 -1.2M285.9 126.6l1.1 -1.0M285.9 126.6l0.7 1.3M289.8 124.6l1.5 0.1M289.8 124.6l-0.5 1.4M293.9 126.6l-0.3 -1.5M293.9 126.6l1.5 0.1M297.4 126.1l1.3 0.7M297.4 126.1l-1.0 1.1M301.7 127.4l-0.4 -1.4M301.7 127.4l1.5 -0.0M304.7 125.8l1.4 -0.6M304.7 125.8l0.2 1.5M308.4 126.9l-1.0 -1.1M308.4 126.9l1.3 -0.7M312.6 126.9l1.5 0.2M312.6 126.9l-0.6 1.4M315.3 126.3l-0.2 1.5M315.3 126.3l-1.4 -0.6M203.5 128.4l-1.5 0.3M203.5 128.4l0.1 -1.5M207.2 130.5l1.2 -0.9M207.2 130.5l0.6 1.4M212.1 129.8l-1.4 0.6M212.1 129.8l-0.3 -1.5M215.8 128.9l0.0 1.5M215.8 128.9l-1.5 -0.3M217.0 130.0l-0.0 -1.5M217.0 130.0l1.5 0.3M221.8 129.5l-0.2 -1.5M221.8 129.5l1.5 0.2M226.4 130.6l1.5 -0.2M226.4 130.6l-0.2 1.5M231.0 129.3l-1.1 -1.0M231.0 129.3l1.3 -0.8M233.9 130.2l0.2 -1.5M233.9 130.2l1.4 0.5M238.1 130.1l1.1 -1.0M238.1 130.1l0.7 1.3M241.2 130.8l0.5 1.4M241.2 130.8l-1.5 0.2M243.7 130.7l1.5 0.3M243.7 130.7l-0.7 1.3M247.9 128.9l0.6 -1.4M247.9 128.9l1.2 1.0M253.2 129.7l-1.1 -1.1M253.2 129.7l1.3 -0.8M256.0 128.6l1.0 -1.1M256.0 128.6l0.8 1.3M259.0 129.1l0.8 -1.2M259.0 129.1l1.0 1.1M262.9 130.4l1.1 1.0M262.9 130.4l-1.3 0.8M267.0 129.5l-0.2 1.5M267.0 129.5l-1.4 -0.6M271.5 130.4l0.9 -1.2M271.5 130.4l1.0 1.2M276.4 130.2l-1.4 -0.5M276.4 130.2l0.8 -1.2M278.4 128.7l0.3 -1.5M278.4 128.7l1.3 0.7M283.3 129.4l1.2 -0.8M283.3 129.4l0.5 1.4M287.6 129.0l1.5 0.1M287.6 129.0l-0.5 1.4M291.3 129.4l-0.0 1.5M291.3 129.4l-1.5 -0.4M293.8 128.9l1.3 0.7M293.8 128.9l-1.0 1.1M299.1 129.8l0.2 1.5M299.1 129.8l-1.5 -0.2M302.2 130.8l-1.1 1.0M302.2 130.8l-0.7 -1.3M304.5 130.0l1.3 -0.8M304.5 130.0l0.4 1.4M309.2 129.1l0.3 1.5M309.2 129.1l-1.5 -0.1M314.5 129.1l-1.5 0.1M314.5 129.1l0.3 -1.5M203.8 132.5l-1.3 0.7M203.8 132.5l-0.3 -1.5M207.2 132.1l1.4 -0.4M207.2 132.1l0.1 1.5M211.6 134.0l-0.7 -1.3M211.6 134.0l1.5 -0.3M216.9 135.0l-1.3 0.8M216.9 135.0l-0.4 -1.4M218.7 135.0l1.3 0.8M218.7 135.0l-1.1 1.0M221.8 132.6l-0.2 1.5M221.8 132.6l-1.4 -0.5M226.8 134.2l1.1 1.1M226.8 134.2l-1.3 0.8M230.8 132.2l1.5 -0.1M230.8 132.2l-0.3 1.5M234.1 133.6l-0.4 1.4M234.1 133.6l-1.3 -0.8M237.8 134.4l0.7 1.3M237.8 134.4l-1.5 0.3M242.7 132.4l1.5 0.3M242.7 132.4l-0.6 1.4M245.7 134.2l0.8 1.2M245.7 134.2l-1.4 0.5M250.4 134.1l-1.2 -0.9M250.4 134.1l1.1 -1.0M254.8 134.4l-1.5 0.0M254.8 134.4l0.4 -1.5M256.8 134.6l-1.3 -0.7M256.8 134.6l1.0 -1.1M261.3 133.9l-0.3 -1.5M261.3 133.9l1.5 0.1M265.0 134.4l0.5 1.4M265.0 134.4l-1.5 0.2M269.2 133.5l-1.2 -0.9M269.2 133.5l1.1 -1.0M273.2 133.4l-1.3 -0.8M273.2 133.4l1.1 -1.0M276.9 134.9l1.5 -0.2M276.9 134.9l-0.2 1.5M280.0 132.6l-1.3 0.8M280.0 132.6l-0.4 -1.4M285.0 132.8l0.3 1.5M285.0 132.8l-1.5 -0.1M286.7 132.3l0.2 1.5M286.7 132.3l-1.5 -0.1M291.1 133.3l-0.4 -1.5M291.1 133.3l1.5 -0.0M296.1 132.6l0.5 -1.4M296.1 132.6l1.2 0.8M298.6 134.4l-0.4 1.4M298.6 134.4l-1.3 -0.8M301.3 133.4l0.7 -1.3M301.3 133.4l1.1 1.0M305.5 134.4l1.4 -0.6M305.5 134.4l0.3 1.5M309.8 132.6l-1.1 1.0M309.8 132.6l-0.7 -1.3M313.0 132.8l1.2 0.8M313.0 132.8l-1.1 1.0M203.9 136.1l1.3 -0.7M203.9 136.1l0.3 1.5M208.1 136.1l-0.0 1.5M208.1 136.1l-1.4 -0.4M213.4 138.2l1.5 -0.1M213.4 138.2l-0.3 1.5M216.6 136.9l-1.2 0.9M216.6 136.9l-0.6 -1.4M218.9 138.1l-1.5 0.0M218.9 138.1l0.4 -1.5M223.3 137.6l-1.4 0.5M223.3 137.6l-0.1 -1.5M229.3 136.7l1.3 0.7M229.3 136.7l-1.0 1.1M232.2 137.2l-0.9 1.2M232.2 137.2l-0.9 -1.2M235.6 137.1l1.3 0.8M235.6 137.1l-1.1 1.0M239.9 137.5l-1.5 0.1M239.9 137.5l0.2 -1.5M241.7 138.4l1.1 1.0M241.7 138.4l-1.2 0.9M246.1 137.0l-1.2 -0.9M246.1 137.0l1.2 -0.9M250.6 137.7l-1.5 -0.4M250.6 137.7l0.7 -1.3M255.2 136.3l1.3 -0.7M255.2 136.3l0.4 1.5M257.9 137.8l0.6 -1.4M257.9 137.8l1.2 0.9M262.0 136.7l-1.1 -1.0M262.0 136.7l1.2 -0.8M266.8 138.8l0.4 -1.4M266.8 138.8l1.3 0.8M270.1 137.5l-1.2 0.9M270.1 137.5l-0.6 -1.4M272.4 137.4l0.6 -1.4M272.4 137.4l1.2 0.9M278.1 136.9l-1.1 -1.0M278.1 136.9l1.3 -0.8M280.9 137.3l0.7 -1.3M280.9 137.3l1.1 1.0M284.3 137.8l1.1 -1.1M284.3 137.8l0.8 1.3M288.1 138.7l-0.7 -1.3M288.1 138.7l1.5 -0.4M293.5 136.9l1.2 -0.9M293.5 136.9l0.5 1.4M295.0 136.0l1.5 0.1M295.0 136.0l-0.5 1.4M301.0 137.2l1.4 -0.6M301.0 137.2l0.3 1.5M302.7 136.1l-1.5 0.1M302.7 136.1l0.2 -1.5M308.5 136.6l-1.5 -0.0M308.5 136.6l0.4 -1.4M312.7 137.0l0.2 1.5M312.7 137.0l-1.5 -0.2M315.7 137.0l-0.6 1.4M315.7 137.0l-1.2 -0.9" stroke="#c9c9c9" stroke-width="0.9" fill="none" stroke-linecap="round"/>
<path d="M204.7 26.0h0M210.8 27.9h0M214.1 26.7h0M217.7 27.6h0M221.4 26.2h0M224.8 26.9h0M229.5 28.7h0M233.9 27.4h0M236.2 26.5h0M238.8 25.8h0M243.9 26.7h0M247.4 28.4h0M251.7 27.4h0M254.6 25.8h0M258.7 26.1h0M263.0 28.7h0M267.3 26.3h0M271.8 28.1h0M275.1 28.5h0M279.0 28.1h0M281.6 28.7h0M287.2 26.2h0M290.4 27.9h0M293.3 27.3h0M297.2 28.5h0M301.0 28.2h0M304.4 28.4h0M309.8 27.1h0M312.6 28.5h0M316.9 27.2h0M202.7 31.6h0M206.0 32.3h0M210.1 32.3h0M214.1 32.4h0M219.1 31.0h0M222.3 31.5h0M226.3 30.5h0M229.0 31.1h0M234.9 31.4h0M236.2 32.0h0M241.9 32.3h0M244.1 31.8h0M247.5 31.5h0M252.0 30.2h0M257.6 29.9h0M260.3 32.1h0M263.3 30.2h0M269.0 30.8h0M272.3 29.6h0M275.0 30.0h0M279.8 29.8h0M284.4 29.6h0M287.5 29.6h0M289.9 32.0h0M293.4 30.1h0M298.8 30.7h0M300.7 32.5h0M304.8 29.6h0M309.2 31.4h0M314.2 29.9h0M202.3 34.7h0M208.3 35.6h0M212.5 35.6h0M216.2 35.4h0M218.8 34.0h0M223.2 34.3h0M225.3 34.7h0M231.4 33.7h0M234.3 34.5h0M237.9 33.8h0M243.1 34.1h0M245.8 34.6h0M247.8 35.0h0M252.0 33.5h0M255.5 33.8h0M259.5 35.2h0M264.5 36.3h0M269.6 36.3h0M271.3 34.7h0M275.1 35.1h0M280.1 35.7h0M284.1 34.1h0M287.1 34.9h0M289.6 33.4h0M294.6 33.7h0M299.4 34.1h0M301.3 33.9h0M305.5 34.0h0M310.1 34.7h0M313.3 35.3h0M204.4 40.0h0M207.7 38.4h0M210.8 38.9h0M213.3 38.4h0M218.5 37.7h0M221.0 39.5h0M225.6 38.7h0M231.1 39.0h0M233.0 40.1h0M237.0 37.2h0M241.8 37.4h0M244.4 39.7h0M249.3 37.2h0M252.5 38.4h0M256.4 37.8h0M260.5 37.4h0M263.4 38.3h0M269.1 37.4h0M272.4 37.7h0M275.6 38.3h0M279.1 39.4h0M282.7 37.5h0M285.7 37.4h0M291.7 39.1h0M295.8 39.2h0M296.8 39.1h0M302.8 39.3h0M305.8 38.2h0M309.5 39.5h0M312.7 38.7h0M205.6 43.3h0M209.3 43.4h0M211.2 41.6h0M215.6 41.7h0M219.2 43.0h0M224.5 42.7h0M228.0 41.2h0M230.4 43.9h0M233.6 42.2h0M237.1 41.2h0M243.4 43.9h0M246.5 41.3h0M249.2 41.6h0M254.1 43.0h0M257.2 42.5h0M260.1 42.6h0M266.4 43.2h0M267.6 42.5h0M273.3 41.7h0M277.6 42.3h0M280.8 42.1h0M285.5 43.3h0M288.0 41.4h0M291.4 41.0h0M295.7 43.6h0M298.3 42.5h0M303.0 42.1h0M307.4 43.7h0M311.2 42.4h0M315.8 41.9h0M205.7 47.0h0M210.1 45.4h0M213.2 45.9h0M217.1 47.7h0M220.8 44.8h0M224.1 46.9h0M229.2 46.7h0M232.8 44.8h0M237.0 46.9h0M239.8 47.4h0M244.4 45.0h0M248.0 47.0h0M249.9 47.0h0M254.9 45.3h0M259.3 45.1h0M262.6 46.0h0M265.3 46.4h0M269.7 45.3h0M275.0 45.0h0M275.9 46.2h0M282.2 46.7h0M285.8 46.2h0M289.4 45.7h0M291.9 46.2h0M295.0 45.0h0M301.0 45.3h0M304.8 47.1h0M307.5 46.8h0M312.5 47.3h0M314.3 45.2h0M203.7 49.4h0M206.2 50.2h0M212.9 49.6h0M215.4 49.7h0M218.9 51.1h0M222.3 50.5h0M226.6 50.1h0M231.7 48.8h0M235.2 49.4h0M238.5 50.9h0M242.3 49.7h0M246.7 48.8h0M249.9 49.7h0M253.3 51.1h0M257.9 50.4h0M260.3 49.2h0M264.5 49.2h0M267.8 51.4h0M271.1 51.0h0M275.7 49.6h0M279.3 48.8h0M283.5 49.0h0M287.3 49.4h0M292.4 51.3h0M294.9 50.5h0M300.1 49.5h0M301.4 49.2h0M305.5 50.6h0M309.9 49.6h0M314.9 49.2h0M205.9 53.5h0M210.2 53.4h0M214.2 55.1h0M216.9 54.4h0M222.0 54.6h0M225.2 54.9h0M229.6 54.6h0M233.5 53.2h0M236.2 54.3h0M239.3 53.5h0M242.5 55.2h0M246.8 53.8h0M252.3 52.9h0M256.3 52.7h0M257.3 53.4h0M262.0 55.1h0M267.4 54.6h0M269.9 54.0h0M273.1 54.8h0M277.3 53.2h0M281.9 52.8h0M284.7 55.1h0M287.9 52.8h0M292.0 53.1h0M296.4 53.1h0M300.0 53.1h0M303.5 54.2h0M307.6 53.5h0M312.7 52.5h0M314.6 54.9h0M204.9 56.5h0M207.9 58.7h0M211.1 58.4h0M215.8 57.3h0M220.7 57.3h0M223.0 58.0h0M226.3 58.6h0M230.9 57.9h0M234.5 59.1h0M239.7 58.7h0M241.9 57.4h0M245.9 56.3h0M248.5 59.1h0M252.3 58.9h0M257.8 58.9h0M259.8 57.1h0M265.7 56.2h0M267.5 57.2h0M271.5 56.6h0M276.7 56.4h0M281.4 58.1h0M282.5 58.8h0M286.9 57.6h0M291.6 56.5h0M295.2 56.3h0M298.1 58.9h0M303.8 57.7h0M307.2 58.8h0M309.4 57.6h0M313.1 56.5h0M201.9 60.1h0M205.8 61.1h0M210.8 62.5h0M215.4 62.1h0M218.0 62.7h0M220.8 60.2h0M226.6 61.8h0M228.5 61.1h0M232.6 61.2h0M236.8 61.1h0M241.7 62.4h0M244.8 61.4h0M247.8 62.2h0M253.7 60.6h0M256.6 62.0h0M260.3 60.0h0M263.8 60.5h0M266.5 61.7h0M271.6 61.8h0M275.7 62.0h0M278.7 60.1h0M283.4 62.4h0M287.4 61.7h0M288.8 60.5h0M292.8 61.8h0M297.9 60.5h0M303.0 62.9h0M306.6 61.3h0M308.6 60.6h0M314.0 62.0h0M316.1 62.6h0M204.3 65.0h0M209.0 65.1h0M212.6 64.1h0M216.6 64.5h0M221.0 64.4h0M223.1 65.3h0M227.0 65.3h0M232.4 64.3h0M235.8 65.8h0M239.6 65.1h0M242.4 64.8h0M246.3 64.5h0M249.2 65.2h0M253.0 65.1h0M258.0 64.7h0M260.6 65.5h0M266.4 64.4h0M269.5 65.7h0M274.1 65.8h0M276.2 64.4h0M281.6 64.6h0M282.9 66.3h0M287.3 64.7h0M291.4 64.5h0M296.4 64.8h0M299.4 65.0h0M304.4 63.8h0M307.4 64.1h0M309.9 65.6h0M314.4 63.9h0M205.9 69.5h0M208.4 69.9h0M213.5 68.0h0M215.4 70.4h0M221.1 68.1h0M224.2 70.2h0M227.7 69.6h0M231.3 68.2h0M234.2 67.7h0M239.3 67.9h0M243.0 68.7h0M246.2 70.4h0M249.9 69.0h0M253.7 68.2h0M257.0 69.1h0M262.6 67.8h0M266.8 69.6h0M267.9 69.7h0M272.7 69.1h0M275.6 69.1h0M280.7 69.9h0M284.7 69.6h0M288.9 68.2h0M290.6 69.0h0M294.7 68.0h0M299.1 69.1h0M303.8 69.5h0M308.6 67.8h0M311.2 67.8h0M315.3 68.8h0M202.4 73.3h0M206.7 74.2h0M210.1 72.4h0M215.6 73.2h0M217.0 73.7h0M221.5 74.2h0M226.1 73.7h0M230.7 72.9h0M234.7 71.4h0M236.7 73.8h0M239.5 73.4h0M246.2 73.5h0M249.6 71.6h0M252.5 73.2h0M255.9 72.6h0M260.8 71.8h0M262.4 73.1h0M268.9 73.8h0M271.9 72.2h0M276.3 71.5h0M278.2 73.7h0M283.9 72.5h0M287.8 71.7h0M290.6 71.5h0M293.3 71.9h0M296.5 72.5h0M301.7 72.2h0M306.0 71.5h0M309.4 72.9h0M312.8 74.1h0M315.8 72.6h0M203.8 78.1h0M208.2 76.7h0M211.6 76.4h0M216.9 77.5h0M219.8 75.6h0M223.4 75.5h0M226.5 75.2h0M231.4 78.1h0M235.0 76.8h0M237.6 76.5h0M242.0 76.4h0M245.3 75.8h0M250.5 78.0h0M254.5 77.0h0M255.9 76.0h0M262.2 78.1h0M265.1 76.8h0M269.3 75.9h0M273.2 76.2h0M277.4 76.5h0M280.6 76.8h0M284.1 76.5h0M289.1 77.4h0M291.3 76.6h0M296.5 77.4h0M299.6 78.0h0M301.8 76.9h0M307.1 76.5h0M311.9 78.0h0M314.0 77.0h0M205.9 80.0h0M210.0 80.0h0M211.9 80.9h0M217.2 80.2h0M220.5 81.9h0M225.2 80.2h0M229.3 80.6h0M231.6 80.9h0M236.6 81.6h0M240.0 80.9h0M243.0 79.1h0M247.0 79.3h0M252.2 80.0h0M255.0 81.1h0M257.5 81.4h0M261.8 79.2h0M266.4 80.1h0M271.2 80.3h0M272.5 79.0h0M276.1 80.4h0M282.0 79.1h0M284.6 80.4h0M290.1 81.8h0M293.8 80.8h0M296.7 79.6h0M300.6 79.4h0M303.5 81.4h0M308.1 81.1h0M311.6 79.8h0M315.5 80.7h0M204.4 85.7h0M206.2 83.5h0M211.9 84.9h0M213.9 84.5h0M217.7 85.3h0M222.6 84.3h0M225.1 84.0h0M229.8 83.8h0M232.8 83.3h0M238.1 85.5h0M242.4 84.6h0M246.0 83.1h0M248.0 84.8h0M251.2 83.0h0M257.4 83.3h0M259.4 83.9h0M265.1 82.8h0M269.1 83.6h0M271.9 84.2h0M274.4 85.6h0M278.3 85.1h0M284.3 84.1h0M288.3 82.9h0M289.7 84.2h0M293.2 85.2h0M298.4 85.1h0M301.5 82.8h0M307.1 83.4h0M309.5 83.1h0M313.8 84.1h0M201.8 87.5h0M207.8 87.0h0M209.9 88.4h0M215.0 88.9h0M218.8 89.1h0M221.1 89.3h0M224.5 86.9h0M228.6 88.9h0M233.6 89.3h0M238.8 89.4h0M241.5 87.6h0M246.3 88.7h0M247.8 88.2h0M251.1 86.6h0M256.8 88.7h0M261.2 88.8h0M262.9 88.7h0M269.2 88.6h0M271.5 87.4h0M274.0 88.4h0M280.5 86.9h0M283.9 89.2h0M286.3 89.1h0M289.5 87.4h0M294.6 89.2h0M298.3 86.8h0M303.2 88.2h0M306.6 87.2h0M309.1 86.8h0M312.4 87.8h0M316.9 88.5h0M205.1 93.1h0M209.8 91.4h0M212.2 93.2h0M217.4 90.5h0M221.3 91.5h0M224.3 92.6h0M227.5 91.1h0M232.3 93.0h0M234.7 92.8h0M240.4 90.9h0M244.1 92.2h0M248.0 91.9h0M250.6 91.8h0M254.2 91.7h0M258.5 90.7h0M261.8 91.4h0M266.0 92.0h0M270.9 91.1h0M274.1 91.3h0M276.9 90.8h0M282.9 93.1h0M286.4 90.8h0M288.1 90.6h0M292.4 91.6h0M295.3 91.6h0M301.1 92.8h0M303.4 90.3h0M309.1 91.5h0M311.4 90.8h0M315.1 91.1h0M202.6 95.7h0M208.1 95.1h0M210.7 95.6h0M215.8 96.4h0M220.0 94.7h0M223.3 95.0h0M226.4 95.7h0M230.2 95.1h0M232.5 94.2h0M238.9 96.8h0M241.3 94.4h0M246.2 95.6h0M248.9 96.0h0M251.7 94.8h0M257.5 96.3h0M261.8 95.4h0M265.6 96.8h0M268.0 96.8h0M270.8 94.3h0M276.5 94.6h0M279.4 96.3h0M283.7 94.8h0M287.8 94.3h0M291.0 96.8h0M294.7 95.0h0M299.9 96.3h0M303.1 96.8h0M307.3 95.9h0M310.7 95.6h0M312.8 95.0h0M202.0 99.8h0M206.9 100.7h0M209.6 100.3h0M213.9 98.9h0M218.0 100.8h0M222.8 99.3h0M225.2 98.1h0M229.6 100.9h0M233.6 100.0h0M238.7 98.1h0M240.9 99.2h0M244.4 99.1h0M249.5 98.3h0M253.4 98.8h0M257.1 98.5h0M261.3 99.2h0M265.2 100.8h0M268.2 98.0h0M271.4 100.9h0M276.1 100.2h0M279.3 100.8h0M284.4 99.8h0M287.3 98.2h0M289.3 98.5h0M295.3 100.5h0M299.2 100.6h0M300.8 98.0h0M305.3 98.0h0M310.1 100.7h0M314.8 98.3h0M205.4 103.7h0M208.5 102.4h0M213.7 104.4h0M217.0 103.4h0M218.7 102.6h0M223.1 102.5h0M226.9 103.7h0M232.1 102.3h0M236.5 101.7h0M240.5 103.5h0M243.4 102.6h0M247.3 104.4h0M249.6 102.1h0M255.2 102.5h0M256.9 103.2h0M261.0 102.4h0M265.1 102.0h0M270.5 103.4h0M273.8 102.6h0M277.9 104.6h0M282.4 101.9h0M284.2 102.0h0M288.4 103.7h0M292.6 102.8h0M297.5 103.6h0M301.4 103.0h0M304.2 102.0h0M307.6 103.7h0M310.5 103.6h0M314.0 103.1h0M204.6 106.0h0M207.6 106.7h0M212.8 106.8h0M215.2 106.5h0M219.3 105.9h0M224.0 106.9h0M227.0 105.5h0M232.5 105.7h0M234.0 106.4h0M239.8 108.3h0M243.5 106.2h0M247.5 105.6h0M249.1 105.9h0M254.3 107.3h0M258.3 108.4h0M262.5 107.8h0M264.5 108.3h0M270.6 108.0h0M271.8 107.7h0M277.0 107.1h0M280.0 107.9h0M285.4 107.8h0M287.7 107.7h0M290.9 107.6h0M294.5 105.6h0M298.5 107.5h0M305.0 106.9h0M307.7 107.3h0M312.1 108.4h0M315.9 106.5h0M203.9 110.2h0M207.2 111.9h0M209.3 109.9h0M213.8 111.9h0M218.9 112.3h0M221.0 111.2h0M226.6 110.5h0M229.5 110.0h0M234.1 110.7h0M236.8 111.3h0M240.1 111.8h0M244.4 110.6h0M249.0 111.3h0M252.7 112.0h0M256.8 110.6h0M260.1 111.9h0M262.1 111.3h0M267.4 110.5h0M269.9 110.2h0M275.6 112.0h0M280.1 111.6h0M283.6 111.8h0M285.3 111.4h0M291.2 111.6h0M293.2 111.4h0M297.3 110.6h0M302.2 111.4h0M304.2 111.3h0M307.8 110.0h0M313.8 112.1h0M315.9 111.6h0M203.1 114.2h0M205.6 114.4h0M210.8 115.7h0M213.3 114.0h0M216.8 113.8h0M221.4 115.6h0M227.2 113.8h0M229.6 114.7h0M233.5 116.0h0M238.6 113.2h0M240.8 114.7h0M245.3 114.7h0M249.7 113.4h0M252.4 115.6h0M255.3 113.7h0M260.4 113.6h0M264.0 113.5h0M266.8 114.1h0M272.3 115.0h0M275.6 115.0h0M278.8 116.1h0M283.2 115.0h0M285.4 113.9h0M290.8 116.0h0M294.9 113.3h0M299.0 113.8h0M302.2 113.7h0M304.4 115.5h0M309.5 114.9h0M313.9 114.9h0M316.8 114.1h0M203.7 117.7h0M209.1 118.0h0M212.7 119.0h0M215.7 119.3h0M219.1 116.9h0M224.5 119.2h0M227.9 119.7h0M230.7 118.2h0M235.2 119.5h0M238.0 119.2h0M243.8 117.7h0M244.8 117.4h0M250.5 117.6h0M255.2 117.2h0M258.8 118.0h0M262.7 117.9h0M264.0 119.0h0M268.4 119.8h0M273.8 117.7h0M276.6 118.6h0M281.2 117.7h0M284.4 118.5h0M288.3 118.6h0M291.6 118.1h0M295.3 119.9h0M299.5 117.3h0M302.9 119.2h0M307.6 117.2h0M310.6 118.3h0M315.7 117.7h0M206.8 120.8h0M209.7 122.3h0M213.9 123.4h0M216.4 123.2h0M219.6 123.2h0M224.2 120.8h0M229.6 123.6h0M233.0 123.1h0M236.0 121.5h0M240.6 123.2h0M243.2 121.9h0M247.0 121.5h0M252.6 120.8h0M253.8 121.3h0M259.9 122.4h0M263.7 122.8h0M267.8 122.5h0M269.0 121.0h0M274.0 121.1h0M277.5 121.6h0M283.3 123.6h0M286.2 122.0h0M289.2 120.9h0M293.1 121.2h0M297.2 123.2h0M300.6 122.9h0M305.6 123.5h0M308.3 121.4h0M313.5 122.2h0M315.4 122.8h0M207.1 125.7h0M208.8 125.3h0M212.7 125.2h0M218.3 126.4h0M219.5 124.8h0M223.7 127.4h0M228.0 127.0h0M231.5 125.1h0M237.4 124.8h0M239.9 126.1h0M243.2 126.8h0M248.5 125.2h0M250.7 126.0h0M255.0 126.4h0M259.7 125.6h0M264.0 125.9h0M265.1 125.8h0M270.4 125.1h0M275.2 126.3h0M277.9 125.4h0M280.6 125.4h0M285.9 126.6h0M289.8 124.6h0M293.9 126.6h0M297.4 126.1h0M301.7 127.4h0M304.7 125.8h0M308.4 126.9h0M312.6 126.9h0M315.3 126.3h0M203.5 128.4h0M207.2 130.5h0M212.1 129.8h0M215.8 128.9h0M217.0 130.0h0M221.8 129.5h0M226.4 130.6h0M231.0 129.3h0M233.9 130.2h0M238.1 130.1h0M241.2 130.8h0M243.7 130.7h0M247.9 128.9h0M253.2 129.7h0M256.0 128.6h0M259.0 129.1h0M262.9 130.4h0M267.0 129.5h0M271.5 130.4h0M276.4 130.2h0M278.4 128.7h0M283.3 129.4h0M287.6 129.0h0M291.3 129.4h0M293.8 128.9h0M299.1 129.8h0M302.2 130.8h0M304.5 130.0h0M309.2 129.1h0M314.5 129.1h0M203.8 132.5h0M207.2 132.1h0M211.6 134.0h0M216.9 135.0h0M218.7 135.0h0M221.8 132.6h0M226.8 134.2h0M230.8 132.2h0M234.1 133.6h0M237.8 134.4h0M242.7 132.4h0M245.7 134.2h0M250.4 134.1h0M254.8 134.4h0M256.8 134.6h0M261.3 133.9h0M265.0 134.4h0M269.2 133.5h0M273.2 133.4h0M276.9 134.9h0M280.0 132.6h0M285.0 132.8h0M286.7 132.3h0M291.1 133.3h0M296.1 132.6h0M298.6 134.4h0M301.3 133.4h0M305.5 134.4h0M309.8 132.6h0M313.0 132.8h0M203.9 136.1h0M208.1 136.1h0M213.4 138.2h0M216.6 136.9h0M218.9 138.1h0M223.3 137.6h0M229.3 136.7h0M232.2 137.2h0M235.6 137.1h0M239.9 137.5h0M241.7 138.4h0M246.1 137.0h0M250.6 137.7h0M255.2 136.3h0M257.9 137.8h0M262.0 136.7h0M266.8 138.8h0M270.1 137.5h0M272.4 137.4h0M278.1 136.9h0M280.9 137.3h0M284.3 137.8h0M288.1 138.7h0M293.5 136.9h0M295.0 136.0h0M301.0 137.2h0M302.7 136.1h0M308.5 136.6h0M312.7 137.0h0M315.7 137.0h0" stroke="#f4caca" stroke-width="1.6" stroke-linecap="round" fill="none"/>
<path d="M266.3 64.8l2.2 0.1M220.8 137.1l2.5 1.6M290.0 137.9l-0.3 -2.9M273.4 126.1l1.4 -2.1M313.2 89.4l-1.8 1.1M273.9 87.0l-0.9 2.3M250.4 123.3l1.2 1.1M260.3 86.1l2.3 0.5M217.2 45.7l0.2 -1.5M226.2 79.4l1.3 -2.8M261.5 82.0l0.9 -2.4M292.4 73.9l2.4 2.4M226.9 88.9l-1.1 -2.2M244.2 30.5l-1.5 0.6M264.3 74.5l2.0 1.0M253.5 54.7l2.0 -0.6M211.1 27.7l2.2 0.9M205.6 75.1l1.8 -0.9M283.1 84.9l1.1 2.1M204.4 73.7l1.4 1.0M255.0 66.2l0.7 1.7M234.9 133.7l2.1 -0.5M205.3 78.9l1.5 -1.3M316.1 71.7l-0.2 1.6M235.0 84.6l-0.6 2.2M285.3 80.5l1.5 0.8M301.2 43.3l-2.3 1.8M314.4 83.1l-0.0 -2.7M294.3 77.7l0.5 2.5M274.1 41.2l-2.0 -1.3M246.1 79.3l-1.5 1.7M315.5 60.3l-1.5 0.2M236.0 116.2l-2.9 -0.1M307.3 102.7l3.1 -1.0M226.1 95.4l2.7 0.4M306.0 106.7l2.0 -1.7M291.4 50.4l-0.3 1.6M217.5 112.4l2.4 1.8M232.9 120.2l1.6 -0.3M268.5 99.6l-1.5 0.4M259.7 104.1l-1.8 -0.3M264.7 26.5l1.0 1.9M257.6 66.0l-0.2 3.4M214.0 42.0l-0.0 -2.1M301.2 120.4l-2.8 -0.1M246.1 109.2l2.7 -0.5M244.8 128.5l3.0 0.1M311.7 49.7l-1.1 -1.3M247.8 131.5l1.6 1.0M220.3 41.4l0.5 3.4M272.3 82.2l1.0 -2.6M314.3 62.5l-3.2 -0.6M238.0 129.0l-1.7 1.7M248.2 37.2l-1.7 2.3M299.9 87.9l2.5 1.0M277.1 94.5l-0.1 1.6M262.9 52.6l1.5 -2.9M210.0 110.9l-2.2 0.7M255.0 122.4l2.8 1.9M307.9 73.2l3.1 -0.5M280.9 84.7l-0.6 -2.6M293.1 50.7l-1.8 0.9M202.5 104.4l-1.5 -1.2M295.7 106.8l0.2 -2.7M237.4 98.9l-0.1 2.6M295.8 81.9l2.1 -2.4M255.4 68.4l-0.4 2.4M212.2 118.6l0.1 1.7M218.2 63.5l-1.3 2.4M241.1 48.5l-2.5 0.4M261.4 67.3l-3.3 -1.0M243.5 104.0l-2.7 1.2M247.9 115.3l2.9 -0.2M288.0 29.5l-1.1 -2.7M220.6 111.7l1.4 -3.0M249.8 44.3l0.5 1.5M260.1 135.7l-1.7 1.9M217.5 111.5l-1.3 1.6M295.9 103.2l-2.6 -1.3M217.9 104.7l-2.5 -1.2M239.7 75.2l2.0 1.3M256.9 88.2l-2.7 0.1M265.4 137.6l1.5 2.4M287.8 113.4l0.9 1.8M283.3 95.2l-1.4 2.8M253.3 53.4l-1.9 0.4M288.0 134.2l-0.5 -2.6M213.5 131.9l2.2 -2.3M285.8 32.6l-1.0 2.3M271.5 47.7l1.8 -1.7M285.6 124.8l-0.1 1.9M269.0 37.4l1.5 0.3M292.2 119.8l-1.8 1.6M268.0 58.9l-1.2 1.9M232.3 103.5l-1.6 -0.6M213.7 108.9l-3.2 0.3M284.9 90.6l-0.1 2.7M256.2 109.2l-0.1 3.5M311.3 135.8l-1.4 1.2M253.7 111.2l-0.9 -1.3M228.2 133.6l-1.6 -0.3M268.0 112.5l1.5 -0.9M284.0 36.2l-1.7 -2.0M204.9 43.6l-2.5 1.4M315.8 55.3l-0.5 2.8M254.6 91.8l1.8 -2.4M251.7 65.2l-1.0 -2.5M278.7 79.2l-0.2 -2.0M295.5 69.6l-1.4 0.8M297.6 88.3l-1.4 -1.6M209.5 84.7l-1.9 -0.1M296.1 27.4l2.1 -2.6M214.1 132.3l2.0 -0.8M252.2 116.9l2.9 1.2M203.8 95.3l2.3 0.7M283.7 85.1l-1.3 1.5M213.1 56.2l0.5 1.9M215.6 45.8l-1.4 0.9M285.5 57.2l0.4 -2.6M284.9 107.7l-1.8 2.2M206.8 120.8l-0.6 -3.3M242.3 42.1l-0.2 -1.8M303.1 61.4l1.1 -1.3M235.6 115.9l2.6 1.4M247.5 88.1l0.9 1.8M303.1 106.3l1.3 1.1M214.8 46.1l-0.5 2.5M238.1 131.4l2.2 1.2M274.4 114.0l-2.7 0.4M219.9 56.2l1.0 -1.2M264.6 128.6l1.7 -0.9M316.8 77.0l2.1 2.3M263.5 136.2l2.3 2.2M238.4 28.0l1.6 2.6M307.2 107.0l-1.3 -2.0M237.4 66.8l1.6 0.8M230.5 128.1l1.7 -1.1M311.6 40.2l-0.9 -1.5M268.4 136.2l-0.3 -2.9M278.2 118.8l-3.3 0.1M285.5 105.3l0.3 3.1M311.7 30.6l-2.7 1.0M295.2 116.2l-1.0 2.2M288.0 134.8l1.1 1.0M300.8 27.7l1.9 1.1M203.5 128.8l1.6 0.3M259.7 68.6l0.0 -3.2M204.8 131.3l2.0 0.9M230.3 43.2l2.7 1.5M239.6 62.9l1.8 -1.4M219.6 39.4l-1.0 1.3M278.5 65.7l-1.0 -2.2M209.2 137.1l-0.0 -2.7M218.3 97.6l-2.9 -0.6M209.2 99.9l3.0 -1.0M278.2 45.9l-2.0 -2.1M230.6 127.0l-0.4 1.6M256.6 127.4l-0.6 -1.9M248.2 125.6l2.2 -0.9M258.3 55.1l-1.5 -2.9M241.2 117.7l-2.9 0.0M286.1 96.2l1.6 3.0M207.8 47.5l2.2 1.8M255.0 135.4l0.8 1.5M203.7 58.8l0.8 -2.0M262.0 57.1l-0.6 2.9M202.5 87.3l2.0 -0.8M258.6 97.3l-0.5 1.8M299.9 23.9l0.3 2.4M209.8 28.5l2.1 -2.3M262.8 132.8l1.3 -2.7M244.5 107.2l-1.2 1.8M224.1 23.7l0.9 -2.9M299.0 71.2l-0.8 -2.6M233.5 75.0l2.4 2.0M283.7 28.5l-0.8 -2.8M209.0 136.2l2.5 -0.1M244.9 24.0l0.3 -2.9M226.9 31.3l-2.5 1.8M239.3 91.6l-0.7 -1.7M268.9 40.4l0.8 -2.3M305.5 73.2l-1.9 1.4M253.1 113.2l-0.5 1.5M276.9 40.9l1.3 1.8M256.7 50.2l1.8 -1.1M307.4 55.5l3.2 0.3M248.3 27.5l-2.2 -2.1M248.5 101.9l2.0 -0.1M273.6 136.6l-0.8 3.1M213.2 100.8l-2.9 -0.6M262.1 104.6l2.6 2.0M263.1 102.4l0.2 -2.5M301.6 105.9l-0.0 1.7M285.7 126.6l-1.1 1.8M280.0 132.4l-1.2 -1.1M259.7 79.0l0.8 2.7M267.4 71.6l-1.3 -1.1M306.8 63.6l-1.7 2.8M269.1 136.8l0.7 -2.9M313.1 103.1l2.4 1.0M257.6 84.6l3.4 -0.5M285.0 118.1l2.4 0.1M255.9 50.8l1.4 -0.7M298.8 136.9l-0.8 1.3M252.1 35.3l2.4 -0.8M224.0 105.3l-2.6 -0.3M226.8 134.1l2.3 -2.3M297.2 131.0l0.3 3.0M248.5 47.0l-0.6 -2.5M231.3 83.4l-2.2 1.5M290.0 111.2l-0.4 2.2M228.5 132.6l1.9 -0.2M244.6 82.9l2.1 1.8M277.4 47.9l-0.7 2.8M310.7 37.8l-0.6 -3.2M287.4 137.0l-0.0 1.9M313.5 75.9l-1.0 -2.4M268.9 26.2l1.5 0.7M301.7 32.2l-1.2 1.3M275.4 100.0l0.9 -2.8M290.5 45.5l-3.3 1.1M252.2 118.0l-2.0 -0.6M308.2 30.3l-1.9 -2.4M297.6 30.4l-1.6 -1.4M278.5 29.1l-2.4 0.5M233.5 55.7l-0.2 -2.6M246.7 75.6l-1.9 -1.9M280.5 130.5l1.8 -0.3M257.6 89.0l1.4 1.4M222.8 69.0l-0.8 1.4M283.0 109.7l0.3 1.8M239.3 107.0l2.2 2.0M311.2 53.5l0.3 2.7M299.2 46.1l2.2 0.9M248.5 38.0l0.5 -1.5M278.0 54.0l1.7 1.5M247.9 64.1l-1.6 -1.8M238.4 46.2l-2.6 -1.8M299.3 51.9l-1.0 -2.0M276.1 31.0l0.2 -2.3M288.3 124.8l2.2 2.3M312.1 49.7l-1.8 -2.7M207.3 99.3l-0.9 2.3M222.5 69.3l1.6 -1.3M249.5 39.0l-1.3 1.4M243.4 71.0l-2.7 -0.5M273.5 25.6l-3.5 0.3M301.6 97.6l-0.8 -2.0M206.1 50.7l2.1 -0.9M257.5 57.7l2.6 0.3M211.6 115.9l-1.6 -0.8M227.5 29.5l1.1 1.8M246.4 69.2l3.2 1.1M248.8 137.3l1.1 2.6M301.4 68.9l-0.1 -2.0M283.4 43.3l1.9 -2.7M235.1 53.1l-0.5 -2.1M271.2 69.3l2.5 -1.2M302.4 83.5l-2.8 -1.4M300.2 109.1l-2.5 1.1" stroke="#b4e6f4" stroke-width="0.7" fill="none" stroke-linecap="round"/>
<path d="M286.8 46.7l0.8 1.4l1.4 0.7l0.9 1.4M204.0 102.1l1.0 -1.2l-0.2 -1.6l-0.7 -1.4M216.9 92.0l1.3 -0.9l0.4 -1.5l1.5 -0.6M314.3 70.0l1.6 0.1l0.6 -1.5l-1.0 -1.2M220.9 135.2l-0.9 1.3l-1.5 0.7l-1.3 -0.9M276.4 51.5l-1.3 -1.0l-1.5 -0.4l-1.6 0.1M291.9 71.7l1.6 -0.0l1.2 -1.1l0.9 -1.3M262.8 23.7l1.6 0.1l1.4 -0.8l1.6 -0.4M316.9 40.3l1.6 -0.2l1.6 0.1l0.8 1.4M264.6 35.6l1.0 -1.2l1.4 -0.7l0.6 -1.5M269.7 94.1l-1.4 -0.7l-1.3 -0.9l-1.4 -0.7M287.2 40.2l1.1 -1.1l0.9 -1.3l0.0 -1.6M231.5 60.6l-1.1 -1.2l-1.6 -0.0l-1.6 0.1M228.9 48.8l-1.5 0.6l-1.4 0.8l-0.6 1.5M205.5 45.9l-0.9 -1.3l-1.5 -0.5l-1.6 0.2M279.5 35.2l-1.2 -1.1l-1.6 -0.3l-1.5 -0.6M217.6 77.8l0.1 1.6l0.4 1.6l-1.1 1.2M298.7 82.2l1.2 -1.0l1.2 -1.1l0.3 -1.6M235.6 69.7l1.0 1.2l1.0 1.2l0.4 1.5M206.1 127.6l-0.7 -1.4l-1.3 -1.0l-0.6 -1.5M226.3 130.7l0.6 1.5l1.2 1.0l-0.4 1.6M229.4 91.4l0.1 1.6l-1.3 0.9l-1.6 0.2M213.0 55.5l1.3 1.0l0.1 1.6l1.4 0.7M213.2 66.0l-1.2 1.0l-1.1 1.2l-1.6 0.1M255.9 69.2l0.5 -1.5l0.3 -1.6l1.4 -0.8M288.9 106.5l-1.5 0.6l-1.6 -0.3l-1.1 -1.2M272.8 91.6l-1.2 -1.1l-1.6 -0.3l-1.6 -0.1M307.4 128.0l-1.6 0.1l-1.6 0.3l-0.5 1.5M305.1 98.4l0.3 -1.6l-1.0 -1.2l-0.9 -1.3M295.7 46.8l-1.2 -1.1l-1.6 -0.3l-1.6 -0.1M208.7 66.1l-1.6 -0.3l-0.7 -1.5l0.4 -1.5M231.1 126.5l-0.6 -1.5l-1.6 -0.3l-1.6 0.0M241.9 81.4l-0.2 -1.6l-0.9 -1.3l-1.6 -0.1M289.0 80.8l-1.5 -0.5l-1.5 0.6l-1.6 0.4M272.4 117.6l0.3 1.6l0.4 1.6l1.5 0.5M293.0 46.8l-1.1 -1.2l-0.2 -1.6l1.3 -0.9M211.1 53.0l-1.0 -1.3l-1.5 -0.5l-1.6 -0.1M282.5 120.9l-1.6 -0.2l-1.6 -0.1l-0.8 1.4M277.0 107.8l1.6 0.2l1.4 0.8l0.6 1.5M309.1 26.0l1.6 -0.2l1.1 -1.2l-0.5 -1.5M299.3 28.8l-1.2 1.1l-1.3 0.9l-0.2 1.6M265.3 107.4l0.2 1.6l-0.2 1.6l0.5 1.5M309.0 57.9l0.7 1.4l1.1 1.2l1.6 -0.3M271.3 57.4l0.4 -1.6l-1.0 -1.2l-1.0 -1.3M288.1 131.1l1.0 -1.3l1.0 -1.3l1.5 -0.5M249.6 80.5l-1.3 -0.9l-0.7 -1.4l-0.8 -1.4M289.1 77.7l1.3 0.9l1.4 -0.8l1.5 -0.4M304.1 84.8l-1.6 0.2l-1.1 1.2l-1.6 -0.2M205.4 126.9l0.6 1.5l0.9 1.3l0.7 1.4M237.3 107.8l0.8 -1.4l0.9 -1.3l-0.4 -1.6M291.5 30.5l0.3 1.6l-0.6 1.5l0.5 1.5M304.2 115.7l-0.4 1.5l-1.5 0.6l-1.6 -0.3M285.8 57.9l0.8 1.4l-1.0 1.3l-1.6 0.3M222.1 50.8l-0.9 -1.3l-1.5 -0.6l-1.4 0.8M232.0 60.2l0.6 1.5l0.2 1.6l-0.8 1.4M268.8 61.1l1.6 0.0l0.6 1.5l1.4 0.8M274.6 63.6l0.8 1.4l0.6 1.5l1.6 0.2M277.4 128.5l-0.9 1.3l-1.6 -0.2l-1.2 -1.0M301.2 77.2l-0.3 -1.6l-1.3 -0.9l-1.6 -0.2M231.2 53.9l0.3 -1.6l1.2 -1.1l0.5 -1.5M248.2 137.6l-1.0 -1.2l0.2 -1.6l-1.3 -0.9M241.5 35.4l1.4 -0.7l1.5 0.6l1.4 0.8M210.2 78.7l1.6 0.2l0.9 1.3l1.6 -0.2M306.8 80.0l-1.6 0.1l-0.7 -1.4l0.1 -1.6M266.8 118.6l-0.7 1.5l0.1 1.6l1.3 0.9M288.6 89.4l0.2 -1.6l-0.1 -1.6l-0.2 -1.6M261.1 52.7l1.6 -0.0l1.4 -0.9l0.6 -1.5M300.7 53.3l-0.8 1.4l-0.7 1.4l0.6 1.5M238.3 34.4l-0.7 -1.4l-1.4 -0.9l-0.1 -1.6M313.2 131.9l-1.1 1.2l-1.5 0.5l-0.6 1.5M248.5 125.7l-1.5 0.5l-0.4 1.6l-0.4 1.6M307.2 115.1l1.2 -1.1l0.2 -1.6l1.2 -1.1M253.6 129.0l-1.3 -1.0l0.3 -1.6l-1.3 -1.0M312.2 129.3l-1.6 0.3l-1.0 1.3l0.7 1.5M260.6 30.9l0.8 -1.4l1.6 -0.2l1.4 -0.8M256.3 83.3l1.1 -1.2l1.4 -0.8l0.5 -1.5M300.6 112.8l-0.1 1.6l-0.8 1.4l0.4 1.5M281.1 28.1l1.5 0.4l1.6 0.1l1.5 0.6M218.5 125.0l-1.6 -0.0l-0.9 -1.3l-1.5 -0.6M225.0 69.2l-0.4 -1.6l-0.6 -1.5l-1.5 -0.6M294.6 123.8l1.4 0.7l1.6 -0.0l1.5 -0.5M231.1 114.8l0.7 -1.4l1.0 -1.2l-0.7 -1.5M207.3 91.8l0.2 1.6l1.4 0.8l-0.2 1.6M294.6 121.8l0.5 1.5l1.5 0.6l0.3 1.6M257.6 48.2l1.5 0.6l1.5 -0.6l1.5 0.6M222.8 35.9l-0.2 1.6l-0.0 1.6l0.4 1.5M289.5 46.3l1.0 -1.2l0.3 -1.6l-1.3 -1.0M236.1 60.1l1.1 -1.2l1.5 -0.4l0.2 -1.6M315.8 25.8l-1.0 1.3l-1.6 -0.0l-1.2 1.0M229.3 136.3l-1.6 -0.4l-1.0 -1.2l-1.6 0.1M252.7 102.4l-1.4 0.7l0.0 1.6l1.2 1.0M277.6 136.5l-0.5 -1.5l0.1 -1.6l-0.3 -1.6M245.1 101.1l-0.2 1.6l-0.2 1.6l0.4 1.5M226.2 103.9l-0.1 -1.6l-0.7 -1.5l-0.7 -1.4M220.2 128.9l1.1 1.1l-0.0 1.6l-1.0 1.3M209.7 47.8l1.2 1.1l0.7 1.4l-1.0 1.3M214.7 117.3l-1.3 0.9l-1.4 -0.8l-1.6 0.0M283.9 36.1l1.6 -0.1l1.0 -1.3l1.5 -0.5M266.8 50.6l1.3 0.9l0.2 1.6l-0.4 1.5M300.9 75.5l0.1 -1.6l1.5 -0.5l1.3 -0.9M302.9 115.7l-1.5 -0.5l-1.5 0.5l-1.4 0.8M302.0 98.9l-1.2 -1.1l-1.5 -0.4l-1.1 -1.2M218.9 35.1l-0.4 -1.6l-1.6 -0.2l-1.2 1.1M268.9 65.6l0.5 -1.5l0.8 -1.4l-0.9 -1.3M239.5 54.9l-1.1 1.2l0.7 1.5l-0.6 1.5M255.0 69.6l1.4 0.7l1.6 -0.3l1.4 0.8M303.7 112.9l1.5 0.5l1.5 0.6l1.6 0.1M217.8 119.6l-1.5 0.5l-0.9 1.4l-0.5 1.5M205.2 70.4l1.3 1.0l-0.3 1.6l-0.9 1.3M241.2 34.7l0.9 1.3l1.6 -0.3l0.8 1.4M233.2 95.8l-0.5 1.5l-1.2 1.1l-1.6 -0.4M290.9 83.3l0.1 -1.6l-1.2 -1.0l-1.5 0.6M216.3 68.5l-1.2 -1.0l-0.3 -1.6l1.2 -1.1M222.8 29.4l-1.6 -0.3l-1.4 -0.8l-0.3 -1.6M285.1 99.7l1.1 1.2l1.5 -0.4l1.3 0.9M238.4 59.4l-1.5 -0.6l-1.6 0.1l-1.4 -0.8M316.9 34.8l-1.0 1.3l0.4 1.5l1.2 1.1M316.4 114.5l0.8 1.4l0.7 1.4l1.6 -0.1M272.7 65.4l0.3 -1.6l-1.0 -1.2l-1.5 -0.6M262.4 107.2l-0.8 1.4l-0.3 1.6l1.3 0.9M315.7 64.4l0.7 1.5l-0.3 1.6l0.3 1.6M234.9 93.3l-0.3 -1.6l0.4 -1.6l1.2 -1.0M221.5 131.3l0.3 -1.6l-1.2 -1.1l-1.5 -0.5M272.5 90.8l-0.6 1.5l1.1 1.2l-0.4 1.5M230.5 127.7l-1.5 0.4l-0.9 1.3l-0.0 1.6M208.3 68.7l-1.0 1.3l-0.4 1.5l-1.0 1.3M294.4 111.7l1.6 0.1l1.5 -0.6l1.0 -1.2M313.8 89.4l-1.5 -0.5l-1.6 0.0l-1.0 -1.2M279.7 117.5l-1.3 0.9l-1.4 -0.7l-1.5 0.6M227.4 69.1l-0.8 -1.4l-0.8 -1.4l-0.1 -1.6M211.0 46.5l-1.3 0.9l-1.3 0.9l-0.5 1.5M284.3 61.9l-0.7 -1.4l-1.6 0.1l-1.3 -0.9M218.2 121.4l-1.4 -0.8l-1.4 0.8l-1.6 -0.2M204.7 94.4l-1.3 1.0l0.1 1.6l0.1 1.6M251.0 28.8l1.3 -0.9l1.4 -0.7l-0.0 -1.6M214.6 40.4l0.0 -1.6l-1.1 -1.2l-1.1 -1.2M217.4 47.3l0.2 1.6l0.1 1.6l-1.3 0.9M279.3 31.2l1.3 -0.9l1.6 0.3l0.4 1.6M257.3 113.7l-1.2 -1.0l-0.9 -1.3l0.2 -1.6M298.4 26.5l-1.6 -0.1l-0.8 -1.4l-1.6 -0.1M240.4 73.7l-1.5 0.5l-0.8 1.4l-1.4 0.8M309.7 61.6l-1.5 -0.5l-1.5 0.7l-1.2 -1.0M278.4 137.8l1.4 -0.8l1.6 -0.0l1.5 0.4M314.2 29.2l-0.9 -1.3l-1.2 -1.1l-1.5 0.5M247.1 91.8l0.8 -1.4l-0.2 -1.6l-1.0 -1.3M223.4 70.7l0.9 -1.3l0.2 -1.6l1.5 -0.6M255.8 43.9l-1.0 -1.2l-0.5 -1.5l-1.6 -0.3M266.4 110.1l0.3 1.6l-0.5 1.5l-1.3 1.0M291.3 73.1l1.5 -0.5l1.4 -0.8l0.2 -1.6M287.6 75.1l1.5 -0.6l1.1 -1.2l0.8 -1.4M285.0 125.5l1.1 -1.1l0.3 -1.6l0.8 -1.4M296.0 122.3l0.3 1.6l0.1 1.6l1.0 1.3M210.4 83.7l-0.3 1.6l0.4 1.5l0.4 1.6M307.9 35.5l1.2 1.1l0.8 1.4l-0.5 1.5M299.7 135.4l1.5 0.5l1.2 1.0l0.5 1.5M302.5 100.4l0.9 1.3l0.8 1.4l-0.1 1.6M299.9 129.6l1.6 -0.2l1.5 0.4l1.6 0.1M283.3 66.0l0.7 -1.5l0.7 -1.4l0.2 -1.6M262.1 100.1l0.1 1.6l-0.1 1.6l-0.8 1.4M270.8 106.4l1.4 0.8l1.4 0.8l0.3 1.6M275.8 47.7l1.2 1.0l1.6 -0.0l1.3 -0.9M280.0 70.3l1.2 -1.1l1.6 -0.0l1.5 0.6M306.6 64.9l-1.6 0.4l-1.6 -0.2l-1.6 0.1M297.3 48.9l0.1 1.6l-0.9 1.3l-0.6 1.5M202.8 90.4l1.5 -0.6l0.0 -1.6l-0.6 -1.5M316.7 57.3l-1.5 -0.6l-1.2 -1.0l-1.2 -1.0M208.0 137.5l0.4 1.5l1.2 1.1l0.6 1.5M227.1 35.3l1.5 0.4l1.5 -0.7l1.4 0.8M209.9 133.3l1.6 -0.1l1.4 0.7l1.3 0.9M254.7 112.4l1.4 0.8l1.6 -0.3l1.3 0.9M313.0 109.7l0.7 -1.5l0.4 -1.6l1.5 -0.5M291.5 110.1l-1.2 1.0l-1.6 -0.2l-1.5 0.5M216.4 48.4l-1.5 -0.6l-1.3 1.0l-1.6 0.3M254.4 32.3l1.3 0.9l0.3 1.6l1.5 0.6M308.3 23.8l1.2 -1.1l1.0 -1.3l1.0 -1.3M248.6 56.1l-1.6 0.3l-1.6 0.1l-1.5 0.5M223.4 92.5l1.2 -1.1l0.7 -1.4l0.8 -1.4M211.5 132.3l-0.4 -1.5l-0.2 -1.6l-0.7 -1.4M205.1 126.7l-0.8 -1.4l-1.2 -1.1l-1.6 -0.0M278.4 135.9l0.6 1.5l1.6 0.1l1.5 0.4M253.5 65.4l1.3 -0.9l1.1 -1.2l1.6 -0.2M308.8 42.4l-0.7 1.4l-1.3 0.9l-1.6 -0.1M314.6 132.3l-1.6 0.2l-1.5 -0.5l-1.6 -0.1M276.5 76.4l-1.6 0.1l-1.4 -0.7l-1.5 -0.4M287.9 25.4l1.0 1.2l1.5 0.6l0.4 1.5M252.3 106.3l-0.8 1.4l-1.3 1.0l-1.3 1.0M293.7 46.7l-1.3 1.0l-1.6 0.3l-0.9 -1.3M294.2 81.9l1.3 -0.9l0.2 -1.6l-0.8 -1.4M312.1 114.6l-1.2 1.1l-0.3 1.6l-0.7 1.4M291.6 107.2l0.1 -1.6l0.0 -1.6l-1.4 -0.9M237.5 51.1l1.6 0.1l1.4 0.7l1.6 -0.1M297.4 44.5l0.8 -1.4l-0.1 -1.6l-0.4 -1.6M296.8 105.7l-0.6 -1.5l1.1 -1.1l0.8 -1.4M312.6 108.7l-1.6 0.1l-1.1 -1.2l0.3 -1.6M247.0 132.0l1.5 0.5l1.4 -0.7l1.1 -1.1M257.2 24.3l-1.6 -0.1l-0.8 -1.4l-1.3 -0.9M207.8 137.2l1.2 -1.1l1.1 -1.2l1.0 -1.3M262.7 56.8l0.2 -1.6l0.5 -1.5l-1.1 -1.2M307.7 54.0l-0.6 1.5l0.9 1.3l1.3 0.9M208.3 59.4l0.2 1.6l1.2 1.1l1.4 0.7M300.1 31.7l-1.6 -0.1l-0.9 -1.3l-1.6 -0.3M298.9 61.8l0.4 -1.5l0.0 -1.6l-1.0 -1.2M259.1 91.1l1.3 -1.0l1.6 0.0l0.8 -1.4M224.8 46.1l-1.4 -0.7l-1.0 -1.2l-1.6 0.2M222.6 73.3l-1.2 -1.1l-1.6 -0.2l-1.3 -0.9M258.6 137.3l0.5 1.5l-0.4 1.5l-1.5 0.6M238.1 115.8l1.0 1.2l0.4 1.5l-1.3 1.0M298.3 28.7l-1.6 -0.3l-1.1 -1.2l0.0 -1.6M203.1 33.4l-1.4 0.8l-1.6 0.3l-1.5 -0.4M252.4 25.6l-1.4 0.8l-1.4 0.8l-0.3 1.6M279.9 84.6l-1.0 -1.3l-1.5 -0.5l-0.6 -1.5M253.9 31.1l-1.2 1.1l-1.0 1.3l-1.5 0.5M226.7 76.7l-1.3 1.0l-1.6 0.3l-1.2 -1.0M255.4 26.5l1.5 0.6l0.9 1.3l1.2 1.1M316.1 123.9l1.3 -1.0l1.5 -0.6l0.6 -1.5M227.1 75.8l0.8 1.4l1.6 -0.3l1.2 1.1M213.2 62.4l1.5 0.6l1.0 1.2l1.5 0.5M260.4 29.0l1.4 0.7l1.3 0.9l1.6 -0.1M254.4 75.0l1.1 -1.1l-0.3 -1.6l0.5 -1.5M301.2 68.5l0.6 1.5l0.6 1.5l-0.1 1.6M232.6 126.5l1.0 -1.2l1.6 0.1l1.4 0.7M249.6 72.5l1.0 1.3l0.6 1.5l1.1 1.1M278.7 85.4l-1.5 -0.4l-1.0 1.3l0.4 1.5M266.1 99.7l0.8 1.4l1.4 0.8l-0.1 1.6M277.2 118.4l1.3 -0.9l1.4 0.7l1.5 -0.5M210.5 75.9l0.3 1.6l1.4 0.7l0.2 1.6M221.7 93.7l1.2 -1.1l1.5 0.6l1.6 -0.1M278.0 38.0l-1.3 0.9l-0.3 1.6l-0.2 1.6M255.0 83.8l-1.6 0.0l-0.6 1.5l0.6 1.5M309.8 112.9l0.3 1.6l-0.4 1.5l0.3 1.6M270.8 55.1l-0.7 -1.4l-1.6 -0.4l-1.6 -0.4M262.4 86.1l-0.4 -1.5l-1.1 -1.2l0.5 -1.5M213.8 69.6l-1.2 -1.0l-1.5 0.5l-1.1 -1.2M257.1 26.2l-0.4 1.6l-1.3 0.9l-0.9 1.3M277.7 48.4l-1.6 0.3l-0.6 1.5l0.9 1.3M205.6 37.0l-1.3 -1.0l-0.7 -1.4l-0.5 -1.5M275.4 116.0l-0.2 -1.6l0.7 -1.4l-0.7 -1.4M294.6 50.8l-0.1 -1.6l1.2 -1.1l1.6 -0.2M304.0 101.9l-0.9 -1.3l-1.5 -0.5l-1.6 -0.2M225.3 35.4l-1.5 0.4l-1.5 -0.6l-1.4 0.8M211.6 98.5l0.1 -1.6l1.1 -1.1l1.2 -1.1M278.3 118.5l1.4 -0.7l1.4 0.8l1.5 -0.5M278.5 68.6l1.6 0.2l1.6 -0.2l1.5 -0.4M214.9 84.8l-1.5 -0.4l-1.6 0.3l-1.5 -0.6M300.5 101.6l-1.5 0.6l-1.3 1.0l-0.1 1.6M236.2 133.5l0.3 -1.6l0.7 -1.4l-0.2 -1.6M262.4 53.6l1.5 0.6l0.7 1.4l-0.7 1.5M214.9 33.6l-1.6 0.1l-1.3 -0.9l-1.5 0.7M288.9 128.0l-0.4 -1.6l0.1 -1.6l-0.2 -1.6M225.7 47.2l0.2 1.6l-0.2 1.6l-0.4 1.6M255.4 100.8l1.5 0.5l1.3 -0.9l1.4 0.8M271.3 81.7l0.4 1.5l-1.3 1.0l-0.8 1.4M279.1 73.2l1.5 0.5l1.6 -0.3l0.9 1.3M237.9 50.9l-1.6 0.2l-1.4 0.7l-1.3 -0.9M242.6 121.7l0.9 -1.3l1.2 -1.1l1.3 -1.0M293.2 81.4l1.0 1.2l0.5 1.5l-0.3 1.6M213.0 135.2l1.3 0.9l1.4 0.8l1.4 0.8M240.9 120.5l-1.6 -0.0l-1.1 -1.2l-1.5 -0.5M214.2 137.7l-0.9 -1.3l-1.5 -0.5l-0.8 -1.4M263.4 40.1l1.4 0.8l1.4 -0.8l1.1 -1.1M278.2 116.7l1.0 -1.3l-0.6 -1.5l0.6 -1.5M267.6 29.0l-1.6 -0.2l-1.4 -0.7l-1.0 -1.2M313.2 112.1l0.8 -1.4l1.4 -0.8l1.6 -0.2M312.1 124.5l-0.3 -1.6l-1.0 -1.2l-1.2 -1.1M282.7 106.1l-0.9 1.3l-1.6 -0.3l-1.4 -0.8M312.8 63.4l-1.2 -1.1l0.1 -1.6l-1.3 -0.9M220.8 24.7l1.6 0.2l1.5 0.4l0.1 1.6M306.0 68.8l-1.6 -0.1l-1.2 -1.0l-0.0 -1.6M254.0 79.9l-1.4 -0.8l-1.5 -0.6l-1.4 -0.7M246.7 70.5l-0.9 1.3l-0.5 1.5l-1.1 1.2M244.7 46.7l1.6 -0.1l1.2 1.1l1.0 1.3M227.1 33.9l-0.2 -1.6l1.0 -1.3l0.9 -1.3M241.6 69.4l1.6 0.2l1.5 -0.4l1.6 0.2M242.0 93.0l-1.6 0.4l-0.4 1.6l-0.3 1.6M244.6 108.9l1.5 -0.5l1.4 -0.8l1.6 -0.0M213.1 87.9l-1.5 0.4l-1.0 -1.2l-1.6 0.1M306.3 85.0l-1.2 -1.0l-1.6 -0.1l-0.9 -1.3M286.7 129.3l-0.3 -1.6l1.2 -1.1l1.5 -0.6M243.3 91.8l-1.6 -0.3l-1.4 0.8l-1.1 1.2M303.4 51.1l1.6 -0.3l0.8 -1.4l1.0 -1.3M255.4 90.9l0.4 -1.6l1.6 -0.3l0.9 1.3M304.6 133.8l0.3 1.6l0.4 1.6l0.6 1.5M314.1 104.2l0.6 -1.5l1.6 -0.2l1.5 -0.5M243.0 72.9l-0.7 1.4l1.0 1.2l1.6 -0.1M310.8 98.8l0.4 -1.5l-0.6 -1.5l-1.3 -0.9M247.9 62.9l-1.4 0.7l-1.3 0.9l0.2 1.6M281.4 93.8l-0.8 1.4l-0.6 1.5l1.1 1.2M229.1 134.5l0.7 1.4l-1.0 1.3l-1.6 0.3M227.1 26.9l-0.2 1.6l-1.5 0.5l-1.2 1.1M207.5 49.3l0.1 -1.6l-1.1 -1.1l0.6 -1.5M249.1 40.0l0.8 -1.4l-0.5 -1.5l1.0 -1.2M290.0 106.7l1.6 -0.1l1.3 0.9l0.3 1.6M232.5 33.4l-0.3 -1.6l0.5 -1.5l1.4 -0.8M277.1 28.6l1.2 1.1l1.3 0.9l0.1 1.6M236.9 25.2l1.6 0.4l1.5 -0.5l1.5 0.4M244.0 122.8l1.4 -0.8l0.7 -1.5l1.5 -0.5M284.5 81.0l-1.6 -0.3l-1.5 -0.6l-1.6 -0.1M282.7 47.5l-0.0 -1.6l0.0 -1.6l0.9 -1.3M271.8 113.5l-0.3 -1.6l-0.9 -1.3l-0.8 -1.4M202.4 62.0l0.4 -1.5l-0.4 -1.6l-1.6 -0.3M287.8 100.0l-1.6 0.0l-0.8 -1.4l-0.2 -1.6M240.0 123.2l0.5 -1.5l-0.1 -1.6l0.4 -1.5M267.2 66.9l-0.0 1.6l0.7 1.4l0.2 1.6M301.9 39.7l-0.0 -1.6l0.8 -1.4l0.9 -1.3M272.0 44.6l0.2 1.6l1.5 0.7l1.6 -0.3M218.4 67.7l1.5 0.5l1.2 1.1l1.5 0.4M235.8 124.4l-0.4 -1.6l-1.4 -0.8l-1.1 -1.1M241.0 24.8l1.5 -0.4l1.6 -0.1l0.7 -1.4M314.5 37.0l-1.6 -0.2l-0.6 -1.5l-1.6 -0.2M262.0 31.1l0.0 1.6l-1.3 0.9l-1.6 -0.1M292.0 129.6l0.1 -1.6l-1.2 -1.1l0.4 -1.6M205.4 115.1l1.3 -0.9l1.0 -1.3l-0.7 -1.5M266.9 60.3l-1.4 0.7l-1.4 -0.7l-0.7 -1.4M239.8 82.4l0.9 -1.3l1.1 -1.1l-0.3 -1.6M295.3 39.5l0.2 1.6l1.3 0.9l1.0 1.3M247.1 129.3l0.6 1.5l-1.0 1.2l-1.6 -0.1M243.4 73.4l-1.4 0.8l-0.9 1.3l-0.3 1.6M272.8 112.2l-0.7 1.4l-0.8 1.4l-1.5 0.7M218.2 100.2l0.5 -1.5l-0.1 -1.6l-0.9 -1.3M264.1 39.4l0.3 -1.6l1.2 -1.1l1.4 -0.8M294.9 132.3l0.0 1.6l-1.3 0.9l-1.6 -0.0M274.9 68.0l0.5 1.5l0.7 1.4l-1.0 1.3M290.9 126.9l1.5 -0.6l1.2 1.1l-0.4 1.6M209.3 60.1l-1.4 0.8l-1.4 -0.7l-1.3 1.0M217.1 37.0l1.5 -0.5l0.4 -1.6l0.8 -1.4M218.7 129.5l1.6 -0.2l1.0 1.3l-0.1 1.6M282.7 76.8l1.6 -0.1l1.3 0.9l1.5 -0.7M267.1 52.6l1.5 -0.6l1.4 0.7l1.2 -1.0M208.5 27.1l1.2 1.1l-0.1 1.6l-0.3 1.6M209.5 136.2l1.5 0.6l0.2 1.6l0.7 1.4M205.9 128.5l-0.6 1.5l-0.1 1.6l0.4 1.5M292.8 105.1l-0.2 -1.6l-0.3 -1.6l-0.4 -1.6M266.7 115.9l-1.6 -0.2l-1.5 -0.6l-1.5 0.5M309.6 47.0l-0.7 1.4l-0.8 1.4l-1.3 0.9M221.8 85.6l0.8 -1.4l1.3 -0.9l1.6 -0.1M281.1 120.3l-1.6 -0.4l-1.4 -0.7l-0.9 -1.3M300.3 60.0l-1.2 -1.1l-1.6 -0.3l-1.6 -0.4M295.8 85.1l0.9 -1.3l1.4 -0.7l1.6 -0.3M305.4 93.0l0.8 1.4l0.5 1.5l1.5 0.4M219.8 132.5l-0.5 -1.5l0.7 -1.4l1.4 -0.7M253.1 73.0l-0.0 1.6l1.3 0.9l1.6 -0.2M303.6 72.2l1.6 0.3l0.4 1.5l1.2 1.1M270.8 110.6l0.7 1.4l0.1 1.6l1.4 0.7M243.6 106.5l1.2 -1.0l-0.1 -1.6l-1.5 -0.5M249.0 110.9l-1.5 0.4l-1.6 -0.4l-1.1 -1.2M209.9 98.4l-1.5 -0.5l-1.6 -0.0l-0.8 -1.4M254.2 64.1l1.2 1.1l0.1 1.6l-0.9 1.3M270.6 56.9l0.4 -1.5l1.6 -0.3l0.6 -1.5M251.6 97.8l0.5 1.5l0.9 1.3l-0.3 1.6M271.2 126.4l1.0 -1.3l0.7 -1.5l-0.7 -1.4M202.9 43.4l1.4 0.8l1.4 -0.8l0.2 -1.6M227.3 108.3l-1.2 1.0l-0.1 1.6l1.0 1.3M265.8 100.5l-0.5 1.5l-0.6 1.5l-1.0 1.3M227.7 53.0l1.0 -1.2l1.0 -1.3l-0.5 -1.5M264.2 128.4l0.7 -1.4l1.0 -1.2l1.0 -1.2M215.7 36.2l1.5 -0.5l1.5 0.6l1.5 0.6M264.8 97.6l1.2 1.0l1.5 -0.6l1.5 -0.4M271.9 112.5l1.6 -0.2l0.8 1.4l-0.7 1.4M239.1 66.9l1.5 0.6l1.5 0.4l1.5 0.5M281.5 130.6l1.4 -0.8l1.3 -0.9l1.5 0.6M246.9 37.2l1.0 1.2l1.5 0.5l1.6 -0.4M230.3 87.1l-1.3 0.9l-0.6 1.5l-1.5 0.4M296.7 88.3l-1.0 1.2l-0.8 1.4l-1.6 -0.0M283.5 99.6l-0.5 -1.5l-1.6 -0.3l-1.5 -0.4M288.2 86.0l-1.6 0.1l-1.2 1.1l-1.5 0.6M251.1 89.4l1.2 -1.0l1.5 0.5l1.3 0.9M232.7 70.8l1.6 -0.1l1.6 -0.2l1.4 -0.7M312.7 76.5l-1.3 1.0l-1.6 -0.2l-1.6 0.3M292.8 103.0l-1.6 -0.3l-1.5 0.6l-0.6 1.5M281.1 96.3l-1.6 0.3l-1.5 -0.4l-1.2 1.1M226.0 23.9l0.5 1.5l0.9 1.3l-0.8 1.4M256.5 106.7l-0.5 1.5l-1.2 1.1l0.1 1.6M236.7 56.8l0.9 1.3l0.7 1.5l-0.0 1.6M217.5 51.0l-1.3 1.0l-0.5 1.5l0.5 1.5M213.5 35.4l-0.5 -1.5l0.3 -1.6l1.3 -1.0M218.7 132.4l1.4 -0.8l1.1 -1.2l0.6 -1.5M252.1 117.3l0.5 -1.5l-1.1 -1.2l-0.8 -1.4M289.3 73.0l-1.1 1.1l-1.4 0.7l-1.0 1.2M308.1 47.4l0.8 1.4l0.7 1.4l1.3 1.0M258.7 95.8l-1.5 0.4l-1.0 -1.3l-1.6 -0.3" stroke="#8c8c8c" stroke-width="0.75" fill="none" stroke-linejoin="round"/>
<path d="M206.2 23.1l-0.2 -1.7M206.2 23.1l1.7 0.2M210.7 24.7l0.9 1.5M210.7 24.7l-1.6 0.5M214.2 23.4l0.8 1.5M214.2 23.4l-1.6 0.4M220.1 23.0l1.5 -0.9M220.1 23.0l0.5 1.6M224.5 25.4l-0.1 1.7M224.5 25.4l-1.6 -0.5M228.3 25.6l1.2 -1.2M228.3 25.6l0.9 1.5M232.9 25.6l-0.3 -1.7M232.9 25.6l1.7 0.1M239.9 24.2l-0.5 1.6M239.9 24.2l-1.4 -0.9M242.4 23.4l-0.7 -1.5M242.4 23.4l1.7 -0.3M249.2 24.6l1.7 -0.3M249.2 24.6l-0.1 1.7M255.0 23.4l1.5 0.8M255.0 23.4l-1.1 1.3M258.2 25.3l-0.3 1.7M258.2 25.3l-1.5 -0.7M263.0 23.2l0.1 -1.7M263.0 23.2l1.6 0.5M266.0 23.6l1.5 -0.7M266.0 23.6l0.3 1.7M273.4 23.0l-1.0 -1.4M273.4 23.0l1.6 -0.6M276.5 24.5l-1.6 -0.5M276.5 24.5l0.9 -1.4M280.6 25.2l1.6 0.5M280.6 25.2l-0.9 1.5M285.8 25.5l-1.5 0.7M285.8 25.5l-0.3 -1.7M290.0 23.3l-0.6 -1.6M290.0 23.3l1.7 -0.2M296.1 24.6l0.1 -1.7M296.1 24.6l1.6 0.5M300.2 22.6l-0.7 1.5M300.2 22.6l-1.3 -1.1M305.3 25.5l1.6 0.6M305.3 25.5l-0.9 1.4M312.1 24.0l0.6 -1.6M312.1 24.0l1.4 1.0M313.5 23.7l1.7 0.4M313.5 23.7l-0.8 1.5M200.9 29.1l1.2 -1.2M200.9 29.1l0.9 1.5M207.9 30.6l-0.5 1.6M207.9 30.6l-1.4 -0.9M213.7 27.8l1.4 -1.0M213.7 27.8l0.6 1.6M218.4 30.7l-1.1 -1.3M218.4 30.7l1.5 -0.7M222.6 30.6l0.7 -1.5M222.6 30.6l1.3 1.1M227.0 30.4l-0.5 -1.6M227.0 30.4l1.7 -0.0M230.5 29.6l-1.7 -0.3M230.5 29.6l0.7 -1.6M234.3 27.3l-1.5 0.8M234.3 27.3l-0.4 -1.7M241.4 28.8l-1.4 1.0M241.4 28.8l-0.6 -1.6M244.0 29.4l-1.3 1.0M244.0 29.4l-0.7 -1.6M248.4 30.4l0.0 1.7M248.4 30.4l-1.7 -0.4M256.5 30.0l1.2 -1.2M256.5 30.0l0.8 1.5M259.1 27.8l-1.5 0.9M259.1 27.8l-0.5 -1.6M263.1 29.4l-0.7 1.6M263.1 29.4l-1.4 -1.0M270.1 27.7l-1.1 1.3M270.1 27.7l-1.0 -1.4M275.4 28.3l-0.8 -1.5M275.4 28.3l1.6 -0.4M279.3 27.6l0.1 1.7M279.3 27.6l-1.7 -0.3M284.4 28.1l-1.7 0.0M284.4 28.1l0.4 -1.7M289.5 30.6l1.3 -1.1M289.5 30.6l0.7 1.5M291.5 28.0l-1.6 -0.5M291.5 28.0l0.9 -1.5M297.4 30.1l0.5 -1.6M297.4 30.1l1.5 0.9M302.0 28.0l1.7 -0.2M302.0 28.0l-0.2 1.7M305.4 30.3l1.6 0.6M305.4 30.3l-1.0 1.4M313.2 30.0l-1.7 0.1M313.2 30.0l0.3 -1.7M316.3 28.8l-1.1 1.3M316.3 28.8l-0.9 -1.4M203.0 33.9l1.6 0.5M203.0 33.9l-0.9 1.4M209.1 33.6l1.0 1.3M209.1 33.6l-1.6 0.7M214.3 33.4l-0.1 -1.7M214.3 33.4l1.7 0.3M217.0 34.0l-0.2 1.7M217.0 34.0l-1.6 -0.6M223.4 33.9l-1.2 1.2M223.4 33.9l-0.9 -1.5M227.5 33.8l-0.0 1.7M227.5 33.8l-1.6 -0.4M232.9 34.1l1.2 1.2M232.9 34.1l-1.5 0.8M236.0 35.3l-1.3 1.1M236.0 35.3l-0.7 -1.5M242.9 32.4l1.5 0.8M242.9 32.4l-1.2 1.2M246.2 34.6l-1.5 0.7M246.2 34.6l-0.3 -1.7M250.2 35.2l1.0 -1.4M250.2 35.2l1.1 1.3M256.7 34.8l-1.2 -1.2M256.7 34.8l1.4 -0.9M259.9 32.4l-1.6 -0.5M259.9 32.4l0.8 -1.5M266.1 34.7l1.6 -0.5M266.1 34.7l0.1 1.7M268.9 35.0l-0.9 1.4M268.9 35.0l-1.1 -1.3M276.3 32.8l-1.5 -0.9M276.3 32.8l1.2 -1.2M279.0 35.1l0.4 -1.7M279.0 35.1l1.5 0.8M284.0 33.1l-1.5 -0.8M284.0 33.1l1.1 -1.3M291.1 32.1l-0.1 1.7M291.1 32.1l-1.6 -0.6M295.2 32.9l1.4 -0.9M295.2 32.9l0.5 1.6M298.0 33.3l0.9 -1.5M298.0 33.3l1.2 1.2M305.3 34.9l0.5 -1.6M305.3 34.9l1.4 0.9M309.5 34.2l0.3 1.7M309.5 34.2l-1.7 -0.1M313.8 32.2l-0.6 -1.6M313.8 32.2l1.7 -0.1M203.9 37.9l-0.7 1.6M203.9 37.9l-1.3 -1.0M208.6 37.4l-1.2 -1.2M208.6 37.4l1.4 -0.9M213.1 37.2l-1.2 -1.2M213.1 37.2l1.5 -0.8M217.3 38.6l-1.6 -0.7M217.3 38.6l1.0 -1.3M223.2 38.5l-0.7 -1.5M223.2 38.5l1.7 -0.3M227.8 38.0l-1.4 0.9M227.8 38.0l-0.5 -1.6M232.7 38.0l0.8 1.5M232.7 38.0l-1.7 0.4M235.9 38.2l1.5 -0.8M235.9 38.2l0.4 1.7M242.8 36.8l-0.7 -1.6M242.8 36.8l1.7 -0.3M246.3 40.1l-0.8 -1.5M246.3 40.1l1.7 -0.4M251.8 36.9l1.4 -1.0M251.8 36.9l0.6 1.6M255.1 37.5l1.0 -1.4M255.1 37.5l1.1 1.3M260.2 37.7l-1.7 0.1M260.2 37.7l0.3 -1.7M265.9 38.2l1.1 1.3M265.9 38.2l-1.5 0.8M270.9 37.4l-1.2 1.2M270.9 37.4l-0.9 -1.5M274.0 39.4l-1.6 0.6M274.0 39.4l-0.2 -1.7M280.2 39.4l-0.1 -1.7M280.2 39.4l1.7 0.4M283.4 37.6l-1.7 -0.0M283.4 37.6l0.4 -1.6M288.4 37.4l-0.3 -1.7M288.4 37.4l1.7 0.1M295.0 37.3l-1.7 0.2M295.0 37.3l0.2 -1.7M298.3 37.8l0.8 -1.5M298.3 37.8l1.2 1.2M301.2 38.0l-1.7 -0.2M301.2 38.0l0.6 -1.6M308.3 39.1l-1.0 -1.4M308.3 39.1l1.6 -0.6M313.7 39.0l1.7 0.4M313.7 39.0l-0.8 1.5M315.6 38.1l0.3 -1.7M315.6 38.1l1.5 0.7M205.0 43.5l1.6 0.5M205.0 43.5l-0.9 1.5M208.9 42.6l0.1 1.7M208.9 42.6l-1.7 -0.3M213.7 42.2l0.9 -1.5M213.7 42.2l1.2 1.2M218.1 41.7l1.3 -1.1M218.1 41.7l0.7 1.5M225.5 44.3l0.6 1.6M225.5 44.3l-1.7 0.2M226.9 42.4l-1.5 -0.9M226.9 42.4l1.2 -1.2M232.5 43.8l-1.3 -1.1M232.5 43.8l1.4 -1.0M237.4 43.1l-0.2 1.7M237.4 43.1l-1.6 -0.6M244.2 43.3l0.4 -1.6M244.2 43.3l1.5 0.8M246.3 44.0l-1.0 1.4M246.3 44.0l-1.1 -1.3M252.8 43.4l1.6 -0.4M252.8 43.4l0.0 1.7M258.8 42.1l0.9 1.4M258.8 42.1l-1.6 0.6M260.7 42.8l1.0 -1.4M260.7 42.8l1.1 1.3M266.5 42.7l-0.0 -1.7M266.5 42.7l1.7 0.4M271.7 43.3l1.0 1.4M271.7 43.3l-1.6 0.6M276.9 42.1l1.5 0.8M276.9 42.1l-1.2 1.2M280.9 44.8l1.0 1.4M280.9 44.8l-1.6 0.6M285.0 41.6l-0.3 1.7M285.0 41.6l-1.5 -0.7M289.1 42.7l1.0 -1.4M289.1 42.7l1.1 1.3M296.6 43.9l-1.2 -1.2M296.6 43.9l1.4 -0.9M300.8 41.7l1.3 -1.1M300.8 41.7l0.8 1.5M305.4 43.4l-0.1 1.7M305.4 43.4l-1.6 -0.5M310.8 42.1l1.7 0.1M310.8 42.1l-0.5 1.6M312.8 41.7l1.6 0.5M312.8 41.7l-0.9 1.4M203.9 47.5l1.0 1.4M203.9 47.5l-1.6 0.7M210.2 46.8l-0.7 1.6M210.2 46.8l-1.3 -1.0M212.1 46.3l1.2 -1.2M212.1 46.3l0.8 1.5M218.9 47.9l0.6 1.6M218.9 47.9l-1.7 0.2M222.3 48.0l1.0 1.4M222.3 48.0l-1.6 0.7M226.1 48.5l1.5 0.9M226.1 48.5l-1.2 1.2M232.9 49.6l-0.9 1.4M232.9 49.6l-1.2 -1.2M238.5 46.7l-0.3 1.7M238.5 46.7l-1.5 -0.7M243.2 47.5l-1.7 0.2M243.2 47.5l0.2 -1.7M246.1 46.6l-0.1 1.7M246.1 46.6l-1.6 -0.6M251.5 49.4l-1.7 0.4M251.5 49.4l0.0 -1.7M254.8 48.2l-1.7 -0.1M254.8 48.2l0.5 -1.6M261.4 48.6l1.5 0.9M261.4 48.6l-1.2 1.2M264.1 47.2l0.4 1.6M264.1 47.2l-1.7 0.0M270.8 47.7l-1.4 -1.0M270.8 47.7l1.3 -1.1M274.5 47.7l0.8 -1.5M274.5 47.7l1.2 1.2M279.4 48.8l-0.9 1.5M279.4 48.8l-1.2 -1.2M284.1 48.3l-1.7 0.2M284.1 48.3l0.3 -1.7M288.4 48.1l-1.6 -0.7M288.4 48.1l1.0 -1.4M293.1 48.2l0.4 -1.7M293.1 48.2l1.5 0.7M299.8 48.9l-1.5 -0.7M299.8 48.9l1.1 -1.3M302.5 46.5l-0.7 -1.6M302.5 46.5l1.7 -0.3M307.7 48.6l-1.6 -0.6M307.7 48.6l0.9 -1.4M312.1 49.6l0.0 1.7M312.1 49.6l-1.7 -0.4M206.1 53.5l0.3 1.7M206.1 53.5l-1.7 -0.1M208.7 52.3l1.3 -1.1M208.7 52.3l0.8 1.5M212.4 51.9l-0.1 -1.7M212.4 51.9l1.7 0.3M218.2 53.4l-1.6 -0.6M218.2 53.4l1.0 -1.4M223.0 53.2l0.6 1.6M223.0 53.2l-1.7 0.2M226.6 52.8l1.1 -1.3M226.6 52.8l1.0 1.4M234.3 53.1l0.4 1.6M234.3 53.1l-1.7 0.0M237.9 52.8l-1.6 0.6M237.9 52.8l-0.2 -1.7M240.9 51.7l0.5 -1.6M240.9 51.7l1.4 0.9M247.2 53.4l-0.7 1.5M247.2 53.4l-1.3 -1.1M252.8 51.4l1.1 -1.3M252.8 51.4l0.9 1.4M256.9 53.6l1.7 0.2M256.9 53.6l-0.6 1.6M262.8 52.8l1.6 0.6M262.8 52.8l-1.0 1.4M264.7 52.3l1.3 1.1M264.7 52.3l-1.4 0.9M271.1 53.9l-1.0 1.4M271.1 53.9l-1.1 -1.3M274.6 52.0l-1.5 0.9M274.6 52.0l-0.5 -1.6M281.9 53.6l-1.7 -0.3M281.9 53.6l0.7 -1.5M283.6 54.0l-1.7 0.3M283.6 54.0l0.1 -1.7M290.0 54.3l0.9 -1.4M290.0 54.3l1.2 1.2M294.2 52.5l1.7 0.1M294.2 52.5l-0.5 1.6M298.7 54.0l-1.6 -0.5M298.7 54.0l0.8 -1.5M303.1 53.1l-1.2 1.2M303.1 53.1l-0.9 -1.4M309.5 51.3l-1.7 0.1M309.5 51.3l0.3 -1.7M315.2 53.5l0.8 -1.5M315.2 53.5l1.2 1.2M204.9 56.3l0.3 -1.7M204.9 56.3l1.6 0.7M209.2 58.7l1.7 -0.1M209.2 58.7l-0.4 1.7M212.8 58.5l1.7 -0.1M212.8 58.5l-0.3 1.7M217.0 58.9l-1.4 1.0M217.0 58.9l-0.6 -1.6M224.3 57.2l1.6 -0.7M224.3 57.2l0.3 1.7M229.0 56.6l-1.4 0.9M229.0 56.6l-0.5 -1.6M233.4 57.5l1.6 0.5M233.4 57.5l-0.8 1.5M237.9 57.9l1.7 0.2M237.9 57.9l-0.6 1.6M240.4 58.4l-1.5 0.8M240.4 58.4l-0.4 -1.6M245.7 56.8l1.5 -0.9M245.7 56.8l0.5 1.6M251.2 56.3l-1.0 1.4M251.2 56.3l-1.1 -1.3M255.1 58.4l0.1 -1.7M255.1 58.4l1.6 0.5M260.5 59.2l-1.1 -1.3M260.5 59.2l1.5 -0.7M265.8 59.1l-1.4 0.9M265.8 59.1l-0.5 -1.6M269.9 56.4l1.1 1.3M269.9 56.4l-1.6 0.7M273.8 56.0l1.2 1.2M273.8 56.0l-1.5 0.9M280.6 58.8l1.4 -1.0M280.6 58.8l0.6 1.6M283.8 58.6l-1.2 -1.2M283.8 58.6l1.4 -0.9M288.0 56.8l-0.0 1.7M288.0 56.8l-1.6 -0.4M293.6 56.3l-0.4 1.7M293.6 56.3l-1.5 -0.8M297.9 56.8l-1.3 1.1M297.9 56.8l-0.8 -1.5M302.0 56.8l1.7 0.2M302.0 56.8l-0.6 1.6M307.9 56.2l-1.7 -0.3M307.9 56.2l0.7 -1.5M312.8 56.4l-1.7 0.0M312.8 56.4l0.4 -1.7M203.4 60.7l1.3 1.1M203.4 60.7l-1.4 0.9M208.6 63.0l-1.0 1.4M208.6 63.0l-1.1 -1.3M215.6 60.8l-0.0 1.7M215.6 60.8l-1.6 -0.5M220.8 60.8l-0.4 -1.7M220.8 60.8l1.7 0.0M222.6 63.8l-1.7 0.3M222.6 63.8l0.1 -1.7M228.9 62.6l0.6 -1.6M228.9 62.6l1.4 1.0M233.7 62.8l0.8 1.5M233.7 62.8l-1.7 0.4M238.6 63.6l-0.8 1.5M238.6 63.6l-1.2 -1.2M242.5 61.7l1.7 -0.3M242.5 61.7l-0.2 1.7M249.3 63.9l1.7 -0.2M249.3 63.9l-0.2 1.7M252.2 61.7l-1.0 1.3M252.2 61.7l-1.1 -1.3M255.8 60.8l-0.2 1.7M255.8 60.8l-1.6 -0.6M262.4 60.9l1.5 -0.9M262.4 60.9l0.5 1.6M265.5 61.7l1.2 -1.2M265.5 61.7l0.9 1.5M270.0 61.7l-0.8 1.5M270.0 61.7l-1.3 -1.1M276.4 62.0l1.6 -0.5M276.4 62.0l0.1 1.7M280.3 63.9l1.7 -0.0M280.3 63.9l-0.4 1.6M285.3 63.3l0.4 1.6M285.3 63.3l-1.7 -0.0M291.1 61.5l0.2 1.7M291.1 61.5l-1.7 -0.2M294.1 62.1l0.8 -1.5M294.1 62.1l1.2 1.2M299.5 62.2l-1.7 -0.4M299.5 62.2l0.8 -1.5M305.3 61.6l0.2 -1.7M305.3 61.6l1.6 0.6M310.1 62.1l-0.4 -1.6M310.1 62.1l1.7 -0.0M314.7 62.4l-1.7 0.3M314.7 62.4l0.1 -1.7M206.9 66.3l1.2 -1.2M206.9 66.3l0.9 1.5M212.0 66.6l1.7 0.4M212.0 66.6l-0.8 1.5M215.4 66.7l0.8 1.5M215.4 66.7l-1.6 0.4M219.1 66.4l1.7 -0.3M219.1 66.4l-0.1 1.7M224.8 68.3l1.5 0.9M224.8 68.3l-1.2 1.2M229.5 67.4l-0.0 1.7M229.5 67.4l-1.6 -0.4M233.6 66.0l1.5 0.8M233.6 66.0l-1.1 1.3M240.9 66.0l-1.6 0.4M240.9 66.0l-0.0 -1.7M243.0 68.5l0.2 1.7M243.0 68.5l-1.7 -0.2M249.6 68.1l0.5 -1.6M249.6 68.1l1.4 0.9M255.5 67.6l1.6 0.7M255.5 67.6l-1.0 1.4M259.3 67.7l-0.6 -1.6M259.3 67.7l1.7 -0.2M262.3 66.9l1.7 -0.4M262.3 66.9l-0.0 1.7M269.4 65.7l-0.5 1.6M269.4 65.7l-1.4 -0.9M272.2 66.9l-1.4 1.0M272.2 66.9l-0.6 -1.6M278.1 68.5l1.7 -0.1M278.1 68.5l-0.3 1.7M281.6 66.7l0.6 -1.6M281.6 66.7l1.4 1.0M285.7 67.5l0.6 -1.6M285.7 67.5l1.4 1.0M290.7 67.1l1.4 -0.9M290.7 67.1l0.5 1.6M297.9 65.7l-1.4 -0.9M297.9 65.7l1.2 -1.2M301.9 67.3l-1.7 0.2M301.9 67.3l0.3 -1.7M306.0 68.0l1.6 0.6M306.0 68.0l-0.9 1.4M311.3 66.8l-1.0 1.4M311.3 66.8l-1.1 -1.3M317.3 67.8l-1.3 1.1M317.3 67.8l-0.7 -1.5M203.0 70.2l1.0 -1.4M203.0 70.2l1.1 1.3M209.4 73.0l-1.7 -0.0M209.4 73.0l0.5 -1.6M214.3 72.5l1.7 -0.2M214.3 72.5l-0.3 1.7M219.7 71.2l-0.8 -1.5M219.7 71.2l1.7 -0.4M224.3 71.1l1.7 -0.3M224.3 71.1l-0.2 1.7M228.1 72.2l-1.7 -0.4M228.1 72.2l0.8 -1.5M233.4 73.1l-0.1 -1.7M233.4 73.1l1.7 0.4M238.2 73.0l0.2 -1.7M238.2 73.0l1.6 0.6M242.6 73.4l-1.6 -0.6M242.6 73.4l0.9 -1.4M245.5 71.0l-1.3 -1.1M245.5 71.0l1.4 -1.0M253.1 73.0l1.2 1.2M253.1 73.0l-1.4 0.9M256.2 70.8l1.7 -0.4M256.2 70.8l-0.1 1.7M260.0 73.4l-1.7 0.3M260.0 73.4l0.2 -1.7M265.4 70.9l1.5 0.8M265.4 70.9l-1.1 1.3M270.3 71.8l-1.5 0.9M270.3 71.8l-0.5 -1.6M277.2 73.4l0.2 -1.7M277.2 73.4l1.6 0.6M280.6 72.0l1.4 -0.9M280.6 72.0l0.6 1.6M285.7 71.2l0.1 1.7M285.7 71.2l-1.7 -0.3M289.7 71.4l-1.7 -0.4M289.7 71.4l0.8 -1.5M296.1 71.6l-1.6 0.6M296.1 71.6l-0.2 -1.7M297.8 71.5l-1.5 0.7M297.8 71.5l-0.3 -1.7M303.0 73.4l1.0 1.4M303.0 73.4l-1.6 0.6M310.0 71.9l0.4 1.6M310.0 71.9l-1.7 0.0M314.8 71.3l-1.7 -0.3M314.8 71.3l0.7 -1.6M202.8 77.7l-1.2 1.2M202.8 77.7l-0.9 -1.4M208.3 78.2l-1.2 -1.2M208.3 78.2l1.5 -0.9M214.1 75.4l-0.9 -1.4M214.1 75.4l1.6 -0.5M218.5 77.4l-1.7 0.3M218.5 77.4l0.1 -1.7M222.8 76.3l-1.3 1.0M222.8 76.3l-0.7 -1.6M225.9 77.5l-1.3 -1.1M225.9 77.5l1.4 -1.0M231.4 77.2l-1.7 0.0M231.4 77.2l0.4 -1.7M235.5 75.9l-0.2 1.7M235.5 75.9l-1.6 -0.6M241.1 78.1l0.7 1.5M241.1 78.1l-1.7 0.3M244.4 76.5l1.4 1.0M244.4 76.5l-1.3 1.1M250.6 75.5l-0.8 -1.5M250.6 75.5l1.7 -0.4M255.0 77.6l-0.2 -1.7M255.0 77.6l1.7 0.2M260.0 77.0l-1.7 0.3M260.0 77.0l0.1 -1.7M264.4 78.1l-1.7 0.3M264.4 78.1l0.1 -1.7M268.4 77.0l-0.8 1.5M268.4 77.0l-1.3 -1.1M275.4 77.9l1.7 -0.3M275.4 77.9l-0.1 1.7M278.8 76.0l0.9 1.4M278.8 76.0l-1.6 0.6M282.7 74.9l-1.6 0.5M282.7 74.9l-0.1 -1.7M289.1 77.6l-1.4 -0.9M289.1 77.6l1.2 -1.2M294.4 77.9l-1.2 -1.2M294.4 77.9l1.5 -0.8M299.7 75.9l1.5 -0.8M299.7 75.9l0.4 1.7M302.6 76.4l-1.6 -0.5M302.6 76.4l0.9 -1.5M308.9 76.6l0.1 -1.7M308.9 76.6l1.6 0.5M310.9 77.5l0.4 1.6M310.9 77.5l-1.7 0.0M206.1 82.4l1.1 -1.3M206.1 82.4l1.0 1.4M208.8 81.0l1.7 0.4M208.8 81.0l-0.8 1.5M214.7 82.0l-0.1 1.7M214.7 82.0l-1.6 -0.5M220.6 82.6l-0.1 -1.7M220.6 82.6l1.7 0.3M225.3 80.3l0.4 1.7M225.3 80.3l-1.7 -0.0M228.1 81.7l-0.7 -1.5M228.1 81.7l1.7 -0.3M234.1 82.1l0.6 -1.6M234.1 82.1l1.4 1.0M237.4 81.5l1.0 -1.4M237.4 81.5l1.1 1.3M244.9 82.3l-0.5 -1.6M244.9 82.3l1.7 -0.1M249.7 81.7l-0.0 1.7M249.7 81.7l-1.6 -0.4M253.7 79.8l1.7 -0.2M253.7 79.8l-0.2 1.7M256.4 81.3l1.7 0.0M256.4 81.3l-0.4 1.6M263.0 82.7l-1.3 -1.0M263.0 82.7l1.3 -1.0M266.6 81.3l-1.7 -0.2M266.6 81.3l0.6 -1.6M273.0 81.3l1.0 1.4M273.0 81.3l-1.6 0.6M277.0 82.9l-1.6 -0.5M277.0 82.9l0.9 -1.4M283.3 79.8l-1.6 -0.5M283.3 79.8l0.9 -1.4M288.1 81.4l-1.3 -1.1M288.1 81.4l1.4 -1.0M291.1 80.5l-0.6 -1.6M291.1 80.5l1.7 -0.2M296.7 82.6l1.1 1.3M296.7 82.6l-1.5 0.8M300.3 79.9l0.1 -1.7M300.3 79.9l1.6 0.5M304.8 81.1l-0.3 -1.7M304.8 81.1l1.7 0.1M311.1 81.7l-0.4 1.6M311.1 81.7l-1.5 -0.8M315.5 82.6l0.2 1.7M315.5 82.6l-1.7 -0.2M204.3 87.1l-0.8 -1.5M204.3 87.1l1.6 -0.4M207.1 85.1l-1.4 -1.0M207.1 85.1l1.3 -1.1M211.5 86.9l-1.4 1.0M211.5 86.9l-0.6 -1.6M218.4 84.4l-1.3 -1.1M218.4 84.4l1.4 -1.0M224.2 85.3l1.5 0.7M224.2 85.3l-1.1 1.3M226.8 87.3l-1.5 0.7M226.8 87.3l-0.3 -1.7M233.2 85.1l1.4 -1.0M233.2 85.1l0.7 1.6M235.4 85.2l1.2 1.2M235.4 85.2l-1.4 0.9M240.8 85.8l1.2 -1.2M240.8 85.8l0.9 1.5M245.0 85.5l1.1 1.3M245.0 85.5l-1.5 0.8M250.4 84.8l-1.6 0.7M250.4 84.8l-0.3 -1.7M257.4 86.6l1.0 -1.3M257.4 86.6l1.0 1.3M261.9 86.0l1.7 0.3M261.9 86.0l-0.7 1.5M264.6 85.4l-1.3 -1.1M264.6 85.4l1.4 -1.0M269.1 86.8l1.4 0.9M269.1 86.8l-1.2 1.2M276.0 85.1l0.5 -1.6M276.0 85.1l1.5 0.9M278.3 86.0l0.2 -1.7M278.3 86.0l1.6 0.6M285.4 84.5l0.5 -1.6M285.4 84.5l1.5 0.9M290.3 87.0l-1.6 -0.5M290.3 87.0l0.9 -1.5M293.8 87.5l-1.4 -1.0M293.8 87.5l1.3 -1.1M299.7 86.3l-1.7 0.1M299.7 86.3l0.3 -1.7M302.9 86.8l1.0 1.4M302.9 86.8l-1.6 0.6M308.8 84.4l0.4 1.6M308.8 84.4l-1.7 -0.0M312.2 85.5l0.4 -1.7M312.2 85.5l1.5 0.8M204.4 92.1l0.6 1.6M204.4 92.1l-1.7 0.2M210.3 90.4l-0.9 1.5M210.3 90.4l-1.2 -1.2M212.5 89.2l-1.5 -0.8M212.5 89.2l1.1 -1.3M217.4 91.0l1.7 -0.1M217.4 91.0l-0.3 1.7M223.0 92.0l-1.4 1.0M223.0 92.0l-0.6 -1.6M228.1 90.5l-1.3 1.1M228.1 90.5l-0.8 -1.5M230.7 90.5l-1.0 1.4M230.7 90.5l-1.1 -1.3M236.4 91.9l-1.7 -0.2M236.4 91.9l0.6 -1.6M242.7 90.3l-1.7 -0.0M242.7 90.3l0.4 -1.6M247.0 89.1l-0.2 1.7M247.0 89.1l-1.6 -0.7M252.2 92.1l0.6 1.6M252.2 92.1l-1.7 0.1M257.5 92.1l1.6 0.6M257.5 92.1l-1.0 1.4M259.8 91.9l1.4 -0.9M259.8 91.9l0.6 1.6M265.9 89.1l0.7 -1.5M265.9 89.1l1.3 1.1M269.5 91.6l-1.6 0.5M269.5 91.6l-0.1 -1.7M274.8 89.9l1.7 0.3M274.8 89.9l-0.7 1.5M279.3 90.5l-1.4 0.9M279.3 90.5l-0.5 -1.6M285.6 90.5l1.3 -1.0M285.6 90.5l0.7 1.6M290.7 91.5l0.9 1.5M290.7 91.5l-1.6 0.5M294.1 92.4l-1.0 1.4M294.1 92.4l-1.1 -1.3M298.1 91.6l1.7 0.4M298.1 91.6l-0.8 1.5M303.5 90.2l0.8 1.5M303.5 90.2l-1.6 0.4M307.0 90.3l1.6 0.6M307.0 90.3l-0.9 1.4M314.8 89.5l-0.7 1.6M314.8 89.5l-1.4 -1.0M204.5 95.1l-0.2 -1.7M204.5 95.1l1.7 0.2M207.7 94.9l-0.5 -1.6M207.7 94.9l1.7 -0.1M213.9 96.1l-1.7 -0.4M213.9 96.1l0.8 -1.5M219.0 94.0l1.6 0.6M219.0 94.0l-0.9 1.4M223.7 94.5l-1.7 0.3M223.7 94.5l0.1 -1.7M229.6 95.6l-0.2 1.7M229.6 95.6l-1.6 -0.6M231.3 95.4l-1.6 -0.6M231.3 95.4l0.9 -1.4M237.3 95.0l0.2 1.7M237.3 95.0l-1.7 -0.2M242.4 96.7l0.2 1.7M242.4 96.7l-1.7 -0.2M247.5 96.0l-1.7 -0.2M247.5 96.0l0.6 -1.6M251.0 95.7l1.5 -0.8M251.0 95.7l0.4 1.7M257.4 94.6l-1.7 0.0M257.4 94.6l0.4 -1.7M262.6 96.5l-1.5 -0.8M262.6 96.5l1.2 -1.2M265.6 94.6l-0.8 -1.5M265.6 94.6l1.6 -0.4M269.5 95.8l-1.6 0.6M269.5 95.8l-0.1 -1.7M276.8 95.9l-0.2 -1.7M276.8 95.9l1.7 0.2M279.2 94.3l-1.1 -1.3M279.2 94.3l1.5 -0.7M284.9 95.6l1.7 0.4M284.9 95.6l-0.8 1.5M291.1 94.4l1.7 -0.2M291.1 94.4l-0.2 1.7M294.5 96.5l-1.1 -1.3M294.5 96.5l1.5 -0.8M298.2 94.3l-1.6 0.6M298.2 94.3l-0.2 -1.7M304.9 94.1l-0.4 -1.6M304.9 94.1l1.7 -0.0M308.6 96.1l-0.9 1.5M308.6 96.1l-1.2 -1.2M312.7 96.3l-1.7 -0.1M312.7 96.3l0.5 -1.6M207.1 99.0l-1.5 0.7M207.1 99.0l-0.3 -1.7M212.2 100.5l1.6 0.4M212.2 100.5l-0.8 1.5M217.4 100.8l-0.5 1.6M217.4 100.8l-1.5 -0.9M222.0 100.9l-1.1 -1.3M222.0 100.9l1.5 -0.8M226.1 101.1l0.7 1.5M226.1 101.1l-1.7 0.3M229.2 101.2l1.6 0.6M229.2 101.2l-1.0 1.4M237.2 100.4l0.7 1.5M237.2 100.4l-1.7 0.3M241.1 100.1l-0.9 1.4M241.1 100.1l-1.2 -1.2M245.0 99.4l-1.7 0.0M245.0 99.4l0.4 -1.7M248.8 100.9l0.2 1.7M248.8 100.9l-1.7 -0.2M255.8 100.3l1.4 -1.0M255.8 100.3l0.6 1.6M260.0 99.3l1.6 -0.4M260.0 99.3l0.0 1.7M262.7 101.4l0.8 1.5M262.7 101.4l-1.7 0.4M268.0 99.0l-1.7 0.3M268.0 99.0l0.1 -1.7M271.9 101.1l1.4 -0.9M271.9 101.1l0.5 1.6M279.5 98.8l0.1 1.7M279.5 98.8l-1.7 -0.4M282.8 100.1l1.6 0.7M282.8 100.1l-1.0 1.3M289.1 99.0l-0.3 1.7M289.1 99.0l-1.5 -0.7M293.7 101.5l-0.7 -1.5M293.7 101.5l1.7 -0.3M296.1 101.8l-0.3 1.7M296.1 101.8l-1.6 -0.7M301.1 100.5l-1.5 -0.7M301.1 100.5l1.1 -1.3M307.7 101.2l0.5 1.6M307.7 101.2l-1.7 0.1M311.9 101.2l0.6 1.6M311.9 101.2l-1.7 0.2M314.9 101.6l-0.1 -1.7M314.9 101.6l1.7 0.3M205.1 105.3l-1.4 -0.9M205.1 105.3l1.2 -1.2M209.9 105.5l-0.8 -1.5M209.9 105.5l1.7 -0.4M215.6 106.7l0.2 -1.7M215.6 106.7l1.6 0.6M218.3 103.8l-0.3 1.7M218.3 103.8l-1.6 -0.7M225.1 105.1l-1.4 -1.0M225.1 105.1l1.3 -1.1M229.0 104.2l-1.7 0.3M229.0 104.2l0.1 -1.7M231.8 104.2l-1.6 -0.6M231.8 104.2l1.0 -1.4M236.5 106.5l-1.5 0.9M236.5 106.5l-0.5 -1.6M243.5 106.3l-1.4 -1.0M243.5 106.3l1.3 -1.1M247.4 105.8l-1.7 -0.1M247.4 105.8l0.5 -1.6M252.6 105.5l-0.7 -1.5M252.6 105.5l1.7 -0.3M255.6 103.7l-1.2 -1.2M255.6 103.7l1.4 -0.9M261.3 103.6l0.8 -1.5M261.3 103.6l1.2 1.2M265.6 105.7l1.6 -0.7M265.6 105.7l0.3 1.7M269.8 105.6l1.5 0.8M269.8 105.6l-1.1 1.3M276.6 105.2l0.8 1.5M276.6 105.2l-1.6 0.4M279.0 105.9l-0.2 -1.7M279.0 105.9l1.7 0.3M284.1 104.8l-1.2 -1.2M284.1 104.8l1.5 -0.8M291.0 103.4l1.1 1.3M291.0 103.4l-1.5 0.8M295.8 104.3l-0.2 -1.7M295.8 104.3l1.7 0.3M298.1 103.6l-0.9 -1.5M298.1 103.6l1.6 -0.5M306.0 105.1l-1.3 -1.1M306.0 105.1l1.4 -1.0M308.7 105.8l-1.0 1.4M308.7 105.8l-1.1 -1.3M314.9 105.0l-1.2 1.2M314.9 105.0l-0.9 -1.4M207.6 111.1l-0.1 -1.7M207.6 111.1l1.7 0.3M211.6 108.6l1.3 -1.1M211.6 108.6l0.8 1.5M214.6 110.4l-1.7 0.2M214.6 110.4l0.2 -1.7M221.5 110.9l0.5 1.6M221.5 110.9l-1.7 0.1M226.9 109.1l0.9 1.5M226.9 109.1l-1.6 0.5M229.1 109.1l-1.6 0.7M229.1 109.1l-0.3 -1.7M233.9 110.4l-1.5 0.7M233.9 110.4l-0.3 -1.7M241.0 111.4l-1.7 -0.1M241.0 111.4l0.5 -1.6M242.9 109.2l0.4 1.6M242.9 109.2l-1.7 0.0M250.1 108.8l0.6 -1.6M250.1 108.8l1.4 1.0M252.9 108.3l0.7 1.6M252.9 108.3l-1.7 0.3M258.1 109.5l1.5 -0.8M258.1 109.5l0.5 1.6M261.8 109.3l1.2 1.2M261.8 109.3l-1.4 0.9M269.4 108.0l0.4 1.7M269.4 108.0l-1.7 -0.0M272.5 108.3l0.8 1.5M272.5 108.3l-1.7 0.4M277.8 109.9l-0.7 -1.5M277.8 109.9l1.7 -0.3M283.4 111.0l1.6 0.6M283.4 111.0l-0.9 1.4M285.6 108.4l-1.4 0.9M285.6 108.4l-0.5 -1.6M292.9 110.1l1.7 0.1M292.9 110.1l-0.5 1.6M296.6 110.3l0.7 1.5M296.6 110.3l-1.7 0.3M300.9 110.6l-1.5 0.8M300.9 110.6l-0.4 -1.7M306.2 110.3l-0.5 1.6M306.2 110.3l-1.5 -0.9M310.1 110.6l1.5 -0.7M310.1 110.6l0.3 1.7M315.8 108.9l-1.1 -1.3M315.8 108.9l1.5 -0.8M207.2 113.1l1.7 0.3M207.2 113.1l-0.7 1.6M212.5 113.9l-0.1 1.7M212.5 113.9l-1.6 -0.5M214.4 114.3l-0.3 1.7M214.4 114.3l-1.6 -0.7M219.9 115.7l0.8 1.5M219.9 115.7l-1.6 0.4M223.6 115.6l-1.6 -0.5M223.6 115.6l0.9 -1.5M230.4 114.1l-0.5 -1.6M230.4 114.1l1.7 -0.1M234.5 114.4l-0.4 1.7M234.5 114.4l-1.5 -0.8M238.0 113.3l-1.6 0.5M238.0 113.3l-0.0 -1.7M245.7 114.6l1.6 0.6M245.7 114.6l-1.0 1.4M248.9 113.5l-1.6 -0.7M248.9 113.5l1.0 -1.3M253.4 113.4l-0.8 -1.5M253.4 113.4l1.7 -0.4M260.0 116.1l-0.5 -1.6M260.0 116.1l1.7 -0.1M262.4 113.5l-1.1 -1.3M262.4 113.5l1.5 -0.8M267.5 116.1l-1.6 0.6M267.5 116.1l-0.2 -1.7M272.1 114.1l1.5 -0.9M272.1 114.1l0.5 1.6M278.1 115.0l0.7 1.6M278.1 115.0l-1.7 0.3M280.5 113.7l1.3 1.1M280.5 113.7l-1.4 1.0M286.9 113.8l-0.1 1.7M286.9 113.8l-1.6 -0.5M291.4 113.0l-1.4 1.0M291.4 113.0l-0.6 -1.6M294.7 113.1l-0.5 -1.6M294.7 113.1l1.7 -0.1M299.9 114.7l1.7 0.1M299.9 114.7l-0.5 1.6M304.9 113.0l-0.6 1.6M304.9 113.0l-1.4 -1.0M312.0 114.8l0.6 1.6M312.0 114.8l-1.7 0.2M313.8 115.5l-1.4 0.9M313.8 115.5l-0.5 -1.6M203.1 118.8l0.5 -1.6M203.1 118.8l1.5 0.8M210.2 120.8l0.4 -1.7M210.2 120.8l1.5 0.8M214.6 119.2l1.5 0.7M214.6 119.2l-1.1 1.3M217.6 120.9l1.3 1.1M217.6 120.9l-1.4 1.0M223.1 118.3l-1.6 0.6M223.1 118.3l-0.2 -1.7M226.9 118.2l-0.9 1.5M226.9 118.2l-1.2 -1.2M232.6 120.4l-0.8 1.5M232.6 120.4l-1.3 -1.1M237.4 117.8l-0.6 -1.6M237.4 117.8l1.7 -0.2M241.9 120.6l1.7 -0.4M241.9 120.6l-0.0 1.7M246.0 117.6l1.6 -0.5M246.0 117.6l0.1 1.7M252.1 120.2l-0.4 -1.7M252.1 120.2l1.7 0.1M256.2 118.6l-1.0 -1.4M256.2 118.6l1.6 -0.6M260.5 117.8l-1.5 -0.8M260.5 117.8l1.2 -1.2M266.6 119.7l-1.7 -0.3M266.6 119.7l0.7 -1.5M270.3 119.9l0.6 -1.6M270.3 119.9l1.4 1.0M276.5 118.8l1.6 -0.6M276.5 118.8l0.2 1.7M279.7 118.9l0.3 1.7M279.7 118.9l-1.7 -0.1M284.2 120.5l-0.8 1.5M284.2 120.5l-1.3 -1.1M289.6 117.9l0.5 1.6M289.6 117.9l-1.7 0.1M295.1 119.7l-0.4 1.7M295.1 119.7l-1.5 -0.8M299.8 120.0l0.9 1.5M299.8 120.0l-1.6 0.5M305.0 118.2l1.3 1.1M305.0 118.2l-1.4 1.0M307.2 120.0l0.7 -1.6M307.2 120.0l1.3 1.0M314.3 117.9l1.5 -0.9M314.3 117.9l0.5 1.6M204.1 123.7l-0.1 1.7M204.1 123.7l-1.6 -0.5M209.0 124.1l-0.5 -1.6M209.0 124.1l1.7 -0.1M214.4 124.4l-1.1 1.3M214.4 124.4l-1.0 -1.4M218.9 124.3l1.4 1.0M218.9 124.3l-1.3 1.1M222.4 125.2l1.3 1.1M222.4 125.2l-1.4 0.9M229.9 123.5l-1.3 -1.1M229.9 123.5l1.4 -1.0M231.9 122.8l0.8 -1.5M231.9 122.8l1.3 1.1M236.3 124.6l-1.4 -1.0M236.3 124.6l1.3 -1.1M241.2 125.2l0.3 1.7M241.2 125.2l-1.7 -0.1M245.7 125.3l1.3 1.1M245.7 125.3l-1.4 0.9M252.4 125.1l-1.4 -1.0M252.4 125.1l1.3 -1.1M256.1 125.2l1.7 0.3M256.1 125.2l-0.7 1.5M261.6 125.5l1.6 -0.7M261.6 125.5l0.3 1.7M267.9 123.7l0.5 -1.6M267.9 123.7l1.4 0.9M271.0 125.6l0.4 1.7M271.0 125.6l-1.7 -0.0M277.2 125.3l-1.4 -1.0M277.2 125.3l1.3 -1.1M279.6 122.9l-1.7 0.3M279.6 122.9l0.2 -1.7M285.6 124.0l0.1 -1.7M285.6 124.0l1.6 0.5M288.6 125.3l0.4 1.7M288.6 125.3l-1.7 -0.0M293.2 123.5l-0.7 1.5M293.2 123.5l-1.3 -1.1M300.0 123.4l-0.4 -1.7M300.0 123.4l1.7 0.1M302.7 123.4l-1.5 0.9M302.7 123.4l-0.5 -1.6M309.5 122.9l-1.4 -1.0M309.5 122.9l1.3 -1.1M313.8 123.6l-1.5 -0.9M313.8 123.6l1.2 -1.2M207.5 127.9l-1.5 -0.9M207.5 127.9l1.2 -1.2M210.1 129.0l0.9 1.5M210.1 129.0l-1.6 0.5M216.9 127.9l1.7 -0.1M216.9 127.9l-0.3 1.7M220.3 128.5l-0.4 -1.7M220.3 128.5l1.7 0.1M225.6 128.3l-1.6 -0.4M225.6 128.3l0.8 -1.5M232.0 128.2l-0.0 1.7M232.0 128.2l-1.6 -0.4M234.5 127.3l-0.4 1.7M234.5 127.3l-1.5 -0.8M241.6 130.3l1.3 1.1M241.6 130.3l-1.4 1.0M245.5 129.4l0.8 1.5M245.5 129.4l-1.7 0.4M250.4 130.4l0.7 -1.6M250.4 130.4l1.4 1.0M255.1 127.7l0.9 1.5M255.1 127.7l-1.6 0.5M257.4 130.0l-0.2 1.7M257.4 130.0l-1.6 -0.6M264.8 128.9l-0.4 -1.7M264.8 128.9l1.7 0.1M268.8 127.3l1.2 1.2M268.8 127.3l-1.4 0.9M273.5 129.4l-1.7 0.4M273.5 129.4l0.0 -1.7M278.2 130.4l1.7 -0.3M278.2 130.4l-0.1 1.7M283.2 128.1l-1.1 -1.3M283.2 128.1l1.5 -0.8M287.4 129.5l-0.6 1.6M287.4 129.5l-1.4 -1.0M291.0 128.4l0.6 1.6M291.0 128.4l-1.7 0.2M298.4 129.0l0.6 -1.6M298.4 129.0l1.4 0.9M300.6 128.9l1.5 -0.9M300.6 128.9l0.5 1.6M306.7 127.4l-0.7 -1.5M306.7 127.4l1.7 -0.3M310.7 130.2l-0.1 -1.7M310.7 130.2l1.7 0.4M317.5 127.7l1.5 0.7M317.5 127.7l-1.1 1.3M202.3 132.3l-1.2 1.2M202.3 132.3l-0.9 -1.5M207.3 132.9l1.5 0.8M207.3 132.9l-1.2 1.2M213.1 134.3l1.2 1.2M213.1 134.3l-1.5 0.8M215.7 133.0l-0.6 -1.6M215.7 133.0l1.7 -0.2M220.5 132.2l0.6 1.6M220.5 132.2l-1.7 0.1M227.5 132.2l0.0 -1.7M227.5 132.2l1.6 0.4M229.7 133.9l-1.0 1.4M229.7 133.9l-1.1 -1.3M235.9 132.3l-1.4 -1.0M235.9 132.3l1.3 -1.1M239.9 133.7l-1.2 1.2M239.9 133.7l-0.9 -1.5M246.7 132.0l0.8 -1.5M246.7 132.0l1.3 1.1M248.4 133.4l-1.6 0.5M248.4 133.4l-0.1 -1.7M256.2 134.1l0.3 -1.7M256.2 134.1l1.5 0.7M260.3 133.5l0.5 -1.6M260.3 133.5l1.4 0.9M265.7 132.9l-1.0 1.4M265.7 132.9l-1.1 -1.3M267.8 131.9l1.4 0.9M267.8 131.9l-1.2 1.2M275.0 135.0l-1.6 -0.6M275.0 135.0l1.0 -1.4M279.6 135.0l1.4 1.0M279.6 135.0l-1.3 1.1M284.9 133.2l1.0 1.4M284.9 133.2l-1.6 0.6M287.9 132.5l1.0 -1.3M287.9 132.5l1.1 1.3M291.2 132.8l0.7 -1.6M291.2 132.8l1.3 1.0M296.9 133.3l0.2 -1.7M296.9 133.3l1.6 0.6M301.2 133.3l1.1 1.3M301.2 133.3l-1.5 0.8M305.4 132.3l0.0 -1.7M305.4 132.3l1.6 0.4M310.0 132.7l1.2 1.2M310.0 132.7l-1.4 0.9M315.7 133.4l1.5 -0.8M315.7 133.4l0.4 1.7" stroke="#9a9a9a" stroke-width="0.7" fill="none" stroke-linecap="round"/>
<path d="M206.0 21.4h0M207.9 23.3h0M211.6 26.1h0M209.1 25.2h0M215.0 24.9h0M212.6 23.8h0M221.5 22.1h0M220.6 24.6h0M224.5 27.1h0M222.9 24.9h0M229.4 24.4h0M229.1 27.0h0M232.6 23.9h0M234.6 25.7h0M239.3 25.8h0M238.4 23.3h0M241.7 21.9h0M244.1 23.1h0M250.8 24.3h0M249.1 26.3h0M256.5 24.2h0M253.9 24.6h0M257.8 27.0h0M256.6 24.6h0M263.1 21.5h0M264.6 23.7h0M267.6 22.9h0M266.3 25.2h0M272.4 21.6h0M274.9 22.4h0M274.9 24.0h0M277.4 23.0h0M282.3 25.7h0M279.8 26.6h0M284.2 26.3h0M285.4 23.9h0M289.3 21.7h0M291.6 23.1h0M296.2 22.9h0M297.7 25.1h0M299.5 24.2h0M298.9 21.6h0M306.9 26.1h0M304.3 26.9h0M312.7 22.4h0M313.5 25.0h0M315.2 24.0h0M312.8 25.2h0M202.1 27.9h0M201.7 30.6h0M207.3 32.2h0M206.4 29.7h0M215.1 26.8h0M214.3 29.3h0M217.3 29.4h0M219.9 29.9h0M223.4 29.1h0M223.9 31.7h0M226.5 28.8h0M228.7 30.4h0M228.9 29.3h0M231.2 28.0h0M232.8 28.1h0M233.9 25.6h0M240.0 29.7h0M240.8 27.2h0M242.7 30.5h0M243.3 27.8h0M248.5 32.1h0M246.8 30.0h0M257.7 28.9h0M257.3 31.5h0M257.7 28.6h0M258.6 26.1h0M262.4 31.0h0M261.7 28.4h0M269.0 29.0h0M269.1 26.3h0M274.6 26.8h0M277.1 27.9h0M279.4 29.3h0M277.6 27.3h0M282.7 28.1h0M284.8 26.4h0M290.8 29.5h0M290.2 32.1h0M289.9 27.5h0M292.4 26.6h0M297.9 28.4h0M298.9 30.9h0M303.7 27.8h0M301.8 29.7h0M307.0 30.9h0M304.5 31.7h0M311.5 30.1h0M313.5 28.3h0M315.2 30.0h0M315.4 27.4h0M204.7 34.4h0M202.1 35.3h0M210.1 34.9h0M207.5 34.2h0M214.2 31.7h0M215.9 33.7h0M216.8 35.7h0M215.4 33.4h0M222.2 35.2h0M222.5 32.5h0M227.5 35.5h0M225.9 33.4h0M234.1 35.3h0M231.4 34.9h0M234.7 36.4h0M235.3 33.8h0M244.4 33.2h0M241.7 33.6h0M244.6 35.3h0M245.8 32.9h0M251.2 33.8h0M251.3 36.5h0M255.5 33.6h0M258.1 33.9h0M258.3 31.9h0M260.8 30.9h0M267.7 34.2h0M266.2 36.4h0M268.0 36.4h0M267.8 33.7h0M274.8 32.0h0M277.5 31.6h0M279.4 33.4h0M280.6 35.9h0M282.4 32.3h0M285.1 31.8h0M290.9 33.8h0M289.4 31.5h0M296.7 32.0h0M295.8 34.5h0M298.8 31.9h0M299.2 34.5h0M305.8 33.3h0M306.7 35.8h0M309.8 35.9h0M307.8 34.1h0M313.3 30.6h0M315.5 32.0h0M203.2 39.5h0M202.6 36.9h0M207.4 36.2h0M210.1 36.5h0M211.9 36.0h0M214.5 36.4h0M215.7 37.9h0M218.3 37.2h0M222.5 37.0h0M224.9 38.2h0M226.3 38.9h0M227.2 36.4h0M233.5 39.5h0M231.0 38.4h0M237.5 37.4h0M236.3 39.8h0M242.1 35.3h0M244.5 36.6h0M245.5 38.6h0M247.9 39.7h0M253.2 36.0h0M252.4 38.5h0M256.1 36.1h0M256.1 38.8h0M258.5 37.8h0M260.6 36.1h0M267.0 39.4h0M264.4 38.9h0M269.7 38.6h0M270.0 36.0h0M272.4 40.0h0M273.8 37.7h0M280.1 37.7h0M281.8 39.8h0M281.7 37.6h0M283.8 36.0h0M288.1 35.7h0M290.1 37.5h0M293.3 37.5h0M295.2 35.6h0M299.2 36.3h0M299.6 39.0h0M299.5 37.8h0M301.9 36.4h0M307.3 37.7h0M309.9 38.4h0M315.3 39.3h0M312.9 40.5h0M315.9 36.4h0M317.2 38.8h0M206.7 43.9h0M204.2 44.9h0M209.1 44.3h0M207.3 42.3h0M214.6 40.8h0M214.9 43.4h0M219.4 40.6h0M218.8 43.2h0M226.1 45.9h0M223.8 44.5h0M225.5 41.5h0M228.1 41.2h0M231.2 42.8h0M233.9 42.8h0M237.2 44.8h0M235.9 42.5h0M244.6 41.7h0M245.7 44.1h0M245.3 45.4h0M245.3 42.7h0M254.4 43.0h0M252.8 45.1h0M259.7 43.5h0M257.2 42.6h0M261.7 41.4h0M261.8 44.1h0M266.4 41.0h0M268.1 43.0h0M272.7 44.7h0M270.1 44.0h0M278.4 42.9h0M275.7 43.3h0M281.9 46.1h0M279.3 45.4h0M284.7 43.3h0M283.5 40.9h0M290.1 41.4h0M290.2 44.1h0M295.3 42.8h0M298.0 43.0h0M302.1 40.6h0M301.6 43.3h0M305.3 45.1h0M303.7 42.9h0M312.5 42.2h0M310.3 43.7h0M314.4 42.2h0M311.9 43.1h0M204.9 48.9h0M202.4 48.2h0M209.5 48.4h0M208.8 45.8h0M213.3 45.1h0M212.9 47.8h0M219.6 49.4h0M217.3 48.1h0M223.3 49.4h0M220.7 48.7h0M227.6 49.3h0M224.9 49.7h0M232.0 51.1h0M231.7 48.4h0M238.2 48.3h0M236.9 45.9h0M241.5 47.8h0M243.3 45.8h0M246.0 48.3h0M244.5 46.0h0M249.9 49.9h0M251.6 47.7h0M253.1 48.1h0M255.3 46.6h0M262.8 49.5h0M260.2 49.8h0M264.5 48.8h0M262.4 47.2h0M269.4 46.7h0M272.1 46.6h0M275.4 46.3h0M275.8 48.9h0M278.6 50.3h0M278.2 47.6h0M282.5 48.5h0M284.4 46.6h0M286.8 47.4h0M289.4 46.7h0M293.5 46.5h0M294.7 48.9h0M298.3 48.2h0M300.9 47.6h0M301.8 44.9h0M304.1 46.2h0M306.1 48.0h0M308.7 47.2h0M312.1 51.3h0M310.4 49.2h0M206.4 55.2h0M204.4 53.4h0M210.0 51.2h0M209.5 53.8h0M212.3 50.2h0M214.1 52.2h0M216.6 52.8h0M219.2 52.1h0M223.6 54.8h0M221.3 53.5h0M227.7 51.5h0M227.5 54.2h0M234.7 54.8h0M232.6 53.1h0M236.4 53.4h0M237.8 51.1h0M241.4 50.1h0M242.3 52.6h0M246.5 54.9h0M245.9 52.3h0M253.9 50.2h0M253.7 52.9h0M258.6 53.8h0M256.3 55.2h0M264.4 53.4h0M261.8 54.2h0M265.9 53.4h0M263.3 53.2h0M270.1 55.2h0M270.0 52.6h0M273.1 52.9h0M274.1 50.4h0M280.2 53.3h0M282.6 52.0h0M281.9 54.3h0M283.7 52.3h0M291.0 52.9h0M291.2 55.6h0M295.8 52.6h0M293.6 54.1h0M297.1 53.5h0M299.6 52.5h0M301.9 54.3h0M302.2 51.6h0M307.8 51.3h0M309.9 49.6h0M316.0 52.0h0M316.4 54.7h0M205.2 54.6h0M206.5 56.9h0M210.9 58.6h0M208.9 60.4h0M214.5 58.4h0M212.5 60.2h0M215.6 59.9h0M216.4 57.3h0M225.9 56.6h0M224.6 58.9h0M227.6 57.5h0M228.5 55.0h0M235.0 58.0h0M232.5 59.0h0M239.6 58.2h0M237.3 59.5h0M238.9 59.2h0M240.0 56.8h0M247.1 56.0h0M246.1 58.5h0M250.2 57.7h0M250.1 55.0h0M255.2 56.7h0M256.8 58.9h0M259.5 57.8h0M262.1 58.4h0M264.3 60.0h0M265.2 57.5h0M271.0 57.7h0M268.4 57.1h0M275.0 57.2h0M272.4 56.9h0M282.0 57.8h0M281.3 60.4h0M282.6 57.4h0M285.3 57.7h0M288.0 58.5h0M286.4 56.3h0M293.2 57.9h0M292.1 55.5h0M296.7 57.9h0M297.1 55.3h0M303.7 57.0h0M301.4 58.4h0M306.2 55.9h0M308.6 54.6h0M311.1 56.4h0M313.2 54.7h0M204.6 61.9h0M201.9 61.6h0M207.5 64.3h0M207.5 61.6h0M215.6 62.5h0M214.0 60.3h0M220.4 59.1h0M222.5 60.8h0M220.9 64.1h0M222.7 62.1h0M229.5 61.0h0M230.3 63.6h0M234.5 64.3h0M232.1 63.1h0M237.8 65.1h0M237.4 62.4h0M244.2 61.4h0M242.3 63.4h0M251.0 63.7h0M249.1 65.5h0M251.1 63.0h0M251.1 60.4h0M255.7 62.5h0M254.2 60.2h0M263.9 60.1h0M262.9 62.6h0M266.7 60.5h0M266.4 63.1h0M269.3 63.2h0M268.7 60.6h0M278.1 61.5h0M276.6 63.7h0M282.0 63.9h0M279.9 65.6h0M285.7 65.0h0M283.6 63.3h0M291.3 63.1h0M289.4 61.2h0M294.9 60.6h0M295.4 63.2h0M297.8 61.8h0M300.3 60.7h0M305.5 60.0h0M306.9 62.3h0M309.7 60.5h0M311.8 62.1h0M313.0 62.7h0M314.9 60.7h0M208.1 65.1h0M207.8 67.8h0M213.7 66.9h0M211.3 68.1h0M216.2 68.2h0M213.7 67.1h0M220.7 66.1h0M219.0 68.1h0M226.2 69.2h0M223.6 69.5h0M229.5 69.1h0M227.9 67.0h0M235.1 66.8h0M232.5 67.3h0M239.3 66.5h0M240.9 64.3h0M243.2 70.2h0M241.3 68.3h0M250.1 66.5h0M251.1 69.0h0M257.1 68.3h0M254.5 69.0h0M258.7 66.1h0M261.0 67.5h0M263.9 66.5h0M262.3 68.6h0M268.9 67.4h0M268.0 64.8h0M270.9 67.9h0M271.6 65.3h0M279.8 68.4h0M277.7 70.2h0M282.2 65.1h0M283.0 67.7h0M286.2 65.9h0M287.1 68.5h0M292.1 66.2h0M291.2 68.7h0M296.5 64.8h0M299.2 64.6h0M300.2 67.4h0M302.1 65.6h0M307.6 68.5h0M305.1 69.4h0M310.3 68.2h0M310.2 65.5h0M315.9 68.9h0M316.5 66.3h0M203.9 68.8h0M204.1 71.5h0M207.7 72.9h0M209.8 71.3h0M216.0 72.4h0M214.0 74.2h0M218.9 69.7h0M221.3 70.8h0M226.0 70.9h0M224.2 72.8h0M226.5 71.9h0M228.9 70.7h0M233.4 71.4h0M235.1 73.5h0M238.4 71.3h0M239.8 73.5h0M241.0 72.9h0M243.5 72.0h0M244.2 69.9h0M246.9 70.0h0M254.4 74.1h0M251.7 73.9h0M257.9 70.4h0M256.2 72.5h0M258.3 73.7h0M260.2 71.7h0M266.9 71.6h0M264.3 72.2h0M268.8 72.7h0M269.8 70.2h0M277.4 71.7h0M278.8 74.0h0M282.0 71.1h0M281.2 73.6h0M285.8 72.9h0M284.0 70.8h0M288.1 71.1h0M290.5 69.9h0M294.5 72.2h0M295.9 69.9h0M296.2 72.3h0M297.4 69.9h0M304.0 74.8h0M301.5 74.0h0M310.5 73.5h0M308.3 71.9h0M313.2 71.0h0M315.5 69.7h0M201.6 79.0h0M201.9 76.3h0M207.0 77.0h0M209.7 77.3h0M213.2 74.0h0M215.7 74.9h0M216.8 77.7h0M218.6 75.7h0M221.4 77.4h0M222.1 74.8h0M224.6 76.4h0M227.3 76.5h0M229.7 77.2h0M231.8 75.5h0M235.3 77.6h0M233.9 75.3h0M241.9 79.6h0M239.5 78.4h0M245.7 77.5h0M243.1 77.6h0M249.8 74.0h0M252.2 75.1h0M254.7 76.0h0M256.6 77.8h0M258.4 77.3h0M260.2 75.4h0M262.7 78.4h0M264.5 76.4h0M267.6 78.5h0M267.2 75.8h0M277.0 77.6h0M275.3 79.6h0M279.7 77.4h0M277.2 76.6h0M281.1 75.5h0M282.6 73.2h0M287.7 76.7h0M290.4 76.5h0M293.2 76.6h0M295.9 77.0h0M301.2 75.1h0M300.0 77.6h0M300.9 75.9h0M303.4 74.9h0M309.0 74.9h0M310.5 77.1h0M311.3 79.1h0M309.2 77.5h0M207.2 81.1h0M207.1 83.8h0M210.5 81.4h0M208.0 82.5h0M214.6 83.6h0M213.1 81.4h0M220.5 80.9h0M222.3 82.9h0M225.6 81.9h0M223.6 80.2h0M227.4 80.2h0M229.8 81.4h0M234.7 80.5h0M235.5 83.0h0M238.4 80.1h0M238.5 82.8h0M244.4 80.7h0M246.6 82.2h0M249.7 83.4h0M248.1 81.3h0M255.4 79.5h0M253.5 81.5h0M258.1 81.3h0M256.0 82.9h0M261.6 81.6h0M264.3 81.6h0M264.9 81.0h0M267.3 79.7h0M273.9 82.7h0M271.4 81.9h0M275.4 82.4h0M277.9 81.5h0M281.6 79.3h0M284.2 78.3h0M286.8 80.3h0M289.5 80.4h0M290.5 78.9h0M292.8 80.3h0M297.8 83.9h0M295.2 83.4h0M300.4 78.2h0M301.9 80.4h0M304.5 79.4h0M306.5 81.2h0M310.7 83.3h0M309.6 80.8h0M315.8 84.3h0M313.8 82.5h0M203.4 85.6h0M205.9 86.7h0M205.7 84.1h0M208.4 84.0h0M210.1 87.9h0M210.9 85.3h0M217.1 83.3h0M219.8 83.4h0M225.7 86.0h0M223.1 86.6h0M225.2 88.0h0M226.5 85.6h0M234.6 84.1h0M233.9 86.6h0M236.6 86.4h0M234.0 86.1h0M241.9 84.6h0M241.6 87.2h0M246.1 86.7h0M243.5 86.2h0M248.9 85.5h0M250.2 83.2h0M258.4 85.3h0M258.4 88.0h0M263.6 86.4h0M261.2 87.6h0M263.3 84.3h0M266.0 84.4h0M270.5 87.8h0M267.8 88.0h0M276.5 83.5h0M277.4 86.0h0M278.5 84.3h0M279.9 86.6h0M285.9 82.8h0M286.9 85.3h0M288.7 86.5h0M291.2 85.5h0M292.5 86.5h0M295.1 86.4h0M298.0 86.4h0M300.0 84.7h0M303.9 88.2h0M301.3 87.5h0M309.2 86.0h0M307.1 84.4h0M312.5 83.8h0M313.7 86.3h0M205.0 93.7h0M202.7 92.3h0M209.4 91.9h0M209.0 89.2h0M211.0 88.4h0M213.7 88.0h0M219.1 90.9h0M217.2 92.7h0M221.7 93.0h0M222.4 90.5h0M226.8 91.6h0M227.3 89.0h0M229.8 91.9h0M229.6 89.2h0M234.7 91.7h0M236.9 90.3h0M241.0 90.2h0M243.2 88.6h0M246.7 90.8h0M245.4 88.5h0M252.8 93.7h0M250.5 92.2h0M259.1 92.7h0M256.6 93.5h0M261.2 91.0h0M260.3 93.5h0M266.7 87.6h0M267.2 90.2h0M267.9 92.1h0M269.4 89.9h0M276.4 90.3h0M274.0 91.5h0M277.9 91.4h0M278.8 88.8h0M287.0 89.5h0M286.3 92.1h0M291.6 93.0h0M289.1 92.0h0M293.1 93.8h0M292.9 91.1h0M299.8 92.0h0M297.4 93.2h0M304.3 91.7h0M301.9 90.6h0M308.6 90.8h0M306.0 91.7h0M314.1 91.1h0M313.4 88.5h0M204.3 93.4h0M206.2 95.3h0M207.2 93.2h0M209.4 94.8h0M212.3 95.7h0M214.7 94.6h0M220.6 94.5h0M218.1 95.4h0M222.0 94.8h0M223.8 92.8h0M229.4 97.3h0M228.0 95.0h0M229.7 94.9h0M232.3 94.0h0M237.5 96.7h0M235.7 94.7h0M242.6 98.4h0M240.7 96.5h0M245.8 95.8h0M248.2 94.4h0M252.5 94.9h0M251.4 97.4h0M255.7 94.6h0M257.8 92.9h0M261.1 95.7h0M263.8 95.3h0M264.7 93.1h0M267.2 94.2h0M267.8 96.4h0M269.3 94.1h0M276.7 94.2h0M278.5 96.1h0M278.2 92.9h0M280.8 93.6h0M286.6 96.0h0M284.1 97.1h0M292.7 94.2h0M290.9 96.1h0M293.4 95.2h0M296.0 95.7h0M296.6 94.8h0M298.0 92.6h0M304.4 92.5h0M306.6 94.1h0M307.7 97.5h0M307.4 94.9h0M311.0 96.2h0M313.3 94.7h0M205.6 99.8h0M206.7 97.4h0M213.9 101.0h0M211.4 102.0h0M216.9 102.4h0M215.9 99.9h0M220.9 99.6h0M223.5 100.1h0M226.8 102.7h0M224.4 101.4h0M230.7 101.8h0M228.2 102.6h0M237.9 101.9h0M235.5 100.7h0M240.2 101.6h0M239.9 98.9h0M243.3 99.4h0M245.4 97.8h0M249.1 102.6h0M247.2 100.7h0M257.2 99.3h0M256.4 101.9h0M261.6 98.8h0M260.0 101.0h0M263.5 102.9h0M261.1 101.7h0M266.4 99.3h0M268.1 97.3h0M273.4 100.1h0M272.4 102.7h0M279.6 100.5h0M277.8 98.4h0M284.4 100.8h0M281.8 101.5h0M288.8 100.6h0M287.6 98.2h0M293.0 100.0h0M295.4 101.2h0M295.8 103.5h0M294.5 101.1h0M299.6 99.8h0M302.2 99.1h0M308.3 102.8h0M306.0 101.3h0M312.5 102.8h0M310.2 101.4h0M314.8 100.0h0M316.5 102.0h0M203.6 104.4h0M206.3 104.1h0M209.1 104.0h0M211.5 105.1h0M215.8 105.0h0M217.2 107.2h0M218.0 105.5h0M216.7 103.1h0M223.7 104.1h0M226.4 104.0h0M227.3 104.6h0M229.0 102.5h0M230.2 103.6h0M232.8 102.8h0M235.1 107.3h0M236.1 104.8h0M242.1 105.3h0M244.8 105.2h0M245.7 105.6h0M247.9 104.2h0M251.9 103.9h0M254.3 105.2h0M254.4 102.5h0M257.0 102.8h0M262.1 102.1h0M262.5 104.7h0M267.1 105.0h0M265.9 107.3h0M271.3 106.4h0M268.7 106.9h0M277.5 106.7h0M275.0 105.7h0M278.9 104.2h0M280.7 106.2h0M283.0 103.6h0M285.6 104.0h0M292.1 104.7h0M289.4 104.2h0M295.6 102.6h0M297.5 104.5h0M297.2 102.1h0M299.8 103.1h0M304.7 104.0h0M307.4 104.2h0M307.7 107.2h0M307.6 104.5h0M313.7 106.2h0M314.0 103.6h0M207.5 109.4h0M209.3 111.4h0M212.9 107.5h0M212.3 110.1h0M213.0 110.6h0M214.8 108.7h0M222.0 112.6h0M219.8 111.0h0M227.8 110.5h0M225.3 109.6h0M227.5 109.7h0M228.8 107.4h0M232.4 111.1h0M233.6 108.7h0M239.3 111.2h0M241.6 109.7h0M243.3 110.9h0M241.2 109.3h0M250.7 107.2h0M251.5 109.8h0M253.5 109.8h0M251.2 108.5h0M259.6 108.7h0M258.6 111.2h0M263.1 110.5h0M260.4 110.2h0M269.8 109.7h0M267.7 108.0h0M273.3 109.8h0M270.9 108.7h0M277.0 108.4h0M279.4 109.5h0M285.0 111.6h0M282.5 112.5h0M284.2 109.3h0M285.1 106.8h0M294.6 110.1h0M292.4 111.7h0M297.3 111.8h0M294.9 110.6h0M299.4 111.4h0M300.5 108.9h0M305.7 111.9h0M304.7 109.4h0M311.6 109.8h0M310.4 112.2h0M314.7 107.6h0M317.3 108.1h0M208.9 113.4h0M206.5 114.7h0M212.4 115.6h0M210.9 113.3h0M214.1 116.0h0M212.9 113.6h0M220.7 117.2h0M218.3 116.1h0M222.0 115.2h0M224.5 114.2h0M229.9 112.4h0M232.1 114.0h0M234.1 116.1h0M233.0 113.6h0M236.3 113.8h0M237.9 111.6h0M247.3 115.2h0M244.7 116.0h0M247.3 112.8h0M249.9 112.1h0M252.7 111.9h0M255.1 113.0h0M259.5 114.5h0M261.7 116.0h0M261.3 112.2h0M263.9 112.8h0M265.9 116.7h0M267.3 114.4h0M273.5 113.2h0M272.6 115.7h0M278.7 116.6h0M276.4 115.3h0M281.9 114.8h0M279.2 114.7h0M286.8 115.5h0M285.3 113.2h0M290.0 113.9h0M290.8 111.4h0M294.2 111.5h0M296.4 113.0h0M301.6 114.7h0M299.4 116.3h0M304.3 114.5h0M303.5 112.0h0M312.6 116.4h0M310.3 115.0h0M312.4 116.4h0M313.3 113.9h0M203.6 117.1h0M204.6 119.6h0M210.6 119.2h0M211.7 121.6h0M216.1 120.0h0M213.5 120.6h0M218.8 122.0h0M216.2 121.9h0M221.5 119.0h0M222.9 116.7h0M226.0 119.7h0M225.7 117.1h0M231.9 121.9h0M231.3 119.3h0M236.8 116.2h0M239.1 117.6h0M243.5 120.2h0M241.8 122.3h0M247.7 117.1h0M246.1 119.3h0M251.7 118.5h0M253.8 120.2h0M255.2 117.2h0M257.8 117.9h0M259.0 116.9h0M261.7 116.5h0M265.0 119.3h0M267.4 118.1h0M270.9 118.3h0M271.7 120.8h0M278.1 118.2h0M276.7 120.5h0M280.1 120.6h0M278.1 118.8h0M283.4 122.0h0M282.9 119.4h0M290.1 119.5h0M287.9 118.0h0M294.7 121.4h0M293.6 118.9h0M300.6 121.5h0M298.1 120.5h0M306.3 119.3h0M303.6 119.2h0M307.9 118.4h0M308.6 121.0h0M315.8 117.1h0M314.8 119.6h0M204.0 125.4h0M202.5 123.2h0M208.5 122.4h0M210.7 124.0h0M213.3 125.7h0M213.4 123.0h0M220.3 125.3h0M217.6 125.4h0M223.7 126.3h0M221.0 126.1h0M228.6 122.4h0M231.3 122.5h0M232.7 121.3h0M233.2 123.9h0M234.9 123.6h0M237.6 123.5h0M241.5 126.9h0M239.5 125.1h0M247.0 126.5h0M244.3 126.3h0M251.0 124.1h0M253.7 124.1h0M257.8 125.5h0M255.4 126.7h0M263.2 124.8h0M261.9 127.1h0M268.4 122.0h0M269.3 124.6h0M271.4 127.3h0M269.3 125.6h0M275.8 124.3h0M278.5 124.1h0M277.9 123.2h0M279.7 121.2h0M285.7 122.3h0M287.2 124.5h0M289.0 126.9h0M286.9 125.2h0M292.5 125.0h0M291.9 122.4h0M299.7 121.8h0M301.7 123.5h0M301.3 124.2h0M302.3 121.7h0M308.1 121.9h0M310.8 121.8h0M312.3 122.8h0M315.0 122.4h0M206.1 127.0h0M208.7 126.7h0M210.9 130.5h0M208.4 129.5h0M218.6 127.8h0M216.6 129.5h0M219.9 126.9h0M222.0 128.6h0M224.0 127.8h0M226.5 126.8h0M232.0 129.9h0M230.4 127.8h0M234.1 128.9h0M233.0 126.5h0M243.0 131.4h0M240.3 131.3h0M246.3 130.9h0M243.9 129.8h0M251.1 128.8h0M251.8 131.4h0M256.0 129.2h0M253.5 128.2h0M257.2 131.6h0M255.9 129.3h0M264.5 127.2h0M266.5 128.9h0M270.1 128.4h0M267.4 128.2h0M271.8 129.8h0M273.5 127.7h0M279.8 130.1h0M278.1 132.1h0M282.1 126.8h0M284.7 127.3h0M286.8 131.1h0M286.0 128.6h0M291.5 130.0h0M289.3 128.5h0M299.0 127.4h0M299.8 129.9h0M302.1 128.0h0M301.1 130.5h0M306.0 125.9h0M308.4 127.1h0M310.6 128.5h0M312.4 130.5h0M319.1 128.5h0M316.5 129.1h0M201.1 133.5h0M201.4 130.9h0M208.8 133.7h0M206.2 134.1h0M214.3 135.5h0M211.6 135.1h0M215.2 131.4h0M217.4 132.8h0M221.1 133.8h0M218.8 132.3h0M227.5 130.5h0M229.2 132.6h0M228.7 135.3h0M228.5 132.6h0M234.6 131.3h0M237.3 131.3h0M238.7 134.9h0M239.0 132.2h0M247.4 130.5h0M247.9 133.2h0M246.8 134.0h0M248.3 131.7h0M256.6 132.4h0M257.8 134.8h0M260.9 131.9h0M261.8 134.4h0M264.7 134.3h0M264.6 131.6h0M269.3 132.8h0M266.6 133.1h0M273.4 134.4h0M275.9 133.6h0M280.9 136.0h0M278.3 136.0h0M285.9 134.5h0M283.3 133.8h0M288.9 131.1h0M289.0 133.8h0M291.9 131.3h0M292.6 133.9h0M297.1 131.7h0M298.5 133.9h0M302.3 134.5h0M299.7 134.1h0M305.4 130.6h0M307.1 132.7h0M311.3 133.9h0M308.6 133.6h0M317.3 132.7h0M316.1 135.1h0" stroke="#b8b8b8" stroke-width="1.3" stroke-linecap="round" fill="none"/>
<path d="M206.0 21.4h0M207.9 23.3h0M211.6 26.1h0M209.1 25.2h0M215.0 24.9h0M212.6 23.8h0M221.5 22.1h0M220.6 24.6h0M224.5 27.1h0M222.9 24.9h0M229.4 24.4h0M229.1 27.0h0M232.6 23.9h0M234.6 25.7h0M239.3 25.8h0M238.4 23.3h0M241.7 21.9h0M244.1 23.1h0M250.8 24.3h0M249.1 26.3h0M256.5 24.2h0M253.9 24.6h0M257.8 27.0h0M256.6 24.6h0M263.1 21.5h0M264.6 23.7h0M267.6 22.9h0M266.3 25.2h0M272.4 21.6h0M274.9 22.4h0M274.9 24.0h0M277.4 23.0h0M282.3 25.7h0M279.8 26.6h0M284.2 26.3h0M285.4 23.9h0M289.3 21.7h0M291.6 23.1h0M296.2 22.9h0M297.7 25.1h0M299.5 24.2h0M298.9 21.6h0M306.9 26.1h0M304.3 26.9h0M312.7 22.4h0M313.5 25.0h0M315.2 24.0h0M312.8 25.2h0M202.1 27.9h0M201.7 30.6h0M207.3 32.2h0M206.4 29.7h0M215.1 26.8h0M214.3 29.3h0M217.3 29.4h0M219.9 29.9h0M223.4 29.1h0M223.9 31.7h0M226.5 28.8h0M228.7 30.4h0M228.9 29.3h0M231.2 28.0h0M232.8 28.1h0M233.9 25.6h0M240.0 29.7h0M240.8 27.2h0M242.7 30.5h0M243.3 27.8h0M248.5 32.1h0M246.8 30.0h0M257.7 28.9h0M257.3 31.5h0M257.7 28.6h0M258.6 26.1h0M262.4 31.0h0M261.7 28.4h0M269.0 29.0h0M269.1 26.3h0M274.6 26.8h0M277.1 27.9h0M279.4 29.3h0M277.6 27.3h0M282.7 28.1h0M284.8 26.4h0M290.8 29.5h0M290.2 32.1h0M289.9 27.5h0M292.4 26.6h0M297.9 28.4h0M298.9 30.9h0M303.7 27.8h0M301.8 29.7h0M307.0 30.9h0M304.5 31.7h0M311.5 30.1h0M313.5 28.3h0M315.2 30.0h0M315.4 27.4h0M204.7 34.4h0M202.1 35.3h0M210.1 34.9h0M207.5 34.2h0M214.2 31.7h0M215.9 33.7h0M216.8 35.7h0M215.4 33.4h0M222.2 35.2h0M222.5 32.5h0M227.5 35.5h0M225.9 33.4h0M234.1 35.3h0M231.4 34.9h0M234.7 36.4h0M235.3 33.8h0M244.4 33.2h0M241.7 33.6h0M244.6 35.3h0M245.8 32.9h0M251.2 33.8h0M251.3 36.5h0M255.5 33.6h0M258.1 33.9h0M258.3 31.9h0M260.8 30.9h0M267.7 34.2h0M266.2 36.4h0M268.0 36.4h0M267.8 33.7h0M274.8 32.0h0M277.5 31.6h0M279.4 33.4h0M280.6 35.9h0M282.4 32.3h0M285.1 31.8h0M290.9 33.8h0M289.4 31.5h0M296.7 32.0h0M295.8 34.5h0M298.8 31.9h0M299.2 34.5h0M305.8 33.3h0M306.7 35.8h0M309.8 35.9h0M307.8 34.1h0M313.3 30.6h0M315.5 32.0h0M203.2 39.5h0M202.6 36.9h0M207.4 36.2h0M210.1 36.5h0M211.9 36.0h0M214.5 36.4h0M215.7 37.9h0M218.3 37.2h0M222.5 37.0h0M224.9 38.2h0M226.3 38.9h0M227.2 36.4h0M233.5 39.5h0M231.0 38.4h0M237.5 37.4h0M236.3 39.8h0M242.1 35.3h0M244.5 36.6h0M245.5 38.6h0M247.9 39.7h0M253.2 36.0h0M252.4 38.5h0M256.1 36.1h0M256.1 38.8h0M258.5 37.8h0M260.6 36.1h0M267.0 39.4h0M264.4 38.9h0M269.7 38.6h0M270.0 36.0h0M272.4 40.0h0M273.8 37.7h0M280.1 37.7h0M281.8 39.8h0M281.7 37.6h0M283.8 36.0h0M288.1 35.7h0M290.1 37.5h0M293.3 37.5h0M295.2 35.6h0M299.2 36.3h0M299.6 39.0h0M299.5 37.8h0M301.9 36.4h0M307.3 37.7h0M309.9 38.4h0M315.3 39.3h0M312.9 40.5h0M315.9 36.4h0M317.2 38.8h0M206.7 43.9h0M204.2 44.9h0M209.1 44.3h0M207.3 42.3h0M214.6 40.8h0M214.9 43.4h0M219.4 40.6h0M218.8 43.2h0M226.1 45.9h0M223.8 44.5h0M225.5 41.5h0M228.1 41.2h0M231.2 42.8h0M233.9 42.8h0M237.2 44.8h0M235.9 42.5h0M244.6 41.7h0M245.7 44.1h0M245.3 45.4h0M245.3 42.7h0M254.4 43.0h0M252.8 45.1h0M259.7 43.5h0M257.2 42.6h0M261.7 41.4h0M261.8 44.1h0M266.4 41.0h0M268.1 43.0h0M272.7 44.7h0M270.1 44.0h0M278.4 42.9h0M275.7 43.3h0M281.9 46.1h0M279.3 45.4h0M284.7 43.3h0M283.5 40.9h0M290.1 41.4h0M290.2 44.1h0M295.3 42.8h0M298.0 43.0h0M302.1 40.6h0M301.6 43.3h0M305.3 45.1h0M303.7 42.9h0M312.5 42.2h0M310.3 43.7h0M314.4 42.2h0M311.9 43.1h0M204.9 48.9h0M202.4 48.2h0M209.5 48.4h0M208.8 45.8h0M213.3 45.1h0M212.9 47.8h0M219.6 49.4h0M217.3 48.1h0M223.3 49.4h0M220.7 48.7h0M227.6 49.3h0M224.9 49.7h0M232.0 51.1h0M231.7 48.4h0M238.2 48.3h0M236.9 45.9h0M241.5 47.8h0M243.3 45.8h0M246.0 48.3h0M244.5 46.0h0M249.9 49.9h0M251.6 47.7h0M253.1 48.1h0M255.3 46.6h0M262.8 49.5h0M260.2 49.8h0M264.5 48.8h0M262.4 47.2h0M269.4 46.7h0M272.1 46.6h0M275.4 46.3h0M275.8 48.9h0M278.6 50.3h0M278.2 47.6h0M282.5 48.5h0M284.4 46.6h0M286.8 47.4h0M289.4 46.7h0M293.5 46.5h0M294.7 48.9h0M298.3 48.2h0M300.9 47.6h0M301.8 44.9h0M304.1 46.2h0M306.1 48.0h0M308.7 47.2h0M312.1 51.3h0M310.4 49.2h0M206.4 55.2h0M204.4 53.4h0M210.0 51.2h0M209.5 53.8h0M212.3 50.2h0M214.1 52.2h0M216.6 52.8h0M219.2 52.1h0M223.6 54.8h0M221.3 53.5h0M227.7 51.5h0M227.5 54.2h0M234.7 54.8h0M232.6 53.1h0M236.4 53.4h0M237.8 51.1h0M241.4 50.1h0M242.3 52.6h0M246.5 54.9h0M245.9 52.3h0M253.9 50.2h0M253.7 52.9h0M258.6 53.8h0M256.3 55.2h0M264.4 53.4h0M261.8 54.2h0M265.9 53.4h0M263.3 53.2h0M270.1 55.2h0M270.0 52.6h0M273.1 52.9h0M274.1 50.4h0M280.2 53.3h0M282.6 52.0h0M281.9 54.3h0M283.7 52.3h0M291.0 52.9h0M291.2 55.6h0M295.8 52.6h0M293.6 54.1h0M297.1 53.5h0M299.6 52.5h0M301.9 54.3h0M302.2 51.6h0M307.8 51.3h0M309.9 49.6h0M316.0 52.0h0M316.4 54.7h0M205.2 54.6h0M206.5 56.9h0M210.9 58.6h0M208.9 60.4h0M214.5 58.4h0M212.5 60.2h0M215.6 59.9h0M216.4 57.3h0M225.9 56.6h0M224.6 58.9h0M227.6 57.5h0M228.5 55.0h0M235.0 58.0h0M232.5 59.0h0M239.6 58.2h0M237.3 59.5h0M238.9 59.2h0M240.0 56.8h0M247.1 56.0h0M246.1 58.5h0M250.2 57.7h0M250.1 55.0h0M255.2 56.7h0M256.8 58.9h0M259.5 57.8h0M262.1 58.4h0M264.3 60.0h0M265.2 57.5h0M271.0 57.7h0M268.4 57.1h0M275.0 57.2h0M272.4 56.9h0M282.0 57.8h0M281.3 60.4h0M282.6 57.4h0M285.3 57.7h0M288.0 58.5h0M286.4 56.3h0M293.2 57.9h0M292.1 55.5h0M296.7 57.9h0M297.1 55.3h0M303.7 57.0h0M301.4 58.4h0M306.2 55.9h0M308.6 54.6h0M311.1 56.4h0M313.2 54.7h0M204.6 61.9h0M201.9 61.6h0M207.5 64.3h0M207.5 61.6h0M215.6 62.5h0M214.0 60.3h0M220.4 59.1h0M222.5 60.8h0M220.9 64.1h0M222.7 62.1h0M229.5 61.0h0M230.3 63.6h0M234.5 64.3h0M232.1 63.1h0M237.8 65.1h0M237.4 62.4h0M244.2 61.4h0M242.3 63.4h0M251.0 63.7h0M249.1 65.5h0M251.1 63.0h0M251.1 60.4h0M255.7 62.5h0M254.2 60.2h0M263.9 60.1h0M262.9 62.6h0M266.7 60.5h0M266.4 63.1h0M269.3 63.2h0M268.7 60.6h0M278.1 61.5h0M276.6 63.7h0M282.0 63.9h0M279.9 65.6h0M285.7 65.0h0M283.6 63.3h0M291.3 63.1h0M289.4 61.2h0M294.9 60.6h0M295.4 63.2h0M297.8 61.8h0M300.3 60.7h0M305.5 60.0h0M306.9 62.3h0M309.7 60.5h0M311.8 62.1h0M313.0 62.7h0M314.9 60.7h0M208.1 65.1h0M207.8 67.8h0M213.7 66.9h0M211.3 68.1h0M216.2 68.2h0M213.7 67.1h0M220.7 66.1h0M219.0 68.1h0M226.2 69.2h0M223.6 69.5h0M229.5 69.1h0M227.9 67.0h0M235.1 66.8h0M232.5 67.3h0M239.3 66.5h0M240.9 64.3h0M243.2 70.2h0M241.3 68.3h0M250.1 66.5h0M251.1 69.0h0M257.1 68.3h0M254.5 69.0h0M258.7 66.1h0M261.0 67.5h0M263.9 66.5h0M262.3 68.6h0M268.9 67.4h0M268.0 64.8h0M270.9 67.9h0M271.6 65.3h0M279.8 68.4h0M277.7 70.2h0M282.2 65.1h0M283.0 67.7h0M286.2 65.9h0M287.1 68.5h0M292.1 66.2h0M291.2 68.7h0M296.5 64.8h0M299.2 64.6h0M300.2 67.4h0M302.1 65.6h0M307.6 68.5h0M305.1 69.4h0M310.3 68.2h0M310.2 65.5h0M315.9 68.9h0M316.5 66.3h0M203.9 68.8h0M204.1 71.5h0M207.7 72.9h0M209.8 71.3h0M216.0 72.4h0M214.0 74.2h0M218.9 69.7h0M221.3 70.8h0M226.0 70.9h0M224.2 72.8h0M226.5 71.9h0M228.9 70.7h0M233.4 71.4h0M235.1 73.5h0M238.4 71.3h0M239.8 73.5h0M241.0 72.9h0M243.5 72.0h0M244.2 69.9h0M246.9 70.0h0M254.4 74.1h0M251.7 73.9h0M257.9 70.4h0M256.2 72.5h0M258.3 73.7h0M260.2 71.7h0M266.9 71.6h0M264.3 72.2h0M268.8 72.7h0M269.8 70.2h0M277.4 71.7h0M278.8 74.0h0M282.0 71.1h0M281.2 73.6h0M285.8 72.9h0M284.0 70.8h0M288.1 71.1h0M290.5 69.9h0M294.5 72.2h0M295.9 69.9h0M296.2 72.3h0M297.4 69.9h0M304.0 74.8h0M301.5 74.0h0M310.5 73.5h0M308.3 71.9h0M313.2 71.0h0M315.5 69.7h0M201.6 79.0h0M201.9 76.3h0M207.0 77.0h0M209.7 77.3h0M213.2 74.0h0M215.7 74.9h0M216.8 77.7h0M218.6 75.7h0M221.4 77.4h0M222.1 74.8h0M224.6 76.4h0M227.3 76.5h0M229.7 77.2h0M231.8 75.5h0M235.3 77.6h0M233.9 75.3h0M241.9 79.6h0M239.5 78.4h0M245.7 77.5h0M243.1 77.6h0M249.8 74.0h0M252.2 75.1h0M254.7 76.0h0M256.6 77.8h0M258.4 77.3h0M260.2 75.4h0M262.7 78.4h0M264.5 76.4h0M267.6 78.5h0M267.2 75.8h0M277.0 77.6h0M275.3 79.6h0M279.7 77.4h0M277.2 76.6h0M281.1 75.5h0M282.6 73.2h0M287.7 76.7h0M290.4 76.5h0M293.2 76.6h0M295.9 77.0h0M301.2 75.1h0M300.0 77.6h0M300.9 75.9h0M303.4 74.9h0M309.0 74.9h0M310.5 77.1h0M311.3 79.1h0M309.2 77.5h0M207.2 81.1h0M207.1 83.8h0M210.5 81.4h0M208.0 82.5h0M214.6 83.6h0M213.1 81.4h0M220.5 80.9h0M222.3 82.9h0M225.6 81.9h0M223.6 80.2h0M227.4 80.2h0M229.8 81.4h0M234.7 80.5h0M235.5 83.0h0M238.4 80.1h0M238.5 82.8h0M244.4 80.7h0M246.6 82.2h0M249.7 83.4h0M248.1 81.3h0M255.4 79.5h0M253.5 81.5h0M258.1 81.3h0M256.0 82.9h0M261.6 81.6h0M264.3 81.6h0M264.9 81.0h0M267.3 79.7h0M273.9 82.7h0M271.4 81.9h0M275.4 82.4h0M277.9 81.5h0M281.6 79.3h0M284.2 78.3h0M286.8 80.3h0M289.5 80.4h0M290.5 78.9h0M292.8 80.3h0M297.8 83.9h0M295.2 83.4h0M300.4 78.2h0M301.9 80.4h0M304.5 79.4h0M306.5 81.2h0M310.7 83.3h0M309.6 80.8h0M315.8 84.3h0M313.8 82.5h0M203.4 85.6h0M205.9 86.7h0M205.7 84.1h0M208.4 84.0h0M210.1 87.9h0M210.9 85.3h0M217.1 83.3h0M219.8 83.4h0M225.7 86.0h0M223.1 86.6h0M225.2 88.0h0M226.5 85.6h0M234.6 84.1h0M233.9 86.6h0M236.6 86.4h0M234.0 86.1h0M241.9 84.6h0M241.6 87.2h0M246.1 86.7h0M243.5 86.2h0M248.9 85.5h0M250.2 83.2h0M258.4 85.3h0M258.4 88.0h0M263.6 86.4h0M261.2 87.6h0M263.3 84.3h0M266.0 84.4h0M270.5 87.8h0M267.8 88.0h0M276.5 83.5h0M277.4 86.0h0M278.5 84.3h0M279.9 86.6h0M285.9 82.8h0M286.9 85.3h0M288.7 86.5h0M291.2 85.5h0M292.5 86.5h0M295.1 86.4h0M298.0 86.4h0M300.0 84.7h0M303.9 88.2h0M301.3 87.5h0M309.2 86.0h0M307.1 84.4h0M312.5 83.8h0M313.7 86.3h0M205.0 93.7h0M202.7 92.3h0M209.4 91.9h0M209.0 89.2h0M211.0 88.4h0M213.7 88.0h0M219.1 90.9h0M217.2 92.7h0M221.7 93.0h0M222.4 90.5h0M226.8 91.6h0M227.3 89.0h0M229.8 91.9h0M229.6 89.2h0M234.7 91.7h0M236.9 90.3h0M241.0 90.2h0M243.2 88.6h0M246.7 90.8h0M245.4 88.5h0M252.8 93.7h0M250.5 92.2h0M259.1 92.7h0M256.6 93.5h0M261.2 91.0h0M260.3 93.5h0M266.7 87.6h0M267.2 90.2h0M267.9 92.1h0M269.4 89.9h0M276.4 90.3h0M274.0 91.5h0M277.9 91.4h0M278.8 88.8h0M287.0 89.5h0M286.3 92.1h0M291.6 93.0h0M289.1 92.0h0M293.1 93.8h0M292.9 91.1h0M299.8 92.0h0M297.4 93.2h0M304.3 91.7h0M301.9 90.6h0M308.6 90.8h0M306.0 91.7h0M314.1 91.1h0M313.4 88.5h0M204.3 93.4h0M206.2 95.3h0M207.2 93.2h0M209.4 94.8h0M212.3 95.7h0M214.7 94.6h0M220.6 94.5h0M218.1 95.4h0M222.0 94.8h0M223.8 92.8h0M229.4 97.3h0M228.0 95.0h0M229.7 94.9h0M232.3 94.0h0M237.5 96.7h0M235.7 94.7h0M242.6 98.4h0M240.7 96.5h0M245.8 95.8h0M248.2 94.4h0M252.5 94.9h0M251.4 97.4h0M255.7 94.6h0M257.8 92.9h0M261.1 95.7h0M263.8 95.3h0M264.7 93.1h0M267.2 94.2h0M267.8 96.4h0M269.3 94.1h0M276.7 94.2h0M278.5 96.1h0M278.2 92.9h0M280.8 93.6h0M286.6 96.0h0M284.1 97.1h0M292.7 94.2h0M290.9 96.1h0M293.4 95.2h0M296.0 95.7h0M296.6 94.8h0M298.0 92.6h0M304.4 92.5h0M306.6 94.1h0M307.7 97.5h0M307.4 94.9h0M311.0 96.2h0M313.3 94.7h0M205.6 99.8h0M206.7 97.4h0M213.9 101.0h0M211.4 102.0h0M216.9 102.4h0M215.9 99.9h0M220.9 99.6h0M223.5 100.1h0M226.8 102.7h0M224.4 101.4h0M230.7 101.8h0M228.2 102.6h0M237.9 101.9h0M235.5 100.7h0M240.2 101.6h0M239.9 98.9h0M243.3 99.4h0M245.4 97.8h0M249.1 102.6h0M247.2 100.7h0M257.2 99.3h0M256.4 101.9h0M261.6 98.8h0M260.0 101.0h0M263.5 102.9h0M261.1 101.7h0M266.4 99.3h0M268.1 97.3h0M273.4 100.1h0M272.4 102.7h0M279.6 100.5h0M277.8 98.4h0M284.4 100.8h0M281.8 101.5h0M288.8 100.6h0M287.6 98.2h0M293.0 100.0h0M295.4 101.2h0M295.8 103.5h0M294.5 101.1h0M299.6 99.8h0M302.2 99.1h0M308.3 102.8h0M306.0 101.3h0M312.5 102.8h0M310.2 101.4h0M314.8 100.0h0M316.5 102.0h0M203.6 104.4h0M206.3 104.1h0M209.1 104.0h0M211.5 105.1h0M215.8 105.0h0M217.2 107.2h0M218.0 105.5h0M216.7 103.1h0M223.7 104.1h0M226.4 104.0h0M227.3 104.6h0M229.0 102.5h0M230.2 103.6h0M232.8 102.8h0M235.1 107.3h0M236.1 104.8h0M242.1 105.3h0M244.8 105.2h0M245.7 105.6h0M247.9 104.2h0M251.9 103.9h0M254.3 105.2h0M254.4 102.5h0M257.0 102.8h0M262.1 102.1h0M262.5 104.7h0M267.1 105.0h0M265.9 107.3h0M271.3 106.4h0M268.7 106.9h0M277.5 106.7h0M275.0 105.7h0M278.9 104.2h0M280.7 106.2h0M283.0 103.6h0M285.6 104.0h0M292.1 104.7h0M289.4 104.2h0M295.6 102.6h0M297.5 104.5h0M297.2 102.1h0M299.8 103.1h0M304.7 104.0h0M307.4 104.2h0M307.7 107.2h0M307.6 104.5h0M313.7 106.2h0M314.0 103.6h0M207.5 109.4h0M209.3 111.4h0M212.9 107.5h0M212.3 110.1h0M213.0 110.6h0M214.8 108.7h0M222.0 112.6h0M219.8 111.0h0M227.8 110.5h0M225.3 109.6h0M227.5 109.7h0M228.8 107.4h0M232.4 111.1h0M233.6 108.7h0M239.3 111.2h0M241.6 109.7h0M243.3 110.9h0M241.2 109.3h0M250.7 107.2h0M251.5 109.8h0M253.5 109.8h0M251.2 108.5h0M259.6 108.7h0M258.6 111.2h0M263.1 110.5h0M260.4 110.2h0M269.8 109.7h0M267.7 108.0h0M273.3 109.8h0M270.9 108.7h0M277.0 108.4h0M279.4 109.5h0M285.0 111.6h0M282.5 112.5h0M284.2 109.3h0M285.1 106.8h0M294.6 110.1h0M292.4 111.7h0M297.3 111.8h0M294.9 110.6h0M299.4 111.4h0M300.5 108.9h0M305.7 111.9h0M304.7 109.4h0M311.6 109.8h0M310.4 112.2h0M314.7 107.6h0M317.3 108.1h0M208.9 113.4h0M206.5 114.7h0M212.4 115.6h0M210.9 113.3h0M214.1 116.0h0M212.9 113.6h0M220.7 117.2h0M218.3 116.1h0M222.0 115.2h0M224.5 114.2h0M229.9 112.4h0M232.1 114.0h0M234.1 116.1h0M233.0 113.6h0M236.3 113.8h0M237.9 111.6h0M247.3 115.2h0M244.7 116.0h0M247.3 112.8h0M249.9 112.1h0M252.7 111.9h0M255.1 113.0h0M259.5 114.5h0M261.7 116.0h0M261.3 112.2h0M263.9 112.8h0M265.9 116.7h0M267.3 114.4h0M273.5 113.2h0M272.6 115.7h0M278.7 116.6h0M276.4 115.3h0M281.9 114.8h0M279.2 114.7h0M286.8 115.5h0M285.3 113.2h0M290.0 113.9h0M290.8 111.4h0M294.2 111.5h0M296.4 113.0h0M301.6 114.7h0M299.4 116.3h0M304.3 114.5h0M303.5 112.0h0M312.6 116.4h0M310.3 115.0h0M312.4 116.4h0M313.3 113.9h0M203.6 117.1h0M204.6 119.6h0M210.6 119.2h0M211.7 121.6h0M216.1 120.0h0M213.5 120.6h0M218.8 122.0h0M216.2 121.9h0M221.5 119.0h0M222.9 116.7h0M226.0 119.7h0M225.7 117.1h0M231.9 121.9h0M231.3 119.3h0M236.8 116.2h0M239.1 117.6h0M243.5 120.2h0M241.8 122.3h0M247.7 117.1h0M246.1 119.3h0M251.7 118.5h0M253.8 120.2h0M255.2 117.2h0M257.8 117.9h0M259.0 116.9h0M261.7 116.5h0M265.0 119.3h0M267.4 118.1h0M270.9 118.3h0M271.7 120.8h0M278.1 118.2h0M276.7 120.5h0M280.1 120.6h0M278.1 118.8h0M283.4 122.0h0M282.9 119.4h0M290.1 119.5h0M287.9 118.0h0M294.7 121.4h0M293.6 118.9h0M300.6 121.5h0M298.1 120.5h0M306.3 119.3h0M303.6 119.2h0M307.9 118.4h0M308.6 121.0h0M315.8 117.1h0M314.8 119.6h0M204.0 125.4h0M202.5 123.2h0M208.5 122.4h0M210.7 124.0h0M213.3 125.7h0M213.4 123.0h0M220.3 125.3h0M217.6 125.4h0M223.7 126.3h0M221.0 126.1h0M228.6 122.4h0M231.3 122.5h0M232.7 121.3h0M233.2 123.9h0M234.9 123.6h0M237.6 123.5h0M241.5 126.9h0M239.5 125.1h0M247.0 126.5h0M244.3 126.3h0M251.0 124.1h0M253.7 124.1h0M257.8 125.5h0M255.4 126.7h0M263.2 124.8h0M261.9 127.1h0M268.4 122.0h0M269.3 124.6h0M271.4 127.3h0M269.3 125.6h0M275.8 124.3h0M278.5 124.1h0M277.9 123.2h0M279.7 121.2h0M285.7 122.3h0M287.2 124.5h0M289.0 126.9h0M286.9 125.2h0M292.5 125.0h0M291.9 122.4h0M299.7 121.8h0M301.7 123.5h0M301.3 124.2h0M302.3 121.7h0M308.1 121.9h0M310.8 121.8h0M312.3 122.8h0M315.0 122.4h0M206.1 127.0h0M208.7 126.7h0M210.9 130.5h0M208.4 129.5h0M218.6 127.8h0M216.6 129.5h0M219.9 126.9h0M222.0 128.6h0M224.0 127.8h0M226.5 126.8h0M232.0 129.9h0M230.4 127.8h0M234.1 128.9h0M233.0 126.5h0M243.0 131.4h0M240.3 131.3h0M246.3 130.9h0M243.9 129.8h0M251.1 128.8h0M251.8 131.4h0M256.0 129.2h0M253.5 128.2h0M257.2 131.6h0M255.9 129.3h0M264.5 127.2h0M266.5 128.9h0M270.1 128.4h0M267.4 128.2h0M271.8 129.8h0M273.5 127.7h0M279.8 130.1h0M278.1 132.1h0M282.1 126.8h0M284.7 127.3h0M286.8 131.1h0M286.0 128.6h0M291.5 130.0h0M289.3 128.5h0M299.0 127.4h0M299.8 129.9h0M302.1 128.0h0M301.1 130.5h0M306.0 125.9h0M308.4 127.1h0M310.6 128.5h0M312.4 130.5h0M319.1 128.5h0M316.5 129.1h0M201.1 133.5h0M201.4 130.9h0M208.8 133.7h0M206.2 134.1h0M214.3 135.5h0M211.6 135.1h0M215.2 131.4h0M217.4 132.8h0M221.1 133.8h0M218.8 132.3h0M227.5 130.5h0M229.2 132.6h0M228.7 135.3h0M228.5 132.6h0M234.6 131.3h0M237.3 131.3h0M238.7 134.9h0M239.0 132.2h0M247.4 130.5h0M247.9 133.2h0M246.8 134.0h0M248.3 131.7h0M256.6 132.4h0M257.8 134.8h0M260.9 131.9h0M261.8 134.4h0M264.7 134.3h0M264.6 131.6h0M269.3 132.8h0M266.6 133.1h0M273.4 134.4h0M275.9 133.6h0M280.9 136.0h0M278.3 136.0h0M285.9 134.5h0M283.3 133.8h0M288.9 131.1h0M289.0 133.8h0M291.9 131.3h0M292.6 133.9h0M297.1 131.7h0M298.5 133.9h0M302.3 134.5h0M299.7 134.1h0M305.4 130.6h0M307.1 132.7h0M311.3 133.9h0M308.6 133.6h0M317.3 132.7h0M316.1 135.1h0" stroke="#f0f0f0" stroke-width="0.8" stroke-linecap="round" fill="none"/>
<path d="M206.2 23.1h0M210.7 24.7h0M214.2 23.4h0M220.1 23.0h0M224.5 25.4h0M228.3 25.6h0M232.9 25.6h0M239.9 24.2h0M242.4 23.4h0M249.2 24.6h0M255.0 23.4h0M258.2 25.3h0M263.0 23.2h0M266.0 23.6h0M273.4 23.0h0M276.5 24.5h0M280.6 25.2h0M285.8 25.5h0M290.0 23.3h0M296.1 24.6h0M300.2 22.6h0M305.3 25.5h0M312.1 24.0h0M313.5 23.7h0M200.9 29.1h0M207.9 30.6h0M213.7 27.8h0M218.4 30.7h0M222.6 30.6h0M227.0 30.4h0M230.5 29.6h0M234.3 27.3h0M241.4 28.8h0M244.0 29.4h0M248.4 30.4h0M256.5 30.0h0M259.1 27.8h0M263.1 29.4h0M270.1 27.7h0M275.4 28.3h0M279.3 27.6h0M284.4 28.1h0M289.5 30.6h0M291.5 28.0h0M297.4 30.1h0M302.0 28.0h0M305.4 30.3h0M313.2 30.0h0M316.3 28.8h0M203.0 33.9h0M209.1 33.6h0M214.3 33.4h0M217.0 34.0h0M223.4 33.9h0M227.5 33.8h0M232.9 34.1h0M236.0 35.3h0M242.9 32.4h0M246.2 34.6h0M250.2 35.2h0M256.7 34.8h0M259.9 32.4h0M266.1 34.7h0M268.9 35.0h0M276.3 32.8h0M279.0 35.1h0M284.0 33.1h0M291.1 32.1h0M295.2 32.9h0M298.0 33.3h0M305.3 34.9h0M309.5 34.2h0M313.8 32.2h0M203.9 37.9h0M208.6 37.4h0M213.1 37.2h0M217.3 38.6h0M223.2 38.5h0M227.8 38.0h0M232.7 38.0h0M235.9 38.2h0M242.8 36.8h0M246.3 40.1h0M251.8 36.9h0M255.1 37.5h0M260.2 37.7h0M265.9 38.2h0M270.9 37.4h0M274.0 39.4h0M280.2 39.4h0M283.4 37.6h0M288.4 37.4h0M295.0 37.3h0M298.3 37.8h0M301.2 38.0h0M308.3 39.1h0M313.7 39.0h0M315.6 38.1h0M205.0 43.5h0M208.9 42.6h0M213.7 42.2h0M218.1 41.7h0M225.5 44.3h0M226.9 42.4h0M232.5 43.8h0M237.4 43.1h0M244.2 43.3h0M246.3 44.0h0M252.8 43.4h0M258.8 42.1h0M260.7 42.8h0M266.5 42.7h0M271.7 43.3h0M276.9 42.1h0M280.9 44.8h0M285.0 41.6h0M289.1 42.7h0M296.6 43.9h0M300.8 41.7h0M305.4 43.4h0M310.8 42.1h0M312.8 41.7h0M203.9 47.5h0M210.2 46.8h0M212.1 46.3h0M218.9 47.9h0M222.3 48.0h0M226.1 48.5h0M232.9 49.6h0M238.5 46.7h0M243.2 47.5h0M246.1 46.6h0M251.5 49.4h0M254.8 48.2h0M261.4 48.6h0M264.1 47.2h0M270.8 47.7h0M274.5 47.7h0M279.4 48.8h0M284.1 48.3h0M288.4 48.1h0M293.1 48.2h0M299.8 48.9h0M302.5 46.5h0M307.7 48.6h0M312.1 49.6h0M206.1 53.5h0M208.7 52.3h0M212.4 51.9h0M218.2 53.4h0M223.0 53.2h0M226.6 52.8h0M234.3 53.1h0M237.9 52.8h0M240.9 51.7h0M247.2 53.4h0M252.8 51.4h0M256.9 53.6h0M262.8 52.8h0M264.7 52.3h0M271.1 53.9h0M274.6 52.0h0M281.9 53.6h0M283.6 54.0h0M290.0 54.3h0M294.2 52.5h0M298.7 54.0h0M303.1 53.1h0M309.5 51.3h0M315.2 53.5h0M204.9 56.3h0M209.2 58.7h0M212.8 58.5h0M217.0 58.9h0M224.3 57.2h0M229.0 56.6h0M233.4 57.5h0M237.9 57.9h0M240.4 58.4h0M245.7 56.8h0M251.2 56.3h0M255.1 58.4h0M260.5 59.2h0M265.8 59.1h0M269.9 56.4h0M273.8 56.0h0M280.6 58.8h0M283.8 58.6h0M288.0 56.8h0M293.6 56.3h0M297.9 56.8h0M302.0 56.8h0M307.9 56.2h0M312.8 56.4h0M203.4 60.7h0M208.6 63.0h0M215.6 60.8h0M220.8 60.8h0M222.6 63.8h0M228.9 62.6h0M233.7 62.8h0M238.6 63.6h0M242.5 61.7h0M249.3 63.9h0M252.2 61.7h0M255.8 60.8h0M262.4 60.9h0M265.5 61.7h0M270.0 61.7h0M276.4 62.0h0M280.3 63.9h0M285.3 63.3h0M291.1 61.5h0M294.1 62.1h0M299.5 62.2h0M305.3 61.6h0M310.1 62.1h0M314.7 62.4h0M206.9 66.3h0M212.0 66.6h0M215.4 66.7h0M219.1 66.4h0M224.8 68.3h0M229.5 67.4h0M233.6 66.0h0M240.9 66.0h0M243.0 68.5h0M249.6 68.1h0M255.5 67.6h0M259.3 67.7h0M262.3 66.9h0M269.4 65.7h0M272.2 66.9h0M278.1 68.5h0M281.6 66.7h0M285.7 67.5h0M290.7 67.1h0M297.9 65.7h0M301.9 67.3h0M306.0 68.0h0M311.3 66.8h0M317.3 67.8h0M203.0 70.2h0M209.4 73.0h0M214.3 72.5h0M219.7 71.2h0M224.3 71.1h0M228.1 72.2h0M233.4 73.1h0M238.2 73.0h0M242.6 73.4h0M245.5 71.0h0M253.1 73.0h0M256.2 70.8h0M260.0 73.4h0M265.4 70.9h0M270.3 71.8h0M277.2 73.4h0M280.6 72.0h0M285.7 71.2h0M289.7 71.4h0M296.1 71.6h0M297.8 71.5h0M303.0 73.4h0M310.0 71.9h0M314.8 71.3h0M202.8 77.7h0M208.3 78.2h0M214.1 75.4h0M218.5 77.4h0M222.8 76.3h0M225.9 77.5h0M231.4 77.2h0M235.5 75.9h0M241.1 78.1h0M244.4 76.5h0M250.6 75.5h0M255.0 77.6h0M260.0 77.0h0M264.4 78.1h0M268.4 77.0h0M275.4 77.9h0M278.8 76.0h0M282.7 74.9h0M289.1 77.6h0M294.4 77.9h0M299.7 75.9h0M302.6 76.4h0M308.9 76.6h0M310.9 77.5h0M206.1 82.4h0M208.8 81.0h0M214.7 82.0h0M220.6 82.6h0M225.3 80.3h0M228.1 81.7h0M234.1 82.1h0M237.4 81.5h0M244.9 82.3h0M249.7 81.7h0M253.7 79.8h0M256.4 81.3h0M263.0 82.7h0M266.6 81.3h0M273.0 81.3h0M277.0 82.9h0M283.3 79.8h0M288.1 81.4h0M291.1 80.5h0M296.7 82.6h0M300.3 79.9h0M304.8 81.1h0M311.1 81.7h0M315.5 82.6h0M204.3 87.1h0M207.1 85.1h0M211.5 86.9h0M218.4 84.4h0M224.2 85.3h0M226.8 87.3h0M233.2 85.1h0M235.4 85.2h0M240.8 85.8h0M245.0 85.5h0M250.4 84.8h0M257.4 86.6h0M261.9 86.0h0M264.6 85.4h0M269.1 86.8h0M276.0 85.1h0M278.3 86.0h0M285.4 84.5h0M290.3 87.0h0M293.8 87.5h0M299.7 86.3h0M302.9 86.8h0M308.8 84.4h0M312.2 85.5h0M204.4 92.1h0M210.3 90.4h0M212.5 89.2h0M217.4 91.0h0M223.0 92.0h0M228.1 90.5h0M230.7 90.5h0M236.4 91.9h0M242.7 90.3h0M247.0 89.1h0M252.2 92.1h0M257.5 92.1h0M259.8 91.9h0M265.9 89.1h0M269.5 91.6h0M274.8 89.9h0M279.3 90.5h0M285.6 90.5h0M290.7 91.5h0M294.1 92.4h0M298.1 91.6h0M303.5 90.2h0M307.0 90.3h0M314.8 89.5h0M204.5 95.1h0M207.7 94.9h0M213.9 96.1h0M219.0 94.0h0M223.7 94.5h0M229.6 95.6h0M231.3 95.4h0M237.3 95.0h0M242.4 96.7h0M247.5 96.0h0M251.0 95.7h0M257.4 94.6h0M262.6 96.5h0M265.6 94.6h0M269.5 95.8h0M276.8 95.9h0M279.2 94.3h0M284.9 95.6h0M291.1 94.4h0M294.5 96.5h0M298.2 94.3h0M304.9 94.1h0M308.6 96.1h0M312.7 96.3h0M207.1 99.0h0M212.2 100.5h0M217.4 100.8h0M222.0 100.9h0M226.1 101.1h0M229.2 101.2h0M237.2 100.4h0M241.1 100.1h0M245.0 99.4h0M248.8 100.9h0M255.8 100.3h0M260.0 99.3h0M262.7 101.4h0M268.0 99.0h0M271.9 101.1h0M279.5 98.8h0M282.8 100.1h0M289.1 99.0h0M293.7 101.5h0M296.1 101.8h0M301.1 100.5h0M307.7 101.2h0M311.9 101.2h0M314.9 101.6h0M205.1 105.3h0M209.9 105.5h0M215.6 106.7h0M218.3 103.8h0M225.1 105.1h0M229.0 104.2h0M231.8 104.2h0M236.5 106.5h0M243.5 106.3h0M247.4 105.8h0M252.6 105.5h0M255.6 103.7h0M261.3 103.6h0M265.6 105.7h0M269.8 105.6h0M276.6 105.2h0M279.0 105.9h0M284.1 104.8h0M291.0 103.4h0M295.8 104.3h0M298.1 103.6h0M306.0 105.1h0M308.7 105.8h0M314.9 105.0h0M207.6 111.1h0M211.6 108.6h0M214.6 110.4h0M221.5 110.9h0M226.9 109.1h0M229.1 109.1h0M233.9 110.4h0M241.0 111.4h0M242.9 109.2h0M250.1 108.8h0M252.9 108.3h0M258.1 109.5h0M261.8 109.3h0M269.4 108.0h0M272.5 108.3h0M277.8 109.9h0M283.4 111.0h0M285.6 108.4h0M292.9 110.1h0M296.6 110.3h0M300.9 110.6h0M306.2 110.3h0M310.1 110.6h0M315.8 108.9h0M207.2 113.1h0M212.5 113.9h0M214.4 114.3h0M219.9 115.7h0M223.6 115.6h0M230.4 114.1h0M234.5 114.4h0M238.0 113.3h0M245.7 114.6h0M248.9 113.5h0M253.4 113.4h0M260.0 116.1h0M262.4 113.5h0M267.5 116.1h0M272.1 114.1h0M278.1 115.0h0M280.5 113.7h0M286.9 113.8h0M291.4 113.0h0M294.7 113.1h0M299.9 114.7h0M304.9 113.0h0M312.0 114.8h0M313.8 115.5h0M203.1 118.8h0M210.2 120.8h0M214.6 119.2h0M217.6 120.9h0M223.1 118.3h0M226.9 118.2h0M232.6 120.4h0M237.4 117.8h0M241.9 120.6h0M246.0 117.6h0M252.1 120.2h0M256.2 118.6h0M260.5 117.8h0M266.6 119.7h0M270.3 119.9h0M276.5 118.8h0M279.7 118.9h0M284.2 120.5h0M289.6 117.9h0M295.1 119.7h0M299.8 120.0h0M305.0 118.2h0M307.2 120.0h0M314.3 117.9h0M204.1 123.7h0M209.0 124.1h0M214.4 124.4h0M218.9 124.3h0M222.4 125.2h0M229.9 123.5h0M231.9 122.8h0M236.3 124.6h0M241.2 125.2h0M245.7 125.3h0M252.4 125.1h0M256.1 125.2h0M261.6 125.5h0M267.9 123.7h0M271.0 125.6h0M277.2 125.3h0M279.6 122.9h0M285.6 124.0h0M288.6 125.3h0M293.2 123.5h0M300.0 123.4h0M302.7 123.4h0M309.5 122.9h0M313.8 123.6h0M207.5 127.9h0M210.1 129.0h0M216.9 127.9h0M220.3 128.5h0M225.6 128.3h0M232.0 128.2h0M234.5 127.3h0M241.6 130.3h0M245.5 129.4h0M250.4 130.4h0M255.1 127.7h0M257.4 130.0h0M264.8 128.9h0M268.8 127.3h0M273.5 129.4h0M278.2 130.4h0M283.2 128.1h0M287.4 129.5h0M291.0 128.4h0M298.4 129.0h0M300.6 128.9h0M306.7 127.4h0M310.7 130.2h0M317.5 127.7h0M202.3 132.3h0M207.3 132.9h0M213.1 134.3h0M215.7 133.0h0M220.5 132.2h0M227.5 132.2h0M229.7 133.9h0M235.9 132.3h0M239.9 133.7h0M246.7 132.0h0M248.4 133.4h0M256.2 134.1h0M260.3 133.5h0M265.7 132.9h0M267.8 131.9h0M275.0 135.0h0M279.6 135.0h0M284.9 133.2h0M287.9 132.5h0M291.2 132.8h0M296.9 133.3h0M301.2 133.3h0M305.4 132.3h0M310.0 132.7h0M315.7 133.4h0" stroke="#da2e2e" stroke-width="2.25" stroke-linecap="round" fill="none"/>
<path d="M253.8 42.3h0M293.1 88.2h0M289.6 65.2h0M216.0 75.7h0M300.8 86.1h0M303.9 109.4h0" stroke="#e6c22a" stroke-width="2.4" stroke-linecap="round" fill="none"/>
<path d="M251.2 41.8h0M256.4 42.0h0M293.3 90.8h0M287.1 64.7h0M218.6 75.9h0M218.0 74.0h0M303.4 86.1h0M299.3 84.0h0M305.9 107.6h0" stroke="#3340d8" stroke-width="2.4" stroke-linecap="round" fill="none"/>
<path d="M253.6 38.8h0M288.4 61.9h0M305.0 106.0h0" stroke="#a27ce8" stroke-width="2.2" stroke-linecap="round" fill="none"/>
</g>
<rect x="202.4" y="23.6" width="114.79999999999998" height="114.4" fill="none" stroke="#666" stroke-width="1"/>
<line x1="202.4" y1="23.6" x2="209.4" y2="30.6" stroke="#777" stroke-width="0.7"/>
<line x1="317.2" y1="23.6" x2="310.2" y2="30.6" stroke="#777" stroke-width="0.7"/>
<line x1="202.4" y1="138.0" x2="209.4" y2="131.0" stroke="#777" stroke-width="0.7"/>
<line x1="317.2" y1="138.0" x2="310.2" y2="131.0" stroke="#777" stroke-width="0.7"/>
<text x="78.80" y="15.80" font-size="9.6" text-anchor="middle" fill="#1a1a1a" >SS</text>
<text x="262.00" y="15.60" font-size="9.6" text-anchor="middle" fill="#1a1a1a" >SG-GA-SS cluster</text>
<line x1="141.50" y1="81.20" x2="192.50" y2="81.20" stroke="#111" stroke-width="1.6" />
<polygon points="201,81.2 191,76.4 191,86" fill="#111"/>
<text x="169.20" y="76.00" font-size="8.8" text-anchor="middle" fill="#1a1a1a" >Binding water</text>
<text x="170.60" y="92.00" font-size="8.8" text-anchor="middle" fill="#1a1a1a" >molecules</text>
<line x1="144.00" y1="103.20" x2="154.00" y2="103.20" stroke="#8fd8f0" stroke-width="0.8" />
<text x="158.60" y="105.60" font-size="8.8" text-anchor="start" fill="#1a1a1a" >H bond</text>
<circle cx="146.5" cy="113.6" r="1.2" fill="#f0f0f0" stroke="#999" stroke-width="0.4"/>
<circle cx="152.5" cy="113.6" r="1.2" fill="#f0f0f0" stroke="#999" stroke-width="0.4"/>
<circle cx="149.5" cy="116.2" r="2.0" fill="#dd2a2a"/>
<text x="158.60" y="118.00" font-size="8.8" text-anchor="start" fill="#1a1a1a" >Water</text>
<clipPath id="ph1"><rect x="33.4" y="523.2" width="87.4" height="75.59999999999991"/></clipPath>
<g clip-path="url(#ph1)">
<g filter="url(#blur2)">
<rect x="29.4" y="519.2" width="95.4" height="83.59999999999991" fill="#0e6cb6"/>
<polyline points="29.4,519.2 51.4,527.2" fill="none" stroke="#0b58a4" stroke-width="26.6" stroke-linecap="round" stroke-linejoin="round"/>
<polyline points="29.4,519.2 51.4,527.2" fill="none" stroke="#20a0e4" stroke-width="24.0" stroke-linecap="round" stroke-linejoin="round"/>
<polyline points="26.0,515.8 48.0,523.8" fill="none" stroke="#4cc0f4" stroke-width="8.4" stroke-linecap="round" stroke-linejoin="round" opacity="0.55"/>
<polyline points="27.1,525.5 49.1,533.5" fill="none" stroke="#0b58a4" stroke-width="0.8" stroke-linecap="round" opacity="0.45"/>
<polyline points="31.9,512.4 53.9,520.4" fill="none" stroke="#0b58a4" stroke-width="0.8" stroke-linecap="round" opacity="0.45"/>
<polyline points="33.4,541.2 51.4,547.2 67.4,559.2" fill="none" stroke="#0b58a4" stroke-width="24.6" stroke-linecap="round" stroke-linejoin="round"/>
<polyline points="33.4,541.2 51.4,547.2 67.4,559.2" fill="none" stroke="#20a0e4" stroke-width="22.0" stroke-linecap="round" stroke-linejoin="round"/>
<polyline points="30.3,538.1 48.3,544.1 64.3,556.1" fill="none" stroke="#4cc0f4" stroke-width="7.7" stroke-linecap="round" stroke-linejoin="round" opacity="0.55"/>
<polyline points="30.5,546.6 48.5,552.6 64.5,564.6" fill="none" stroke="#0b58a4" stroke-width="0.8" stroke-linecap="round" opacity="0.45"/>
<polyline points="36.5,535.4 54.5,541.4 70.5,553.4" fill="none" stroke="#0b58a4" stroke-width="0.8" stroke-linecap="round" opacity="0.45"/>
<polyline points="79.4,519.2 79.4,539.2 78.4,555.2" fill="none" stroke="#0b58a4" stroke-width="20.6" stroke-linecap="round" stroke-linejoin="round"/>
<polyline points="79.4,519.2 79.4,539.2 78.4,555.2" fill="none" stroke="#20a0e4" stroke-width="18.0" stroke-linecap="round" stroke-linejoin="round"/>
<polyline points="76.9,516.7 76.9,536.7 75.9,552.7" fill="none" stroke="#4cc0f4" stroke-width="6.3" stroke-linecap="round" stroke-linejoin="round" opacity="0.55"/>
<polyline points="74.4,519.1 74.4,539.1 73.4,555.1" fill="none" stroke="#0b58a4" stroke-width="0.8" stroke-linecap="round" opacity="0.45"/>
<polyline points="84.8,519.3 84.8,539.3 83.8,555.3" fill="none" stroke="#0b58a4" stroke-width="0.8" stroke-linecap="round" opacity="0.45"/>
<polyline points="93.4,519.2 91.4,535.2 89.4,545.2" fill="none" stroke="#0b58a4" stroke-width="14.6" stroke-linecap="round" stroke-linejoin="round"/>
<polyline points="93.4,519.2 91.4,535.2 89.4,545.2" fill="none" stroke="#20a0e4" stroke-width="12.0" stroke-linecap="round" stroke-linejoin="round"/>
<polyline points="91.7,517.5 89.7,533.5 87.7,543.5" fill="none" stroke="#4cc0f4" stroke-width="4.2" stroke-linecap="round" stroke-linejoin="round" opacity="0.55"/>
<polyline points="90.1,518.7 88.1,534.7 86.1,544.7" fill="none" stroke="#0b58a4" stroke-width="0.8" stroke-linecap="round" opacity="0.45"/>
<polyline points="97.0,519.7 95.0,535.7 93.0,545.7" fill="none" stroke="#0b58a4" stroke-width="0.8" stroke-linecap="round" opacity="0.45"/>
<polyline points="125.4,545.2 107.4,551.2 87.4,558.2" fill="none" stroke="#0b58a4" stroke-width="19.6" stroke-linecap="round" stroke-linejoin="round"/>
<polyline points="125.4,545.2 107.4,551.2 87.4,558.2" fill="none" stroke="#20a0e4" stroke-width="17.0" stroke-linecap="round" stroke-linejoin="round"/>
<polyline points="123.0,542.8 105.0,548.8 85.0,555.8" fill="none" stroke="#4cc0f4" stroke-width="5.9" stroke-linecap="round" stroke-linejoin="round" opacity="0.55"/>
<polyline points="123.9,540.7 105.9,546.7 85.9,553.7" fill="none" stroke="#0b58a4" stroke-width="0.8" stroke-linecap="round" opacity="0.45"/>
<polyline points="127.1,550.0 109.1,556.0 89.1,563.0" fill="none" stroke="#0b58a4" stroke-width="0.8" stroke-linecap="round" opacity="0.45"/>
<polyline points="125.4,565.2 103.4,566.2 85.4,567.2" fill="none" stroke="#0b58a4" stroke-width="17.6" stroke-linecap="round" stroke-linejoin="round"/>
<polyline points="125.4,565.2 103.4,566.2 85.4,567.2" fill="none" stroke="#20a0e4" stroke-width="15.0" stroke-linecap="round" stroke-linejoin="round"/>
<polyline points="123.3,563.1 101.3,564.1 83.3,565.1" fill="none" stroke="#4cc0f4" stroke-width="5.2" stroke-linecap="round" stroke-linejoin="round" opacity="0.55"/>
<polyline points="125.2,561.0 103.2,562.0 85.2,563.0" fill="none" stroke="#0b58a4" stroke-width="0.8" stroke-linecap="round" opacity="0.45"/>
<polyline points="125.6,569.7 103.6,570.7 85.6,571.7" fill="none" stroke="#0b58a4" stroke-width="0.8" stroke-linecap="round" opacity="0.45"/>
<polyline points="29.4,561.2 51.4,563.2 68.4,567.2" fill="none" stroke="#0b58a4" stroke-width="16.6" stroke-linecap="round" stroke-linejoin="round"/>
<polyline points="29.4,561.2 51.4,563.2 68.4,567.2" fill="none" stroke="#20a0e4" stroke-width="14.0" stroke-linecap="round" stroke-linejoin="round"/>
<polyline points="27.4,559.2 49.4,561.2 66.4,565.2" fill="none" stroke="#4cc0f4" stroke-width="4.9" stroke-linecap="round" stroke-linejoin="round" opacity="0.55"/>
<polyline points="28.8,565.1 50.8,567.1 67.8,571.1" fill="none" stroke="#0b58a4" stroke-width="0.8" stroke-linecap="round" opacity="0.45"/>
<polyline points="30.0,557.0 52.0,559.0 69.0,563.0" fill="none" stroke="#0b58a4" stroke-width="0.8" stroke-linecap="round" opacity="0.45"/>
<polyline points="29.4,593.2 51.4,584.2 71.4,575.2" fill="none" stroke="#0b58a4" stroke-width="24.6" stroke-linecap="round" stroke-linejoin="round"/>
<polyline points="29.4,593.2 51.4,584.2 71.4,575.2" fill="none" stroke="#20a0e4" stroke-width="22.0" stroke-linecap="round" stroke-linejoin="round"/>
<polyline points="26.3,590.1 48.3,581.1 68.3,572.1" fill="none" stroke="#4cc0f4" stroke-width="7.7" stroke-linecap="round" stroke-linejoin="round" opacity="0.55"/>
<polyline points="31.8,598.9 53.8,589.9 73.8,580.9" fill="none" stroke="#0b58a4" stroke-width="0.8" stroke-linecap="round" opacity="0.45"/>
<polyline points="26.8,587.1 48.8,578.1 68.8,569.1" fill="none" stroke="#0b58a4" stroke-width="0.8" stroke-linecap="round" opacity="0.45"/>
<polyline points="74.4,603.2 75.4,587.2 77.4,576.2" fill="none" stroke="#0b58a4" stroke-width="16.6" stroke-linecap="round" stroke-linejoin="round"/>
<polyline points="74.4,603.2 75.4,587.2 77.4,576.2" fill="none" stroke="#20a0e4" stroke-width="14.0" stroke-linecap="round" stroke-linejoin="round"/>
<polyline points="72.4,601.2 73.4,585.2 75.4,574.2" fill="none" stroke="#4cc0f4" stroke-width="4.9" stroke-linecap="round" stroke-linejoin="round" opacity="0.55"/>
<polyline points="78.3,603.6 79.3,587.6 81.3,576.6" fill="none" stroke="#0b58a4" stroke-width="0.8" stroke-linecap="round" opacity="0.45"/>
<polyline points="70.2,602.7 71.2,586.7 73.2,575.7" fill="none" stroke="#0b58a4" stroke-width="0.8" stroke-linecap="round" opacity="0.45"/>
<polyline points="125.4,591.2 103.4,581.2 82.4,572.2" fill="none" stroke="#0b58a4" stroke-width="26.6" stroke-linecap="round" stroke-linejoin="round"/>
<polyline points="125.4,591.2 103.4,581.2 82.4,572.2" fill="none" stroke="#20a0e4" stroke-width="24.0" stroke-linecap="round" stroke-linejoin="round"/>
<polyline points="122.0,587.8 100.0,577.8 79.0,568.8" fill="none" stroke="#4cc0f4" stroke-width="8.4" stroke-linecap="round" stroke-linejoin="round" opacity="0.55"/>
<polyline points="128.1,585.1 106.1,575.1 85.1,566.1" fill="none" stroke="#0b58a4" stroke-width="0.8" stroke-linecap="round" opacity="0.45"/>
<polyline points="122.5,597.8 100.5,587.8 79.5,578.8" fill="none" stroke="#0b58a4" stroke-width="0.8" stroke-linecap="round" opacity="0.45"/>
<polyline points="95.4,605.2 125.4,605.2" fill="none" stroke="#0b58a4" stroke-width="18.6" stroke-linecap="round" stroke-linejoin="round"/>
<polyline points="95.4,605.2 125.4,605.2" fill="none" stroke="#20a0e4" stroke-width="16.0" stroke-linecap="round" stroke-linejoin="round"/>
<polyline points="93.2,603.0 123.2,603.0" fill="none" stroke="#4cc0f4" stroke-width="5.6" stroke-linecap="round" stroke-linejoin="round" opacity="0.55"/>
<polyline points="95.4,609.7 125.4,609.7" fill="none" stroke="#0b58a4" stroke-width="0.8" stroke-linecap="round" opacity="0.45"/>
<polyline points="95.4,600.4 125.4,600.4" fill="none" stroke="#0b58a4" stroke-width="0.8" stroke-linecap="round" opacity="0.45"/>
<polygon points="46.4,523.2 69.4,523.2 75.4,543.2 78.4,557.2 74.4,561.2 61.4,543.2" fill="#6a6050"/>
<polygon points="49.4,523.2 59.4,523.2 67.4,541.2 63.4,542.2" fill="#8a8070"/>
<polygon points="59.4,523.2 65.4,523.2 76.4,556.2 73.4,558.2" fill="#2a2420"/>
<polygon points="100.4,523.2 121.4,523.2 121.4,538.2 105.4,543.2 98.4,531.2" fill="#3c2818"/>
<ellipse cx="76.4" cy="568.7" rx="3.5" ry="2.0" transform="rotate(0 76.4 568.7)" fill="#b8c0c8"/>
</g></g>
<clipPath id="ph2"><rect x="123.8" y="523.2" width="87.2" height="75.59999999999991"/></clipPath>
<g clip-path="url(#ph2)">
<g filter="url(#blur2)">
<rect x="119.8" y="519.2" width="95.2" height="83.59999999999991" fill="#0e6cb6"/>
<polygon points="123.8,523.2 211.8,523.2 211.8,546.2 123.8,546.2" fill="#2a2a2a"/>
<polygon points="127.8,523.2 153.8,530.2 156.8,538.2 131.8,532.2" fill="#707070"/>
<polyline points="131.8,526.2 151.8,532.2" fill="none" stroke="#a0a0a0" stroke-width="1.5" stroke-linecap="round" stroke-linejoin="round"/>
<polygon points="185.8,523.2 211.8,523.2 211.8,537.2 188.8,540.2" fill="#6a5830"/>
<polygon points="195.8,525.2 208.8,526.2 202.8,532.2" fill="#b09040"/>
<polyline points="119.8,531.2 135.8,540.2 144.8,550.2" fill="none" stroke="#0b58a4" stroke-width="21.6" stroke-linecap="round" stroke-linejoin="round"/>
<polyline points="119.8,531.2 135.8,540.2 144.8,550.2" fill="none" stroke="#20a0e4" stroke-width="19.0" stroke-linecap="round" stroke-linejoin="round"/>
<polyline points="117.1,528.5 133.1,537.5 142.1,547.5" fill="none" stroke="#4cc0f4" stroke-width="6.6" stroke-linecap="round" stroke-linejoin="round" opacity="0.55"/>
<polyline points="116.6,535.4 132.6,544.4 141.6,554.4" fill="none" stroke="#0b58a4" stroke-width="0.8" stroke-linecap="round" opacity="0.45"/>
<polyline points="123.2,526.7 139.2,535.7 148.2,545.7" fill="none" stroke="#0b58a4" stroke-width="0.8" stroke-linecap="round" opacity="0.45"/>
<polyline points="163.8,519.2 163.8,537.2 161.8,549.2" fill="none" stroke="#0b58a4" stroke-width="24.6" stroke-linecap="round" stroke-linejoin="round"/>
<polyline points="163.8,519.2 163.8,537.2 161.8,549.2" fill="none" stroke="#20a0e4" stroke-width="22.0" stroke-linecap="round" stroke-linejoin="round"/>
<polyline points="160.7,516.1 160.7,534.1 158.7,546.1" fill="none" stroke="#4cc0f4" stroke-width="7.7" stroke-linecap="round" stroke-linejoin="round" opacity="0.55"/>
<polyline points="157.7,518.8 157.7,536.8 155.7,548.8" fill="none" stroke="#0b58a4" stroke-width="0.8" stroke-linecap="round" opacity="0.45"/>
<polyline points="170.4,519.6 170.4,537.6 168.4,549.6" fill="none" stroke="#0b58a4" stroke-width="0.8" stroke-linecap="round" opacity="0.45"/>
<polyline points="178.8,519.2 176.8,531.2" fill="none" stroke="#0b58a4" stroke-width="14.6" stroke-linecap="round" stroke-linejoin="round"/>
<polyline points="178.8,519.2 176.8,531.2" fill="none" stroke="#20a0e4" stroke-width="12.0" stroke-linecap="round" stroke-linejoin="round"/>
<polyline points="177.1,517.5 175.1,529.5" fill="none" stroke="#4cc0f4" stroke-width="4.2" stroke-linecap="round" stroke-linejoin="round" opacity="0.55"/>
<polyline points="175.5,518.6 173.5,530.6" fill="none" stroke="#0b58a4" stroke-width="0.8" stroke-linecap="round" opacity="0.45"/>
<polyline points="182.4,519.8 180.4,531.8" fill="none" stroke="#0b58a4" stroke-width="0.8" stroke-linecap="round" opacity="0.45"/>
<polyline points="215.8,540.2 197.8,545.2 183.8,551.2" fill="none" stroke="#0b58a4" stroke-width="24.6" stroke-linecap="round" stroke-linejoin="round"/>
<polyline points="215.8,540.2 197.8,545.2 183.8,551.2" fill="none" stroke="#20a0e4" stroke-width="22.0" stroke-linecap="round" stroke-linejoin="round"/>
<polyline points="212.7,537.1 194.7,542.1 180.7,548.1" fill="none" stroke="#4cc0f4" stroke-width="7.7" stroke-linecap="round" stroke-linejoin="round" opacity="0.55"/>
<polyline points="213.8,534.4 195.8,539.4 181.8,545.4" fill="none" stroke="#0b58a4" stroke-width="0.8" stroke-linecap="round" opacity="0.45"/>
<polyline points="217.9,546.4 199.9,551.4 185.9,557.4" fill="none" stroke="#0b58a4" stroke-width="0.8" stroke-linecap="round" opacity="0.45"/>
<polyline points="119.8,561.2 130.8,565.2 138.8,569.2" fill="none" stroke="#0b58a4" stroke-width="17.6" stroke-linecap="round" stroke-linejoin="round"/>
<polyline points="119.8,561.2 130.8,565.2 138.8,569.2" fill="none" stroke="#20a0e4" stroke-width="15.0" stroke-linecap="round" stroke-linejoin="round"/>
<polyline points="117.7,559.1 128.7,563.1 136.7,567.1" fill="none" stroke="#4cc0f4" stroke-width="5.2" stroke-linecap="round" stroke-linejoin="round" opacity="0.55"/>
<polyline points="118.2,565.1 129.2,569.1 137.2,573.1" fill="none" stroke="#0b58a4" stroke-width="0.8" stroke-linecap="round" opacity="0.45"/>
<polyline points="121.5,557.1 132.5,561.1 140.5,565.1" fill="none" stroke="#0b58a4" stroke-width="0.8" stroke-linecap="round" opacity="0.45"/>
<polyline points="119.8,589.2 137.8,583.2 147.8,580.2" fill="none" stroke="#0b58a4" stroke-width="24.6" stroke-linecap="round" stroke-linejoin="round"/>
<polyline points="119.8,589.2 137.8,583.2 147.8,580.2" fill="none" stroke="#20a0e4" stroke-width="22.0" stroke-linecap="round" stroke-linejoin="round"/>
<polyline points="116.7,586.1 134.7,580.1 144.7,577.1" fill="none" stroke="#4cc0f4" stroke-width="7.7" stroke-linecap="round" stroke-linejoin="round" opacity="0.55"/>
<polyline points="121.7,595.1 139.7,589.1 149.7,586.1" fill="none" stroke="#0b58a4" stroke-width="0.8" stroke-linecap="round" opacity="0.45"/>
<polyline points="117.8,582.9 135.8,576.9 145.8,573.9" fill="none" stroke="#0b58a4" stroke-width="0.8" stroke-linecap="round" opacity="0.45"/>
<polyline points="135.8,603.2 145.8,593.2" fill="none" stroke="#0b58a4" stroke-width="20.6" stroke-linecap="round" stroke-linejoin="round"/>
<polyline points="135.8,603.2 145.8,593.2" fill="none" stroke="#20a0e4" stroke-width="18.0" stroke-linecap="round" stroke-linejoin="round"/>
<polyline points="133.3,600.7 143.3,590.7" fill="none" stroke="#4cc0f4" stroke-width="6.3" stroke-linecap="round" stroke-linejoin="round" opacity="0.55"/>
<polyline points="139.4,606.8 149.4,596.8" fill="none" stroke="#0b58a4" stroke-width="0.8" stroke-linecap="round" opacity="0.45"/>
<polyline points="132.0,599.4 142.0,589.4" fill="none" stroke="#0b58a4" stroke-width="0.8" stroke-linecap="round" opacity="0.45"/>
<polyline points="215.8,577.2 193.8,575.2 177.8,576.2" fill="none" stroke="#0b58a4" stroke-width="26.6" stroke-linecap="round" stroke-linejoin="round"/>
<polyline points="215.8,577.2 193.8,575.2 177.8,576.2" fill="none" stroke="#20a0e4" stroke-width="24.0" stroke-linecap="round" stroke-linejoin="round"/>
<polyline points="212.4,573.8 190.4,571.8 174.4,572.8" fill="none" stroke="#4cc0f4" stroke-width="8.4" stroke-linecap="round" stroke-linejoin="round" opacity="0.55"/>
<polyline points="216.0,570.5 194.0,568.5 178.0,569.5" fill="none" stroke="#0b58a4" stroke-width="0.8" stroke-linecap="round" opacity="0.45"/>
<polyline points="215.6,584.4 193.6,582.4 177.6,583.4" fill="none" stroke="#0b58a4" stroke-width="0.8" stroke-linecap="round" opacity="0.45"/>
<polyline points="177.8,603.2 215.8,599.2" fill="none" stroke="#0b58a4" stroke-width="21.6" stroke-linecap="round" stroke-linejoin="round"/>
<polyline points="177.8,603.2 215.8,599.2" fill="none" stroke="#20a0e4" stroke-width="19.0" stroke-linecap="round" stroke-linejoin="round"/>
<polyline points="175.1,600.5 213.1,596.5" fill="none" stroke="#4cc0f4" stroke-width="6.6" stroke-linecap="round" stroke-linejoin="round" opacity="0.55"/>
<polyline points="178.4,608.5 216.4,604.5" fill="none" stroke="#0b58a4" stroke-width="0.8" stroke-linecap="round" opacity="0.45"/>
<polyline points="177.2,597.5 215.2,593.5" fill="none" stroke="#0b58a4" stroke-width="0.8" stroke-linecap="round" opacity="0.45"/>
<polygon points="142.8,553.2 153.8,550.2 171.8,551.2 179.8,559.2 180.8,569.2 173.8,577.2 163.8,580.2 149.8,577.2 141.8,567.2" fill="#5e6064"/>
<ellipse cx="153.8" cy="559.2" rx="9.0" ry="5.0" transform="rotate(-20 153.8 559.2)" fill="#9a9ea4"/>
<ellipse cx="150.8" cy="558.2" rx="4.0" ry="2.2" transform="rotate(-20 150.8 558.2)" fill="#c4c8cc"/>
<ellipse cx="170.8" cy="569.2" rx="6.0" ry="4.0" transform="rotate(15 170.8 569.2)" fill="#8a8e94"/>
<ellipse cx="165.8" cy="575.2" rx="6.0" ry="3.0" transform="rotate(0 165.8 575.2)" fill="#43454a"/>
<polygon points="154.8,578.2 167.8,578.2 165.8,599.2 156.8,599.2" fill="#36363a"/>
<polygon points="173.8,543.2 181.8,545.2 179.8,553.2 173.8,551.2" fill="#202020"/>
</g></g>
<clipPath id="ph3"><rect x="213.8" y="523.2" width="87.89999999999998" height="75.59999999999991"/></clipPath>
<g clip-path="url(#ph3)">
<g filter="url(#blur2)">
<rect x="209.8" y="519.2" width="95.89999999999998" height="83.59999999999991" fill="#9a9a9a"/>
<polygon points="213.8,537.2 301.8,563.2 301.8,599.2 213.8,599.2" fill="#a4a29a"/>
</g>
<g>
<rect x="216.2" y="541.7" width="5.3" height="5.1" rx="0.8" fill="#4e4c48" transform="rotate(19.8 218.8 544.2)"/>
<rect x="213.8" y="547.8" width="5.3" height="5.1" rx="0.8" fill="#4e4c48" transform="rotate(19.8 216.4 550.3)"/>
<rect x="211.3" y="553.9" width="5.3" height="5.1" rx="0.8" fill="#4e4c48" transform="rotate(19.8 214.0 556.4)"/>
<rect x="209.0" y="560.0" width="5.3" height="5.1" rx="0.8" fill="#4e4c48" transform="rotate(19.8 211.6 562.5)"/>
<rect x="206.6" y="566.1" width="5.3" height="5.1" rx="0.8" fill="#4e4c48" transform="rotate(19.8 209.2 568.6)"/>
<rect x="222.2" y="543.9" width="5.3" height="5.1" rx="0.8" fill="#4e4c48" transform="rotate(19.8 224.9 546.4)"/>
<rect x="219.8" y="550.0" width="5.3" height="5.1" rx="0.8" fill="#4e4c48" transform="rotate(19.8 222.5 552.5)"/>
<rect x="217.4" y="556.1" width="5.3" height="5.1" rx="0.8" fill="#4e4c48" transform="rotate(19.8 220.1 558.6)"/>
<rect x="215.1" y="562.2" width="5.3" height="5.1" rx="0.8" fill="#4e4c48" transform="rotate(19.8 217.7 564.7)"/>
<rect x="212.7" y="568.3" width="5.3" height="5.1" rx="0.8" fill="#4e4c48" transform="rotate(19.8 215.3 570.8)"/>
<rect x="210.2" y="574.4" width="5.3" height="5.1" rx="0.8" fill="#4e4c48" transform="rotate(19.8 212.9 576.9)"/>
<rect x="207.8" y="580.5" width="5.3" height="5.1" rx="0.8" fill="#4e4c48" transform="rotate(19.8 210.5 583.0)"/>
<rect x="205.4" y="586.6" width="5.3" height="5.1" rx="0.8" fill="#4e4c48" transform="rotate(19.8 208.1 589.1)"/>
<rect x="228.3" y="546.1" width="5.3" height="5.1" rx="0.8" fill="#4e4c48" transform="rotate(19.8 231.0 548.6)"/>
<rect x="225.9" y="552.2" width="5.3" height="5.1" rx="0.8" fill="#4e4c48" transform="rotate(19.8 228.6 554.7)"/>
<rect x="223.5" y="558.3" width="5.3" height="5.1" rx="0.8" fill="#4e4c48" transform="rotate(19.8 226.2 560.8)"/>
<rect x="221.2" y="564.4" width="5.3" height="5.1" rx="0.8" fill="#4e4c48" transform="rotate(19.8 223.8 566.9)"/>
<rect x="218.8" y="570.5" width="5.3" height="5.1" rx="0.8" fill="#4e4c48" transform="rotate(19.8 221.4 573.0)"/>
<rect x="216.3" y="576.6" width="5.3" height="5.1" rx="0.8" fill="#4e4c48" transform="rotate(19.8 219.0 579.1)"/>
<rect x="213.9" y="582.7" width="5.3" height="5.1" rx="0.8" fill="#4e4c48" transform="rotate(19.8 216.6 585.2)"/>
<rect x="211.5" y="588.8" width="5.3" height="5.1" rx="0.8" fill="#4e4c48" transform="rotate(19.8 214.2 591.3)"/>
<rect x="209.2" y="594.9" width="5.3" height="5.1" rx="0.8" fill="#4e4c48" transform="rotate(19.8 211.8 597.4)"/>
<rect x="206.8" y="601.0" width="5.3" height="5.1" rx="0.8" fill="#4e4c48" transform="rotate(19.8 209.4 603.5)"/>
<rect x="234.5" y="548.3" width="5.3" height="5.1" rx="0.8" fill="#4e4c48" transform="rotate(19.8 237.1 550.8)"/>
<rect x="232.1" y="554.4" width="5.3" height="5.1" rx="0.8" fill="#4e4c48" transform="rotate(19.8 234.7 556.9)"/>
<rect x="229.7" y="560.5" width="5.3" height="5.1" rx="0.8" fill="#4e4c48" transform="rotate(19.8 232.3 563.0)"/>
<rect x="227.3" y="566.6" width="5.3" height="5.1" rx="0.8" fill="#4e4c48" transform="rotate(19.8 229.9 569.1)"/>
<rect x="224.9" y="572.7" width="5.3" height="5.1" rx="0.8" fill="#4e4c48" transform="rotate(19.8 227.5 575.2)"/>
<rect x="222.5" y="578.8" width="5.3" height="5.1" rx="0.8" fill="#4e4c48" transform="rotate(19.8 225.1 581.3)"/>
<rect x="220.1" y="584.9" width="5.3" height="5.1" rx="0.8" fill="#4e4c48" transform="rotate(19.8 222.7 587.4)"/>
<rect x="217.7" y="591.0" width="5.3" height="5.1" rx="0.8" fill="#4e4c48" transform="rotate(19.8 220.3 593.5)"/>
<rect x="215.3" y="597.1" width="5.3" height="5.1" rx="0.8" fill="#4e4c48" transform="rotate(19.8 217.9 599.6)"/>
<rect x="240.6" y="550.5" width="5.3" height="5.1" rx="0.8" fill="#4e4c48" transform="rotate(19.8 243.2 553.0)"/>
<rect x="238.2" y="556.6" width="5.3" height="5.1" rx="0.8" fill="#4e4c48" transform="rotate(19.8 240.8 559.1)"/>
<rect x="235.8" y="562.7" width="5.3" height="5.1" rx="0.8" fill="#4e4c48" transform="rotate(19.8 238.4 565.2)"/>
<rect x="233.4" y="568.8" width="5.3" height="5.1" rx="0.8" fill="#4e4c48" transform="rotate(19.8 236.0 571.3)"/>
<rect x="231.0" y="574.9" width="5.3" height="5.1" rx="0.8" fill="#4e4c48" transform="rotate(19.8 233.6 577.4)"/>
<rect x="228.6" y="581.0" width="5.3" height="5.1" rx="0.8" fill="#4e4c48" transform="rotate(19.8 231.2 583.5)"/>
<rect x="226.2" y="587.1" width="5.3" height="5.1" rx="0.8" fill="#4e4c48" transform="rotate(19.8 228.8 589.6)"/>
<rect x="223.8" y="593.2" width="5.3" height="5.1" rx="0.8" fill="#4e4c48" transform="rotate(19.8 226.4 595.7)"/>
<rect x="221.4" y="599.2" width="5.3" height="5.1" rx="0.8" fill="#4e4c48" transform="rotate(19.8 224.0 601.8)"/>
<rect x="246.7" y="552.7" width="5.3" height="5.1" rx="0.8" fill="#4e4c48" transform="rotate(19.8 249.3 555.2)"/>
<rect x="244.2" y="558.8" width="5.3" height="5.1" rx="0.8" fill="#4e4c48" transform="rotate(19.8 246.9 561.3)"/>
<rect x="241.8" y="564.9" width="5.3" height="5.1" rx="0.8" fill="#4e4c48" transform="rotate(19.8 244.5 567.4)"/>
<rect x="239.5" y="571.0" width="5.3" height="5.1" rx="0.8" fill="#4e4c48" transform="rotate(19.8 242.1 573.5)"/>
<rect x="237.1" y="577.1" width="5.3" height="5.1" rx="0.8" fill="#4e4c48" transform="rotate(19.8 239.7 579.6)"/>
<rect x="234.7" y="583.2" width="5.3" height="5.1" rx="0.8" fill="#4e4c48" transform="rotate(19.8 237.3 585.7)"/>
<rect x="232.2" y="589.3" width="5.3" height="5.1" rx="0.8" fill="#4e4c48" transform="rotate(19.8 234.9 591.8)"/>
<rect x="229.8" y="595.4" width="5.3" height="5.1" rx="0.8" fill="#4e4c48" transform="rotate(19.8 232.5 597.9)"/>
<rect x="227.5" y="601.5" width="5.3" height="5.1" rx="0.8" fill="#4e4c48" transform="rotate(19.8 230.1 604.0)"/>
<rect x="252.8" y="554.9" width="5.3" height="5.1" rx="0.8" fill="#4e4c48" transform="rotate(19.8 255.4 557.4)"/>
<rect x="250.3" y="561.0" width="5.3" height="5.1" rx="0.8" fill="#4e4c48" transform="rotate(19.8 253.0 563.5)"/>
<rect x="247.9" y="567.1" width="5.3" height="5.1" rx="0.8" fill="#4e4c48" transform="rotate(19.8 250.6 569.6)"/>
<rect x="245.6" y="573.2" width="5.3" height="5.1" rx="0.8" fill="#4e4c48" transform="rotate(19.8 248.2 575.7)"/>
<rect x="243.2" y="579.3" width="5.3" height="5.1" rx="0.8" fill="#4e4c48" transform="rotate(19.8 245.8 581.8)"/>
<rect x="240.8" y="585.4" width="5.3" height="5.1" rx="0.8" fill="#4e4c48" transform="rotate(19.8 243.4 587.9)"/>
<rect x="238.3" y="591.5" width="5.3" height="5.1" rx="0.8" fill="#4e4c48" transform="rotate(19.8 241.0 594.0)"/>
<rect x="235.9" y="597.6" width="5.3" height="5.1" rx="0.8" fill="#4e4c48" transform="rotate(19.8 238.6 600.1)"/>
<rect x="258.9" y="557.1" width="5.3" height="5.1" rx="0.8" fill="#4e4c48" transform="rotate(19.8 261.5 559.6)"/>
<rect x="256.5" y="563.2" width="5.3" height="5.1" rx="0.8" fill="#4e4c48" transform="rotate(19.8 259.1 565.7)"/>
<rect x="254.0" y="569.3" width="5.3" height="5.1" rx="0.8" fill="#4e4c48" transform="rotate(19.8 256.7 571.8)"/>
<rect x="251.7" y="575.4" width="5.3" height="5.1" rx="0.8" fill="#4e4c48" transform="rotate(19.8 254.3 577.9)"/>
<rect x="249.2" y="581.5" width="5.3" height="5.1" rx="0.8" fill="#4e4c48" transform="rotate(19.8 251.9 584.0)"/>
<rect x="246.8" y="587.6" width="5.3" height="5.1" rx="0.8" fill="#4e4c48" transform="rotate(19.8 249.5 590.1)"/>
<rect x="244.4" y="593.7" width="5.3" height="5.1" rx="0.8" fill="#4e4c48" transform="rotate(19.8 247.1 596.2)"/>
<rect x="242.0" y="599.8" width="5.3" height="5.1" rx="0.8" fill="#4e4c48" transform="rotate(19.8 244.7 602.3)"/>
<rect x="265.0" y="559.3" width="5.3" height="5.1" rx="0.8" fill="#4e4c48" transform="rotate(19.8 267.6 561.8)"/>
<rect x="262.6" y="565.4" width="5.3" height="5.1" rx="0.8" fill="#4e4c48" transform="rotate(19.8 265.2 567.9)"/>
<rect x="260.2" y="571.5" width="5.3" height="5.1" rx="0.8" fill="#4e4c48" transform="rotate(19.8 262.8 574.0)"/>
<rect x="257.8" y="577.6" width="5.3" height="5.1" rx="0.8" fill="#4e4c48" transform="rotate(19.8 260.4 580.1)"/>
<rect x="255.3" y="583.7" width="5.3" height="5.1" rx="0.8" fill="#4e4c48" transform="rotate(19.8 258.0 586.2)"/>
<rect x="253.0" y="589.8" width="5.3" height="5.1" rx="0.8" fill="#4e4c48" transform="rotate(19.8 255.6 592.3)"/>
<rect x="250.6" y="595.9" width="5.3" height="5.1" rx="0.8" fill="#4e4c48" transform="rotate(19.8 253.2 598.4)"/>
<rect x="248.2" y="602.0" width="5.3" height="5.1" rx="0.8" fill="#4e4c48" transform="rotate(19.8 250.8 604.5)"/>
<rect x="271.1" y="561.5" width="5.3" height="5.1" rx="0.8" fill="#4e4c48" transform="rotate(19.8 273.7 564.0)"/>
<rect x="268.7" y="567.6" width="5.3" height="5.1" rx="0.8" fill="#4e4c48" transform="rotate(19.8 271.3 570.1)"/>
<rect x="266.2" y="573.7" width="5.3" height="5.1" rx="0.8" fill="#4e4c48" transform="rotate(19.8 268.9 576.2)"/>
<rect x="263.9" y="579.8" width="5.3" height="5.1" rx="0.8" fill="#4e4c48" transform="rotate(19.8 266.5 582.3)"/>
<rect x="261.4" y="585.9" width="5.3" height="5.1" rx="0.8" fill="#4e4c48" transform="rotate(19.8 264.1 588.4)"/>
<rect x="259.1" y="592.0" width="5.3" height="5.1" rx="0.8" fill="#4e4c48" transform="rotate(19.8 261.7 594.5)"/>
<rect x="256.7" y="598.1" width="5.3" height="5.1" rx="0.8" fill="#4e4c48" transform="rotate(19.8 259.3 600.6)"/>
<rect x="277.2" y="563.7" width="5.3" height="5.1" rx="0.8" fill="#4e4c48" transform="rotate(19.8 279.8 566.2)"/>
<rect x="274.8" y="569.8" width="5.3" height="5.1" rx="0.8" fill="#4e4c48" transform="rotate(19.8 277.4 572.3)"/>
<rect x="272.4" y="575.9" width="5.3" height="5.1" rx="0.8" fill="#4e4c48" transform="rotate(19.8 275.0 578.4)"/>
<rect x="270.0" y="582.0" width="5.3" height="5.1" rx="0.8" fill="#4e4c48" transform="rotate(19.8 272.6 584.5)"/>
<rect x="267.6" y="588.1" width="5.3" height="5.1" rx="0.8" fill="#4e4c48" transform="rotate(19.8 270.2 590.6)"/>
<rect x="265.2" y="594.2" width="5.3" height="5.1" rx="0.8" fill="#4e4c48" transform="rotate(19.8 267.8 596.7)"/>
<rect x="262.8" y="600.3" width="5.3" height="5.1" rx="0.8" fill="#4e4c48" transform="rotate(19.8 265.4 602.8)"/>
<rect x="283.2" y="565.9" width="5.3" height="5.1" rx="0.8" fill="#4e4c48" transform="rotate(19.8 285.9 568.4)"/>
<rect x="280.9" y="572.0" width="5.3" height="5.1" rx="0.8" fill="#4e4c48" transform="rotate(19.8 283.5 574.5)"/>
<rect x="278.4" y="578.1" width="5.3" height="5.1" rx="0.8" fill="#4e4c48" transform="rotate(19.8 281.1 580.6)"/>
<rect x="276.1" y="584.2" width="5.3" height="5.1" rx="0.8" fill="#4e4c48" transform="rotate(19.8 278.7 586.7)"/>
<rect x="273.6" y="590.3" width="5.3" height="5.1" rx="0.8" fill="#4e4c48" transform="rotate(19.8 276.3 592.8)"/>
<rect x="271.2" y="596.4" width="5.3" height="5.1" rx="0.8" fill="#4e4c48" transform="rotate(19.8 273.9 598.9)"/>
<rect x="289.4" y="568.1" width="5.3" height="5.1" rx="0.8" fill="#4e4c48" transform="rotate(19.8 292.0 570.6)"/>
<rect x="287.0" y="574.2" width="5.3" height="5.1" rx="0.8" fill="#4e4c48" transform="rotate(19.8 289.6 576.7)"/>
<rect x="284.6" y="580.3" width="5.3" height="5.1" rx="0.8" fill="#4e4c48" transform="rotate(19.8 287.2 582.8)"/>
<rect x="282.2" y="586.4" width="5.3" height="5.1" rx="0.8" fill="#4e4c48" transform="rotate(19.8 284.8 588.9)"/>
<rect x="279.8" y="592.5" width="5.3" height="5.1" rx="0.8" fill="#4e4c48" transform="rotate(19.8 282.4 595.0)"/>
<rect x="277.4" y="598.6" width="5.3" height="5.1" rx="0.8" fill="#4e4c48" transform="rotate(19.8 280.0 601.1)"/>
<rect x="295.5" y="570.3" width="5.3" height="5.1" rx="0.8" fill="#4e4c48" transform="rotate(19.8 298.1 572.8)"/>
<rect x="293.1" y="576.4" width="5.3" height="5.1" rx="0.8" fill="#4e4c48" transform="rotate(19.8 295.7 578.9)"/>
<rect x="290.7" y="582.5" width="5.3" height="5.1" rx="0.8" fill="#4e4c48" transform="rotate(19.8 293.3 585.0)"/>
<rect x="288.3" y="588.6" width="5.3" height="5.1" rx="0.8" fill="#4e4c48" transform="rotate(19.8 290.9 591.1)"/>
<rect x="285.9" y="594.7" width="5.3" height="5.1" rx="0.8" fill="#4e4c48" transform="rotate(19.8 288.5 597.2)"/>
<rect x="283.5" y="600.8" width="5.3" height="5.1" rx="0.8" fill="#4e4c48" transform="rotate(19.8 286.1 603.3)"/>
<rect x="301.6" y="572.5" width="5.3" height="5.1" rx="0.8" fill="#4e4c48" transform="rotate(19.8 304.2 575.0)"/>
<rect x="299.2" y="578.6" width="5.3" height="5.1" rx="0.8" fill="#4e4c48" transform="rotate(19.8 301.8 581.1)"/>
<rect x="296.8" y="584.7" width="5.3" height="5.1" rx="0.8" fill="#4e4c48" transform="rotate(19.8 299.4 587.2)"/>
<rect x="294.4" y="590.8" width="5.3" height="5.1" rx="0.8" fill="#4e4c48" transform="rotate(19.8 297.0 593.3)"/>
<rect x="291.9" y="596.9" width="5.3" height="5.1" rx="0.8" fill="#4e4c48" transform="rotate(19.8 294.6 599.4)"/>
<rect x="302.9" y="586.9" width="5.3" height="5.1" rx="0.8" fill="#4e4c48" transform="rotate(19.8 305.5 589.4)"/>
<rect x="300.5" y="593.0" width="5.3" height="5.1" rx="0.8" fill="#4e4c48" transform="rotate(19.8 303.1 595.5)"/>
<rect x="298.1" y="599.1" width="5.3" height="5.1" rx="0.8" fill="#4e4c48" transform="rotate(19.8 300.7 601.6)"/>
</g>
<g filter="url(#blur2)">
<polygon points="213.8,575.2 225.8,579.2 235.8,599.2 213.8,599.2" fill="#6a6458"/>
<polygon points="220.8,523.2 265.8,523.2 265.8,537.2 244.8,537.2 220.8,532.2" fill="#141414"/>
<polygon points="213.8,531.2 220.8,532.2 244.8,537.2 265.8,537.2 269.8,541.2 213.8,543.2" fill="#6e6e6c"/>
<polyline points="230.8,533.2 244.8,538.2" fill="none" stroke="#b0b0a8" stroke-width="3.0" stroke-linecap="round" stroke-linejoin="round"/>
<polygon points="213.8,523.2 220.8,523.2 220.8,533.2 213.8,534.2" fill="#c87a30"/>
<polygon points="261.8,523.2 301.8,523.2 301.8,560.2 285.8,553.2 268.8,540.2 261.8,535.2" fill="#2a1c10"/>
<polygon points="265.8,530.2 301.8,523.2 301.8,534.2 273.8,543.2" fill="#a89838"/>
<polygon points="271.8,535.2 301.8,531.2 301.8,543.2 279.8,547.2" fill="#7a5a20"/>
<polygon points="285.8,541.2 301.8,537.2 301.8,557.2 289.8,552.2" fill="#b04020"/>
<ellipse cx="297.8" cy="533.2" rx="2.0" ry="1.5" transform="rotate(0 297.8 533.2)" fill="#40a040"/>
<polyline points="257.8,547.2 301.8,567.2" fill="none" stroke="#b4b4b0" stroke-width="2.5" stroke-linecap="round" stroke-linejoin="round"/>
<polyline points="261.8,519.2 253.8,529.2 249.8,533.2" fill="none" stroke="#0b58a4" stroke-width="14.6" stroke-linecap="round" stroke-linejoin="round"/>
<polyline points="261.8,519.2 253.8,529.2 249.8,533.2" fill="none" stroke="#20a0e4" stroke-width="12.0" stroke-linecap="round" stroke-linejoin="round"/>
<polyline points="260.1,517.5 252.1,527.5 248.1,531.5" fill="none" stroke="#4cc0f4" stroke-width="4.2" stroke-linecap="round" stroke-linejoin="round" opacity="0.55"/>
<polyline points="259.2,517.0 251.2,527.0 247.2,531.0" fill="none" stroke="#0b58a4" stroke-width="0.8" stroke-linecap="round" opacity="0.45"/>
<polyline points="264.5,521.5 256.5,531.5 252.5,535.5" fill="none" stroke="#0b58a4" stroke-width="0.8" stroke-linecap="round" opacity="0.45"/>
<polyline points="269.8,519.2 265.8,527.2" fill="none" stroke="#0b58a4" stroke-width="12.6" stroke-linecap="round" stroke-linejoin="round"/>
<polyline points="269.8,519.2 265.8,527.2" fill="none" stroke="#20a0e4" stroke-width="10.0" stroke-linecap="round" stroke-linejoin="round"/>
<polyline points="268.4,517.8 264.4,525.8" fill="none" stroke="#4cc0f4" stroke-width="3.5" stroke-linecap="round" stroke-linejoin="round" opacity="0.55"/>
<polyline points="267.3,517.9 263.3,525.9" fill="none" stroke="#0b58a4" stroke-width="0.8" stroke-linecap="round" opacity="0.45"/>
<polyline points="272.5,520.5 268.5,528.5" fill="none" stroke="#0b58a4" stroke-width="0.8" stroke-linecap="round" opacity="0.45"/>
<polyline points="210.8,545.2 216.8,550.2" fill="none" stroke="#0b58a4" stroke-width="8.6" stroke-linecap="round" stroke-linejoin="round"/>
<polyline points="210.8,545.2 216.8,550.2" fill="none" stroke="#20a0e4" stroke-width="6.0" stroke-linecap="round" stroke-linejoin="round"/>
<polyline points="210.0,544.4 216.0,549.4" fill="none" stroke="#4cc0f4" stroke-width="2.1" stroke-linecap="round" stroke-linejoin="round" opacity="0.55"/>
<polyline points="209.7,546.5 215.7,551.5" fill="none" stroke="#0b58a4" stroke-width="0.8" stroke-linecap="round" opacity="0.45"/>
<polyline points="212.0,543.8 218.0,548.8" fill="none" stroke="#0b58a4" stroke-width="0.8" stroke-linecap="round" opacity="0.45"/>
<polyline points="208.8,567.2 221.8,573.2 225.8,576.2" fill="none" stroke="#0b58a4" stroke-width="12.6" stroke-linecap="round" stroke-linejoin="round"/>
<polyline points="208.8,567.2 221.8,573.2 225.8,576.2" fill="none" stroke="#20a0e4" stroke-width="10.0" stroke-linecap="round" stroke-linejoin="round"/>
<polyline points="207.4,565.8 220.4,571.8 224.4,574.8" fill="none" stroke="#4cc0f4" stroke-width="3.5" stroke-linecap="round" stroke-linejoin="round" opacity="0.55"/>
<polyline points="207.5,569.7 220.5,575.7 224.5,578.7" fill="none" stroke="#0b58a4" stroke-width="0.8" stroke-linecap="round" opacity="0.45"/>
<polyline points="210.2,564.5 223.2,570.5 227.2,573.5" fill="none" stroke="#0b58a4" stroke-width="0.8" stroke-linecap="round" opacity="0.45"/>
<polyline points="207.8,599.2 231.8,593.2 245.8,590.2" fill="none" stroke="#0b58a4" stroke-width="16.6" stroke-linecap="round" stroke-linejoin="round"/>
<polyline points="207.8,599.2 231.8,593.2 245.8,590.2" fill="none" stroke="#20a0e4" stroke-width="14.0" stroke-linecap="round" stroke-linejoin="round"/>
<polyline points="205.8,597.2 229.8,591.2 243.8,588.2" fill="none" stroke="#4cc0f4" stroke-width="4.9" stroke-linecap="round" stroke-linejoin="round" opacity="0.55"/>
<polyline points="208.7,603.0 232.7,597.0 246.7,594.0" fill="none" stroke="#0b58a4" stroke-width="0.8" stroke-linecap="round" opacity="0.45"/>
<polyline points="206.8,595.1 230.8,589.1 244.8,586.1" fill="none" stroke="#0b58a4" stroke-width="0.8" stroke-linecap="round" opacity="0.45"/>
<polyline points="307.8,593.2 289.8,591.2 277.8,593.2" fill="none" stroke="#0b58a4" stroke-width="16.6" stroke-linecap="round" stroke-linejoin="round"/>
<polyline points="307.8,593.2 289.8,591.2 277.8,593.2" fill="none" stroke="#20a0e4" stroke-width="14.0" stroke-linecap="round" stroke-linejoin="round"/>
<polyline points="305.8,591.2 287.8,589.2 275.8,591.2" fill="none" stroke="#4cc0f4" stroke-width="4.9" stroke-linecap="round" stroke-linejoin="round" opacity="0.55"/>
<polyline points="307.8,589.3 289.8,587.3 277.8,589.3" fill="none" stroke="#0b58a4" stroke-width="0.8" stroke-linecap="round" opacity="0.45"/>
<polyline points="307.8,597.4 289.8,595.4 277.8,597.4" fill="none" stroke="#0b58a4" stroke-width="0.8" stroke-linecap="round" opacity="0.45"/>
<polyline points="305.8,559.2 299.8,567.2" fill="none" stroke="#0b58a4" stroke-width="8.6" stroke-linecap="round" stroke-linejoin="round"/>
<polyline points="305.8,559.2 299.8,567.2" fill="none" stroke="#20a0e4" stroke-width="6.0" stroke-linecap="round" stroke-linejoin="round"/>
<polyline points="305.0,558.4 299.0,566.4" fill="none" stroke="#4cc0f4" stroke-width="2.1" stroke-linecap="round" stroke-linejoin="round" opacity="0.55"/>
<polyline points="304.5,558.2 298.5,566.2" fill="none" stroke="#0b58a4" stroke-width="0.8" stroke-linecap="round" opacity="0.45"/>
<polyline points="307.2,560.3 301.2,568.3" fill="none" stroke="#0b58a4" stroke-width="0.8" stroke-linecap="round" opacity="0.45"/>
</g></g>
<clipPath id="ph4"><rect x="33.4" y="622.9" width="87.4" height="76.70000000000005"/></clipPath>
<g clip-path="url(#ph4)">
<g filter="url(#blur2)">
<rect x="29.4" y="618.9" width="95.4" height="84.70000000000005" fill="#1878c8"/>
<polyline points="29.4,618.9 45.4,636.9 63.4,654.9" fill="none" stroke="#2084cc" stroke-width="30.6" stroke-linecap="round" stroke-linejoin="round"/>
<polyline points="29.4,618.9 45.4,636.9 63.4,654.9" fill="none" stroke="#42baf0" stroke-width="28.0" stroke-linecap="round" stroke-linejoin="round"/>
<polyline points="25.5,615.0 41.5,633.0 59.5,651.0" fill="none" stroke="#8cdafa" stroke-width="9.8" stroke-linecap="round" stroke-linejoin="round" opacity="0.55"/>
<polyline points="23.7,624.3 39.7,642.3 57.7,660.3" fill="none" stroke="#2084cc" stroke-width="0.8" stroke-linecap="round" opacity="0.45"/>
<polyline points="35.5,613.1 51.5,631.1 69.5,649.1" fill="none" stroke="#2084cc" stroke-width="0.8" stroke-linecap="round" opacity="0.45"/>
<polyline points="59.4,618.9 66.4,636.9 73.4,652.9" fill="none" stroke="#2084cc" stroke-width="22.6" stroke-linecap="round" stroke-linejoin="round"/>
<polyline points="59.4,618.9 66.4,636.9 73.4,652.9" fill="none" stroke="#42baf0" stroke-width="20.0" stroke-linecap="round" stroke-linejoin="round"/>
<polyline points="56.6,616.1 63.6,634.1 70.6,650.1" fill="none" stroke="#8cdafa" stroke-width="7.0" stroke-linecap="round" stroke-linejoin="round" opacity="0.55"/>
<polyline points="54.2,621.0 61.2,639.0 68.2,655.0" fill="none" stroke="#2084cc" stroke-width="0.8" stroke-linecap="round" opacity="0.45"/>
<polyline points="64.9,616.6 71.9,634.6 78.9,650.6" fill="none" stroke="#2084cc" stroke-width="0.8" stroke-linecap="round" opacity="0.45"/>
<polyline points="84.4,618.9 85.4,636.9 82.4,650.9" fill="none" stroke="#2084cc" stroke-width="19.6" stroke-linecap="round" stroke-linejoin="round"/>
<polyline points="84.4,618.9 85.4,636.9 82.4,650.9" fill="none" stroke="#42baf0" stroke-width="17.0" stroke-linecap="round" stroke-linejoin="round"/>
<polyline points="82.0,616.5 83.0,634.5 80.0,648.5" fill="none" stroke="#8cdafa" stroke-width="5.9" stroke-linecap="round" stroke-linejoin="round" opacity="0.55"/>
<polyline points="79.6,618.6 80.6,636.6 77.6,650.6" fill="none" stroke="#2084cc" stroke-width="0.8" stroke-linecap="round" opacity="0.45"/>
<polyline points="89.5,619.2 90.5,637.2 87.5,651.2" fill="none" stroke="#2084cc" stroke-width="0.8" stroke-linecap="round" opacity="0.45"/>
<polyline points="125.4,640.9 103.4,647.9 86.4,653.9" fill="none" stroke="#2084cc" stroke-width="21.6" stroke-linecap="round" stroke-linejoin="round"/>
<polyline points="125.4,640.9 103.4,647.9 86.4,653.9" fill="none" stroke="#42baf0" stroke-width="19.0" stroke-linecap="round" stroke-linejoin="round"/>
<polyline points="122.7,638.2 100.7,645.2 83.7,651.2" fill="none" stroke="#8cdafa" stroke-width="6.6" stroke-linecap="round" stroke-linejoin="round" opacity="0.55"/>
<polyline points="123.7,635.9 101.7,642.9 84.7,648.9" fill="none" stroke="#2084cc" stroke-width="0.8" stroke-linecap="round" opacity="0.45"/>
<polyline points="127.2,646.3 105.2,653.3 88.2,659.3" fill="none" stroke="#2084cc" stroke-width="0.8" stroke-linecap="round" opacity="0.45"/>
<polyline points="125.4,658.9 103.4,657.9 84.4,659.9" fill="none" stroke="#3a98d6" stroke-width="21.6" stroke-linecap="round" stroke-linejoin="round"/>
<polyline points="125.4,658.9 103.4,657.9 84.4,659.9" fill="none" stroke="#6ccaf4" stroke-width="19.0" stroke-linecap="round" stroke-linejoin="round"/>
<polyline points="122.7,656.2 100.7,655.2 81.7,657.2" fill="none" stroke="#aee6fc" stroke-width="6.6" stroke-linecap="round" stroke-linejoin="round" opacity="0.55"/>
<polyline points="125.3,653.6 103.3,652.6 84.3,654.6" fill="none" stroke="#3a98d6" stroke-width="0.8" stroke-linecap="round" opacity="0.45"/>
<polyline points="125.5,664.6 103.5,663.6 84.5,665.6" fill="none" stroke="#3a98d6" stroke-width="0.8" stroke-linecap="round" opacity="0.45"/>
<polyline points="29.4,667.9 51.4,667.9 68.4,665.9" fill="none" stroke="#2084cc" stroke-width="19.6" stroke-linecap="round" stroke-linejoin="round"/>
<polyline points="29.4,667.9 51.4,667.9 68.4,665.9" fill="none" stroke="#42baf0" stroke-width="17.0" stroke-linecap="round" stroke-linejoin="round"/>
<polyline points="27.0,665.5 49.0,665.5 66.0,663.5" fill="none" stroke="#8cdafa" stroke-width="5.9" stroke-linecap="round" stroke-linejoin="round" opacity="0.55"/>
<polyline points="29.6,672.7 51.6,672.7 68.6,670.7" fill="none" stroke="#2084cc" stroke-width="0.8" stroke-linecap="round" opacity="0.45"/>
<polyline points="29.1,662.8 51.1,662.8 68.1,660.8" fill="none" stroke="#2084cc" stroke-width="0.8" stroke-linecap="round" opacity="0.45"/>
<polyline points="29.4,690.9 51.4,680.9 70.4,670.9" fill="none" stroke="#2084cc" stroke-width="24.6" stroke-linecap="round" stroke-linejoin="round"/>
<polyline points="29.4,690.9 51.4,680.9 70.4,670.9" fill="none" stroke="#42baf0" stroke-width="22.0" stroke-linecap="round" stroke-linejoin="round"/>
<polyline points="26.3,687.8 48.3,677.8 67.3,667.8" fill="none" stroke="#8cdafa" stroke-width="7.7" stroke-linecap="round" stroke-linejoin="round" opacity="0.55"/>
<polyline points="32.1,696.4 54.1,686.4 73.1,676.4" fill="none" stroke="#2084cc" stroke-width="0.8" stroke-linecap="round" opacity="0.45"/>
<polyline points="26.5,685.0 48.5,675.0 67.5,665.0" fill="none" stroke="#2084cc" stroke-width="0.8" stroke-linecap="round" opacity="0.45"/>
<polyline points="72.4,702.9 73.4,682.9 77.4,672.9" fill="none" stroke="#2084cc" stroke-width="19.6" stroke-linecap="round" stroke-linejoin="round"/>
<polyline points="72.4,702.9 73.4,682.9 77.4,672.9" fill="none" stroke="#42baf0" stroke-width="17.0" stroke-linecap="round" stroke-linejoin="round"/>
<polyline points="70.0,700.5 71.0,680.5 75.0,670.5" fill="none" stroke="#8cdafa" stroke-width="5.9" stroke-linecap="round" stroke-linejoin="round" opacity="0.55"/>
<polyline points="77.1,703.7 78.1,683.7 82.1,673.7" fill="none" stroke="#2084cc" stroke-width="0.8" stroke-linecap="round" opacity="0.45"/>
<polyline points="67.4,702.1 68.4,682.1 72.4,672.1" fill="none" stroke="#2084cc" stroke-width="0.8" stroke-linecap="round" opacity="0.45"/>
<polyline points="125.4,686.9 103.4,677.9 84.4,669.9" fill="none" stroke="#3a98d6" stroke-width="29.6" stroke-linecap="round" stroke-linejoin="round"/>
<polyline points="125.4,686.9 103.4,677.9 84.4,669.9" fill="none" stroke="#6ccaf4" stroke-width="27.0" stroke-linecap="round" stroke-linejoin="round"/>
<polyline points="121.6,683.1 99.6,674.1 80.6,666.1" fill="none" stroke="#aee6fc" stroke-width="9.4" stroke-linecap="round" stroke-linejoin="round" opacity="0.55"/>
<polyline points="128.3,679.9 106.3,670.9 87.3,662.9" fill="none" stroke="#3a98d6" stroke-width="0.8" stroke-linecap="round" opacity="0.45"/>
<polyline points="122.3,694.4 100.3,685.4 81.3,677.4" fill="none" stroke="#3a98d6" stroke-width="0.8" stroke-linecap="round" opacity="0.45"/>
<polyline points="85.4,704.9 125.4,702.9" fill="none" stroke="#3a98d6" stroke-width="19.6" stroke-linecap="round" stroke-linejoin="round"/>
<polyline points="85.4,704.9 125.4,702.9" fill="none" stroke="#6ccaf4" stroke-width="17.0" stroke-linecap="round" stroke-linejoin="round"/>
<polyline points="83.0,702.5 123.0,700.5" fill="none" stroke="#aee6fc" stroke-width="5.9" stroke-linecap="round" stroke-linejoin="round" opacity="0.55"/>
<polyline points="85.6,709.7 125.6,707.7" fill="none" stroke="#3a98d6" stroke-width="0.8" stroke-linecap="round" opacity="0.45"/>
<polyline points="85.1,699.8 125.1,697.8" fill="none" stroke="#3a98d6" stroke-width="0.8" stroke-linecap="round" opacity="0.45"/>
<polygon points="100.4,622.9 121.4,622.9 121.4,638.9 102.4,641.9" fill="#c07830"/>
<polygon points="103.4,625.9 118.4,624.9 114.4,632.9" fill="#e0a040"/>
<polygon points="69.4,652.9 83.4,655.9 81.4,666.9 71.4,664.9" fill="#1c2430"/>
<ellipse cx="75.4" cy="665.9" rx="2.6" ry="1.6" transform="rotate(0 75.4 665.9)" fill="#d0d8e0"/>
</g></g>
<clipPath id="ph5"><rect x="123.8" y="622.9" width="87.2" height="76.70000000000005"/></clipPath>
<g clip-path="url(#ph5)">
<g filter="url(#blur2)">
<rect x="119.8" y="618.9" width="95.2" height="84.70000000000005" fill="#1878c8"/>
<polygon points="131.8,622.9 193.8,622.9 185.8,652.9 153.8,648.9" fill="#141418"/>
<polygon points="189.8,622.9 211.8,622.9 211.8,648.9 191.8,650.9" fill="#a05428"/>
<polyline points="191.8,630.9 211.8,626.9" fill="none" stroke="#d0a030" stroke-width="3.0" stroke-linecap="round" stroke-linejoin="round"/>
<polyline points="191.8,640.9 211.8,636.9" fill="none" stroke="#d0a030" stroke-width="3.0" stroke-linecap="round" stroke-linejoin="round"/>
<polygon points="193.8,632.9 211.8,630.9 211.8,634.9 193.8,636.9" fill="#6a2420"/>
<polygon points="143.8,640.9 187.8,644.9 193.8,680.9 143.8,680.9" fill="#9ea0a8"/>
<polygon points="149.8,640.9 179.8,644.9 183.8,656.9 161.8,654.9" fill="#4a4c58"/>
<ellipse cx="157.8" cy="660.9" rx="8.0" ry="5.0" transform="rotate(-10 157.8 660.9)" fill="#c8cad0"/>
<ellipse cx="173.8" cy="668.9" rx="8.0" ry="5.0" transform="rotate(0 173.8 668.9)" fill="#b0b2b8"/>
<polygon points="163.8,674.9 191.8,674.9 191.8,698.9 163.8,698.9" fill="#b8b8bc"/>
</g>
<g>
<rect x="169.6" y="680.7" width="8.4" height="8.4" rx="0.8" fill="#4c4648" transform="rotate(0.0 173.8 684.9)"/>
<rect x="169.6" y="690.2" width="8.4" height="8.4" rx="0.8" fill="#4c4648" transform="rotate(0.0 173.8 694.4)"/>
<rect x="169.6" y="699.7" width="8.4" height="8.4" rx="0.8" fill="#4c4648" transform="rotate(0.0 173.8 703.9)"/>
<rect x="179.1" y="680.7" width="8.4" height="8.4" rx="0.8" fill="#4c4648" transform="rotate(0.0 183.3 684.9)"/>
<rect x="179.1" y="690.2" width="8.4" height="8.4" rx="0.8" fill="#4c4648" transform="rotate(0.0 183.3 694.4)"/>
<rect x="179.1" y="699.7" width="8.4" height="8.4" rx="0.8" fill="#4c4648" transform="rotate(0.0 183.3 703.9)"/>
<rect x="188.6" y="680.7" width="8.4" height="8.4" rx="0.8" fill="#4c4648" transform="rotate(0.0 192.8 684.9)"/>
<rect x="188.6" y="690.2" width="8.4" height="8.4" rx="0.8" fill="#4c4648" transform="rotate(0.0 192.8 694.4)"/>
<rect x="188.6" y="699.7" width="8.4" height="8.4" rx="0.8" fill="#4c4648" transform="rotate(0.0 192.8 703.9)"/>
</g>
<g filter="url(#blur2)">
<polyline points="119.8,618.9 131.8,634.9 141.8,648.9" fill="none" stroke="#2084cc" stroke-width="28.6" stroke-linecap="round" stroke-linejoin="round"/>
<polyline points="119.8,618.9 131.8,634.9 141.8,648.9" fill="none" stroke="#42baf0" stroke-width="26.0" stroke-linecap="round" stroke-linejoin="round"/>
<polyline points="116.2,615.3 128.2,631.3 138.2,645.3" fill="none" stroke="#8cdafa" stroke-width="9.1" stroke-linecap="round" stroke-linejoin="round" opacity="0.55"/>
<polyline points="113.9,623.2 125.9,639.2 135.9,653.2" fill="none" stroke="#2084cc" stroke-width="0.8" stroke-linecap="round" opacity="0.45"/>
<polyline points="126.1,614.3 138.1,630.3 148.1,644.3" fill="none" stroke="#2084cc" stroke-width="0.8" stroke-linecap="round" opacity="0.45"/>
<polyline points="153.8,618.9 165.8,628.9 173.8,638.9" fill="none" stroke="#2084cc" stroke-width="22.6" stroke-linecap="round" stroke-linejoin="round"/>
<polyline points="153.8,618.9 165.8,628.9 173.8,638.9" fill="none" stroke="#42baf0" stroke-width="20.0" stroke-linecap="round" stroke-linejoin="round"/>
<polyline points="151.0,616.1 163.0,626.1 171.0,636.1" fill="none" stroke="#8cdafa" stroke-width="7.0" stroke-linecap="round" stroke-linejoin="round" opacity="0.55"/>
<polyline points="149.8,622.9 161.8,632.9 169.8,642.9" fill="none" stroke="#2084cc" stroke-width="0.8" stroke-linecap="round" opacity="0.45"/>
<polyline points="158.0,614.7 170.0,624.7 178.0,634.7" fill="none" stroke="#2084cc" stroke-width="0.8" stroke-linecap="round" opacity="0.45"/>
<polyline points="119.8,664.9 131.8,666.9 137.8,668.9" fill="none" stroke="#2084cc" stroke-width="16.6" stroke-linecap="round" stroke-linejoin="round"/>
<polyline points="119.8,664.9 131.8,666.9 137.8,668.9" fill="none" stroke="#42baf0" stroke-width="14.0" stroke-linecap="round" stroke-linejoin="round"/>
<polyline points="117.8,662.9 129.8,664.9 135.8,666.9" fill="none" stroke="#8cdafa" stroke-width="4.9" stroke-linecap="round" stroke-linejoin="round" opacity="0.55"/>
<polyline points="118.9,668.7 130.9,670.7 136.9,672.7" fill="none" stroke="#2084cc" stroke-width="0.8" stroke-linecap="round" opacity="0.45"/>
<polyline points="120.7,660.8 132.7,662.8 138.7,664.8" fill="none" stroke="#2084cc" stroke-width="0.8" stroke-linecap="round" opacity="0.45"/>
<polyline points="119.8,690.9 137.8,684.9 149.8,682.9" fill="none" stroke="#2084cc" stroke-width="20.6" stroke-linecap="round" stroke-linejoin="round"/>
<polyline points="119.8,690.9 137.8,684.9 149.8,682.9" fill="none" stroke="#42baf0" stroke-width="18.0" stroke-linecap="round" stroke-linejoin="round"/>
<polyline points="117.3,688.4 135.3,682.4 147.3,680.4" fill="none" stroke="#8cdafa" stroke-width="6.3" stroke-linecap="round" stroke-linejoin="round" opacity="0.55"/>
<polyline points="121.1,695.8 139.1,689.8 151.1,687.8" fill="none" stroke="#2084cc" stroke-width="0.8" stroke-linecap="round" opacity="0.45"/>
<polyline points="118.4,685.7 136.4,679.7 148.4,677.7" fill="none" stroke="#2084cc" stroke-width="0.8" stroke-linecap="round" opacity="0.45"/>
<polyline points="137.8,702.9 157.8,698.9" fill="none" stroke="#2084cc" stroke-width="16.6" stroke-linecap="round" stroke-linejoin="round"/>
<polyline points="137.8,702.9 157.8,698.9" fill="none" stroke="#42baf0" stroke-width="14.0" stroke-linecap="round" stroke-linejoin="round"/>
<polyline points="135.8,700.9 155.8,696.9" fill="none" stroke="#8cdafa" stroke-width="4.9" stroke-linecap="round" stroke-linejoin="round" opacity="0.55"/>
<polyline points="138.6,706.7 158.6,702.7" fill="none" stroke="#2084cc" stroke-width="0.8" stroke-linecap="round" opacity="0.45"/>
<polyline points="137.0,698.8 157.0,694.8" fill="none" stroke="#2084cc" stroke-width="0.8" stroke-linecap="round" opacity="0.45"/>
<polyline points="215.8,648.9 203.8,654.9 195.8,658.9" fill="none" stroke="#2084cc" stroke-width="18.6" stroke-linecap="round" stroke-linejoin="round"/>
<polyline points="215.8,648.9 203.8,654.9 195.8,658.9" fill="none" stroke="#42baf0" stroke-width="16.0" stroke-linecap="round" stroke-linejoin="round"/>
<polyline points="213.6,646.7 201.6,652.7 193.6,656.7" fill="none" stroke="#8cdafa" stroke-width="5.6" stroke-linecap="round" stroke-linejoin="round" opacity="0.55"/>
<polyline points="213.8,644.9 201.8,650.9 193.8,654.9" fill="none" stroke="#2084cc" stroke-width="0.8" stroke-linecap="round" opacity="0.45"/>
<polyline points="217.9,653.2 205.9,659.2 197.9,663.2" fill="none" stroke="#2084cc" stroke-width="0.8" stroke-linecap="round" opacity="0.45"/>
<polyline points="215.8,674.9 201.8,670.9 189.8,668.9" fill="none" stroke="#3a98d6" stroke-width="22.6" stroke-linecap="round" stroke-linejoin="round"/>
<polyline points="215.8,674.9 201.8,670.9 189.8,668.9" fill="none" stroke="#6ccaf4" stroke-width="20.0" stroke-linecap="round" stroke-linejoin="round"/>
<polyline points="213.0,672.1 199.0,668.1 187.0,666.1" fill="none" stroke="#aee6fc" stroke-width="7.0" stroke-linecap="round" stroke-linejoin="round" opacity="0.55"/>
<polyline points="217.1,669.4 203.1,665.4 191.1,663.4" fill="none" stroke="#3a98d6" stroke-width="0.8" stroke-linecap="round" opacity="0.45"/>
<polyline points="214.5,680.7 200.5,676.7 188.5,674.7" fill="none" stroke="#3a98d6" stroke-width="0.8" stroke-linecap="round" opacity="0.45"/>
<polyline points="213.8,702.9 199.8,692.9 191.8,688.9" fill="none" stroke="#3a98d6" stroke-width="20.6" stroke-linecap="round" stroke-linejoin="round"/>
<polyline points="213.8,702.9 199.8,692.9 191.8,688.9" fill="none" stroke="#6ccaf4" stroke-width="18.0" stroke-linecap="round" stroke-linejoin="round"/>
<polyline points="211.3,700.4 197.3,690.4 189.3,686.4" fill="none" stroke="#aee6fc" stroke-width="6.3" stroke-linecap="round" stroke-linejoin="round" opacity="0.55"/>
<polyline points="216.5,698.6 202.5,688.6 194.5,684.6" fill="none" stroke="#3a98d6" stroke-width="0.8" stroke-linecap="round" opacity="0.45"/>
<polyline points="210.9,707.5 196.9,697.5 188.9,693.5" fill="none" stroke="#3a98d6" stroke-width="0.8" stroke-linecap="round" opacity="0.45"/>
<polygon points="178.8,648.9 195.8,644.9 200.8,652.9 185.8,657.9" fill="#151520"/>
</g></g>
<clipPath id="ph6"><rect x="213.8" y="622.9" width="87.89999999999998" height="76.70000000000005"/></clipPath>
<g clip-path="url(#ph6)">
<g filter="url(#blur2)">
<rect x="209.8" y="618.9" width="95.89999999999998" height="84.70000000000005" fill="#d4d6dc"/>
<polygon points="213.8,622.9 301.8,622.9 301.8,699.9 213.8,699.9" fill="#d4d6dc"/>
<polygon points="233.8,622.9 301.8,622.9 301.8,639.9 235.8,636.9" fill="#2a2628"/>
<polygon points="251.8,622.9 301.8,622.9 301.8,633.9 253.8,629.9" fill="#8a7040"/>
<polyline points="255.8,624.9 301.8,623.9" fill="none" stroke="#b89858" stroke-width="1.5" stroke-linecap="round" stroke-linejoin="round"/>
<polyline points="257.8,628.9 301.8,626.9" fill="none" stroke="#c8a060" stroke-width="2.0" stroke-linecap="round" stroke-linejoin="round"/>
<polygon points="287.8,626.9 301.8,626.9 301.8,642.9 291.8,640.9" fill="#b07030"/>
<ellipse cx="275.8" cy="635.9" rx="11.0" ry="4.5" transform="rotate(0 275.8 635.9)" fill="#383040"/>
<polygon points="217.8,639.9 243.8,640.9 245.8,656.9 221.8,660.9" fill="#2a2a30"/>
<polygon points="225.8,644.9 291.8,652.9 289.8,686.9 219.8,678.9" fill="#c6c8ce"/>
</g>
<g>
<rect x="228.4" y="645.9" width="6.8" height="6.0" rx="0.8" fill="#b4b8c0" transform="rotate(10.8 231.8 648.9)"/>
<rect x="226.8" y="654.1" width="6.8" height="6.0" rx="0.8" fill="#b4b8c0" transform="rotate(10.8 230.2 657.1)"/>
<rect x="225.2" y="662.3" width="6.8" height="6.0" rx="0.8" fill="#b4b8c0" transform="rotate(10.8 228.6 665.3)"/>
<rect x="223.6" y="670.5" width="6.8" height="6.0" rx="0.8" fill="#b4b8c0" transform="rotate(10.8 227.0 673.5)"/>
<rect x="222.0" y="678.7" width="6.8" height="6.0" rx="0.8" fill="#b4b8c0" transform="rotate(10.8 225.4 681.7)"/>
<rect x="220.4" y="686.9" width="6.8" height="6.0" rx="0.8" fill="#b4b8c0" transform="rotate(10.8 223.8 689.9)"/>
<rect x="236.8" y="647.5" width="6.8" height="6.0" rx="0.8" fill="#b4b8c0" transform="rotate(10.8 240.2 650.5)"/>
<rect x="235.2" y="655.7" width="6.8" height="6.0" rx="0.8" fill="#b4b8c0" transform="rotate(10.8 238.6 658.7)"/>
<rect x="233.6" y="663.9" width="6.8" height="6.0" rx="0.8" fill="#b4b8c0" transform="rotate(10.8 237.0 666.9)"/>
<rect x="232.0" y="672.1" width="6.8" height="6.0" rx="0.8" fill="#b4b8c0" transform="rotate(10.8 235.4 675.1)"/>
<rect x="230.4" y="680.3" width="6.8" height="6.0" rx="0.8" fill="#b4b8c0" transform="rotate(10.8 233.8 683.3)"/>
<rect x="228.8" y="688.5" width="6.8" height="6.0" rx="0.8" fill="#b4b8c0" transform="rotate(10.8 232.2 691.5)"/>
<rect x="245.2" y="649.1" width="6.8" height="6.0" rx="0.8" fill="#b4b8c0" transform="rotate(10.8 248.6 652.1)"/>
<rect x="243.6" y="657.3" width="6.8" height="6.0" rx="0.8" fill="#b4b8c0" transform="rotate(10.8 247.0 660.3)"/>
<rect x="242.0" y="665.5" width="6.8" height="6.0" rx="0.8" fill="#b4b8c0" transform="rotate(10.8 245.4 668.5)"/>
<rect x="240.4" y="673.7" width="6.8" height="6.0" rx="0.8" fill="#b4b8c0" transform="rotate(10.8 243.8 676.7)"/>
<rect x="238.8" y="681.9" width="6.8" height="6.0" rx="0.8" fill="#b4b8c0" transform="rotate(10.8 242.2 684.9)"/>
<rect x="237.2" y="690.1" width="6.8" height="6.0" rx="0.8" fill="#b4b8c0" transform="rotate(10.8 240.6 693.1)"/>
<rect x="253.6" y="650.7" width="6.8" height="6.0" rx="0.8" fill="#b4b8c0" transform="rotate(10.8 257.0 653.7)"/>
<rect x="252.0" y="658.9" width="6.8" height="6.0" rx="0.8" fill="#b4b8c0" transform="rotate(10.8 255.4 661.9)"/>
<rect x="250.4" y="667.1" width="6.8" height="6.0" rx="0.8" fill="#b4b8c0" transform="rotate(10.8 253.8 670.1)"/>
<rect x="248.8" y="675.3" width="6.8" height="6.0" rx="0.8" fill="#b4b8c0" transform="rotate(10.8 252.2 678.3)"/>
<rect x="247.2" y="683.5" width="6.8" height="6.0" rx="0.8" fill="#b4b8c0" transform="rotate(10.8 250.6 686.5)"/>
<rect x="245.6" y="691.7" width="6.8" height="6.0" rx="0.8" fill="#b4b8c0" transform="rotate(10.8 249.0 694.7)"/>
<rect x="262.0" y="652.3" width="6.8" height="6.0" rx="0.8" fill="#b4b8c0" transform="rotate(10.8 265.4 655.3)"/>
<rect x="260.4" y="660.5" width="6.8" height="6.0" rx="0.8" fill="#b4b8c0" transform="rotate(10.8 263.8 663.5)"/>
<rect x="258.8" y="668.7" width="6.8" height="6.0" rx="0.8" fill="#b4b8c0" transform="rotate(10.8 262.2 671.7)"/>
<rect x="257.2" y="676.9" width="6.8" height="6.0" rx="0.8" fill="#b4b8c0" transform="rotate(10.8 260.6 679.9)"/>
<rect x="255.6" y="685.1" width="6.8" height="6.0" rx="0.8" fill="#b4b8c0" transform="rotate(10.8 259.0 688.1)"/>
<rect x="254.0" y="693.3" width="6.8" height="6.0" rx="0.8" fill="#b4b8c0" transform="rotate(10.8 257.4 696.3)"/>
<rect x="270.4" y="653.9" width="6.8" height="6.0" rx="0.8" fill="#b4b8c0" transform="rotate(10.8 273.8 656.9)"/>
<rect x="268.8" y="662.1" width="6.8" height="6.0" rx="0.8" fill="#b4b8c0" transform="rotate(10.8 272.2 665.1)"/>
<rect x="267.2" y="670.3" width="6.8" height="6.0" rx="0.8" fill="#b4b8c0" transform="rotate(10.8 270.6 673.3)"/>
<rect x="265.6" y="678.5" width="6.8" height="6.0" rx="0.8" fill="#b4b8c0" transform="rotate(10.8 269.0 681.5)"/>
<rect x="264.0" y="686.7" width="6.8" height="6.0" rx="0.8" fill="#b4b8c0" transform="rotate(10.8 267.4 689.7)"/>
<rect x="262.4" y="694.9" width="6.8" height="6.0" rx="0.8" fill="#b4b8c0" transform="rotate(10.8 265.8 697.9)"/>
<rect x="278.8" y="655.5" width="6.8" height="6.0" rx="0.8" fill="#b4b8c0" transform="rotate(10.8 282.2 658.5)"/>
<rect x="277.2" y="663.7" width="6.8" height="6.0" rx="0.8" fill="#b4b8c0" transform="rotate(10.8 280.6 666.7)"/>
<rect x="275.6" y="671.9" width="6.8" height="6.0" rx="0.8" fill="#b4b8c0" transform="rotate(10.8 279.0 674.9)"/>
<rect x="274.0" y="680.1" width="6.8" height="6.0" rx="0.8" fill="#b4b8c0" transform="rotate(10.8 277.4 683.1)"/>
<rect x="272.4" y="688.3" width="6.8" height="6.0" rx="0.8" fill="#b4b8c0" transform="rotate(10.8 275.8 691.3)"/>
<rect x="270.8" y="696.5" width="6.8" height="6.0" rx="0.8" fill="#b4b8c0" transform="rotate(10.8 274.2 699.5)"/>
<rect x="287.2" y="657.1" width="6.8" height="6.0" rx="0.8" fill="#b4b8c0" transform="rotate(10.8 290.6 660.1)"/>
<rect x="285.6" y="665.3" width="6.8" height="6.0" rx="0.8" fill="#b4b8c0" transform="rotate(10.8 289.0 668.3)"/>
<rect x="284.0" y="673.5" width="6.8" height="6.0" rx="0.8" fill="#b4b8c0" transform="rotate(10.8 287.4 676.5)"/>
<rect x="282.4" y="681.7" width="6.8" height="6.0" rx="0.8" fill="#b4b8c0" transform="rotate(10.8 285.8 684.7)"/>
<rect x="280.8" y="689.9" width="6.8" height="6.0" rx="0.8" fill="#b4b8c0" transform="rotate(10.8 284.2 692.9)"/>
<rect x="279.2" y="698.1" width="6.8" height="6.0" rx="0.8" fill="#b4b8c0" transform="rotate(10.8 282.6 701.1)"/>
<rect x="295.6" y="658.7" width="6.8" height="6.0" rx="0.8" fill="#b4b8c0" transform="rotate(10.8 299.0 661.7)"/>
<rect x="294.0" y="666.9" width="6.8" height="6.0" rx="0.8" fill="#b4b8c0" transform="rotate(10.8 297.4 669.9)"/>
<rect x="292.4" y="675.1" width="6.8" height="6.0" rx="0.8" fill="#b4b8c0" transform="rotate(10.8 295.8 678.1)"/>
<rect x="290.8" y="683.3" width="6.8" height="6.0" rx="0.8" fill="#b4b8c0" transform="rotate(10.8 294.2 686.3)"/>
<rect x="289.2" y="691.5" width="6.8" height="6.0" rx="0.8" fill="#b4b8c0" transform="rotate(10.8 292.6 694.5)"/>
<rect x="287.6" y="699.7" width="6.8" height="6.0" rx="0.8" fill="#b4b8c0" transform="rotate(10.8 291.0 702.7)"/>
</g>
<g filter="url(#blur2)">
<polygon points="289.8,656.9 301.8,654.9 301.8,684.9 291.8,684.9" fill="#4a4c56"/>
</g>
<g>
<rect x="291.1" y="660.1" width="5.5" height="5.5" rx="0.8" fill="#2e3038" transform="rotate(0.0 293.8 662.9)"/>
<rect x="291.1" y="667.6" width="5.5" height="5.5" rx="0.8" fill="#2e3038" transform="rotate(0.0 293.8 670.4)"/>
<rect x="291.1" y="675.1" width="5.5" height="5.5" rx="0.8" fill="#2e3038" transform="rotate(0.0 293.8 677.9)"/>
<rect x="291.1" y="682.6" width="5.5" height="5.5" rx="0.8" fill="#2e3038" transform="rotate(0.0 293.8 685.4)"/>
<rect x="298.1" y="660.1" width="5.5" height="5.5" rx="0.8" fill="#2e3038" transform="rotate(0.0 300.8 662.9)"/>
<rect x="298.1" y="667.6" width="5.5" height="5.5" rx="0.8" fill="#2e3038" transform="rotate(0.0 300.8 670.4)"/>
<rect x="298.1" y="675.1" width="5.5" height="5.5" rx="0.8" fill="#2e3038" transform="rotate(0.0 300.8 677.9)"/>
<rect x="298.1" y="682.6" width="5.5" height="5.5" rx="0.8" fill="#2e3038" transform="rotate(0.0 300.8 685.4)"/>
</g>
<g filter="url(#blur2)">
<polygon points="213.8,678.9 247.8,684.9 249.8,699.9 213.8,699.9" fill="#d6d0c8"/>
<polygon points="257.8,685.9 279.8,689.9 279.8,694.9 257.8,692.9" fill="#5e5e66"/>
<polyline points="209.8,618.9 223.8,628.9 241.8,638.9" fill="none" stroke="#2084cc" stroke-width="24.6" stroke-linecap="round" stroke-linejoin="round"/>
<polyline points="209.8,618.9 223.8,628.9 241.8,638.9" fill="none" stroke="#42baf0" stroke-width="22.0" stroke-linecap="round" stroke-linejoin="round"/>
<polyline points="206.7,615.8 220.7,625.8 238.7,635.8" fill="none" stroke="#8cdafa" stroke-width="7.7" stroke-linecap="round" stroke-linejoin="round" opacity="0.55"/>
<polyline points="206.5,624.1 220.5,634.1 238.5,644.1" fill="none" stroke="#2084cc" stroke-width="0.8" stroke-linecap="round" opacity="0.45"/>
<polyline points="213.3,613.3 227.3,623.3 245.3,633.3" fill="none" stroke="#2084cc" stroke-width="0.8" stroke-linecap="round" opacity="0.45"/>
<polyline points="269.8,618.9 275.8,625.9" fill="none" stroke="#2084cc" stroke-width="11.6" stroke-linecap="round" stroke-linejoin="round"/>
<polyline points="269.8,618.9 275.8,625.9" fill="none" stroke="#42baf0" stroke-width="9.0" stroke-linecap="round" stroke-linejoin="round"/>
<polyline points="268.5,617.6 274.5,624.6" fill="none" stroke="#8cdafa" stroke-width="3.1" stroke-linecap="round" stroke-linejoin="round" opacity="0.55"/>
<polyline points="267.9,620.5 273.9,627.5" fill="none" stroke="#2084cc" stroke-width="0.8" stroke-linecap="round" opacity="0.45"/>
<polyline points="271.8,617.1 277.8,624.1" fill="none" stroke="#2084cc" stroke-width="0.8" stroke-linecap="round" opacity="0.45"/>
<polyline points="305.8,640.9 297.8,646.9" fill="none" stroke="#2084cc" stroke-width="10.6" stroke-linecap="round" stroke-linejoin="round"/>
<polyline points="305.8,640.9 297.8,646.9" fill="none" stroke="#42baf0" stroke-width="8.0" stroke-linecap="round" stroke-linejoin="round"/>
<polyline points="304.7,639.8 296.7,645.8" fill="none" stroke="#8cdafa" stroke-width="2.8" stroke-linecap="round" stroke-linejoin="round" opacity="0.55"/>
<polyline points="304.5,639.1 296.5,645.1" fill="none" stroke="#2084cc" stroke-width="0.8" stroke-linecap="round" opacity="0.45"/>
<polyline points="307.2,642.8 299.2,648.8" fill="none" stroke="#2084cc" stroke-width="0.8" stroke-linecap="round" opacity="0.45"/>
<ellipse cx="297.8" cy="651.9" rx="3.5" ry="3.5" transform="rotate(0 297.8 651.9)" fill="#303038"/>
<polyline points="210.8,660.9 214.8,666.9" fill="none" stroke="#2084cc" stroke-width="7.6" stroke-linecap="round" stroke-linejoin="round"/>
<polyline points="210.8,660.9 214.8,666.9" fill="none" stroke="#42baf0" stroke-width="5.0" stroke-linecap="round" stroke-linejoin="round"/>
<polyline points="210.1,660.2 214.1,666.2" fill="none" stroke="#8cdafa" stroke-width="1.8" stroke-linecap="round" stroke-linejoin="round" opacity="0.55"/>
<polyline points="209.6,661.7 213.6,667.7" fill="none" stroke="#2084cc" stroke-width="0.8" stroke-linecap="round" opacity="0.45"/>
<polyline points="212.0,660.1 216.0,666.1" fill="none" stroke="#2084cc" stroke-width="0.8" stroke-linecap="round" opacity="0.45"/>
<polyline points="305.8,688.9 289.8,692.9 279.8,698.9" fill="none" stroke="#2084cc" stroke-width="20.6" stroke-linecap="round" stroke-linejoin="round"/>
<polyline points="305.8,688.9 289.8,692.9 279.8,698.9" fill="none" stroke="#42baf0" stroke-width="18.0" stroke-linecap="round" stroke-linejoin="round"/>
<polyline points="303.3,686.4 287.3,690.4 277.3,696.4" fill="none" stroke="#8cdafa" stroke-width="6.3" stroke-linecap="round" stroke-linejoin="round" opacity="0.55"/>
<polyline points="304.0,684.2 288.0,688.2 278.0,694.2" fill="none" stroke="#2084cc" stroke-width="0.8" stroke-linecap="round" opacity="0.45"/>
<polyline points="307.7,693.9 291.7,697.9 281.7,703.9" fill="none" stroke="#2084cc" stroke-width="0.8" stroke-linecap="round" opacity="0.45"/>
<polyline points="227.8,704.9 243.8,696.9" fill="none" stroke="#2084cc" stroke-width="14.6" stroke-linecap="round" stroke-linejoin="round"/>
<polyline points="227.8,704.9 243.8,696.9" fill="none" stroke="#42baf0" stroke-width="12.0" stroke-linecap="round" stroke-linejoin="round"/>
<polyline points="226.1,703.2 242.1,695.2" fill="none" stroke="#8cdafa" stroke-width="4.2" stroke-linecap="round" stroke-linejoin="round" opacity="0.55"/>
<polyline points="229.3,707.9 245.3,699.9" fill="none" stroke="#2084cc" stroke-width="0.8" stroke-linecap="round" opacity="0.45"/>
<polyline points="226.2,701.7 242.2,693.7" fill="none" stroke="#2084cc" stroke-width="0.8" stroke-linecap="round" opacity="0.45"/>
</g></g>
<polyline points="54.4,523 54.4,510.5 65.4,510.5" fill="none" stroke="#222" stroke-width="1"/>
<text x="67.70" y="515.20" font-size="9.6" text-anchor="start" fill="#1a1a1a" >After heating at 80 <tspan font-size="6" dy="-3">o</tspan><tspan dy="3">C</tspan></text>
<line x1="178.30" y1="511.60" x2="202.00" y2="511.60" stroke="#111" stroke-width="1.2" />
<polygon points="207.40,511.60 201.40,509.40 201.40,513.80" fill="#111"/>
<rect x="210.70" y="502.70" width="89.70" height="17.60" fill="#e8e8e8" stroke="#333" stroke-width="1" />
<text x="255.60" y="515.30" font-size="9.6" text-anchor="middle" fill="#1a1a1a" >Strain&gt;1800%</text>
<polyline points="54.4,622.5 54.4,609.5 65.4,609.5" fill="none" stroke="#222" stroke-width="1"/>
<text x="67.70" y="614.90" font-size="9.6" text-anchor="start" fill="#1a1a1a" >After cooling at -35 <tspan font-size="6" dy="-3">o</tspan><tspan dy="3">C</tspan></text>
<line x1="178.30" y1="610.60" x2="202.00" y2="610.60" stroke="#111" stroke-width="1.2" />
<polygon points="207.40,610.60 201.40,608.40 201.40,612.80" fill="#111"/>
<rect x="210.70" y="602.40" width="89.70" height="17.60" fill="#e8e8e8" stroke="#333" stroke-width="1" />
<text x="255.60" y="615.00" font-size="9.6" text-anchor="middle" fill="#1a1a1a" >Strain&gt;1800%</text></svg>
</body></html>
